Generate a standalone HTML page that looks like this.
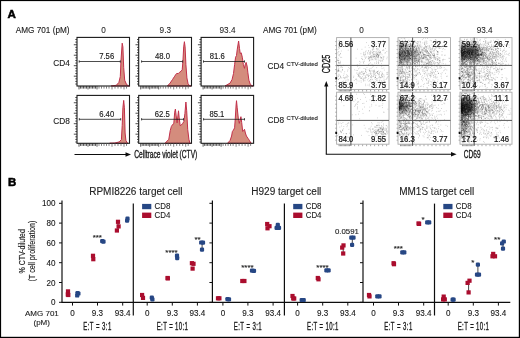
<!DOCTYPE html><html><head><meta charset="utf-8"><style>html,body{margin:0;padding:0;background:#fff;overflow:hidden}svg{display:block;font-family:"Liberation Sans",sans-serif}</style></head><body><svg width="520" height="338" viewBox="0 0 520 338" font-family="Liberation Sans, sans-serif"><defs><filter id="gb" x="0" y="0" width="100%" height="100%"><feGaussianBlur stdDeviation="0.3"/></filter></defs><g filter="url(#gb)"><rect width="520" height="338" fill="#fff"/><text x="7.5" y="17.5" font-size="11.6" text-anchor="start" fill="#000" font-weight="bold" stroke="#000" stroke-width="0.5" >A</text>
<text x="15.8" y="32.6" font-size="8.2" text-anchor="start" fill="#222" stroke="#222" stroke-width="0.12" >AMG 701 (pM)</text>
<text x="103.45" y="32.9" font-size="8.9" text-anchor="middle" fill="#1a1a1a" textLength="4.56" lengthAdjust="spacingAndGlyphs" stroke="#1a1a1a" stroke-width="0.05">0</text>
<text x="165.3" y="32.9" font-size="8.9" text-anchor="middle" fill="#1a1a1a" textLength="11.4" lengthAdjust="spacingAndGlyphs" stroke="#1a1a1a" stroke-width="0.05">9.3</text>
<text x="227.55" y="32.9" font-size="8.9" text-anchor="middle" fill="#1a1a1a" textLength="15.96" lengthAdjust="spacingAndGlyphs" stroke="#1a1a1a" stroke-width="0.05">93.4</text>
<text x="53.2" y="66.4" font-size="8.3" text-anchor="start" fill="#222" stroke="#222" stroke-width="0.12" >CD4</text>
<text x="53.2" y="124" font-size="8.3" text-anchor="start" fill="#222" stroke="#222" stroke-width="0.12" >CD8</text>
<path d="M111.1 86 L116.3 85.3 L118.9 82.4 L120.3 76.5 L121 60.2 L122.2 43.2 L122.9 46.9 L123.7 67.6 L124.7 80.2 L126.6 84.6 L128.6 85.8 L129.5 86Z" fill="#d48c7d" stroke="#c2304a" stroke-width="1" stroke-linejoin="round"/>
<rect x="77" y="37.4" width="52.5" height="48.6" fill="none" stroke="#1a1a1a" stroke-width="1.1"/>
<line x1="75.3" y1="39.5" x2="77" y2="39.5" stroke="#222" stroke-width="0.8"/>
<line x1="75.3" y1="42.12" x2="77" y2="42.12" stroke="#222" stroke-width="0.8"/>
<line x1="73.8" y1="44.74" x2="77" y2="44.74" stroke="#222" stroke-width="0.8"/>
<line x1="75.3" y1="47.36" x2="77" y2="47.36" stroke="#222" stroke-width="0.8"/>
<line x1="75.3" y1="49.98" x2="77" y2="49.98" stroke="#222" stroke-width="0.8"/>
<line x1="75.3" y1="52.6" x2="77" y2="52.6" stroke="#222" stroke-width="0.8"/>
<line x1="73.8" y1="55.22" x2="77" y2="55.22" stroke="#222" stroke-width="0.8"/>
<line x1="75.3" y1="57.84" x2="77" y2="57.84" stroke="#222" stroke-width="0.8"/>
<line x1="75.3" y1="60.46" x2="77" y2="60.46" stroke="#222" stroke-width="0.8"/>
<line x1="75.3" y1="63.08" x2="77" y2="63.08" stroke="#222" stroke-width="0.8"/>
<line x1="73.8" y1="65.7" x2="77" y2="65.7" stroke="#222" stroke-width="0.8"/>
<line x1="75.3" y1="68.32" x2="77" y2="68.32" stroke="#222" stroke-width="0.8"/>
<line x1="75.3" y1="70.94" x2="77" y2="70.94" stroke="#222" stroke-width="0.8"/>
<line x1="75.3" y1="73.56" x2="77" y2="73.56" stroke="#222" stroke-width="0.8"/>
<line x1="73.8" y1="76.18" x2="77" y2="76.18" stroke="#222" stroke-width="0.8"/>
<line x1="75.3" y1="78.8" x2="77" y2="78.8" stroke="#222" stroke-width="0.8"/>
<line x1="75.3" y1="81.42" x2="77" y2="81.42" stroke="#222" stroke-width="0.8"/>
<line x1="75.3" y1="84.04" x2="77" y2="84.04" stroke="#222" stroke-width="0.8"/>
<line x1="79" y1="86" x2="79" y2="89.4" stroke="#222" stroke-width="0.75"/>
<line x1="80.5" y1="86" x2="80.5" y2="88.6" stroke="#222" stroke-width="0.75"/>
<line x1="82" y1="86" x2="82" y2="88.6" stroke="#222" stroke-width="0.75"/>
<line x1="83.5" y1="86" x2="83.5" y2="88.6" stroke="#222" stroke-width="0.75"/>
<line x1="85" y1="86" x2="85" y2="88.6" stroke="#222" stroke-width="0.75"/>
<line x1="86.5" y1="86" x2="86.5" y2="88.6" stroke="#222" stroke-width="0.75"/>
<line x1="88" y1="86" x2="88" y2="89.4" stroke="#222" stroke-width="0.75"/>
<line x1="89.5" y1="86" x2="89.5" y2="88.6" stroke="#222" stroke-width="0.75"/>
<line x1="91" y1="86" x2="91" y2="88.6" stroke="#222" stroke-width="0.75"/>
<line x1="92.5" y1="86" x2="92.5" y2="88.6" stroke="#222" stroke-width="0.75"/>
<line x1="94" y1="86" x2="94" y2="88.6" stroke="#222" stroke-width="0.75"/>
<line x1="95.5" y1="86" x2="95.5" y2="88.6" stroke="#222" stroke-width="0.75"/>
<line x1="97" y1="86" x2="97" y2="89.4" stroke="#222" stroke-width="0.75"/>
<line x1="99" y1="86" x2="99" y2="88.6" stroke="#555" stroke-width="0.75"/>
<line x1="101.5" y1="86" x2="101.5" y2="88.6" stroke="#555" stroke-width="0.75"/>
<line x1="104" y1="86" x2="104" y2="88.6" stroke="#555" stroke-width="0.75"/>
<line x1="106.5" y1="86" x2="106.5" y2="88.6" stroke="#555" stroke-width="0.75"/>
<line x1="109" y1="86" x2="109" y2="88.6" stroke="#555" stroke-width="0.75"/>
<line x1="112" y1="86" x2="112" y2="89.4" stroke="#555" stroke-width="0.75"/>
<line x1="115" y1="86" x2="115" y2="88.6" stroke="#555" stroke-width="0.75"/>
<line x1="118" y1="86" x2="118" y2="88.6" stroke="#555" stroke-width="0.75"/>
<line x1="121" y1="86" x2="121" y2="88.6" stroke="#555" stroke-width="0.75"/>
<line x1="124" y1="86" x2="124" y2="89.4" stroke="#555" stroke-width="0.75"/>
<line x1="126.5" y1="86" x2="126.5" y2="88.6" stroke="#555" stroke-width="0.75"/>
<line x1="79.2" y1="61.5" x2="120.3" y2="61.5" stroke="#111" stroke-width="0.75"/>
<line x1="79.2" y1="60.4" x2="79.2" y2="62.6" stroke="#2a2a2a" stroke-width="0.9"/>
<line x1="120.3" y1="60.4" x2="120.3" y2="62.6" stroke="#2a2a2a" stroke-width="0.9"/>
<text x="106.7" y="58.9" font-size="8.7" text-anchor="middle" fill="#1a1a1a" textLength="14.98" lengthAdjust="spacingAndGlyphs" stroke="#1a1a1a" stroke-width="0.15">7.56</text>
<path d="M167.4 86 L170.1 83.1 L172.6 79.4 L174.3 76.8 L176 74.2 L177 73.2 L178 73.8 L179.5 72.3 L181 71.3 L182.2 69.8 L182.9 61.7 L183.7 46.9 L184.4 41.7 L185.1 46.9 L185.9 64.6 L186.9 77.9 L188.1 83.9 L189.6 85.6 L191 86Z" fill="#d48c7d" stroke="#c2304a" stroke-width="1" stroke-linejoin="round"/>
<rect x="138.7" y="37.4" width="52.8" height="48.6" fill="none" stroke="#1a1a1a" stroke-width="1.1"/>
<line x1="137" y1="39.5" x2="138.7" y2="39.5" stroke="#222" stroke-width="0.8"/>
<line x1="137" y1="42.12" x2="138.7" y2="42.12" stroke="#222" stroke-width="0.8"/>
<line x1="135.5" y1="44.74" x2="138.7" y2="44.74" stroke="#222" stroke-width="0.8"/>
<line x1="137" y1="47.36" x2="138.7" y2="47.36" stroke="#222" stroke-width="0.8"/>
<line x1="137" y1="49.98" x2="138.7" y2="49.98" stroke="#222" stroke-width="0.8"/>
<line x1="137" y1="52.6" x2="138.7" y2="52.6" stroke="#222" stroke-width="0.8"/>
<line x1="135.5" y1="55.22" x2="138.7" y2="55.22" stroke="#222" stroke-width="0.8"/>
<line x1="137" y1="57.84" x2="138.7" y2="57.84" stroke="#222" stroke-width="0.8"/>
<line x1="137" y1="60.46" x2="138.7" y2="60.46" stroke="#222" stroke-width="0.8"/>
<line x1="137" y1="63.08" x2="138.7" y2="63.08" stroke="#222" stroke-width="0.8"/>
<line x1="135.5" y1="65.7" x2="138.7" y2="65.7" stroke="#222" stroke-width="0.8"/>
<line x1="137" y1="68.32" x2="138.7" y2="68.32" stroke="#222" stroke-width="0.8"/>
<line x1="137" y1="70.94" x2="138.7" y2="70.94" stroke="#222" stroke-width="0.8"/>
<line x1="137" y1="73.56" x2="138.7" y2="73.56" stroke="#222" stroke-width="0.8"/>
<line x1="135.5" y1="76.18" x2="138.7" y2="76.18" stroke="#222" stroke-width="0.8"/>
<line x1="137" y1="78.8" x2="138.7" y2="78.8" stroke="#222" stroke-width="0.8"/>
<line x1="137" y1="81.42" x2="138.7" y2="81.42" stroke="#222" stroke-width="0.8"/>
<line x1="137" y1="84.04" x2="138.7" y2="84.04" stroke="#222" stroke-width="0.8"/>
<line x1="140.7" y1="86" x2="140.7" y2="89.4" stroke="#222" stroke-width="0.75"/>
<line x1="142.2" y1="86" x2="142.2" y2="88.6" stroke="#222" stroke-width="0.75"/>
<line x1="143.7" y1="86" x2="143.7" y2="88.6" stroke="#222" stroke-width="0.75"/>
<line x1="145.2" y1="86" x2="145.2" y2="88.6" stroke="#222" stroke-width="0.75"/>
<line x1="146.7" y1="86" x2="146.7" y2="88.6" stroke="#222" stroke-width="0.75"/>
<line x1="148.2" y1="86" x2="148.2" y2="88.6" stroke="#222" stroke-width="0.75"/>
<line x1="149.7" y1="86" x2="149.7" y2="89.4" stroke="#222" stroke-width="0.75"/>
<line x1="151.2" y1="86" x2="151.2" y2="88.6" stroke="#222" stroke-width="0.75"/>
<line x1="152.7" y1="86" x2="152.7" y2="88.6" stroke="#222" stroke-width="0.75"/>
<line x1="154.2" y1="86" x2="154.2" y2="88.6" stroke="#222" stroke-width="0.75"/>
<line x1="155.7" y1="86" x2="155.7" y2="88.6" stroke="#222" stroke-width="0.75"/>
<line x1="157.2" y1="86" x2="157.2" y2="88.6" stroke="#222" stroke-width="0.75"/>
<line x1="158.7" y1="86" x2="158.7" y2="89.4" stroke="#222" stroke-width="0.75"/>
<line x1="160.7" y1="86" x2="160.7" y2="88.6" stroke="#555" stroke-width="0.75"/>
<line x1="163.2" y1="86" x2="163.2" y2="88.6" stroke="#555" stroke-width="0.75"/>
<line x1="165.7" y1="86" x2="165.7" y2="88.6" stroke="#555" stroke-width="0.75"/>
<line x1="168.2" y1="86" x2="168.2" y2="88.6" stroke="#555" stroke-width="0.75"/>
<line x1="170.7" y1="86" x2="170.7" y2="88.6" stroke="#555" stroke-width="0.75"/>
<line x1="173.7" y1="86" x2="173.7" y2="89.4" stroke="#555" stroke-width="0.75"/>
<line x1="176.7" y1="86" x2="176.7" y2="88.6" stroke="#555" stroke-width="0.75"/>
<line x1="179.7" y1="86" x2="179.7" y2="88.6" stroke="#555" stroke-width="0.75"/>
<line x1="182.7" y1="86" x2="182.7" y2="88.6" stroke="#555" stroke-width="0.75"/>
<line x1="185.7" y1="86" x2="185.7" y2="89.4" stroke="#555" stroke-width="0.75"/>
<line x1="188.2" y1="86" x2="188.2" y2="88.6" stroke="#555" stroke-width="0.75"/>
<line x1="141.6" y1="61.5" x2="182.6" y2="61.5" stroke="#111" stroke-width="0.75"/>
<line x1="141.6" y1="60.4" x2="141.6" y2="62.6" stroke="#2a2a2a" stroke-width="0.9"/>
<line x1="182.6" y1="60.4" x2="182.6" y2="62.6" stroke="#2a2a2a" stroke-width="0.9"/>
<text x="162.5" y="58.9" font-size="8.7" text-anchor="middle" fill="#1a1a1a" textLength="14.98" lengthAdjust="spacingAndGlyphs" stroke="#1a1a1a" stroke-width="0.15">48.0</text>
<path d="M225 86 L230.1 83.1 L232.1 79.4 L233.5 73.5 L234.6 64.6 L235.6 57.2 L236.5 55.5 L237.2 49.8 L238.6 41 L239.5 48.4 L240.2 53.5 L241.2 52.8 L242.3 57.2 L243.4 64.6 L244.5 68.3 L245.4 63.9 L246.1 62.4 L247.1 66.1 L247.9 72.8 L248.9 80.2 L250.4 84.6 L252.3 85.8 L253 86Z" fill="#d48c7d" stroke="#c2304a" stroke-width="1" stroke-linejoin="round"/>
<rect x="201.1" y="37.4" width="52.5" height="48.6" fill="none" stroke="#1a1a1a" stroke-width="1.1"/>
<line x1="199.4" y1="39.5" x2="201.1" y2="39.5" stroke="#222" stroke-width="0.8"/>
<line x1="199.4" y1="42.12" x2="201.1" y2="42.12" stroke="#222" stroke-width="0.8"/>
<line x1="197.9" y1="44.74" x2="201.1" y2="44.74" stroke="#222" stroke-width="0.8"/>
<line x1="199.4" y1="47.36" x2="201.1" y2="47.36" stroke="#222" stroke-width="0.8"/>
<line x1="199.4" y1="49.98" x2="201.1" y2="49.98" stroke="#222" stroke-width="0.8"/>
<line x1="199.4" y1="52.6" x2="201.1" y2="52.6" stroke="#222" stroke-width="0.8"/>
<line x1="197.9" y1="55.22" x2="201.1" y2="55.22" stroke="#222" stroke-width="0.8"/>
<line x1="199.4" y1="57.84" x2="201.1" y2="57.84" stroke="#222" stroke-width="0.8"/>
<line x1="199.4" y1="60.46" x2="201.1" y2="60.46" stroke="#222" stroke-width="0.8"/>
<line x1="199.4" y1="63.08" x2="201.1" y2="63.08" stroke="#222" stroke-width="0.8"/>
<line x1="197.9" y1="65.7" x2="201.1" y2="65.7" stroke="#222" stroke-width="0.8"/>
<line x1="199.4" y1="68.32" x2="201.1" y2="68.32" stroke="#222" stroke-width="0.8"/>
<line x1="199.4" y1="70.94" x2="201.1" y2="70.94" stroke="#222" stroke-width="0.8"/>
<line x1="199.4" y1="73.56" x2="201.1" y2="73.56" stroke="#222" stroke-width="0.8"/>
<line x1="197.9" y1="76.18" x2="201.1" y2="76.18" stroke="#222" stroke-width="0.8"/>
<line x1="199.4" y1="78.8" x2="201.1" y2="78.8" stroke="#222" stroke-width="0.8"/>
<line x1="199.4" y1="81.42" x2="201.1" y2="81.42" stroke="#222" stroke-width="0.8"/>
<line x1="199.4" y1="84.04" x2="201.1" y2="84.04" stroke="#222" stroke-width="0.8"/>
<line x1="203.1" y1="86" x2="203.1" y2="89.4" stroke="#222" stroke-width="0.75"/>
<line x1="204.6" y1="86" x2="204.6" y2="88.6" stroke="#222" stroke-width="0.75"/>
<line x1="206.1" y1="86" x2="206.1" y2="88.6" stroke="#222" stroke-width="0.75"/>
<line x1="207.6" y1="86" x2="207.6" y2="88.6" stroke="#222" stroke-width="0.75"/>
<line x1="209.1" y1="86" x2="209.1" y2="88.6" stroke="#222" stroke-width="0.75"/>
<line x1="210.6" y1="86" x2="210.6" y2="88.6" stroke="#222" stroke-width="0.75"/>
<line x1="212.1" y1="86" x2="212.1" y2="89.4" stroke="#222" stroke-width="0.75"/>
<line x1="213.6" y1="86" x2="213.6" y2="88.6" stroke="#222" stroke-width="0.75"/>
<line x1="215.1" y1="86" x2="215.1" y2="88.6" stroke="#222" stroke-width="0.75"/>
<line x1="216.6" y1="86" x2="216.6" y2="88.6" stroke="#222" stroke-width="0.75"/>
<line x1="218.1" y1="86" x2="218.1" y2="88.6" stroke="#222" stroke-width="0.75"/>
<line x1="219.6" y1="86" x2="219.6" y2="88.6" stroke="#222" stroke-width="0.75"/>
<line x1="221.1" y1="86" x2="221.1" y2="89.4" stroke="#222" stroke-width="0.75"/>
<line x1="223.1" y1="86" x2="223.1" y2="88.6" stroke="#555" stroke-width="0.75"/>
<line x1="225.6" y1="86" x2="225.6" y2="88.6" stroke="#555" stroke-width="0.75"/>
<line x1="228.1" y1="86" x2="228.1" y2="88.6" stroke="#555" stroke-width="0.75"/>
<line x1="230.6" y1="86" x2="230.6" y2="88.6" stroke="#555" stroke-width="0.75"/>
<line x1="233.1" y1="86" x2="233.1" y2="88.6" stroke="#555" stroke-width="0.75"/>
<line x1="236.1" y1="86" x2="236.1" y2="89.4" stroke="#555" stroke-width="0.75"/>
<line x1="239.1" y1="86" x2="239.1" y2="88.6" stroke="#555" stroke-width="0.75"/>
<line x1="242.1" y1="86" x2="242.1" y2="88.6" stroke="#555" stroke-width="0.75"/>
<line x1="245.1" y1="86" x2="245.1" y2="88.6" stroke="#555" stroke-width="0.75"/>
<line x1="248.1" y1="86" x2="248.1" y2="89.4" stroke="#555" stroke-width="0.75"/>
<line x1="250.6" y1="86" x2="250.6" y2="88.6" stroke="#555" stroke-width="0.75"/>
<line x1="203.5" y1="61.5" x2="244.5" y2="61.5" stroke="#111" stroke-width="0.75"/>
<line x1="203.5" y1="60.4" x2="203.5" y2="62.6" stroke="#2a2a2a" stroke-width="0.9"/>
<line x1="244.5" y1="60.4" x2="244.5" y2="62.6" stroke="#2a2a2a" stroke-width="0.9"/>
<text x="217.2" y="58.9" font-size="8.7" text-anchor="middle" fill="#1a1a1a" textLength="14.98" lengthAdjust="spacingAndGlyphs" stroke="#1a1a1a" stroke-width="0.15">81.6</text>
<path d="M109.6 143.3 L114.8 143.1 L119.2 141.9 L121.4 139.6 L122.2 125.6 L122.9 107.8 L123.7 100.4 L124.4 107.8 L125.1 133 L125.9 140.4 L127.4 143.2 L128 143.3Z" fill="#d48c7d" stroke="#c2304a" stroke-width="1" stroke-linejoin="round"/>
<rect x="77" y="95.4" width="52.5" height="47.9" fill="none" stroke="#1a1a1a" stroke-width="1.1"/>
<line x1="75.3" y1="97.5" x2="77" y2="97.5" stroke="#222" stroke-width="0.8"/>
<line x1="75.3" y1="100.12" x2="77" y2="100.12" stroke="#222" stroke-width="0.8"/>
<line x1="73.8" y1="102.74" x2="77" y2="102.74" stroke="#222" stroke-width="0.8"/>
<line x1="75.3" y1="105.36" x2="77" y2="105.36" stroke="#222" stroke-width="0.8"/>
<line x1="75.3" y1="107.98" x2="77" y2="107.98" stroke="#222" stroke-width="0.8"/>
<line x1="75.3" y1="110.6" x2="77" y2="110.6" stroke="#222" stroke-width="0.8"/>
<line x1="73.8" y1="113.22" x2="77" y2="113.22" stroke="#222" stroke-width="0.8"/>
<line x1="75.3" y1="115.84" x2="77" y2="115.84" stroke="#222" stroke-width="0.8"/>
<line x1="75.3" y1="118.46" x2="77" y2="118.46" stroke="#222" stroke-width="0.8"/>
<line x1="75.3" y1="121.08" x2="77" y2="121.08" stroke="#222" stroke-width="0.8"/>
<line x1="73.8" y1="123.7" x2="77" y2="123.7" stroke="#222" stroke-width="0.8"/>
<line x1="75.3" y1="126.32" x2="77" y2="126.32" stroke="#222" stroke-width="0.8"/>
<line x1="75.3" y1="128.94" x2="77" y2="128.94" stroke="#222" stroke-width="0.8"/>
<line x1="75.3" y1="131.56" x2="77" y2="131.56" stroke="#222" stroke-width="0.8"/>
<line x1="73.8" y1="134.18" x2="77" y2="134.18" stroke="#222" stroke-width="0.8"/>
<line x1="75.3" y1="136.8" x2="77" y2="136.8" stroke="#222" stroke-width="0.8"/>
<line x1="75.3" y1="139.42" x2="77" y2="139.42" stroke="#222" stroke-width="0.8"/>
<line x1="75.3" y1="142.04" x2="77" y2="142.04" stroke="#222" stroke-width="0.8"/>
<line x1="79" y1="143.3" x2="79" y2="146.7" stroke="#222" stroke-width="0.75"/>
<line x1="80.5" y1="143.3" x2="80.5" y2="145.9" stroke="#222" stroke-width="0.75"/>
<line x1="82" y1="143.3" x2="82" y2="145.9" stroke="#222" stroke-width="0.75"/>
<line x1="83.5" y1="143.3" x2="83.5" y2="145.9" stroke="#222" stroke-width="0.75"/>
<line x1="85" y1="143.3" x2="85" y2="145.9" stroke="#222" stroke-width="0.75"/>
<line x1="86.5" y1="143.3" x2="86.5" y2="145.9" stroke="#222" stroke-width="0.75"/>
<line x1="88" y1="143.3" x2="88" y2="146.7" stroke="#222" stroke-width="0.75"/>
<line x1="89.5" y1="143.3" x2="89.5" y2="145.9" stroke="#222" stroke-width="0.75"/>
<line x1="91" y1="143.3" x2="91" y2="145.9" stroke="#222" stroke-width="0.75"/>
<line x1="92.5" y1="143.3" x2="92.5" y2="145.9" stroke="#222" stroke-width="0.75"/>
<line x1="94" y1="143.3" x2="94" y2="145.9" stroke="#222" stroke-width="0.75"/>
<line x1="95.5" y1="143.3" x2="95.5" y2="145.9" stroke="#222" stroke-width="0.75"/>
<line x1="97" y1="143.3" x2="97" y2="146.7" stroke="#222" stroke-width="0.75"/>
<line x1="99" y1="143.3" x2="99" y2="145.9" stroke="#555" stroke-width="0.75"/>
<line x1="101.5" y1="143.3" x2="101.5" y2="145.9" stroke="#555" stroke-width="0.75"/>
<line x1="104" y1="143.3" x2="104" y2="145.9" stroke="#555" stroke-width="0.75"/>
<line x1="106.5" y1="143.3" x2="106.5" y2="145.9" stroke="#555" stroke-width="0.75"/>
<line x1="109" y1="143.3" x2="109" y2="145.9" stroke="#555" stroke-width="0.75"/>
<line x1="112" y1="143.3" x2="112" y2="146.7" stroke="#555" stroke-width="0.75"/>
<line x1="115" y1="143.3" x2="115" y2="145.9" stroke="#555" stroke-width="0.75"/>
<line x1="118" y1="143.3" x2="118" y2="145.9" stroke="#555" stroke-width="0.75"/>
<line x1="121" y1="143.3" x2="121" y2="145.9" stroke="#555" stroke-width="0.75"/>
<line x1="124" y1="143.3" x2="124" y2="146.7" stroke="#555" stroke-width="0.75"/>
<line x1="126.5" y1="143.3" x2="126.5" y2="145.9" stroke="#555" stroke-width="0.75"/>
<line x1="79.3" y1="119.3" x2="120.7" y2="119.3" stroke="#111" stroke-width="0.75"/>
<line x1="79.3" y1="118.2" x2="79.3" y2="120.4" stroke="#2a2a2a" stroke-width="0.9"/>
<line x1="120.7" y1="118.2" x2="120.7" y2="120.4" stroke="#2a2a2a" stroke-width="0.9"/>
<text x="106.7" y="116.7" font-size="8.7" text-anchor="middle" fill="#1a1a1a" textLength="14.98" lengthAdjust="spacingAndGlyphs" stroke="#1a1a1a" stroke-width="0.15">6.40</text>
<path d="M165 143.3 L168.8 139.3 L170.2 130.7 L171.4 126.4 L172.8 124.3 L173.8 123.6 L174.7 112.2 L175.4 109.1 L176.1 115.1 L177.1 122.9 L178.5 110.8 L179.2 117.9 L180.2 125.7 L181.3 125 L182.8 123.3 L183.9 121.5 L184.9 113.6 L185.9 102 L186.7 110.8 L187.7 129.3 L188.9 139.3 L189.9 143.2 L190.5 143.3Z" fill="#d48c7d" stroke="#c2304a" stroke-width="1" stroke-linejoin="round"/>
<rect x="138.7" y="95.4" width="52.8" height="47.9" fill="none" stroke="#1a1a1a" stroke-width="1.1"/>
<line x1="137" y1="97.5" x2="138.7" y2="97.5" stroke="#222" stroke-width="0.8"/>
<line x1="137" y1="100.12" x2="138.7" y2="100.12" stroke="#222" stroke-width="0.8"/>
<line x1="135.5" y1="102.74" x2="138.7" y2="102.74" stroke="#222" stroke-width="0.8"/>
<line x1="137" y1="105.36" x2="138.7" y2="105.36" stroke="#222" stroke-width="0.8"/>
<line x1="137" y1="107.98" x2="138.7" y2="107.98" stroke="#222" stroke-width="0.8"/>
<line x1="137" y1="110.6" x2="138.7" y2="110.6" stroke="#222" stroke-width="0.8"/>
<line x1="135.5" y1="113.22" x2="138.7" y2="113.22" stroke="#222" stroke-width="0.8"/>
<line x1="137" y1="115.84" x2="138.7" y2="115.84" stroke="#222" stroke-width="0.8"/>
<line x1="137" y1="118.46" x2="138.7" y2="118.46" stroke="#222" stroke-width="0.8"/>
<line x1="137" y1="121.08" x2="138.7" y2="121.08" stroke="#222" stroke-width="0.8"/>
<line x1="135.5" y1="123.7" x2="138.7" y2="123.7" stroke="#222" stroke-width="0.8"/>
<line x1="137" y1="126.32" x2="138.7" y2="126.32" stroke="#222" stroke-width="0.8"/>
<line x1="137" y1="128.94" x2="138.7" y2="128.94" stroke="#222" stroke-width="0.8"/>
<line x1="137" y1="131.56" x2="138.7" y2="131.56" stroke="#222" stroke-width="0.8"/>
<line x1="135.5" y1="134.18" x2="138.7" y2="134.18" stroke="#222" stroke-width="0.8"/>
<line x1="137" y1="136.8" x2="138.7" y2="136.8" stroke="#222" stroke-width="0.8"/>
<line x1="137" y1="139.42" x2="138.7" y2="139.42" stroke="#222" stroke-width="0.8"/>
<line x1="137" y1="142.04" x2="138.7" y2="142.04" stroke="#222" stroke-width="0.8"/>
<line x1="140.7" y1="143.3" x2="140.7" y2="146.7" stroke="#222" stroke-width="0.75"/>
<line x1="142.2" y1="143.3" x2="142.2" y2="145.9" stroke="#222" stroke-width="0.75"/>
<line x1="143.7" y1="143.3" x2="143.7" y2="145.9" stroke="#222" stroke-width="0.75"/>
<line x1="145.2" y1="143.3" x2="145.2" y2="145.9" stroke="#222" stroke-width="0.75"/>
<line x1="146.7" y1="143.3" x2="146.7" y2="145.9" stroke="#222" stroke-width="0.75"/>
<line x1="148.2" y1="143.3" x2="148.2" y2="145.9" stroke="#222" stroke-width="0.75"/>
<line x1="149.7" y1="143.3" x2="149.7" y2="146.7" stroke="#222" stroke-width="0.75"/>
<line x1="151.2" y1="143.3" x2="151.2" y2="145.9" stroke="#222" stroke-width="0.75"/>
<line x1="152.7" y1="143.3" x2="152.7" y2="145.9" stroke="#222" stroke-width="0.75"/>
<line x1="154.2" y1="143.3" x2="154.2" y2="145.9" stroke="#222" stroke-width="0.75"/>
<line x1="155.7" y1="143.3" x2="155.7" y2="145.9" stroke="#222" stroke-width="0.75"/>
<line x1="157.2" y1="143.3" x2="157.2" y2="145.9" stroke="#222" stroke-width="0.75"/>
<line x1="158.7" y1="143.3" x2="158.7" y2="146.7" stroke="#222" stroke-width="0.75"/>
<line x1="160.7" y1="143.3" x2="160.7" y2="145.9" stroke="#555" stroke-width="0.75"/>
<line x1="163.2" y1="143.3" x2="163.2" y2="145.9" stroke="#555" stroke-width="0.75"/>
<line x1="165.7" y1="143.3" x2="165.7" y2="145.9" stroke="#555" stroke-width="0.75"/>
<line x1="168.2" y1="143.3" x2="168.2" y2="145.9" stroke="#555" stroke-width="0.75"/>
<line x1="170.7" y1="143.3" x2="170.7" y2="145.9" stroke="#555" stroke-width="0.75"/>
<line x1="173.7" y1="143.3" x2="173.7" y2="146.7" stroke="#555" stroke-width="0.75"/>
<line x1="176.7" y1="143.3" x2="176.7" y2="145.9" stroke="#555" stroke-width="0.75"/>
<line x1="179.7" y1="143.3" x2="179.7" y2="145.9" stroke="#555" stroke-width="0.75"/>
<line x1="182.7" y1="143.3" x2="182.7" y2="145.9" stroke="#555" stroke-width="0.75"/>
<line x1="185.7" y1="143.3" x2="185.7" y2="146.7" stroke="#555" stroke-width="0.75"/>
<line x1="188.2" y1="143.3" x2="188.2" y2="145.9" stroke="#555" stroke-width="0.75"/>
<line x1="141.6" y1="119.3" x2="183.5" y2="119.3" stroke="#111" stroke-width="0.75"/>
<line x1="141.6" y1="118.2" x2="141.6" y2="120.4" stroke="#2a2a2a" stroke-width="0.9"/>
<line x1="183.5" y1="118.2" x2="183.5" y2="120.4" stroke="#2a2a2a" stroke-width="0.9"/>
<text x="162.3" y="116.7" font-size="8.7" text-anchor="middle" fill="#1a1a1a" textLength="14.98" lengthAdjust="spacingAndGlyphs" stroke="#1a1a1a" stroke-width="0.15">62.5</text>
<path d="M227.6 143.3 L230.1 140.4 L231.6 136 L232.4 131.5 L233.5 130 L234.6 127.8 L235.3 118.2 L236.1 104.9 L236.5 100.7 L237.2 107.8 L238.3 118.2 L239.3 123.4 L240.2 119.7 L240.9 116.7 L241.7 122.6 L242.7 131.5 L243.7 130.3 L244.5 129.3 L245.4 133 L246.4 136 L247.9 138.2 L249.4 140.4 L250.8 143 L251.5 143.3Z" fill="#d48c7d" stroke="#c2304a" stroke-width="1" stroke-linejoin="round"/>
<rect x="201.1" y="95.4" width="52.5" height="47.9" fill="none" stroke="#1a1a1a" stroke-width="1.1"/>
<line x1="199.4" y1="97.5" x2="201.1" y2="97.5" stroke="#222" stroke-width="0.8"/>
<line x1="199.4" y1="100.12" x2="201.1" y2="100.12" stroke="#222" stroke-width="0.8"/>
<line x1="197.9" y1="102.74" x2="201.1" y2="102.74" stroke="#222" stroke-width="0.8"/>
<line x1="199.4" y1="105.36" x2="201.1" y2="105.36" stroke="#222" stroke-width="0.8"/>
<line x1="199.4" y1="107.98" x2="201.1" y2="107.98" stroke="#222" stroke-width="0.8"/>
<line x1="199.4" y1="110.6" x2="201.1" y2="110.6" stroke="#222" stroke-width="0.8"/>
<line x1="197.9" y1="113.22" x2="201.1" y2="113.22" stroke="#222" stroke-width="0.8"/>
<line x1="199.4" y1="115.84" x2="201.1" y2="115.84" stroke="#222" stroke-width="0.8"/>
<line x1="199.4" y1="118.46" x2="201.1" y2="118.46" stroke="#222" stroke-width="0.8"/>
<line x1="199.4" y1="121.08" x2="201.1" y2="121.08" stroke="#222" stroke-width="0.8"/>
<line x1="197.9" y1="123.7" x2="201.1" y2="123.7" stroke="#222" stroke-width="0.8"/>
<line x1="199.4" y1="126.32" x2="201.1" y2="126.32" stroke="#222" stroke-width="0.8"/>
<line x1="199.4" y1="128.94" x2="201.1" y2="128.94" stroke="#222" stroke-width="0.8"/>
<line x1="199.4" y1="131.56" x2="201.1" y2="131.56" stroke="#222" stroke-width="0.8"/>
<line x1="197.9" y1="134.18" x2="201.1" y2="134.18" stroke="#222" stroke-width="0.8"/>
<line x1="199.4" y1="136.8" x2="201.1" y2="136.8" stroke="#222" stroke-width="0.8"/>
<line x1="199.4" y1="139.42" x2="201.1" y2="139.42" stroke="#222" stroke-width="0.8"/>
<line x1="199.4" y1="142.04" x2="201.1" y2="142.04" stroke="#222" stroke-width="0.8"/>
<line x1="203.1" y1="143.3" x2="203.1" y2="146.7" stroke="#222" stroke-width="0.75"/>
<line x1="204.6" y1="143.3" x2="204.6" y2="145.9" stroke="#222" stroke-width="0.75"/>
<line x1="206.1" y1="143.3" x2="206.1" y2="145.9" stroke="#222" stroke-width="0.75"/>
<line x1="207.6" y1="143.3" x2="207.6" y2="145.9" stroke="#222" stroke-width="0.75"/>
<line x1="209.1" y1="143.3" x2="209.1" y2="145.9" stroke="#222" stroke-width="0.75"/>
<line x1="210.6" y1="143.3" x2="210.6" y2="145.9" stroke="#222" stroke-width="0.75"/>
<line x1="212.1" y1="143.3" x2="212.1" y2="146.7" stroke="#222" stroke-width="0.75"/>
<line x1="213.6" y1="143.3" x2="213.6" y2="145.9" stroke="#222" stroke-width="0.75"/>
<line x1="215.1" y1="143.3" x2="215.1" y2="145.9" stroke="#222" stroke-width="0.75"/>
<line x1="216.6" y1="143.3" x2="216.6" y2="145.9" stroke="#222" stroke-width="0.75"/>
<line x1="218.1" y1="143.3" x2="218.1" y2="145.9" stroke="#222" stroke-width="0.75"/>
<line x1="219.6" y1="143.3" x2="219.6" y2="145.9" stroke="#222" stroke-width="0.75"/>
<line x1="221.1" y1="143.3" x2="221.1" y2="146.7" stroke="#222" stroke-width="0.75"/>
<line x1="223.1" y1="143.3" x2="223.1" y2="145.9" stroke="#555" stroke-width="0.75"/>
<line x1="225.6" y1="143.3" x2="225.6" y2="145.9" stroke="#555" stroke-width="0.75"/>
<line x1="228.1" y1="143.3" x2="228.1" y2="145.9" stroke="#555" stroke-width="0.75"/>
<line x1="230.6" y1="143.3" x2="230.6" y2="145.9" stroke="#555" stroke-width="0.75"/>
<line x1="233.1" y1="143.3" x2="233.1" y2="145.9" stroke="#555" stroke-width="0.75"/>
<line x1="236.1" y1="143.3" x2="236.1" y2="146.7" stroke="#555" stroke-width="0.75"/>
<line x1="239.1" y1="143.3" x2="239.1" y2="145.9" stroke="#555" stroke-width="0.75"/>
<line x1="242.1" y1="143.3" x2="242.1" y2="145.9" stroke="#555" stroke-width="0.75"/>
<line x1="245.1" y1="143.3" x2="245.1" y2="145.9" stroke="#555" stroke-width="0.75"/>
<line x1="248.1" y1="143.3" x2="248.1" y2="146.7" stroke="#555" stroke-width="0.75"/>
<line x1="250.6" y1="143.3" x2="250.6" y2="145.9" stroke="#555" stroke-width="0.75"/>
<line x1="203.6" y1="119.3" x2="244.5" y2="119.3" stroke="#111" stroke-width="0.75"/>
<line x1="203.6" y1="118.2" x2="203.6" y2="120.4" stroke="#2a2a2a" stroke-width="0.9"/>
<line x1="244.5" y1="118.2" x2="244.5" y2="120.4" stroke="#2a2a2a" stroke-width="0.9"/>
<text x="216.9" y="116.7" font-size="8.7" text-anchor="middle" fill="#1a1a1a" textLength="14.98" lengthAdjust="spacingAndGlyphs" stroke="#1a1a1a" stroke-width="0.15">85.1</text>
<line x1="74.5" y1="154.5" x2="127.5" y2="154.5" stroke="#111" stroke-width="1.1"/>
<path d="M131 154.5 L125.5 152.3 L125.5 156.7 Z" fill="#111"/>
<text x="134.3" y="157.7" font-size="10.0" text-anchor="start" fill="#1a1a1a" textLength="63" lengthAdjust="spacingAndGlyphs" stroke="#1a1a1a" stroke-width="0.35">Celltrace violet (CTV)</text>
<text x="263" y="32.7" font-size="8.2" text-anchor="start" fill="#222" stroke="#222" stroke-width="0.12" >AMG 701 (pM)</text>
<text x="361.5" y="32.9" font-size="8.9" text-anchor="middle" fill="#1a1a1a" textLength="4.56" lengthAdjust="spacingAndGlyphs" stroke="#1a1a1a" stroke-width="0.05">0</text>
<text x="422.95" y="32.9" font-size="8.9" text-anchor="middle" fill="#1a1a1a" textLength="11.4" lengthAdjust="spacingAndGlyphs" stroke="#1a1a1a" stroke-width="0.05">9.3</text>
<text x="484.7" y="32.9" font-size="8.9" text-anchor="middle" fill="#1a1a1a" textLength="15.96" lengthAdjust="spacingAndGlyphs" stroke="#1a1a1a" stroke-width="0.05">93.4</text>
<text x="267.6" y="68.7" font-size="8.3" text-anchor="start" fill="#222" stroke="#222" stroke-width="0.12" >CD4</text>
<text x="286.6" y="65.6" font-size="6.0" text-anchor="start" fill="#222" stroke="#222" stroke-width="0.12" >CTV-diluted</text>
<text x="267.6" y="123.4" font-size="8.3" text-anchor="start" fill="#222" stroke="#222" stroke-width="0.12" >CD8</text>
<text x="286.6" y="120.2" font-size="6.0" text-anchor="start" fill="#222" stroke="#222" stroke-width="0.12" >CTV-diluted</text>
<defs><filter id="bl" x="-5%" y="-5%" width="110%" height="110%"><feGaussianBlur stdDeviation="0.3"/></filter></defs><g filter="url(#bl)">
<path d="M374.2 58.2h0.7M385.0 52.7h0.7M367.9 59.1h0.7M380.3 57.9h0.7M376.4 59.7h0.7M383.7 56.8h0.7M372.2 58.0h0.7M381.6 60.9h0.7M367.0 52.6h0.7M361.6 49.3h0.7M376.7 54.8h0.7M377.7 55.6h0.7M371.6 59.5h0.7M369.9 51.0h0.7M366.1 42.6h0.7M369.5 59.8h0.7M375.2 57.5h0.7M374.7 56.3h0.7M368.9 52.5h0.7M374.1 54.8h0.7M375.8 52.9h0.7M373.1 74.1h0.7M376.4 67.7h0.7M384.1 80.1h0.7M377.1 71.6h0.7M365.4 78.7h0.7M372.8 73.2h0.7M381.5 76.4h0.7M378.6 77.3h0.7M379.1 82.0h0.7M365.0 71.8h0.7M363.6 75.3h0.7M377.2 73.3h0.7M372.4 82.4h0.7M376.3 72.4h0.7M370.4 71.2h0.7M378.9 80.7h0.7M374.3 74.5h0.7M377.5 73.2h0.7M370.5 74.1h0.7M363.7 73.4h0.7M341.9 70.5h0.7M337.5 65.7h0.7M339.1 40.3h0.7M338.5 70.7h0.7M338.3 76.3h0.7M340.8 66.1h0.7M351.4 83.0h0.7M346.2 77.2h0.7M340.0 87.4h0.7M344.2 78.1h0.7M343.2 65.3h0.7M387.8 76.5h0.7M365.2 54.4h0.7M365.2 58.5h0.7M353.5 76.2h0.7M407.7 51.8h0.7M406.5 55.9h0.7M405.4 54.0h0.7M410.0 48.2h0.7M411.7 59.6h0.7M404.8 59.1h0.7M401.8 51.2h0.7M409.6 48.0h0.7M399.1 49.9h0.7M406.5 65.0h0.7M405.9 61.6h0.7M405.6 55.7h0.7M402.4 40.3h0.7M406.0 56.0h0.7M419.9 58.0h0.7M402.1 65.8h0.7M413.4 47.2h0.7M404.8 51.6h0.7M401.6 55.2h0.7M400.6 53.2h0.7M406.7 58.0h0.7M417.8 49.6h0.7M399.5 54.4h0.7M415.5 52.0h0.7M405.8 53.9h0.7M398.9 58.8h0.7M399.4 61.6h0.7M402.0 47.8h0.7M412.4 65.6h0.7M410.3 66.2h0.7M416.6 55.7h0.7M399.2 48.8h0.7M399.4 53.2h0.7M399.2 54.6h0.7M405.7 56.7h0.7M402.2 62.5h0.7M405.7 48.5h0.7M405.0 49.7h0.7M412.4 47.1h0.7M400.3 56.1h0.7M409.7 49.7h0.7M404.0 59.4h0.7M405.5 56.4h0.7M417.0 43.3h0.7M414.7 46.5h0.7M400.7 62.8h0.7M408.9 54.4h0.7M412.4 61.9h0.7M411.3 53.6h0.7M409.8 57.9h0.7M417.0 52.1h0.7M407.5 54.9h0.7M416.0 46.3h0.7M405.4 52.9h0.7M398.8 52.7h0.7M409.3 53.5h0.7M402.9 55.5h0.7M403.0 44.7h0.7M404.9 53.0h0.7M400.1 59.8h0.7M417.3 52.5h0.7M415.3 66.1h0.7M407.5 60.8h0.7M408.4 61.4h0.7M402.7 42.5h0.7M403.8 55.0h0.7M399.6 55.0h0.7M403.5 48.0h0.7M405.1 57.3h0.7M399.9 59.0h0.7M413.7 56.7h0.7M411.7 49.3h0.7M413.8 57.0h0.7M409.4 53.6h0.7M406.3 61.4h0.7M413.9 59.0h0.7M418.7 56.9h0.7M402.6 58.0h0.7M400.8 38.5h0.7M398.8 53.9h0.7M409.5 58.8h0.7M410.5 47.7h0.7M422.5 55.4h0.7M408.8 52.3h0.7M400.0 52.1h0.7M399.9 57.2h0.7M406.9 59.7h0.7M401.9 48.8h0.7M418.9 59.3h0.7M408.6 53.0h0.7M398.7 58.5h0.7M398.6 53.9h0.7M400.2 51.0h0.7M399.0 49.6h0.7M400.2 51.9h0.7M415.2 63.4h0.7M408.5 52.8h0.7M416.5 59.8h0.7M403.3 46.9h0.7M403.9 51.3h0.7M404.0 61.2h0.7M405.8 48.0h0.7M408.9 49.7h0.7M401.1 62.5h0.7M408.4 49.0h0.7M402.4 52.0h0.7M409.6 62.4h0.7M401.0 46.2h0.7M403.5 56.7h0.7M406.5 50.4h0.7M414.1 49.2h0.7M404.4 54.3h0.7M409.3 55.5h0.7M416.6 50.7h0.7M398.9 62.7h0.7M402.6 54.3h0.7M411.4 58.7h0.7M401.6 55.8h0.7M408.9 50.0h0.7M407.3 61.1h0.7M412.8 50.0h0.7M398.9 45.5h0.7M418.0 54.0h0.7M399.3 62.2h0.7M402.8 55.9h0.7M411.9 61.9h0.7M409.7 43.4h0.7M404.3 52.6h0.7M412.1 58.7h0.7M399.3 46.2h0.7M411.9 50.3h0.7M400.0 54.9h0.7M403.1 51.5h0.7M400.1 55.8h0.7M405.9 59.2h0.7M405.7 53.2h0.7M405.5 48.2h0.7M402.1 54.2h0.7M417.5 66.3h0.7M405.7 58.1h0.7M404.9 40.5h0.7M405.8 50.9h0.7M401.3 63.2h0.7M406.3 47.5h0.7M406.6 64.4h0.7M408.3 52.4h0.7M413.5 50.0h0.7M416.7 60.2h0.7M419.5 52.1h0.7M404.3 38.5h0.7M407.2 60.3h0.7M414.0 50.7h0.7M412.5 46.8h0.7M406.1 45.4h0.7M402.6 54.2h0.7M402.8 54.7h0.7M402.7 53.6h0.7M406.7 45.3h0.7M411.3 57.5h0.7M407.5 55.5h0.7M415.8 60.8h0.7M415.4 53.2h0.7M400.3 43.9h0.7M400.7 46.4h0.7M401.5 62.3h0.7M411.1 58.7h0.7M398.9 44.0h0.7M420.3 51.8h0.7M409.5 53.7h0.7M423.0 62.9h0.7M426.6 59.0h0.7M421.1 62.1h0.7M427.1 51.1h0.7M433.3 55.7h0.7M425.8 60.1h0.7M420.4 68.7h0.7M409.9 62.7h0.7M427.9 60.6h0.7M407.9 54.7h0.7M426.2 46.8h0.7M422.7 78.8h0.7M427.7 63.6h0.7M427.9 54.7h0.7M421.2 55.6h0.7M431.2 76.0h0.7M418.5 43.0h0.7M422.2 71.1h0.7M413.2 43.9h0.7M425.2 62.4h0.7M411.4 54.6h0.7M417.0 62.9h0.7M425.1 58.9h0.7M415.6 70.5h0.7M424.7 64.4h0.7M412.6 55.8h0.7M437.5 54.4h0.7M412.3 55.8h0.7M437.9 58.0h0.7M420.1 74.4h0.7M443.4 70.8h0.7M418.9 58.4h0.7M426.5 59.0h0.7M426.4 50.9h0.7M415.5 49.6h0.7M426.6 50.6h0.7M435.9 47.0h0.7M442.7 59.9h0.7M425.7 68.3h0.7M412.7 46.8h0.7M406.4 46.5h0.7M428.5 64.2h0.7M406.5 78.2h0.7M441.7 54.9h0.7M434.7 58.7h0.7M439.9 61.8h0.7M422.0 61.5h0.7M434.1 49.2h0.7M422.5 42.9h0.7M418.4 48.4h0.7M429.0 62.7h0.7M409.6 54.3h0.7M425.1 67.6h0.7M441.1 67.8h0.7M430.4 62.8h0.7M425.8 58.0h0.7M416.3 56.2h0.7M426.0 63.4h0.7M417.8 47.6h0.7M421.3 56.6h0.7M422.0 49.4h0.7M440.2 68.2h0.7M412.9 52.6h0.7M409.0 74.8h0.7M408.1 72.8h0.7M408.9 66.7h0.7M403.0 81.9h0.7M401.3 72.1h0.7M410.6 84.1h0.7M402.8 65.1h0.7M405.4 69.0h0.7M399.8 79.5h0.7M400.0 78.7h0.7M398.9 53.6h0.7M406.0 71.0h0.7M407.4 79.1h0.7M411.4 79.8h0.7M402.1 79.1h0.7M416.3 75.2h0.7M402.6 83.0h0.7M409.8 63.3h0.7M402.8 76.9h0.7M402.6 82.7h0.7M404.0 65.2h0.7M400.0 80.3h0.7M410.8 70.5h0.7M404.9 82.5h0.7M427.8 78.5h0.7M422.8 77.5h0.7M421.8 69.8h0.7M426.7 70.5h0.7M418.5 73.9h0.7M434.7 81.2h0.7M423.5 70.2h0.7M421.3 79.3h0.7M424.6 73.7h0.7M431.7 72.9h0.7M417.1 73.1h0.7M414.5 75.6h0.7M429.8 75.8h0.7M435.8 83.7h0.7M465.3 53.9h0.7M463.4 45.2h0.7M473.8 48.8h0.7M461.0 48.3h0.7M470.5 46.7h0.7M475.8 61.7h0.7M477.0 48.2h0.7M470.7 49.4h0.7M477.5 50.9h0.7M468.6 53.3h0.7M462.8 54.8h0.7M469.5 52.8h0.7M483.4 56.7h0.7M477.5 54.8h0.7M467.1 53.3h0.7M464.9 55.7h0.7M468.9 47.5h0.7M472.8 49.2h0.7M474.9 53.6h0.7M469.4 53.9h0.7M484.0 54.7h0.7M461.8 50.6h0.7M461.3 50.2h0.7M478.4 55.6h0.7M472.3 59.8h0.7M464.1 47.8h0.7M485.6 38.6h0.7M468.8 54.2h0.7M461.0 48.5h0.7M470.2 50.9h0.7M471.9 44.0h0.7M468.9 53.6h0.7M468.6 48.5h0.7M473.4 62.6h0.7M474.8 49.1h0.7M463.6 53.4h0.7M463.3 51.8h0.7M479.0 57.6h0.7M471.5 41.1h0.7M480.6 55.5h0.7M462.9 55.5h0.7M462.2 40.6h0.7M463.7 52.5h0.7M469.8 44.9h0.7M470.3 54.3h0.7M463.0 56.2h0.7M463.2 55.9h0.7M480.8 55.6h0.7M474.5 54.3h0.7M463.3 47.5h0.7M470.6 55.6h0.7M471.5 50.0h0.7M469.9 56.1h0.7M471.8 57.8h0.7M464.4 51.9h0.7M461.7 52.4h0.7M474.9 55.7h0.7M478.0 54.6h0.7M461.4 54.3h0.7M471.1 59.2h0.7M466.7 52.5h0.7M471.0 58.0h0.7M467.5 46.9h0.7M471.9 54.3h0.7M481.2 58.4h0.7M462.4 54.1h0.7M464.9 56.0h0.7M485.5 60.4h0.7M473.4 56.5h0.7M480.2 51.0h0.7M466.3 52.8h0.7M467.4 51.0h0.7M474.8 49.8h0.7M465.2 52.1h0.7M462.4 42.7h0.7M471.8 59.7h0.7M463.9 55.0h0.7M471.7 47.9h0.7M478.1 50.3h0.7M476.5 54.7h0.7M462.9 55.6h0.7M466.9 49.6h0.7M470.1 46.8h0.7M468.5 52.1h0.7M476.7 45.1h0.7M464.9 56.4h0.7M462.7 55.0h0.7M472.3 48.8h0.7M465.6 61.2h0.7M464.1 53.8h0.7M462.6 54.1h0.7M471.0 53.5h0.7M471.9 53.2h0.7M482.7 49.8h0.7M464.2 43.7h0.7M461.3 53.0h0.7M466.1 59.2h0.7M469.6 52.4h0.7M464.4 50.0h0.7M462.9 55.0h0.7M469.4 59.3h0.7M461.7 59.1h0.7M470.5 57.4h0.7M470.2 60.2h0.7M463.0 51.2h0.7M466.5 52.7h0.7M462.1 48.8h0.7M464.0 39.2h0.7M464.0 47.6h0.7M470.2 56.0h0.7M472.6 58.0h0.7M462.1 57.7h0.7M463.6 54.0h0.7M469.9 42.2h0.7M466.1 56.3h0.7M462.8 53.0h0.7M466.5 56.8h0.7M477.4 47.8h0.7M464.8 48.1h0.7M464.6 57.2h0.7M478.1 49.1h0.7M468.1 60.8h0.7M464.9 51.6h0.7M464.3 52.2h0.7M466.1 61.7h0.7M478.8 54.5h0.7M473.3 49.3h0.7M465.4 58.1h0.7M478.0 49.1h0.7M472.8 56.1h0.7M461.2 51.8h0.7M465.0 56.0h0.7M475.7 51.0h0.7M465.2 49.8h0.7M460.6 50.7h0.7M464.9 54.6h0.7M481.6 52.3h0.7M463.6 56.9h0.7M475.9 50.7h0.7M469.1 57.0h0.7M461.5 46.6h0.7M460.7 52.6h0.7M476.7 57.6h0.7M463.1 52.5h0.7M471.2 51.3h0.7M461.9 60.2h0.7M471.7 47.3h0.7M470.0 47.0h0.7M463.8 59.1h0.7M475.6 49.5h0.7M467.3 47.9h0.7M483.7 54.5h0.7M468.4 51.6h0.7M465.9 51.9h0.7M477.6 53.2h0.7M470.8 52.5h0.7M463.9 52.5h0.7M466.6 51.0h0.7M473.0 53.0h0.7M461.8 48.3h0.7M470.4 44.9h0.7M472.8 54.3h0.7M479.7 55.3h0.7M468.7 54.2h0.7M471.9 50.1h0.7M465.2 53.6h0.7M477.4 55.6h0.7M468.4 51.2h0.7M470.6 51.4h0.7M461.5 61.3h0.7M461.3 59.5h0.7M464.5 54.8h0.7M471.2 57.5h0.7M461.0 57.2h0.7M473.9 51.7h0.7M470.6 49.0h0.7M470.8 60.1h0.7M464.7 51.7h0.7M469.6 45.4h0.7M462.0 55.7h0.7M460.6 51.6h0.7M462.2 47.8h0.7M475.7 50.2h0.7M472.7 48.5h0.7M469.9 50.2h0.7M476.7 46.4h0.7M464.8 64.5h0.7M466.2 43.8h0.7M467.0 42.1h0.7M472.0 53.2h0.7M467.4 45.5h0.7M470.7 50.6h0.7M475.5 56.5h0.7M469.3 49.5h0.7M465.5 49.8h0.7M474.8 53.2h0.7M462.4 53.7h0.7M477.0 59.1h0.7M476.2 55.4h0.7M474.7 52.2h0.7M460.9 58.1h0.7M477.6 50.7h0.7M463.6 49.7h0.7M472.5 61.1h0.7M474.2 58.9h0.7M468.7 53.1h0.7M485.2 62.8h0.7M473.9 49.5h0.7M479.1 48.9h0.7M465.1 56.9h0.7M481.8 52.9h0.7M480.3 50.5h0.7M474.8 60.6h0.7M476.5 46.4h0.7M479.5 59.6h0.7M467.2 60.2h0.7M490.4 52.4h0.7M470.1 56.8h0.7M472.6 53.5h0.7M475.0 47.5h0.7M471.0 50.7h0.7M471.9 51.4h0.7M477.5 50.6h0.7M469.0 64.6h0.7M464.2 49.5h0.7M471.3 46.8h0.7M471.7 51.5h0.7M475.0 51.6h0.7M465.6 58.1h0.7M471.2 52.6h0.7M471.9 56.4h0.7M465.2 55.4h0.7M472.8 50.2h0.7M473.1 43.3h0.7M474.9 57.1h0.7M465.4 45.6h0.7M470.4 54.3h0.7M466.3 57.0h0.7M470.6 44.9h0.7M469.3 44.0h0.7M481.8 51.8h0.7M467.9 48.7h0.7M469.0 49.7h0.7M476.1 53.5h0.7M462.7 51.9h0.7M468.9 52.3h0.7M479.1 47.6h0.7M462.7 51.9h0.7M474.9 47.8h0.7M466.3 45.0h0.7M480.4 46.2h0.7M467.1 58.5h0.7M477.8 45.6h0.7M473.3 51.3h0.7M476.0 53.4h0.7M470.4 55.5h0.7M466.6 50.8h0.7M461.7 46.3h0.7M467.8 56.3h0.7M462.1 52.0h0.7M493.1 53.2h0.7M467.7 50.1h0.7M491.1 45.4h0.7M488.6 56.1h0.7M479.5 49.5h0.7M495.0 63.7h0.7M490.7 60.6h0.7M478.5 54.2h0.7M490.2 47.5h0.7M478.9 66.1h0.7M487.8 58.6h0.7M483.6 56.9h0.7M493.5 46.9h0.7M485.0 64.5h0.7M498.1 62.9h0.7M476.4 50.4h0.7M501.9 65.8h0.7M491.7 55.0h0.7M490.2 58.0h0.7M502.4 45.7h0.7M483.1 56.8h0.7M466.8 51.4h0.7M489.0 58.0h0.7M493.5 58.5h0.7M489.1 59.7h0.7M483.1 61.4h0.7M500.4 63.0h0.7M478.9 60.1h0.7M490.3 56.4h0.7M488.9 49.7h0.7M490.9 67.0h0.7M502.4 69.4h0.7M491.2 65.9h0.7M471.9 44.8h0.7M482.1 60.1h0.7M505.2 64.4h0.7M466.4 56.2h0.7M485.9 63.6h0.7M467.4 56.3h0.7M481.3 49.5h0.7M495.1 60.7h0.7M486.5 64.6h0.7M477.7 48.8h0.7M479.3 73.2h0.7M484.7 55.1h0.7M483.5 52.6h0.7M484.5 50.2h0.7M498.4 39.9h0.7M491.8 59.8h0.7M483.5 76.9h0.7M491.1 46.6h0.7M503.5 50.0h0.7M488.4 54.0h0.7M488.6 56.8h0.7M492.2 51.8h0.7M495.1 59.3h0.7M486.7 56.6h0.7M490.4 47.0h0.7M486.7 59.9h0.7M489.1 64.9h0.7M481.0 47.6h0.7M500.8 79.4h0.7M504.5 61.2h0.7M493.1 56.6h0.7M480.9 57.0h0.7M489.7 53.4h0.7M490.8 51.2h0.7M486.7 57.4h0.7M470.0 65.9h0.7M478.1 54.3h0.7M472.9 50.1h0.7M475.5 60.9h0.7M488.1 67.2h0.7M489.1 48.4h0.7M484.1 44.7h0.7M493.1 52.4h0.7M501.1 61.5h0.7M487.0 58.5h0.7M496.6 59.8h0.7M462.2 65.0h0.7M467.4 70.3h0.7M466.6 77.7h0.7M462.4 67.2h0.7M478.5 71.2h0.7M460.9 80.4h0.7M461.0 76.6h0.7M468.2 87.5h0.7M463.4 63.5h0.7M461.1 66.8h0.7M467.5 68.1h0.7M465.9 74.1h0.7M465.1 64.8h0.7M473.4 83.0h0.7M465.7 73.9h0.7M480.4 64.8h0.7M472.4 69.5h0.7M465.2 66.9h0.7M472.2 77.9h0.7M465.8 82.5h0.7M476.7 77.1h0.7M468.4 86.7h0.7M464.7 59.6h0.7M460.6 78.3h0.7M470.8 82.8h0.7M468.1 78.1h0.7M466.5 63.9h0.7M473.3 68.8h0.7M475.0 69.7h0.7M472.6 70.3h0.7M463.4 73.4h0.7M462.6 57.8h0.7M463.9 79.4h0.7M472.7 72.5h0.7M466.1 74.6h0.7M460.6 62.7h0.7M465.5 72.7h0.7M465.8 78.3h0.7M469.2 64.0h0.7M463.4 72.1h0.7M472.4 79.2h0.7M466.1 73.6h0.7M469.1 76.6h0.7M468.0 59.5h0.7M466.0 72.9h0.7M492.2 80.2h0.7M506.6 78.7h0.7M491.9 80.0h0.7M486.4 74.1h0.7M484.2 76.3h0.7M486.5 75.2h0.7M485.4 76.9h0.7M472.3 80.0h0.7M490.3 72.2h0.7M487.5 75.7h0.7M480.2 82.4h0.7M488.0 77.8h0.7M476.9 70.3h0.7M484.2 72.7h0.7M493.6 74.9h0.7M496.9 71.8h0.7M480.4 71.0h0.7M375.5 133.1h0.7M382.5 131.6h0.7M377.8 137.1h0.7M382.6 132.5h0.7M379.7 129.1h0.7M370.4 129.8h0.7M374.4 132.5h0.7M379.7 128.4h0.7M382.1 129.5h0.7M372.1 129.3h0.7M385.1 134.4h0.7M380.6 129.5h0.7M374.9 133.3h0.7M384.6 129.8h0.7M381.9 128.7h0.7M371.4 132.1h0.7M376.5 131.7h0.7M382.2 136.0h0.7M357.0 106.8h0.7M372.7 95.4h0.7M341.0 101.9h0.7M363.1 93.6h0.7M365.1 97.3h0.7M364.1 94.5h0.7M358.3 114.1h0.7M348.5 129.4h0.7M342.1 129.9h0.7M339.3 119.9h0.7M345.8 133.6h0.7M400.8 106.2h0.7M400.5 107.1h0.7M401.3 109.4h0.7M399.7 103.0h0.7M401.7 107.3h0.7M399.4 95.9h0.7M414.9 111.5h0.7M400.0 101.6h0.7M404.1 111.2h0.7M401.8 101.0h0.7M403.8 98.6h0.7M398.6 101.2h0.7M401.2 97.6h0.7M403.9 112.7h0.7M409.0 103.1h0.7M409.6 107.1h0.7M406.5 105.1h0.7M405.2 103.0h0.7M409.3 107.4h0.7M401.5 108.6h0.7M405.2 113.7h0.7M404.1 99.8h0.7M408.1 103.6h0.7M402.3 105.2h0.7M407.7 102.9h0.7M402.6 110.0h0.7M410.0 104.2h0.7M407.3 108.9h0.7M399.3 112.1h0.7M399.7 102.0h0.7M404.4 104.5h0.7M399.8 104.0h0.7M401.5 106.9h0.7M409.2 96.6h0.7M405.1 109.1h0.7M414.2 104.8h0.7M411.1 100.6h0.7M411.1 102.2h0.7M407.4 99.6h0.7M406.5 104.4h0.7M402.9 108.6h0.7M403.9 107.0h0.7M403.5 108.1h0.7M406.4 106.6h0.7M408.9 105.1h0.7M399.8 110.2h0.7M412.0 110.8h0.7M406.9 105.1h0.7M401.7 102.8h0.7M401.8 105.3h0.7M402.9 107.9h0.7M405.9 103.8h0.7M408.1 108.7h0.7M414.0 103.9h0.7M408.4 108.5h0.7M408.6 102.4h0.7M400.4 108.3h0.7M406.0 112.1h0.7M411.5 106.9h0.7M405.7 101.7h0.7M410.4 106.7h0.7M408.0 117.0h0.7M406.7 107.2h0.7M399.5 113.2h0.7M410.7 106.2h0.7M402.1 103.6h0.7M402.3 109.9h0.7M407.8 109.9h0.7M402.4 109.7h0.7M402.1 105.5h0.7M408.8 103.7h0.7M405.3 109.0h0.7M403.6 113.9h0.7M410.1 103.2h0.7M399.2 105.3h0.7M398.9 105.7h0.7M409.9 108.8h0.7M404.7 106.2h0.7M399.2 99.5h0.7M402.2 107.3h0.7M421.6 106.8h0.7M400.8 108.6h0.7M406.5 102.0h0.7M400.9 101.7h0.7M401.9 105.6h0.7M401.6 105.8h0.7M402.6 112.6h0.7M406.4 105.9h0.7M398.8 101.8h0.7M407.1 101.0h0.7M404.3 103.0h0.7M402.3 100.2h0.7M400.0 105.7h0.7M407.6 108.4h0.7M398.8 109.1h0.7M406.1 109.3h0.7M422.8 106.3h0.7M404.5 108.4h0.7M399.4 112.2h0.7M398.8 99.8h0.7M421.6 111.6h0.7M419.4 113.7h0.7M407.5 104.9h0.7M423.9 116.0h0.7M418.5 111.1h0.7M418.8 103.5h0.7M425.8 112.2h0.7M424.2 109.6h0.7M403.6 100.5h0.7M408.6 111.9h0.7M421.8 107.8h0.7M419.1 100.0h0.7M406.1 123.0h0.7M428.9 110.2h0.7M421.7 107.3h0.7M425.1 109.6h0.7M416.9 110.9h0.7M418.7 120.5h0.7M417.2 118.4h0.7M409.7 112.7h0.7M417.6 114.2h0.7M420.0 107.2h0.7M418.4 112.5h0.7M417.1 123.3h0.7M429.8 105.4h0.7M415.5 114.7h0.7M403.7 110.4h0.7M409.5 117.5h0.7M430.9 117.8h0.7M417.3 115.3h0.7M415.6 116.8h0.7M414.7 107.5h0.7M428.8 120.4h0.7M421.3 116.0h0.7M425.3 114.8h0.7M420.2 103.4h0.7M408.4 110.0h0.7M417.3 108.1h0.7M407.4 111.5h0.7M414.9 114.2h0.7M399.5 115.8h0.7M417.7 111.4h0.7M427.9 112.3h0.7M430.4 115.4h0.7M406.7 111.7h0.7M413.4 108.0h0.7M422.2 112.4h0.7M400.2 118.0h0.7M428.0 110.2h0.7M414.7 119.9h0.7M429.4 115.1h0.7M399.8 114.5h0.7M401.5 142.3h0.7M409.6 129.5h0.7M400.9 127.6h0.7M407.1 127.0h0.7M406.3 129.2h0.7M406.2 133.2h0.7M400.6 121.6h0.7M404.1 117.5h0.7M409.7 128.6h0.7M404.9 123.8h0.7M409.3 128.2h0.7M399.5 122.1h0.7M407.6 122.2h0.7M418.2 126.0h0.7M400.7 131.4h0.7M407.4 123.5h0.7M406.7 139.9h0.7M409.2 127.3h0.7M410.7 127.7h0.7M409.0 133.4h0.7M418.6 101.0h0.7M406.5 127.3h0.7M406.4 129.6h0.7M403.5 134.1h0.7M403.4 127.6h0.7M407.9 127.3h0.7M400.0 114.8h0.7M399.7 118.7h0.7M400.6 126.6h0.7M405.0 129.6h0.7M400.9 132.5h0.7M402.6 140.4h0.7M428.9 120.9h0.7M414.9 126.2h0.7M440.3 129.6h0.7M418.2 126.0h0.7M418.2 131.0h0.7M430.7 133.3h0.7M445.6 125.3h0.7M419.2 126.5h0.7M438.2 128.6h0.7M440.8 131.7h0.7M419.3 135.2h0.7M414.1 142.6h0.7M419.1 102.2h0.7M426.6 111.5h0.7M433.8 101.9h0.7M418.8 105.1h0.7M427.9 104.2h0.7M428.9 107.3h0.7M433.5 94.5h0.7M413.3 102.6h0.7M474.6 101.7h0.7M462.7 105.8h0.7M462.5 108.8h0.7M462.8 105.8h0.7M468.8 109.0h0.7M464.3 107.3h0.7M461.5 107.4h0.7M461.6 113.8h0.7M463.2 112.3h0.7M464.5 101.2h0.7M469.5 111.5h0.7M468.3 115.0h0.7M467.4 108.7h0.7M465.6 102.0h0.7M467.7 112.6h0.7M464.3 110.1h0.7M463.3 109.9h0.7M467.3 113.0h0.7M467.7 106.1h0.7M462.5 108.6h0.7M461.8 105.3h0.7M464.0 112.9h0.7M469.2 108.5h0.7M470.0 97.9h0.7M471.7 110.9h0.7M470.9 101.7h0.7M465.2 111.5h0.7M467.4 107.7h0.7M461.2 104.5h0.7M462.8 99.6h0.7M467.9 113.0h0.7M463.4 109.7h0.7M465.0 113.0h0.7M475.7 100.0h0.7M468.7 102.2h0.7M462.2 110.8h0.7M468.1 113.1h0.7M461.2 120.4h0.7M461.6 117.5h0.7M472.6 111.9h0.7M461.1 95.8h0.7M475.5 100.0h0.7M461.6 104.8h0.7M470.9 112.1h0.7M465.0 98.2h0.7M467.9 105.7h0.7M466.3 113.6h0.7M464.8 95.7h0.7M472.1 106.3h0.7M470.2 104.7h0.7M468.5 115.9h0.7M469.6 101.3h0.7M465.0 111.1h0.7M471.0 107.2h0.7M464.3 105.2h0.7M462.1 103.7h0.7M464.1 110.2h0.7M465.1 103.5h0.7M463.7 100.3h0.7M467.2 114.0h0.7M467.7 104.2h0.7M463.6 103.6h0.7M462.2 118.0h0.7M474.3 117.0h0.7M469.2 103.7h0.7M462.0 98.1h0.7M463.9 105.2h0.7M470.3 111.5h0.7M466.2 106.6h0.7M464.6 116.7h0.7M463.9 108.4h0.7M466.3 112.7h0.7M463.0 113.9h0.7M471.5 106.5h0.7M465.5 104.6h0.7M460.6 108.7h0.7M466.7 109.6h0.7M473.4 109.4h0.7M465.3 101.1h0.7M467.1 110.8h0.7M461.3 99.5h0.7M461.7 99.1h0.7M470.6 112.1h0.7M464.6 108.0h0.7M465.5 108.1h0.7M472.6 107.5h0.7M461.7 109.8h0.7M468.1 118.7h0.7M460.8 92.8h0.7M460.9 101.8h0.7M461.0 105.4h0.7M461.3 104.4h0.7M462.2 109.8h0.7M462.8 119.9h0.7M465.3 109.6h0.7M468.8 110.0h0.7M464.7 113.0h0.7M473.9 104.8h0.7M465.3 101.8h0.7M464.6 106.3h0.7M464.2 107.5h0.7M475.7 115.5h0.7M467.3 101.8h0.7M461.0 111.2h0.7M464.3 93.3h0.7M464.0 106.9h0.7M463.4 118.4h0.7M474.1 110.8h0.7M463.8 107.1h0.7M465.7 114.8h0.7M462.4 108.5h0.7M466.6 101.1h0.7M471.8 107.3h0.7M465.2 107.5h0.7M462.3 112.8h0.7M461.3 113.2h0.7M465.6 98.2h0.7M463.1 108.5h0.7M476.4 109.6h0.7M461.4 111.7h0.7M468.9 103.8h0.7M463.8 105.4h0.7M465.4 111.6h0.7M461.6 102.2h0.7M475.2 106.2h0.7M462.5 108.5h0.7M467.8 106.8h0.7M468.8 106.1h0.7M462.3 109.5h0.7M464.0 99.6h0.7M460.6 110.6h0.7M463.1 103.5h0.7M461.0 111.5h0.7M462.6 100.4h0.7M470.6 102.9h0.7M474.0 105.2h0.7M461.3 108.3h0.7M465.4 97.6h0.7M464.1 110.4h0.7M462.2 106.3h0.7M462.1 106.6h0.7M466.3 105.7h0.7M466.4 115.8h0.7M462.4 114.7h0.7M463.2 110.1h0.7M467.9 97.3h0.7M471.2 109.5h0.7M460.9 108.9h0.7M460.6 105.3h0.7M467.8 116.0h0.7M466.0 112.1h0.7M474.5 105.2h0.7M467.6 110.2h0.7M464.7 108.8h0.7M465.3 106.0h0.7M470.8 115.9h0.7M463.1 117.1h0.7M466.9 102.9h0.7M464.1 100.7h0.7M460.8 111.5h0.7M463.1 97.9h0.7M466.8 106.7h0.7M466.0 108.7h0.7M472.1 118.8h0.7M469.8 112.8h0.7M475.1 98.4h0.7M468.3 98.2h0.7M460.7 104.8h0.7M464.5 115.4h0.7M461.7 110.8h0.7M470.1 104.0h0.7M461.6 109.4h0.7M468.8 111.3h0.7M466.8 106.9h0.7M476.3 102.2h0.7M461.5 105.3h0.7M473.8 105.8h0.7M473.7 108.3h0.7M471.7 104.6h0.7M471.8 103.8h0.7M463.2 107.4h0.7M465.8 106.9h0.7M461.5 106.3h0.7M460.9 103.7h0.7M461.1 101.6h0.7M465.6 112.2h0.7M469.6 112.8h0.7M462.0 110.3h0.7M470.8 107.4h0.7M467.7 109.1h0.7M470.8 107.2h0.7M466.6 107.0h0.7M463.8 111.3h0.7M465.3 118.0h0.7M466.5 111.9h0.7M461.0 105.8h0.7M464.7 106.0h0.7M468.7 103.9h0.7M463.8 104.3h0.7M462.4 109.3h0.7M471.6 110.6h0.7M463.9 109.3h0.7M468.8 104.6h0.7M472.6 104.8h0.7M467.9 104.2h0.7M465.4 112.1h0.7M470.5 109.3h0.7M466.2 106.6h0.7M464.1 111.8h0.7M464.9 99.3h0.7M465.3 101.9h0.7M464.2 106.6h0.7M462.0 103.0h0.7M461.2 105.0h0.7M461.0 111.1h0.7M464.1 112.6h0.7M463.2 109.6h0.7M461.8 106.5h0.7M463.9 100.6h0.7M464.6 105.3h0.7M468.8 108.2h0.7M469.7 107.6h0.7M481.7 104.6h0.7M463.6 105.2h0.7M476.5 99.3h0.7M466.7 109.1h0.7M472.3 107.2h0.7M461.8 111.5h0.7M469.5 109.8h0.7M463.1 107.9h0.7M465.5 108.9h0.7M467.3 100.0h0.7M463.5 118.6h0.7M464.7 109.9h0.7M465.7 112.7h0.7M462.0 112.9h0.7M472.0 133.8h0.7M474.7 105.4h0.7M462.3 104.1h0.7M468.1 97.3h0.7M469.7 111.1h0.7M467.1 102.4h0.7M467.1 100.4h0.7M470.9 122.6h0.7M465.8 104.9h0.7M468.4 102.0h0.7M474.5 107.5h0.7M461.7 107.9h0.7M466.0 106.0h0.7M467.7 105.8h0.7M461.1 100.2h0.7M473.1 99.7h0.7M467.9 95.1h0.7M462.6 109.9h0.7M474.3 107.0h0.7M469.0 116.2h0.7M467.3 114.4h0.7M460.9 101.0h0.7M464.5 106.4h0.7M466.5 100.9h0.7M477.4 108.2h0.7M460.9 108.4h0.7M461.9 106.1h0.7M461.9 99.7h0.7M467.9 107.4h0.7M461.3 106.0h0.7M475.3 105.2h0.7M464.3 111.7h0.7M474.9 112.9h0.7M461.4 118.5h0.7M465.4 111.4h0.7M460.6 124.4h0.7M468.6 123.7h0.7M463.2 129.7h0.7M473.3 128.5h0.7M461.8 124.6h0.7M460.7 132.4h0.7M473.1 140.9h0.7M466.1 129.3h0.7M461.3 131.2h0.7M466.2 120.9h0.7M467.9 119.8h0.7M465.1 130.6h0.7M463.0 136.8h0.7M463.6 115.6h0.7M461.7 125.3h0.7M465.6 131.8h0.7M464.6 112.0h0.7M462.8 134.0h0.7M462.7 130.0h0.7M462.7 113.8h0.7M464.9 134.2h0.7M462.1 128.5h0.7M469.0 122.2h0.7M466.0 122.1h0.7M461.9 125.5h0.7M465.1 114.6h0.7M461.1 119.4h0.7M467.9 141.5h0.7M461.4 121.6h0.7M461.0 122.4h0.7M463.7 120.8h0.7M465.4 126.0h0.7M460.9 127.3h0.7M461.4 121.4h0.7M469.1 129.8h0.7M471.2 123.5h0.7M461.3 132.7h0.7M465.6 131.0h0.7M473.7 120.4h0.7M462.4 130.5h0.7M461.3 130.8h0.7M465.8 115.2h0.7M462.1 116.2h0.7M465.3 133.0h0.7M462.9 136.4h0.7M466.8 116.6h0.7M461.8 115.6h0.7M464.4 131.2h0.7M466.0 123.0h0.7M467.0 131.5h0.7M465.8 128.6h0.7M464.0 132.4h0.7M461.8 132.5h0.7M461.6 134.7h0.7M469.7 128.6h0.7M463.1 120.9h0.7M470.9 129.1h0.7M466.0 131.4h0.7M465.0 125.0h0.7M471.4 129.7h0.7M462.5 138.3h0.7M468.9 122.0h0.7M462.9 117.6h0.7M468.7 125.7h0.7M463.0 129.7h0.7M470.7 119.2h0.7M465.9 124.1h0.7M462.6 127.5h0.7M466.0 123.6h0.7M468.9 124.6h0.7M462.9 133.8h0.7M461.9 136.1h0.7M463.1 139.6h0.7M466.2 118.5h0.7M462.5 136.9h0.7M466.7 124.7h0.7M471.9 132.0h0.7M488.5 108.2h0.7M485.2 113.2h0.7M496.1 106.6h0.7M482.2 122.5h0.7M465.9 100.3h0.7M491.7 96.2h0.7M498.7 108.0h0.7M486.7 123.1h0.7M488.3 110.4h0.7M474.3 105.5h0.7M484.7 115.0h0.7M476.5 112.6h0.7M503.5 112.9h0.7M474.4 113.9h0.7M483.4 119.2h0.7M483.0 100.8h0.7M471.7 109.7h0.7M489.4 113.6h0.7M492.4 113.1h0.7M477.7 107.2h0.7M482.0 109.5h0.7M480.3 111.9h0.7M490.5 122.7h0.7M483.4 107.2h0.7M477.4 111.6h0.7M488.0 106.8h0.7M480.0 108.4h0.7M483.2 96.0h0.7M481.1 101.2h0.7M492.9 116.4h0.7M477.9 108.0h0.7M477.6 106.9h0.7M470.0 100.5h0.7M472.7 107.8h0.7M485.2 107.3h0.7M493.4 106.8h0.7M494.1 103.8h0.7M481.7 106.3h0.7M481.0 115.7h0.7M494.1 107.9h0.7M483.2 116.0h0.7M501.9 110.4h0.7M499.1 116.1h0.7M488.5 107.5h0.7M490.9 115.4h0.7M480.4 122.9h0.7M473.6 114.0h0.7M496.1 108.2h0.7M499.8 114.9h0.7M488.4 112.5h0.7M501.7 115.1h0.7M491.6 110.9h0.7M485.0 104.7h0.7M485.2 113.4h0.7M479.4 110.5h0.7M486.6 117.3h0.7M472.4 105.9h0.7M482.6 97.9h0.7M498.2 104.5h0.7M497.7 97.8h0.7M477.6 103.9h0.7M489.6 111.3h0.7M491.3 108.8h0.7M482.5 120.0h0.7M484.8 100.3h0.7M493.3 105.8h0.7M476.6 101.1h0.7M486.5 117.3h0.7M484.1 101.5h0.7M476.6 130.4h0.7M499.7 121.4h0.7M474.3 133.6h0.7M472.9 137.2h0.7M495.4 127.9h0.7M483.5 137.1h0.7M485.2 125.0h0.7M502.2 137.1h0.7M473.8 133.2h0.7M480.5 132.5h0.7M486.2 137.2h0.7M503.4 125.3h0.7" stroke="#000" stroke-opacity="0.33" stroke-width="0.7" fill="none"/>
<path d="M383.5 50.3h0.7M373.3 54.4h0.7M363.4 63.3h0.7M372.4 50.7h0.7M375.7 58.6h0.7M379.8 52.2h0.7M379.5 52.8h0.7M378.2 55.7h0.7M382.8 56.4h0.7M370.0 57.0h0.7M376.2 63.2h0.7M374.4 56.1h0.7M375.3 55.9h0.7M378.1 52.2h0.7M370.2 53.8h0.7M368.9 54.4h0.7M363.5 52.3h0.7M370.9 58.1h0.7M372.6 56.8h0.7M363.1 53.9h0.7M380.6 53.6h0.7M371.3 77.0h0.7M365.2 69.0h0.7M367.9 76.7h0.7M355.0 79.4h0.7M378.2 71.0h0.7M381.5 74.8h0.7M365.4 85.7h0.7M369.1 75.5h0.7M373.6 81.3h0.7M370.5 81.7h0.7M382.1 73.9h0.7M381.7 72.2h0.7M370.1 72.8h0.7M373.4 81.5h0.7M362.8 71.7h0.7M361.6 71.4h0.7M357.0 70.5h0.7M386.8 74.6h0.7M385.5 84.6h0.7M373.3 71.5h0.7M338.1 65.8h0.7M338.5 51.6h0.7M340.9 51.0h0.7M337.5 71.8h0.7M338.0 69.8h0.7M337.7 76.6h0.7M343.8 77.7h0.7M344.4 71.8h0.7M348.7 87.2h0.7M339.1 78.5h0.7M347.6 80.9h0.7M339.9 67.2h0.7M356.9 64.7h0.7M357.4 66.6h0.7M347.7 43.6h0.7M402.8 54.2h0.7M417.8 55.1h0.7M403.2 55.0h0.7M409.4 54.0h0.7M408.8 60.7h0.7M401.2 59.8h0.7M398.9 57.8h0.7M409.2 67.4h0.7M399.3 45.2h0.7M409.7 50.0h0.7M409.9 46.7h0.7M416.8 51.7h0.7M402.9 59.2h0.7M403.4 58.3h0.7M398.8 54.6h0.7M404.5 59.1h0.7M412.7 55.7h0.7M399.3 46.9h0.7M411.7 55.7h0.7M403.4 44.1h0.7M408.4 51.1h0.7M401.1 56.1h0.7M413.8 53.9h0.7M416.8 46.0h0.7M399.3 57.8h0.7M408.5 68.2h0.7M410.7 51.0h0.7M399.3 51.2h0.7M410.6 60.4h0.7M406.4 57.7h0.7M409.1 54.4h0.7M407.8 48.2h0.7M414.9 48.2h0.7M399.1 52.9h0.7M407.6 56.3h0.7M407.0 57.6h0.7M412.0 45.3h0.7M414.5 45.0h0.7M399.3 68.1h0.7M405.3 51.9h0.7M408.6 50.0h0.7M399.4 57.9h0.7M400.7 52.9h0.7M410.6 50.4h0.7M411.6 40.9h0.7M419.3 54.4h0.7M418.3 53.2h0.7M405.3 53.2h0.7M404.6 53.8h0.7M405.5 55.5h0.7M405.7 51.4h0.7M406.5 51.4h0.7M399.6 58.8h0.7M407.9 60.1h0.7M410.1 58.3h0.7M415.3 66.2h0.7M409.9 48.1h0.7M406.4 60.7h0.7M414.8 58.6h0.7M410.3 50.5h0.7M399.4 47.2h0.7M407.0 56.6h0.7M412.7 56.9h0.7M400.8 56.7h0.7M417.8 59.3h0.7M401.1 55.3h0.7M400.8 59.0h0.7M400.3 61.1h0.7M399.8 61.6h0.7M405.7 53.1h0.7M404.3 59.0h0.7M400.9 50.7h0.7M405.1 59.9h0.7M406.5 45.5h0.7M421.9 50.5h0.7M405.4 60.3h0.7M413.9 65.2h0.7M399.7 49.6h0.7M402.4 52.8h0.7M398.6 53.1h0.7M409.5 68.1h0.7M407.2 61.3h0.7M408.0 45.2h0.7M414.5 57.0h0.7M407.2 48.6h0.7M407.3 57.4h0.7M415.7 48.2h0.7M411.6 56.8h0.7M405.5 44.2h0.7M404.4 46.6h0.7M399.0 58.3h0.7M404.4 59.9h0.7M414.7 52.3h0.7M405.2 54.1h0.7M410.1 58.4h0.7M404.0 43.2h0.7M409.9 45.2h0.7M401.1 54.9h0.7M402.7 50.6h0.7M407.6 53.6h0.7M408.6 49.3h0.7M409.1 41.5h0.7M410.9 55.7h0.7M409.5 46.2h0.7M409.5 64.1h0.7M403.6 53.6h0.7M412.9 58.1h0.7M409.1 50.8h0.7M407.7 56.4h0.7M416.9 55.0h0.7M420.5 45.7h0.7M401.5 51.9h0.7M405.4 45.8h0.7M409.4 46.4h0.7M401.9 46.2h0.7M408.9 52.6h0.7M400.0 47.7h0.7M408.4 55.9h0.7M404.8 52.4h0.7M400.2 56.2h0.7M407.8 53.5h0.7M400.9 59.1h0.7M404.3 51.0h0.7M412.7 59.7h0.7M405.0 46.3h0.7M401.8 62.9h0.7M415.0 59.1h0.7M410.5 50.6h0.7M402.1 56.7h0.7M405.0 50.3h0.7M406.7 51.9h0.7M400.8 47.5h0.7M399.1 60.5h0.7M401.8 56.3h0.7M404.3 58.9h0.7M416.2 58.6h0.7M408.3 66.1h0.7M400.4 59.0h0.7M423.7 55.6h0.7M405.4 61.5h0.7M399.3 55.1h0.7M408.1 44.5h0.7M401.6 58.0h0.7M399.0 53.8h0.7M411.9 59.0h0.7M407.5 58.8h0.7M406.3 45.8h0.7M399.4 50.5h0.7M400.3 54.8h0.7M413.1 50.4h0.7M411.0 56.4h0.7M408.4 53.1h0.7M405.5 48.0h0.7M414.3 53.5h0.7M405.1 47.8h0.7M412.4 56.6h0.7M413.0 53.3h0.7M404.4 50.2h0.7M406.0 63.5h0.7M412.8 60.9h0.7M399.0 42.2h0.7M413.0 57.9h0.7M398.7 48.9h0.7M411.8 65.7h0.7M399.4 74.6h0.7M409.7 52.1h0.7M405.3 58.9h0.7M399.6 58.4h0.7M400.2 55.3h0.7M411.9 69.4h0.7M415.9 52.0h0.7M423.7 59.1h0.7M421.4 57.1h0.7M434.7 63.4h0.7M415.9 54.9h0.7M432.0 60.9h0.7M446.5 70.0h0.7M414.2 53.6h0.7M431.0 72.8h0.7M415.7 60.9h0.7M425.8 66.7h0.7M436.5 62.7h0.7M416.3 62.4h0.7M415.4 51.5h0.7M426.0 47.2h0.7M425.8 56.1h0.7M431.4 62.1h0.7M435.3 39.5h0.7M434.7 69.9h0.7M448.7 58.1h0.7M414.9 55.9h0.7M409.9 48.8h0.7M425.6 61.9h0.7M421.0 64.4h0.7M443.0 63.6h0.7M411.0 40.3h0.7M417.4 41.5h0.7M418.1 47.5h0.7M427.2 51.0h0.7M419.0 72.5h0.7M410.4 53.1h0.7M427.7 64.2h0.7M433.4 58.8h0.7M432.3 47.8h0.7M428.8 62.6h0.7M418.6 72.6h0.7M429.0 59.0h0.7M429.5 55.0h0.7M421.5 57.1h0.7M427.6 69.1h0.7M418.7 60.7h0.7M416.9 59.2h0.7M422.2 62.0h0.7M428.4 56.3h0.7M422.6 58.1h0.7M412.8 56.9h0.7M430.8 60.7h0.7M414.5 57.8h0.7M437.3 54.6h0.7M438.0 45.4h0.7M413.0 59.3h0.7M426.9 58.1h0.7M426.9 53.6h0.7M424.3 65.1h0.7M419.1 54.0h0.7M437.2 52.3h0.7M428.0 65.6h0.7M424.2 44.6h0.7M430.2 57.7h0.7M415.4 64.1h0.7M438.3 63.5h0.7M432.4 48.4h0.7M402.0 71.6h0.7M398.9 69.8h0.7M405.0 78.2h0.7M406.1 72.5h0.7M401.2 73.5h0.7M400.8 71.7h0.7M403.7 81.6h0.7M404.6 72.4h0.7M405.8 80.7h0.7M407.3 74.1h0.7M402.3 70.7h0.7M403.6 65.0h0.7M402.3 74.8h0.7M407.2 76.8h0.7M400.5 63.2h0.7M399.7 71.5h0.7M403.1 79.9h0.7M401.7 85.3h0.7M405.1 79.6h0.7M407.0 68.0h0.7M402.2 82.4h0.7M403.9 73.4h0.7M400.6 80.9h0.7M410.6 84.9h0.7M440.7 76.4h0.7M416.1 71.2h0.7M442.5 81.2h0.7M431.7 86.8h0.7M418.1 82.8h0.7M418.7 64.2h0.7M427.8 81.0h0.7M441.2 84.5h0.7M426.7 83.0h0.7M432.1 70.1h0.7M423.3 84.6h0.7M416.2 75.5h0.7M411.1 74.0h0.7M432.0 72.4h0.7M469.9 48.4h0.7M473.9 42.5h0.7M471.7 54.3h0.7M475.3 47.9h0.7M461.7 52.1h0.7M468.3 52.7h0.7M468.4 48.0h0.7M465.4 50.8h0.7M471.6 55.0h0.7M466.3 54.8h0.7M470.1 53.9h0.7M464.4 49.0h0.7M480.7 54.4h0.7M474.0 50.9h0.7M467.3 60.7h0.7M471.9 54.2h0.7M466.7 49.5h0.7M476.3 59.8h0.7M481.1 58.1h0.7M465.5 46.4h0.7M462.2 55.3h0.7M463.1 58.2h0.7M466.2 53.0h0.7M465.0 48.8h0.7M469.5 49.9h0.7M464.6 53.9h0.7M465.7 47.7h0.7M465.6 59.1h0.7M472.9 51.7h0.7M472.3 48.5h0.7M489.2 54.3h0.7M471.2 50.6h0.7M487.4 61.8h0.7M463.7 48.6h0.7M471.9 43.8h0.7M469.3 55.8h0.7M465.8 44.2h0.7M461.7 52.1h0.7M463.7 49.1h0.7M460.8 50.3h0.7M471.1 57.7h0.7M471.7 48.9h0.7M475.4 56.9h0.7M465.2 51.3h0.7M466.0 53.8h0.7M468.0 48.6h0.7M471.1 63.6h0.7M469.1 50.4h0.7M461.0 59.4h0.7M474.5 50.5h0.7M470.4 56.5h0.7M467.8 52.9h0.7M469.0 56.2h0.7M469.3 53.9h0.7M465.9 55.2h0.7M463.3 56.7h0.7M474.6 52.8h0.7M470.7 49.1h0.7M466.1 45.9h0.7M472.7 47.5h0.7M464.8 55.5h0.7M479.4 54.5h0.7M479.4 55.6h0.7M472.1 46.4h0.7M461.0 59.0h0.7M461.4 48.6h0.7M478.0 52.5h0.7M473.4 55.5h0.7M473.6 53.2h0.7M471.8 61.8h0.7M468.9 48.8h0.7M481.2 53.7h0.7M471.5 49.3h0.7M462.2 56.8h0.7M472.5 55.8h0.7M460.7 60.0h0.7M472.5 57.2h0.7M464.6 54.8h0.7M461.4 51.1h0.7M476.6 54.3h0.7M474.2 54.8h0.7M474.5 50.3h0.7M464.6 57.9h0.7M481.7 60.9h0.7M462.2 64.7h0.7M468.0 51.3h0.7M470.8 54.7h0.7M466.3 70.4h0.7M464.3 46.2h0.7M473.7 58.7h0.7M476.3 44.3h0.7M471.5 46.6h0.7M470.9 60.9h0.7M478.5 47.5h0.7M479.5 46.2h0.7M465.1 58.5h0.7M471.6 51.1h0.7M462.8 51.7h0.7M474.6 58.2h0.7M471.0 48.6h0.7M461.4 50.8h0.7M467.3 54.8h0.7M480.4 53.7h0.7M478.4 54.6h0.7M463.9 53.6h0.7M474.5 57.0h0.7M470.0 48.5h0.7M462.2 48.9h0.7M472.4 55.7h0.7M470.6 44.3h0.7M472.7 61.2h0.7M461.3 44.9h0.7M460.9 52.5h0.7M466.0 52.6h0.7M473.8 60.6h0.7M471.6 52.2h0.7M472.7 49.9h0.7M465.8 50.6h0.7M467.3 57.3h0.7M461.1 53.1h0.7M476.2 55.0h0.7M467.1 48.5h0.7M470.3 51.0h0.7M469.4 58.2h0.7M471.5 53.6h0.7M474.9 54.1h0.7M475.5 55.3h0.7M469.6 47.9h0.7M480.0 51.6h0.7M471.3 62.6h0.7M467.8 58.7h0.7M462.9 59.4h0.7M464.5 51.9h0.7M470.6 57.4h0.7M471.2 48.3h0.7M462.3 60.2h0.7M476.6 48.3h0.7M481.9 57.6h0.7M464.5 56.4h0.7M463.9 57.4h0.7M473.0 51.8h0.7M476.6 50.9h0.7M480.1 54.4h0.7M464.4 54.1h0.7M469.8 55.9h0.7M460.9 51.9h0.7M476.5 46.7h0.7M467.4 49.1h0.7M482.8 52.8h0.7M472.5 61.3h0.7M469.2 51.5h0.7M460.7 52.0h0.7M478.5 51.3h0.7M469.5 52.9h0.7M470.4 43.9h0.7M475.6 50.0h0.7M470.7 52.9h0.7M466.0 48.9h0.7M467.9 44.9h0.7M478.6 56.5h0.7M469.3 62.9h0.7M466.2 49.9h0.7M473.0 48.9h0.7M463.7 47.5h0.7M476.0 54.1h0.7M465.3 55.7h0.7M466.4 48.3h0.7M460.9 55.6h0.7M476.4 58.4h0.7M462.4 48.1h0.7M474.2 57.8h0.7M470.7 57.3h0.7M465.4 57.9h0.7M476.3 58.7h0.7M466.2 49.2h0.7M473.9 50.9h0.7M464.7 46.1h0.7M472.6 53.9h0.7M479.1 48.7h0.7M463.7 51.9h0.7M465.5 57.0h0.7M476.8 59.5h0.7M470.8 47.2h0.7M468.0 52.6h0.7M470.3 61.6h0.7M464.4 46.3h0.7M465.0 48.5h0.7M473.1 58.6h0.7M461.7 57.4h0.7M462.8 49.2h0.7M464.7 53.1h0.7M469.5 42.4h0.7M471.5 55.5h0.7M483.0 47.1h0.7M466.5 61.1h0.7M464.2 59.6h0.7M463.6 61.6h0.7M469.6 48.2h0.7M464.8 55.8h0.7M475.5 52.1h0.7M460.8 58.5h0.7M462.1 50.4h0.7M461.2 57.2h0.7M468.9 48.5h0.7M470.2 50.1h0.7M469.5 53.9h0.7M477.3 60.3h0.7M468.1 43.0h0.7M467.4 53.6h0.7M480.9 50.4h0.7M482.9 54.1h0.7M461.2 63.4h0.7M471.8 56.9h0.7M472.0 50.6h0.7M475.7 46.4h0.7M463.3 46.0h0.7M467.7 52.3h0.7M470.4 47.4h0.7M480.9 54.1h0.7M466.9 56.7h0.7M471.6 57.6h0.7M467.3 52.4h0.7M469.8 61.8h0.7M473.0 47.6h0.7M468.3 49.5h0.7M470.6 49.6h0.7M469.5 56.9h0.7M468.9 56.2h0.7M474.1 48.8h0.7M466.9 51.7h0.7M463.9 55.0h0.7M461.9 56.3h0.7M477.0 50.0h0.7M466.0 53.0h0.7M461.6 61.4h0.7M461.7 57.0h0.7M464.2 51.6h0.7M464.6 46.4h0.7M472.9 54.2h0.7M476.1 61.2h0.7M465.7 51.5h0.7M486.7 42.1h0.7M480.8 48.4h0.7M474.7 51.6h0.7M471.3 55.7h0.7M463.0 54.5h0.7M465.1 51.1h0.7M462.9 49.0h0.7M480.9 49.4h0.7M472.3 50.4h0.7M474.6 51.1h0.7M461.4 41.9h0.7M468.0 44.5h0.7M463.3 63.6h0.7M468.9 53.7h0.7M462.6 52.7h0.7M469.2 54.2h0.7M465.4 52.9h0.7M463.5 56.4h0.7M463.4 51.7h0.7M505.0 51.8h0.7M480.3 43.3h0.7M477.9 53.6h0.7M483.5 48.8h0.7M473.0 59.7h0.7M488.3 64.4h0.7M486.0 62.4h0.7M491.5 54.9h0.7M475.3 56.9h0.7M486.2 67.9h0.7M485.4 53.3h0.7M495.2 40.7h0.7M484.8 53.4h0.7M480.8 47.7h0.7M479.2 48.5h0.7M494.1 43.2h0.7M483.4 53.1h0.7M495.0 48.5h0.7M505.2 65.6h0.7M488.0 50.9h0.7M491.8 61.2h0.7M469.9 49.8h0.7M484.0 52.4h0.7M480.9 51.1h0.7M477.5 63.7h0.7M483.5 41.6h0.7M482.5 66.8h0.7M495.0 60.2h0.7M481.7 62.4h0.7M492.6 63.1h0.7M497.7 48.6h0.7M473.3 50.4h0.7M487.9 60.8h0.7M475.8 45.6h0.7M479.1 61.3h0.7M493.4 53.9h0.7M475.6 51.4h0.7M490.6 65.2h0.7M480.5 54.4h0.7M488.7 48.3h0.7M493.1 49.5h0.7M496.0 43.4h0.7M472.2 59.8h0.7M487.5 54.0h0.7M482.9 56.4h0.7M485.6 68.4h0.7M490.7 48.4h0.7M489.1 57.4h0.7M502.1 51.3h0.7M464.6 46.4h0.7M489.2 46.1h0.7M489.7 52.4h0.7M500.0 55.1h0.7M486.3 57.4h0.7M486.5 65.6h0.7M503.1 58.7h0.7M485.6 41.0h0.7M491.8 55.8h0.7M492.2 62.0h0.7M495.6 48.3h0.7M487.1 47.3h0.7M469.3 57.9h0.7M473.8 49.1h0.7M486.4 46.5h0.7M499.6 66.9h0.7M473.2 62.1h0.7M484.9 64.9h0.7M480.2 62.0h0.7M488.5 58.5h0.7M475.7 68.3h0.7M482.8 55.8h0.7M487.9 57.2h0.7M476.6 64.1h0.7M482.9 61.0h0.7M505.9 51.2h0.7M495.6 55.9h0.7M488.5 51.0h0.7M501.9 56.4h0.7M479.3 87.3h0.7M471.1 75.5h0.7M474.7 76.6h0.7M469.1 69.7h0.7M464.8 64.4h0.7M474.9 65.5h0.7M461.3 73.7h0.7M462.9 70.4h0.7M469.0 60.4h0.7M464.1 87.1h0.7M467.5 75.1h0.7M474.4 69.3h0.7M461.8 71.9h0.7M467.1 69.9h0.7M468.9 72.8h0.7M467.7 73.5h0.7M467.5 66.9h0.7M461.9 62.3h0.7M461.4 76.3h0.7M474.1 62.6h0.7M467.6 71.2h0.7M472.7 81.6h0.7M464.2 62.6h0.7M471.9 74.1h0.7M474.8 66.6h0.7M464.9 82.0h0.7M476.7 80.9h0.7M472.4 78.7h0.7M462.3 67.3h0.7M467.9 74.5h0.7M462.7 58.3h0.7M469.9 75.2h0.7M467.0 73.1h0.7M469.8 63.4h0.7M470.2 75.8h0.7M468.8 86.6h0.7M475.1 56.6h0.7M462.5 86.4h0.7M461.5 68.1h0.7M463.8 74.9h0.7M463.9 62.9h0.7M473.2 80.7h0.7M478.6 80.0h0.7M469.7 83.1h0.7M468.9 72.8h0.7M461.1 69.1h0.7M486.8 73.5h0.7M479.5 71.3h0.7M485.2 84.3h0.7M484.4 84.6h0.7M461.0 79.8h0.7M471.4 65.7h0.7M471.3 74.3h0.7M489.4 71.7h0.7M486.0 73.5h0.7M488.2 82.6h0.7M479.4 80.5h0.7M491.5 84.3h0.7M462.6 71.8h0.7M480.6 76.0h0.7M487.0 69.2h0.7M488.7 79.2h0.7M467.4 81.2h0.7M383.4 128.3h0.7M376.7 135.7h0.7M372.6 128.5h0.7M377.5 127.2h0.7M382.4 126.9h0.7M371.8 123.9h0.7M378.8 131.8h0.7M385.9 129.2h0.7M386.4 125.7h0.7M386.5 128.5h0.7M385.8 125.6h0.7M380.8 137.6h0.7M381.1 131.5h0.7M374.7 126.5h0.7M375.9 133.7h0.7M377.1 125.6h0.7M377.5 130.7h0.7M377.6 122.8h0.7M371.4 104.3h0.7M369.6 99.8h0.7M377.3 117.9h0.7M374.5 95.6h0.7M375.6 105.2h0.7M374.9 96.4h0.7M342.0 94.6h0.7M343.5 126.5h0.7M341.3 126.0h0.7M347.3 125.2h0.7M340.1 131.6h0.7M408.0 104.4h0.7M407.1 113.9h0.7M404.4 102.4h0.7M399.5 108.6h0.7M408.4 105.0h0.7M403.3 103.9h0.7M400.6 100.3h0.7M412.6 95.6h0.7M399.9 101.2h0.7M410.9 100.0h0.7M400.6 101.7h0.7M399.3 110.2h0.7M404.6 100.2h0.7M398.7 110.0h0.7M404.6 106.8h0.7M400.5 114.3h0.7M399.5 104.6h0.7M398.9 106.6h0.7M400.7 101.1h0.7M419.7 110.2h0.7M406.3 102.2h0.7M401.3 110.0h0.7M400.9 103.3h0.7M400.1 103.4h0.7M407.3 105.6h0.7M401.2 109.2h0.7M399.9 110.7h0.7M400.0 102.8h0.7M409.7 101.2h0.7M399.0 110.3h0.7M405.1 102.1h0.7M407.3 97.1h0.7M400.6 104.4h0.7M399.4 103.1h0.7M398.8 106.4h0.7M400.8 106.1h0.7M408.6 103.9h0.7M401.5 106.9h0.7M406.3 106.8h0.7M404.5 107.5h0.7M399.4 104.9h0.7M406.3 111.2h0.7M400.9 109.6h0.7M406.1 110.4h0.7M401.3 109.1h0.7M405.2 111.2h0.7M405.6 101.0h0.7M413.7 101.1h0.7M402.9 109.6h0.7M413.7 104.7h0.7M403.2 103.7h0.7M401.7 107.2h0.7M406.4 106.5h0.7M400.5 105.2h0.7M403.6 108.8h0.7M399.5 101.2h0.7M404.5 109.4h0.7M400.9 106.5h0.7M405.0 108.8h0.7M402.9 111.7h0.7M404.9 107.0h0.7M412.8 116.9h0.7M402.5 99.4h0.7M400.7 105.0h0.7M415.0 102.9h0.7M405.2 99.0h0.7M399.6 103.9h0.7M399.7 105.4h0.7M403.1 97.7h0.7M401.0 98.5h0.7M399.5 110.0h0.7M401.3 102.4h0.7M399.1 104.6h0.7M398.6 107.7h0.7M404.0 108.0h0.7M405.7 104.3h0.7M401.6 104.3h0.7M401.0 103.5h0.7M399.8 106.1h0.7M405.7 107.4h0.7M408.9 102.7h0.7M404.3 98.1h0.7M400.3 110.0h0.7M400.6 102.3h0.7M399.2 110.3h0.7M400.4 104.9h0.7M410.5 106.5h0.7M412.4 106.2h0.7M399.9 107.5h0.7M402.7 99.4h0.7M401.9 103.3h0.7M403.2 103.8h0.7M405.1 104.8h0.7M409.8 111.9h0.7M399.2 102.1h0.7M400.3 99.8h0.7M402.5 103.1h0.7M413.6 108.7h0.7M399.2 109.1h0.7M399.4 107.9h0.7M409.8 106.5h0.7M405.8 119.8h0.7M419.5 117.3h0.7M434.8 105.2h0.7M417.7 109.1h0.7M421.6 115.3h0.7M422.9 109.8h0.7M428.7 119.5h0.7M416.2 114.8h0.7M417.8 105.3h0.7M416.3 118.1h0.7M416.2 103.3h0.7M412.6 116.2h0.7M422.5 111.4h0.7M427.0 111.9h0.7M416.3 111.1h0.7M419.4 121.2h0.7M419.7 109.5h0.7M445.9 110.8h0.7M434.0 116.2h0.7M414.9 104.3h0.7M421.1 123.7h0.7M402.2 119.2h0.7M415.4 110.8h0.7M406.0 113.3h0.7M403.7 114.2h0.7M413.3 103.2h0.7M423.3 113.7h0.7M424.9 109.3h0.7M423.2 114.3h0.7M405.0 113.5h0.7M407.4 112.1h0.7M419.6 112.1h0.7M419.2 117.8h0.7M421.2 118.5h0.7M420.1 123.1h0.7M407.3 107.0h0.7M415.5 114.2h0.7M422.5 109.6h0.7M425.5 106.3h0.7M415.3 113.8h0.7M410.6 113.5h0.7M423.9 115.4h0.7M427.3 112.7h0.7M412.7 112.8h0.7M422.1 111.8h0.7M399.2 116.4h0.7M430.7 114.2h0.7M416.1 109.0h0.7M425.1 114.0h0.7M408.5 119.3h0.7M410.3 109.8h0.7M399.7 127.3h0.7M408.7 106.2h0.7M409.4 118.4h0.7M405.5 130.7h0.7M404.2 124.1h0.7M400.4 121.8h0.7M401.3 131.6h0.7M398.7 135.9h0.7M410.1 126.5h0.7M407.7 129.8h0.7M400.2 139.1h0.7M399.2 113.0h0.7M403.4 121.4h0.7M406.3 137.2h0.7M404.8 122.7h0.7M399.6 127.5h0.7M417.7 127.3h0.7M413.8 127.3h0.7M401.1 129.7h0.7M409.2 123.8h0.7M409.1 120.3h0.7M403.1 128.3h0.7M399.6 127.7h0.7M405.8 126.7h0.7M399.0 129.5h0.7M404.4 128.3h0.7M412.8 133.9h0.7M404.6 125.2h0.7M408.2 114.3h0.7M399.8 123.2h0.7M401.3 121.9h0.7M435.1 119.6h0.7M426.5 125.3h0.7M419.5 128.2h0.7M431.1 131.1h0.7M434.9 119.9h0.7M432.3 125.5h0.7M436.1 138.1h0.7M428.7 126.8h0.7M429.9 125.7h0.7M413.1 123.2h0.7M429.1 122.3h0.7M408.3 123.4h0.7M429.1 139.7h0.7M422.7 104.1h0.7M438.0 94.5h0.7M427.1 105.5h0.7M427.9 111.2h0.7M424.0 102.0h0.7M423.1 103.5h0.7M438.0 105.1h0.7M425.2 105.1h0.7M468.1 105.8h0.7M462.4 101.7h0.7M471.1 112.0h0.7M464.0 104.7h0.7M477.1 106.3h0.7M466.8 114.2h0.7M466.7 111.5h0.7M462.1 103.4h0.7M468.2 114.2h0.7M465.8 113.3h0.7M466.3 118.1h0.7M464.7 102.0h0.7M467.2 98.1h0.7M474.6 111.4h0.7M468.8 103.7h0.7M469.0 102.8h0.7M463.8 109.0h0.7M474.8 112.5h0.7M463.0 103.0h0.7M462.0 99.7h0.7M468.7 103.0h0.7M465.2 104.2h0.7M461.5 104.4h0.7M467.4 103.6h0.7M467.1 102.2h0.7M468.1 109.8h0.7M462.9 102.8h0.7M467.3 108.1h0.7M462.2 102.0h0.7M461.7 108.5h0.7M462.3 103.4h0.7M463.6 99.9h0.7M460.7 103.1h0.7M463.5 109.7h0.7M464.6 109.4h0.7M466.4 113.0h0.7M465.3 107.8h0.7M460.8 95.9h0.7M467.2 116.5h0.7M464.7 103.0h0.7M460.8 111.8h0.7M460.8 108.8h0.7M471.4 105.4h0.7M469.4 102.4h0.7M461.6 99.3h0.7M472.0 110.5h0.7M462.0 107.7h0.7M466.6 109.0h0.7M463.7 113.8h0.7M460.6 117.4h0.7M472.8 103.9h0.7M473.9 99.8h0.7M461.7 116.7h0.7M463.1 106.2h0.7M468.8 107.5h0.7M476.5 102.2h0.7M466.4 93.1h0.7M465.4 114.5h0.7M464.3 98.5h0.7M461.8 106.4h0.7M463.4 109.1h0.7M475.6 98.3h0.7M464.5 116.8h0.7M460.8 103.9h0.7M471.1 106.4h0.7M462.7 110.8h0.7M468.5 110.4h0.7M462.1 108.6h0.7M469.5 102.7h0.7M466.6 107.5h0.7M464.5 110.3h0.7M468.6 116.5h0.7M465.0 105.9h0.7M460.9 109.2h0.7M463.3 115.1h0.7M466.4 100.5h0.7M465.8 106.0h0.7M470.1 110.5h0.7M467.7 116.1h0.7M461.5 99.6h0.7M466.8 115.0h0.7M462.4 106.9h0.7M473.9 118.8h0.7M467.2 98.9h0.7M466.4 108.9h0.7M471.2 101.4h0.7M461.9 106.6h0.7M467.1 112.6h0.7M471.7 107.4h0.7M466.3 97.4h0.7M466.8 96.8h0.7M473.0 111.0h0.7M470.3 99.6h0.7M461.9 104.5h0.7M472.0 104.2h0.7M472.7 113.4h0.7M471.4 99.1h0.7M468.9 106.5h0.7M471.2 104.0h0.7M472.7 108.9h0.7M463.5 103.0h0.7M462.3 103.2h0.7M467.1 112.3h0.7M460.8 113.8h0.7M465.2 97.8h0.7M463.2 106.2h0.7M470.1 115.5h0.7M471.9 102.2h0.7M461.8 104.7h0.7M473.9 97.6h0.7M466.4 100.8h0.7M465.7 115.2h0.7M473.0 115.2h0.7M463.6 106.5h0.7M463.0 110.2h0.7M472.0 114.9h0.7M467.3 111.3h0.7M467.8 111.6h0.7M467.6 107.3h0.7M462.9 103.7h0.7M473.4 108.8h0.7M461.9 108.0h0.7M473.4 96.7h0.7M469.2 116.4h0.7M462.3 110.2h0.7M466.2 98.1h0.7M465.0 112.4h0.7M460.7 110.7h0.7M467.5 102.3h0.7M465.6 102.6h0.7M470.9 112.3h0.7M474.2 112.0h0.7M473.9 106.2h0.7M474.2 107.2h0.7M481.0 102.2h0.7M461.0 107.0h0.7M462.4 109.3h0.7M461.3 93.6h0.7M461.1 108.5h0.7M466.7 103.0h0.7M461.5 99.6h0.7M469.4 107.1h0.7M461.2 101.6h0.7M474.2 97.7h0.7M467.7 93.8h0.7M469.2 113.2h0.7M467.0 104.3h0.7M468.1 110.1h0.7M464.6 110.7h0.7M463.7 104.4h0.7M466.6 110.8h0.7M473.6 101.1h0.7M470.4 102.3h0.7M464.0 108.4h0.7M461.5 120.0h0.7M464.4 105.6h0.7M471.8 104.2h0.7M473.6 108.9h0.7M464.8 108.8h0.7M466.9 106.0h0.7M461.6 112.1h0.7M464.0 114.2h0.7M466.7 108.7h0.7M465.1 98.4h0.7M464.1 108.4h0.7M464.8 104.4h0.7M465.1 104.5h0.7M470.8 103.3h0.7M466.9 110.5h0.7M465.8 93.0h0.7M471.0 102.7h0.7M462.9 103.3h0.7M468.2 104.2h0.7M471.6 105.1h0.7M468.7 106.0h0.7M464.0 108.8h0.7M467.1 108.3h0.7M468.8 102.2h0.7M468.4 113.1h0.7M468.7 100.4h0.7M469.6 101.1h0.7M468.0 97.9h0.7M468.8 109.6h0.7M464.4 102.6h0.7M464.5 105.5h0.7M462.6 103.4h0.7M464.1 106.1h0.7M463.1 115.0h0.7M467.9 110.8h0.7M461.8 102.6h0.7M469.6 110.0h0.7M461.6 97.3h0.7M463.5 98.8h0.7M461.6 112.4h0.7M462.7 102.8h0.7M465.2 99.1h0.7M471.5 100.5h0.7M470.0 110.6h0.7M462.2 108.1h0.7M460.8 104.8h0.7M470.8 107.1h0.7M469.9 108.7h0.7M466.1 99.3h0.7M471.1 104.5h0.7M468.2 108.1h0.7M468.8 107.8h0.7M465.2 104.9h0.7M469.4 100.7h0.7M467.3 101.5h0.7M466.6 103.4h0.7M462.5 108.6h0.7M475.2 103.2h0.7M461.9 105.1h0.7M460.7 107.8h0.7M467.7 112.0h0.7M465.2 97.4h0.7M478.9 118.7h0.7M465.9 108.7h0.7M462.5 103.7h0.7M462.4 100.4h0.7M471.4 114.0h0.7M465.6 109.5h0.7M468.8 109.6h0.7M472.6 113.5h0.7M462.6 103.0h0.7M463.1 94.6h0.7M471.1 103.6h0.7M468.4 104.4h0.7M462.1 103.1h0.7M471.2 100.6h0.7M469.7 108.3h0.7M460.9 107.3h0.7M470.7 99.4h0.7M461.1 105.3h0.7M474.7 110.1h0.7M466.3 99.0h0.7M460.8 101.2h0.7M462.3 113.2h0.7M465.3 101.2h0.7M465.0 97.3h0.7M465.5 104.9h0.7M465.7 108.3h0.7M469.3 109.8h0.7M464.5 96.6h0.7M462.1 116.2h0.7M466.1 106.4h0.7M460.7 113.5h0.7M471.9 114.5h0.7M461.8 105.4h0.7M462.1 109.8h0.7M471.3 104.2h0.7M463.6 109.2h0.7M467.3 107.5h0.7M469.5 110.1h0.7M465.0 105.7h0.7M460.7 106.6h0.7M469.2 111.9h0.7M463.9 104.3h0.7M465.5 107.3h0.7M464.3 106.9h0.7M460.8 98.8h0.7M464.3 106.4h0.7M463.4 120.9h0.7M470.0 108.5h0.7M466.4 106.6h0.7M463.4 101.3h0.7M465.1 103.8h0.7M475.8 102.9h0.7M463.0 108.2h0.7M461.5 136.2h0.7M464.9 119.8h0.7M460.8 117.3h0.7M461.0 120.1h0.7M470.2 129.7h0.7M470.4 126.9h0.7M462.9 128.5h0.7M466.6 126.8h0.7M464.9 136.3h0.7M465.5 130.1h0.7M467.8 104.8h0.7M462.1 117.4h0.7M462.0 126.4h0.7M473.3 142.8h0.7M464.2 117.1h0.7M461.8 119.2h0.7M462.0 137.5h0.7M466.8 115.1h0.7M462.6 125.0h0.7M470.3 128.4h0.7M468.7 125.8h0.7M469.3 143.0h0.7M466.8 119.8h0.7M466.5 128.2h0.7M463.0 116.2h0.7M466.5 122.2h0.7M462.0 128.8h0.7M462.2 134.6h0.7M464.5 121.2h0.7M463.4 118.4h0.7M465.2 123.5h0.7M464.1 124.6h0.7M468.2 141.5h0.7M460.8 132.6h0.7M470.0 100.2h0.7M467.7 130.5h0.7M461.7 124.3h0.7M470.7 130.6h0.7M464.4 124.4h0.7M467.2 118.9h0.7M467.1 139.9h0.7M467.3 135.5h0.7M462.0 142.3h0.7M461.0 124.8h0.7M461.3 134.4h0.7M470.1 125.9h0.7M467.9 126.8h0.7M466.9 118.5h0.7M466.4 116.7h0.7M471.6 136.8h0.7M468.1 111.6h0.7M461.1 126.5h0.7M465.4 135.4h0.7M461.3 128.9h0.7M464.2 121.9h0.7M462.3 123.5h0.7M470.6 111.2h0.7M467.5 109.9h0.7M468.4 142.3h0.7M464.1 105.3h0.7M468.4 126.4h0.7M463.9 122.5h0.7M464.1 130.1h0.7M465.4 125.4h0.7M464.6 123.5h0.7M469.8 133.5h0.7M463.9 120.2h0.7M464.7 132.0h0.7M462.6 104.4h0.7M461.2 127.5h0.7M468.0 127.5h0.7M467.8 134.5h0.7M467.8 129.6h0.7M467.2 118.9h0.7M462.1 138.7h0.7M471.2 129.0h0.7M462.6 114.1h0.7M461.8 125.1h0.7M466.7 127.1h0.7M488.3 100.5h0.7M503.0 111.7h0.7M487.2 104.9h0.7M485.3 118.6h0.7M485.7 109.6h0.7M461.8 106.9h0.7M496.5 103.8h0.7M492.0 107.0h0.7M501.1 109.6h0.7M498.7 108.9h0.7M502.9 111.4h0.7M488.7 100.1h0.7M489.8 114.4h0.7M473.1 110.8h0.7M471.8 104.9h0.7M460.7 106.3h0.7M482.5 105.0h0.7M493.7 104.5h0.7M509.5 110.8h0.7M477.0 98.7h0.7M482.9 104.2h0.7M509.8 112.9h0.7M478.8 106.1h0.7M493.2 107.9h0.7M492.7 109.2h0.7M498.3 116.0h0.7M489.1 108.8h0.7M475.9 116.1h0.7M481.9 104.0h0.7M494.7 106.2h0.7M484.0 114.4h0.7M494.3 100.1h0.7M489.8 109.0h0.7M479.2 101.6h0.7M482.2 96.6h0.7M491.8 110.9h0.7M489.0 110.4h0.7M476.6 107.4h0.7M482.1 111.0h0.7M473.3 112.1h0.7M489.4 111.0h0.7M499.0 117.9h0.7M488.0 96.1h0.7M486.8 127.3h0.7M472.9 101.0h0.7M473.6 123.2h0.7M469.6 114.1h0.7M482.3 109.3h0.7M474.7 111.6h0.7M471.7 107.3h0.7M472.2 104.2h0.7M485.2 113.0h0.7M480.8 117.2h0.7M482.4 104.0h0.7M502.5 94.9h0.7M488.5 104.9h0.7M508.0 127.2h0.7M500.3 107.9h0.7M488.9 97.5h0.7M480.9 117.7h0.7M491.4 121.0h0.7M478.4 107.3h0.7M479.2 105.3h0.7M478.5 114.6h0.7M494.9 113.9h0.7M480.0 104.9h0.7M487.3 106.6h0.7M479.0 106.1h0.7M492.3 129.8h0.7M474.0 136.4h0.7M494.9 136.6h0.7M489.4 129.1h0.7M479.4 134.2h0.7M479.7 131.0h0.7M493.2 137.7h0.7M486.6 131.9h0.7M466.6 128.6h0.7M491.7 127.6h0.7M476.4 129.3h0.7M490.9 132.5h0.7M483.5 132.5h0.7" stroke="#000" stroke-opacity="0.33" stroke-width="0.7" fill="none"/>
<path d="M382.6 59.0h0.7M378.8 55.4h0.7M376.8 54.9h0.7M368.8 47.6h0.7M381.7 60.2h0.7M378.4 62.7h0.7M370.9 45.5h0.7M372.8 56.5h0.7M365.2 51.7h0.7M378.9 73.1h0.7M373.3 51.5h0.7M370.8 68.2h0.7M381.7 54.8h0.7M377.8 51.8h0.7M373.4 57.7h0.7M379.3 47.5h0.7M372.8 52.1h0.7M372.8 48.7h0.7M370.1 62.8h0.7M386.5 58.8h0.7M375.1 59.7h0.7M357.0 74.5h0.7M369.5 71.2h0.7M365.3 70.8h0.7M371.8 71.2h0.7M378.5 82.9h0.7M360.8 82.2h0.7M375.2 77.7h0.7M374.2 72.9h0.7M381.3 75.4h0.7M359.6 76.7h0.7M373.7 70.2h0.7M359.8 74.1h0.7M381.7 73.7h0.7M377.0 71.5h0.7M374.1 70.3h0.7M383.9 70.1h0.7M376.3 84.7h0.7M360.9 78.3h0.7M374.0 77.9h0.7M362.3 76.6h0.7M338.5 86.4h0.7M337.7 75.3h0.7M339.9 62.8h0.7M342.3 69.6h0.7M338.0 70.7h0.7M338.9 75.1h0.7M348.0 67.6h0.7M347.6 69.8h0.7M347.2 75.4h0.7M340.6 77.9h0.7M347.8 76.4h0.7M357.2 49.2h0.7M354.4 69.8h0.7M365.0 77.5h0.7M358.0 74.9h0.7M410.1 59.6h0.7M399.0 60.8h0.7M402.2 60.6h0.7M412.0 50.2h0.7M406.9 47.9h0.7M403.2 64.8h0.7M404.1 56.4h0.7M400.7 61.8h0.7M399.1 64.0h0.7M412.6 51.4h0.7M411.9 54.8h0.7M416.7 52.9h0.7M399.7 40.2h0.7M399.3 54.9h0.7M404.7 60.9h0.7M399.2 47.7h0.7M403.8 52.2h0.7M402.7 61.5h0.7M410.5 46.8h0.7M403.6 50.6h0.7M415.8 55.1h0.7M417.7 60.7h0.7M406.5 47.7h0.7M415.2 55.1h0.7M399.9 52.5h0.7M406.9 52.4h0.7M402.4 55.5h0.7M403.3 63.2h0.7M423.7 61.4h0.7M416.3 59.2h0.7M406.0 55.5h0.7M408.8 54.4h0.7M400.7 50.9h0.7M399.6 46.4h0.7M401.8 54.6h0.7M402.0 60.2h0.7M406.4 56.2h0.7M408.0 65.8h0.7M399.6 51.5h0.7M401.5 57.4h0.7M402.3 56.8h0.7M411.0 54.9h0.7M403.0 50.0h0.7M409.2 53.1h0.7M401.8 65.5h0.7M406.5 52.6h0.7M402.9 56.7h0.7M417.5 48.7h0.7M404.7 58.5h0.7M404.4 62.2h0.7M410.0 55.7h0.7M398.7 56.4h0.7M402.6 52.3h0.7M404.4 43.1h0.7M399.5 58.9h0.7M413.1 48.4h0.7M398.7 52.0h0.7M413.6 55.5h0.7M402.7 49.6h0.7M403.7 60.0h0.7M413.4 47.0h0.7M398.9 62.0h0.7M421.2 61.8h0.7M409.8 50.1h0.7M410.9 52.0h0.7M400.9 62.9h0.7M404.3 51.0h0.7M410.2 48.9h0.7M404.4 58.3h0.7M400.1 58.2h0.7M408.9 44.8h0.7M409.2 52.2h0.7M401.7 70.9h0.7M425.6 46.7h0.7M401.8 65.8h0.7M403.0 62.3h0.7M416.0 49.4h0.7M407.8 50.7h0.7M402.9 59.9h0.7M410.3 55.7h0.7M416.9 58.3h0.7M413.0 60.6h0.7M400.8 61.9h0.7M401.3 62.2h0.7M404.5 58.7h0.7M410.8 48.2h0.7M406.8 52.3h0.7M400.5 48.1h0.7M398.8 62.7h0.7M398.9 57.0h0.7M408.5 55.1h0.7M411.6 49.8h0.7M399.2 54.7h0.7M399.0 56.2h0.7M400.6 61.6h0.7M408.0 58.8h0.7M406.4 53.4h0.7M402.1 51.0h0.7M412.9 55.5h0.7M409.0 47.0h0.7M416.4 47.8h0.7M404.1 52.7h0.7M404.1 49.0h0.7M418.9 61.0h0.7M410.4 63.8h0.7M406.2 62.0h0.7M399.4 56.2h0.7M411.2 53.9h0.7M409.0 65.3h0.7M408.4 53.5h0.7M414.9 61.6h0.7M416.2 50.1h0.7M410.8 54.2h0.7M414.3 51.9h0.7M405.3 57.4h0.7M415.7 50.0h0.7M399.7 55.5h0.7M404.5 57.8h0.7M414.3 58.7h0.7M398.8 56.8h0.7M403.8 51.1h0.7M401.2 45.1h0.7M408.4 57.2h0.7M403.5 47.6h0.7M412.1 58.2h0.7M408.7 48.2h0.7M399.0 56.5h0.7M404.0 52.3h0.7M401.0 54.1h0.7M401.0 59.0h0.7M402.0 57.8h0.7M406.9 57.1h0.7M410.4 55.3h0.7M402.5 69.2h0.7M403.9 53.0h0.7M414.8 52.5h0.7M410.0 52.5h0.7M412.4 61.2h0.7M399.2 43.5h0.7M406.7 63.1h0.7M399.9 50.0h0.7M414.9 53.5h0.7M403.7 58.3h0.7M401.1 43.7h0.7M401.1 54.8h0.7M411.8 53.7h0.7M404.2 61.2h0.7M421.0 47.7h0.7M405.2 56.9h0.7M401.4 58.9h0.7M414.6 51.2h0.7M407.3 45.0h0.7M401.8 50.6h0.7M399.2 57.4h0.7M417.3 46.0h0.7M414.2 63.4h0.7M406.8 50.8h0.7M412.2 52.7h0.7M405.8 51.3h0.7M418.5 57.9h0.7M401.3 54.5h0.7M407.0 59.6h0.7M416.6 43.5h0.7M427.2 55.4h0.7M400.6 49.6h0.7M404.0 56.9h0.7M402.3 52.0h0.7M411.9 50.2h0.7M399.9 60.3h0.7M426.5 59.6h0.7M437.8 59.6h0.7M439.4 60.2h0.7M404.7 46.5h0.7M435.4 58.9h0.7M435.9 66.0h0.7M424.4 54.9h0.7M415.1 75.8h0.7M424.7 56.7h0.7M424.9 45.9h0.7M428.3 52.7h0.7M423.5 54.4h0.7M417.3 57.0h0.7M414.1 56.1h0.7M433.7 55.5h0.7M424.7 50.0h0.7M413.4 47.1h0.7M423.5 69.1h0.7M426.3 67.9h0.7M425.8 41.0h0.7M423.7 54.5h0.7M432.4 53.9h0.7M418.1 54.2h0.7M418.6 55.2h0.7M427.4 46.1h0.7M426.3 51.9h0.7M439.4 48.0h0.7M444.6 49.6h0.7M444.3 70.0h0.7M431.2 40.8h0.7M411.9 47.9h0.7M421.5 56.5h0.7M417.1 54.1h0.7M412.7 66.6h0.7M448.8 58.5h0.7M430.9 50.9h0.7M433.6 53.0h0.7M422.3 51.6h0.7M425.0 49.2h0.7M412.4 56.0h0.7M426.6 41.8h0.7M408.2 51.7h0.7M433.6 57.2h0.7M442.6 61.0h0.7M427.9 48.3h0.7M426.8 69.1h0.7M425.4 57.7h0.7M425.7 49.4h0.7M429.6 63.4h0.7M417.4 63.0h0.7M445.0 45.0h0.7M438.5 64.7h0.7M427.5 48.0h0.7M440.6 73.5h0.7M418.9 65.2h0.7M423.5 47.6h0.7M421.6 58.9h0.7M423.3 48.9h0.7M418.6 46.7h0.7M430.6 58.0h0.7M427.9 67.7h0.7M439.1 42.5h0.7M428.2 62.5h0.7M402.2 80.8h0.7M401.5 75.4h0.7M413.6 68.9h0.7M404.8 79.1h0.7M409.9 71.3h0.7M399.9 73.6h0.7M402.0 70.0h0.7M406.9 81.2h0.7M405.6 85.6h0.7M400.4 82.4h0.7M406.0 87.5h0.7M399.7 65.2h0.7M412.9 68.9h0.7M408.2 77.2h0.7M401.7 69.2h0.7M403.1 76.7h0.7M409.4 80.1h0.7M402.7 86.3h0.7M400.4 80.6h0.7M401.0 72.5h0.7M403.8 84.1h0.7M400.5 79.3h0.7M412.0 70.6h0.7M406.6 65.8h0.7M428.0 83.2h0.7M426.6 87.7h0.7M437.6 79.8h0.7M443.2 81.9h0.7M423.7 73.6h0.7M408.9 74.6h0.7M411.2 79.4h0.7M436.0 83.7h0.7M429.1 75.3h0.7M433.0 84.7h0.7M435.4 76.8h0.7M414.5 75.5h0.7M412.5 68.1h0.7M417.8 83.9h0.7M465.6 56.0h0.7M466.2 51.0h0.7M465.3 55.6h0.7M463.8 59.4h0.7M474.7 55.9h0.7M476.3 58.8h0.7M468.3 52.2h0.7M474.1 61.8h0.7M470.5 63.6h0.7M469.7 53.0h0.7M462.5 65.3h0.7M468.2 53.1h0.7M465.6 47.5h0.7M471.2 54.9h0.7M477.9 56.1h0.7M462.0 48.2h0.7M477.1 54.7h0.7M469.7 56.3h0.7M470.4 59.6h0.7M472.7 55.1h0.7M462.8 55.7h0.7M483.9 54.6h0.7M477.0 54.7h0.7M479.2 53.7h0.7M470.9 53.2h0.7M460.6 50.1h0.7M471.9 41.5h0.7M485.3 53.3h0.7M464.1 53.2h0.7M485.7 57.4h0.7M462.3 43.4h0.7M463.2 56.0h0.7M476.4 53.3h0.7M464.6 51.5h0.7M463.5 55.5h0.7M469.4 60.4h0.7M477.8 63.7h0.7M467.3 43.3h0.7M468.7 55.1h0.7M466.7 51.8h0.7M483.7 48.5h0.7M470.3 49.9h0.7M483.9 52.4h0.7M469.9 52.6h0.7M469.9 52.0h0.7M467.9 59.2h0.7M467.1 49.2h0.7M464.2 51.8h0.7M462.7 50.1h0.7M461.1 49.7h0.7M470.2 51.3h0.7M462.0 55.6h0.7M472.1 51.6h0.7M462.6 53.5h0.7M476.7 55.0h0.7M473.6 57.6h0.7M464.1 58.6h0.7M473.2 57.5h0.7M462.9 59.5h0.7M463.7 53.5h0.7M464.0 53.0h0.7M462.5 56.4h0.7M467.7 47.9h0.7M460.6 50.7h0.7M468.5 53.6h0.7M472.3 57.7h0.7M470.6 57.5h0.7M461.5 50.1h0.7M478.3 47.6h0.7M474.7 50.2h0.7M470.1 59.6h0.7M472.0 53.9h0.7M477.7 52.5h0.7M461.2 63.6h0.7M465.6 53.5h0.7M481.1 55.6h0.7M470.6 44.8h0.7M471.6 50.4h0.7M467.8 56.9h0.7M467.4 45.4h0.7M477.1 58.4h0.7M480.0 51.4h0.7M476.2 56.5h0.7M461.1 65.9h0.7M461.8 50.3h0.7M470.2 51.5h0.7M476.1 52.0h0.7M462.7 44.9h0.7M489.8 42.4h0.7M478.6 55.6h0.7M462.6 42.5h0.7M467.0 39.2h0.7M466.9 57.7h0.7M461.3 44.7h0.7M469.8 69.1h0.7M469.6 50.0h0.7M467.7 46.4h0.7M464.9 52.4h0.7M477.3 48.3h0.7M468.9 55.2h0.7M479.3 61.3h0.7M463.9 55.0h0.7M461.1 52.7h0.7M461.2 52.1h0.7M471.7 54.4h0.7M464.3 44.1h0.7M462.8 52.6h0.7M475.4 50.5h0.7M461.7 50.7h0.7M465.8 57.1h0.7M470.1 54.3h0.7M461.7 54.0h0.7M468.1 48.9h0.7M470.7 53.7h0.7M465.2 51.6h0.7M482.0 54.1h0.7M463.2 58.0h0.7M462.7 47.7h0.7M467.3 46.7h0.7M467.5 55.3h0.7M468.1 59.9h0.7M466.9 52.3h0.7M470.7 51.4h0.7M473.2 56.1h0.7M475.9 43.9h0.7M479.4 54.4h0.7M474.9 53.6h0.7M466.0 60.0h0.7M461.0 51.1h0.7M471.5 49.9h0.7M462.1 53.4h0.7M463.0 57.7h0.7M474.5 59.3h0.7M471.4 63.4h0.7M461.6 56.2h0.7M466.9 50.8h0.7M478.8 49.3h0.7M470.5 51.4h0.7M468.7 44.1h0.7M466.4 46.3h0.7M462.4 57.2h0.7M469.7 58.3h0.7M476.7 54.7h0.7M461.7 58.0h0.7M465.9 49.0h0.7M476.3 51.5h0.7M486.2 48.3h0.7M462.0 56.1h0.7M489.4 46.4h0.7M479.7 57.0h0.7M466.8 56.0h0.7M475.2 58.9h0.7M473.2 60.1h0.7M463.8 59.5h0.7M464.1 53.2h0.7M475.2 52.4h0.7M460.7 40.0h0.7M460.9 58.7h0.7M463.9 55.1h0.7M466.9 47.9h0.7M475.7 54.5h0.7M479.2 45.2h0.7M472.6 52.2h0.7M469.1 52.6h0.7M472.7 59.3h0.7M467.8 51.6h0.7M471.7 44.0h0.7M470.7 57.1h0.7M468.2 48.9h0.7M466.6 51.3h0.7M461.0 54.4h0.7M472.5 61.8h0.7M468.6 51.1h0.7M482.1 48.7h0.7M472.4 52.5h0.7M461.5 56.7h0.7M469.3 59.0h0.7M464.3 47.8h0.7M464.1 50.9h0.7M463.4 43.7h0.7M469.6 50.4h0.7M463.5 65.5h0.7M464.8 50.4h0.7M472.9 46.9h0.7M468.1 53.1h0.7M461.9 61.1h0.7M471.9 44.9h0.7M474.7 63.7h0.7M463.9 48.5h0.7M466.4 47.3h0.7M473.4 51.0h0.7M471.3 44.7h0.7M463.7 55.8h0.7M471.5 54.8h0.7M467.5 50.4h0.7M479.2 48.9h0.7M471.1 65.0h0.7M467.3 49.3h0.7M473.3 55.3h0.7M467.6 43.3h0.7M482.5 51.4h0.7M460.7 48.2h0.7M462.6 51.1h0.7M464.3 43.7h0.7M462.7 48.0h0.7M479.7 52.7h0.7M464.2 52.7h0.7M477.3 51.8h0.7M482.3 48.2h0.7M462.9 52.6h0.7M468.4 52.7h0.7M463.3 52.4h0.7M462.0 55.1h0.7M461.6 58.2h0.7M475.3 53.5h0.7M463.1 54.4h0.7M468.2 56.8h0.7M468.0 55.9h0.7M468.5 51.5h0.7M470.1 48.5h0.7M466.8 55.3h0.7M476.2 57.0h0.7M464.9 51.6h0.7M464.2 50.7h0.7M475.6 61.6h0.7M475.3 49.6h0.7M471.4 51.8h0.7M475.2 51.5h0.7M466.8 56.7h0.7M478.5 46.1h0.7M477.5 45.7h0.7M475.7 49.3h0.7M463.5 44.5h0.7M466.7 60.1h0.7M462.3 54.8h0.7M477.3 44.7h0.7M460.8 51.8h0.7M462.7 56.5h0.7M476.8 52.6h0.7M464.7 51.5h0.7M480.3 55.9h0.7M472.0 44.4h0.7M461.2 55.1h0.7M462.8 49.9h0.7M472.4 56.0h0.7M466.7 54.9h0.7M463.4 47.0h0.7M470.0 61.2h0.7M467.2 51.8h0.7M473.2 48.0h0.7M461.7 53.5h0.7M460.7 48.4h0.7M461.2 55.4h0.7M474.2 58.9h0.7M471.4 42.1h0.7M472.0 47.9h0.7M470.6 51.7h0.7M471.6 54.0h0.7M461.2 56.1h0.7M463.0 47.5h0.7M497.1 68.9h0.7M471.8 39.8h0.7M487.5 66.1h0.7M492.6 58.4h0.7M486.2 50.3h0.7M471.6 62.5h0.7M485.2 55.0h0.7M486.6 51.7h0.7M478.1 56.1h0.7M476.7 54.8h0.7M496.1 72.3h0.7M496.3 64.4h0.7M476.6 64.7h0.7M499.6 69.1h0.7M475.2 78.1h0.7M485.2 55.9h0.7M495.3 60.5h0.7M487.1 57.0h0.7M497.9 42.2h0.7M488.5 63.3h0.7M474.9 56.3h0.7M477.9 54.7h0.7M498.3 63.6h0.7M508.8 47.5h0.7M487.3 57.1h0.7M478.7 54.7h0.7M477.6 60.4h0.7M504.0 44.4h0.7M481.4 54.6h0.7M480.8 62.3h0.7M483.6 55.2h0.7M493.8 62.3h0.7M482.3 52.5h0.7M486.6 58.8h0.7M496.1 49.0h0.7M492.6 57.9h0.7M484.0 47.2h0.7M478.1 46.1h0.7M482.6 47.1h0.7M500.4 50.1h0.7M487.1 58.9h0.7M495.2 60.8h0.7M471.5 42.2h0.7M478.6 44.5h0.7M491.8 64.6h0.7M482.4 56.4h0.7M487.1 48.8h0.7M479.8 40.9h0.7M493.3 65.6h0.7M501.5 58.3h0.7M493.3 65.9h0.7M474.9 68.3h0.7M492.3 57.2h0.7M498.2 45.1h0.7M494.4 54.2h0.7M475.5 50.9h0.7M487.2 76.0h0.7M475.9 53.0h0.7M489.9 66.8h0.7M487.3 66.4h0.7M495.7 55.5h0.7M496.9 47.6h0.7M475.4 54.0h0.7M500.9 64.9h0.7M475.0 41.1h0.7M476.2 69.5h0.7M492.0 57.8h0.7M491.6 60.6h0.7M484.3 63.9h0.7M497.8 59.8h0.7M472.6 67.7h0.7M496.4 64.1h0.7M496.2 70.5h0.7M490.1 67.6h0.7M501.8 54.0h0.7M498.5 56.9h0.7M479.9 58.2h0.7M487.0 55.9h0.7M461.0 75.9h0.7M466.1 65.8h0.7M461.8 82.2h0.7M465.6 77.1h0.7M467.2 75.3h0.7M467.8 80.3h0.7M462.0 73.0h0.7M472.8 81.5h0.7M468.9 77.5h0.7M464.2 66.4h0.7M469.5 67.5h0.7M469.5 75.0h0.7M473.6 61.7h0.7M465.7 84.3h0.7M472.9 67.3h0.7M461.6 71.5h0.7M469.0 70.3h0.7M464.2 76.3h0.7M472.5 78.4h0.7M464.9 72.3h0.7M468.0 69.8h0.7M463.6 72.7h0.7M470.4 69.7h0.7M469.4 67.4h0.7M463.0 76.4h0.7M462.6 68.7h0.7M465.8 65.7h0.7M468.3 74.0h0.7M468.0 79.5h0.7M468.9 75.2h0.7M461.7 71.9h0.7M466.0 74.5h0.7M462.9 68.9h0.7M464.3 69.4h0.7M470.5 74.3h0.7M470.4 78.2h0.7M467.3 63.0h0.7M475.5 69.2h0.7M461.4 70.0h0.7M464.1 78.0h0.7M474.3 73.5h0.7M467.0 73.2h0.7M475.7 82.9h0.7M461.9 61.8h0.7M461.9 78.9h0.7M462.5 71.8h0.7M498.3 73.9h0.7M478.7 80.0h0.7M494.6 74.3h0.7M496.7 84.1h0.7M494.9 80.0h0.7M485.5 80.5h0.7M479.0 77.2h0.7M485.7 79.3h0.7M477.4 82.2h0.7M487.4 78.9h0.7M488.4 75.5h0.7M480.7 77.5h0.7M493.1 78.0h0.7M494.5 72.3h0.7M491.7 73.8h0.7M502.1 77.7h0.7M488.1 72.2h0.7M378.1 133.5h0.7M386.6 131.5h0.7M383.9 133.6h0.7M381.8 139.1h0.7M378.7 131.7h0.7M383.2 132.5h0.7M381.2 125.6h0.7M376.7 129.4h0.7M378.5 130.2h0.7M386.1 129.8h0.7M380.7 131.6h0.7M375.3 129.8h0.7M381.7 130.7h0.7M379.1 125.3h0.7M382.7 134.3h0.7M387.4 130.9h0.7M377.1 131.0h0.7M376.0 133.8h0.7M359.4 118.8h0.7M383.7 112.3h0.7M379.6 106.0h0.7M383.4 112.1h0.7M362.7 113.4h0.7M358.4 101.9h0.7M351.2 95.7h0.7M340.8 132.5h0.7M343.3 128.8h0.7M342.6 122.5h0.7M348.5 123.0h0.7M409.4 109.2h0.7M401.5 108.1h0.7M403.3 100.7h0.7M415.6 102.0h0.7M405.4 109.5h0.7M404.1 102.9h0.7M402.7 104.2h0.7M406.3 109.9h0.7M411.8 103.6h0.7M401.2 113.9h0.7M398.7 102.3h0.7M401.5 107.8h0.7M402.7 101.9h0.7M405.6 100.6h0.7M400.2 108.7h0.7M400.7 99.2h0.7M404.8 101.0h0.7M410.5 103.7h0.7M407.5 102.5h0.7M400.7 105.9h0.7M405.1 106.5h0.7M408.7 100.3h0.7M411.7 98.9h0.7M400.9 105.4h0.7M401.8 104.8h0.7M405.6 98.8h0.7M399.2 108.0h0.7M409.0 106.0h0.7M407.0 115.5h0.7M400.1 105.5h0.7M401.9 100.2h0.7M399.2 99.8h0.7M403.1 106.4h0.7M402.2 99.2h0.7M401.2 102.3h0.7M408.5 108.2h0.7M399.8 111.5h0.7M400.2 104.4h0.7M403.4 110.1h0.7M406.4 101.9h0.7M402.9 103.3h0.7M398.7 106.2h0.7M405.2 98.3h0.7M412.3 110.1h0.7M402.2 103.9h0.7M399.5 101.8h0.7M403.2 110.2h0.7M399.8 99.5h0.7M404.7 102.7h0.7M403.0 108.7h0.7M400.5 107.1h0.7M400.3 103.0h0.7M398.7 103.5h0.7M406.6 104.1h0.7M400.8 108.1h0.7M401.1 108.2h0.7M409.2 99.4h0.7M398.8 100.5h0.7M401.1 103.1h0.7M401.4 105.5h0.7M401.9 106.3h0.7M406.9 106.2h0.7M403.7 110.5h0.7M402.1 106.7h0.7M400.8 106.7h0.7M405.7 106.5h0.7M407.3 95.2h0.7M407.4 98.0h0.7M399.5 102.6h0.7M404.2 98.1h0.7M414.0 112.5h0.7M407.7 107.2h0.7M409.9 105.8h0.7M408.0 101.3h0.7M408.1 105.9h0.7M402.6 110.7h0.7M409.4 116.2h0.7M399.2 100.9h0.7M404.9 107.1h0.7M398.8 107.7h0.7M401.5 115.8h0.7M404.9 100.6h0.7M398.7 100.8h0.7M399.4 106.7h0.7M399.7 109.7h0.7M400.0 107.6h0.7M403.5 102.2h0.7M405.1 105.6h0.7M407.4 99.9h0.7M398.8 108.9h0.7M400.2 105.4h0.7M405.7 106.6h0.7M410.0 116.7h0.7M399.7 109.5h0.7M403.8 106.9h0.7M407.9 112.2h0.7M407.4 104.9h0.7M415.1 106.0h0.7M412.1 104.9h0.7M404.6 103.4h0.7M414.1 116.7h0.7M407.9 121.8h0.7M401.1 112.3h0.7M422.0 113.5h0.7M422.8 104.4h0.7M423.9 110.6h0.7M405.6 111.1h0.7M400.5 103.3h0.7M403.1 108.0h0.7M424.0 113.5h0.7M420.3 106.6h0.7M404.7 114.1h0.7M400.0 106.2h0.7M402.3 111.1h0.7M404.8 113.4h0.7M413.7 120.6h0.7M417.7 115.9h0.7M416.4 110.6h0.7M422.0 110.1h0.7M414.8 120.5h0.7M406.5 115.1h0.7M418.7 111.7h0.7M426.4 127.3h0.7M420.8 112.5h0.7M426.9 118.5h0.7M422.8 107.0h0.7M432.3 115.2h0.7M421.7 119.2h0.7M427.0 107.6h0.7M407.8 107.0h0.7M411.3 113.6h0.7M422.1 107.8h0.7M400.1 116.0h0.7M417.8 111.2h0.7M399.3 122.1h0.7M408.0 115.2h0.7M405.3 112.9h0.7M410.6 111.2h0.7M421.6 112.7h0.7M420.9 108.3h0.7M411.6 101.9h0.7M428.4 117.7h0.7M420.0 115.2h0.7M420.2 120.7h0.7M409.2 121.7h0.7M425.7 108.8h0.7M421.7 109.5h0.7M419.8 106.7h0.7M417.8 102.1h0.7M418.7 103.1h0.7M402.9 106.7h0.7M417.6 111.5h0.7M400.1 125.1h0.7M406.6 120.5h0.7M398.6 133.9h0.7M403.3 120.4h0.7M402.0 128.2h0.7M399.7 139.6h0.7M406.2 137.1h0.7M409.4 118.0h0.7M398.9 118.7h0.7M403.8 129.8h0.7M409.4 123.0h0.7M398.9 131.7h0.7M400.1 116.0h0.7M402.6 126.9h0.7M407.6 138.4h0.7M406.7 127.2h0.7M404.7 133.9h0.7M399.6 125.4h0.7M400.1 135.5h0.7M404.1 130.3h0.7M401.1 117.4h0.7M410.3 132.1h0.7M418.9 118.2h0.7M411.8 125.6h0.7M401.5 118.7h0.7M399.2 133.2h0.7M400.2 126.6h0.7M398.8 123.3h0.7M406.0 114.4h0.7M401.2 126.3h0.7M407.9 116.2h0.7M434.5 128.4h0.7M413.3 122.0h0.7M422.7 135.8h0.7M441.2 130.6h0.7M444.3 119.6h0.7M416.7 131.5h0.7M437.6 124.2h0.7M422.2 127.2h0.7M420.8 129.0h0.7M437.2 131.2h0.7M441.2 138.9h0.7M411.6 119.2h0.7M413.5 123.3h0.7M418.3 104.9h0.7M414.3 105.9h0.7M411.2 106.3h0.7M402.0 104.0h0.7M425.8 99.4h0.7M423.2 100.3h0.7M423.7 102.2h0.7M439.6 99.4h0.7M467.9 110.5h0.7M468.0 104.9h0.7M469.5 95.2h0.7M466.2 101.8h0.7M469.3 107.1h0.7M473.0 109.0h0.7M468.5 105.3h0.7M460.8 105.2h0.7M464.1 106.6h0.7M470.9 105.0h0.7M473.2 106.5h0.7M470.6 101.0h0.7M461.1 102.4h0.7M463.8 107.1h0.7M467.2 104.9h0.7M467.8 109.6h0.7M466.5 100.4h0.7M471.6 108.7h0.7M467.0 112.2h0.7M464.1 118.1h0.7M472.5 105.4h0.7M475.9 96.3h0.7M461.9 98.5h0.7M466.0 101.3h0.7M468.7 110.5h0.7M477.4 97.0h0.7M461.4 107.3h0.7M466.7 109.3h0.7M467.3 114.7h0.7M461.4 114.2h0.7M469.5 106.9h0.7M463.6 101.9h0.7M461.6 118.6h0.7M465.1 102.3h0.7M466.9 105.9h0.7M471.0 113.8h0.7M473.1 100.9h0.7M461.7 113.5h0.7M463.6 106.1h0.7M468.9 109.7h0.7M463.0 98.4h0.7M464.0 113.8h0.7M461.4 102.5h0.7M470.4 108.4h0.7M461.7 108.9h0.7M469.7 97.8h0.7M475.0 100.6h0.7M462.1 108.8h0.7M465.6 110.5h0.7M469.7 104.1h0.7M462.5 107.5h0.7M466.3 114.2h0.7M462.6 101.8h0.7M467.8 110.3h0.7M470.9 108.3h0.7M468.1 106.0h0.7M469.3 113.6h0.7M461.4 101.8h0.7M465.1 109.7h0.7M464.1 108.1h0.7M461.0 112.4h0.7M463.3 112.2h0.7M473.1 103.3h0.7M476.2 102.8h0.7M463.3 113.8h0.7M462.4 116.1h0.7M470.4 100.6h0.7M466.8 101.5h0.7M460.8 106.7h0.7M467.8 114.2h0.7M469.6 98.8h0.7M468.2 110.1h0.7M467.7 104.7h0.7M464.3 112.0h0.7M471.9 115.4h0.7M466.5 114.2h0.7M464.2 106.7h0.7M475.6 101.3h0.7M466.0 104.7h0.7M465.3 110.5h0.7M467.2 100.5h0.7M462.1 109.0h0.7M461.5 102.4h0.7M467.2 110.1h0.7M482.0 111.2h0.7M466.5 102.4h0.7M460.6 103.4h0.7M473.5 105.0h0.7M468.2 117.3h0.7M461.4 107.5h0.7M461.8 104.2h0.7M463.5 105.0h0.7M476.6 109.2h0.7M461.1 94.4h0.7M466.8 103.7h0.7M467.7 120.7h0.7M474.1 108.0h0.7M463.5 112.4h0.7M466.2 105.0h0.7M471.8 104.2h0.7M463.4 110.4h0.7M461.8 104.9h0.7M470.2 108.4h0.7M472.2 105.8h0.7M465.3 98.9h0.7M463.5 107.1h0.7M467.5 104.6h0.7M461.0 102.3h0.7M470.3 105.9h0.7M462.6 111.5h0.7M462.6 110.0h0.7M470.0 103.3h0.7M465.4 110.0h0.7M466.7 108.7h0.7M468.3 107.7h0.7M469.3 110.4h0.7M472.7 107.8h0.7M476.0 101.9h0.7M462.9 106.8h0.7M471.3 99.7h0.7M463.8 110.5h0.7M461.6 110.3h0.7M462.3 117.3h0.7M467.3 104.4h0.7M466.9 113.9h0.7M461.2 97.4h0.7M463.1 105.0h0.7M462.9 107.2h0.7M461.7 109.6h0.7M471.6 108.3h0.7M471.0 110.6h0.7M464.7 104.3h0.7M470.8 103.5h0.7M476.9 106.9h0.7M475.6 118.9h0.7M462.9 104.6h0.7M471.1 111.2h0.7M467.5 99.8h0.7M470.7 103.2h0.7M469.1 112.4h0.7M472.0 109.2h0.7M470.1 109.8h0.7M467.0 104.6h0.7M468.6 107.4h0.7M470.5 106.8h0.7M471.2 104.2h0.7M470.5 114.9h0.7M476.9 105.9h0.7M464.2 108.1h0.7M463.0 114.5h0.7M469.3 101.4h0.7M466.0 105.1h0.7M478.3 111.2h0.7M465.1 99.2h0.7M468.0 113.5h0.7M465.1 109.7h0.7M469.8 115.2h0.7M472.9 108.1h0.7M470.3 102.8h0.7M460.9 106.6h0.7M469.6 104.9h0.7M468.8 99.6h0.7M463.3 109.4h0.7M469.4 110.9h0.7M462.1 115.2h0.7M469.0 106.4h0.7M468.9 120.4h0.7M466.7 102.5h0.7M468.5 103.3h0.7M467.0 106.7h0.7M472.3 107.5h0.7M467.0 102.2h0.7M462.7 102.2h0.7M479.3 106.3h0.7M461.7 102.5h0.7M467.9 120.5h0.7M466.1 97.5h0.7M462.5 95.0h0.7M465.5 110.9h0.7M464.8 109.9h0.7M470.3 96.7h0.7M461.2 106.0h0.7M462.4 109.1h0.7M464.5 111.0h0.7M463.4 107.3h0.7M472.9 111.1h0.7M471.9 106.6h0.7M470.6 112.3h0.7M474.2 112.6h0.7M469.1 110.2h0.7M470.4 108.6h0.7M468.6 107.2h0.7M472.3 112.7h0.7M462.0 102.8h0.7M467.1 103.2h0.7M464.5 111.6h0.7M462.2 106.8h0.7M472.2 107.7h0.7M477.8 104.0h0.7M471.0 101.3h0.7M468.8 104.5h0.7M466.8 114.3h0.7M462.0 108.4h0.7M467.5 111.5h0.7M469.7 104.0h0.7M461.9 113.3h0.7M466.7 104.7h0.7M468.1 117.0h0.7M469.6 94.2h0.7M462.4 97.2h0.7M462.2 116.8h0.7M471.7 102.8h0.7M463.8 112.8h0.7M461.2 104.0h0.7M461.7 111.0h0.7M471.3 113.6h0.7M472.4 100.3h0.7M461.0 110.6h0.7M462.1 106.0h0.7M468.0 105.0h0.7M469.4 102.8h0.7M472.6 118.4h0.7M469.7 98.3h0.7M476.2 100.8h0.7M469.3 100.6h0.7M463.3 103.2h0.7M471.1 100.5h0.7M474.6 106.0h0.7M469.4 112.1h0.7M471.1 104.5h0.7M461.7 99.0h0.7M461.2 117.1h0.7M463.7 114.7h0.7M461.6 115.9h0.7M465.0 107.8h0.7M461.7 110.5h0.7M463.2 102.3h0.7M467.3 106.2h0.7M463.5 115.0h0.7M468.3 106.0h0.7M465.8 114.5h0.7M461.7 111.4h0.7M470.9 108.4h0.7M465.3 108.6h0.7M472.7 110.6h0.7M469.5 100.2h0.7M467.5 110.3h0.7M467.7 99.8h0.7M467.8 109.2h0.7M476.3 111.9h0.7M461.3 100.1h0.7M474.2 103.6h0.7M470.7 109.8h0.7M466.1 110.1h0.7M466.4 103.3h0.7M469.6 102.9h0.7M473.9 103.3h0.7M469.5 111.6h0.7M460.6 106.5h0.7M467.5 111.1h0.7M467.2 110.9h0.7M466.3 104.4h0.7M472.7 112.3h0.7M464.5 112.3h0.7M468.4 106.0h0.7M466.3 113.9h0.7M467.2 109.9h0.7M464.4 98.0h0.7M462.7 108.1h0.7M465.1 122.5h0.7M464.9 128.9h0.7M463.9 132.3h0.7M465.1 133.3h0.7M461.7 137.6h0.7M467.2 137.9h0.7M465.1 127.6h0.7M468.6 122.1h0.7M462.2 123.9h0.7M462.4 121.7h0.7M468.3 118.7h0.7M471.3 121.5h0.7M463.7 129.5h0.7M463.1 121.3h0.7M470.7 126.4h0.7M466.2 98.4h0.7M476.5 129.4h0.7M462.0 121.1h0.7M470.2 120.7h0.7M465.9 128.2h0.7M464.5 123.1h0.7M469.7 128.6h0.7M469.5 134.3h0.7M461.8 130.5h0.7M467.8 116.2h0.7M464.8 114.2h0.7M462.1 115.5h0.7M469.1 106.0h0.7M461.0 121.2h0.7M466.3 122.7h0.7M463.2 137.3h0.7M462.0 116.7h0.7M463.4 121.8h0.7M462.1 114.8h0.7M464.9 123.1h0.7M464.3 130.5h0.7M469.4 120.1h0.7M467.9 129.0h0.7M468.9 140.2h0.7M461.8 123.8h0.7M464.8 120.0h0.7M464.7 116.1h0.7M466.0 131.5h0.7M464.6 118.7h0.7M467.4 122.8h0.7M461.4 120.8h0.7M464.1 108.9h0.7M471.7 129.2h0.7M462.4 127.4h0.7M467.9 124.3h0.7M464.5 127.8h0.7M466.5 128.7h0.7M462.9 127.7h0.7M463.9 118.2h0.7M468.8 124.1h0.7M463.9 112.1h0.7M464.9 118.4h0.7M461.1 122.9h0.7M469.6 121.8h0.7M464.1 128.1h0.7M464.0 117.1h0.7M466.3 132.7h0.7M464.4 114.2h0.7M461.8 124.3h0.7M474.3 125.3h0.7M462.9 122.1h0.7M465.6 128.5h0.7M465.8 126.9h0.7M465.0 119.7h0.7M471.7 126.8h0.7M461.6 124.5h0.7M467.9 124.1h0.7M471.6 112.2h0.7M469.0 132.7h0.7M468.6 122.3h0.7M471.7 140.9h0.7M461.3 132.5h0.7M462.7 116.9h0.7M470.3 126.1h0.7M468.1 104.9h0.7M504.0 107.5h0.7M499.7 109.8h0.7M488.1 108.3h0.7M486.7 111.2h0.7M503.6 95.5h0.7M486.3 109.6h0.7M472.1 117.7h0.7M485.4 110.3h0.7M473.4 106.0h0.7M476.0 112.7h0.7M499.2 114.7h0.7M492.4 103.1h0.7M470.3 117.7h0.7M502.6 117.3h0.7M498.1 106.3h0.7M492.4 118.2h0.7M482.9 106.8h0.7M480.6 104.9h0.7M481.4 108.4h0.7M487.4 107.1h0.7M487.9 110.0h0.7M484.4 117.0h0.7M495.7 114.3h0.7M471.2 100.5h0.7M474.1 109.7h0.7M478.8 111.5h0.7M499.5 106.8h0.7M481.6 112.9h0.7M471.4 120.9h0.7M499.9 116.9h0.7M493.7 104.7h0.7M484.9 114.9h0.7M484.0 99.9h0.7M476.4 105.2h0.7M484.2 97.6h0.7M490.6 103.6h0.7M492.8 108.1h0.7M504.6 106.3h0.7M496.4 108.3h0.7M497.3 107.6h0.7M491.6 109.8h0.7M475.5 120.5h0.7M500.6 112.1h0.7M495.9 110.1h0.7M474.0 107.4h0.7M499.2 109.2h0.7M474.6 105.3h0.7M491.3 105.3h0.7M504.1 118.9h0.7M469.4 108.3h0.7M481.8 109.2h0.7M486.0 113.6h0.7M496.1 118.0h0.7M494.1 122.1h0.7M489.8 115.5h0.7M466.7 121.2h0.7M481.3 106.5h0.7M469.3 113.2h0.7M490.1 99.7h0.7M478.7 115.6h0.7M477.5 110.8h0.7M496.2 113.9h0.7M502.9 117.0h0.7M490.0 113.3h0.7M496.9 120.0h0.7M500.8 116.3h0.7M501.4 115.6h0.7M475.8 130.9h0.7M482.8 130.9h0.7M495.5 130.8h0.7M498.3 136.7h0.7M497.3 136.6h0.7M465.2 128.8h0.7M499.3 137.9h0.7M497.2 128.2h0.7M477.3 132.5h0.7M501.8 136.8h0.7M497.5 135.8h0.7M487.8 116.8h0.7M496.0 133.0h0.7" stroke="#000" stroke-opacity="0.33" stroke-width="0.7" fill="none"/>
<path d="M370.4 52.5h0.7M373.0 43.4h0.7M369.3 60.5h0.7M376.7 53.9h0.7M365.0 53.1h0.7M376.8 48.8h0.7M373.9 51.6h0.7M378.4 57.7h0.7M378.0 56.4h0.7M385.1 48.6h0.7M372.4 55.9h0.7M363.9 61.4h0.7M374.2 56.7h0.7M383.3 41.0h0.7M375.8 63.0h0.7M386.8 57.2h0.7M368.8 63.7h0.7M370.5 52.0h0.7M376.0 56.8h0.7M363.3 54.8h0.7M376.4 55.6h0.7M378.7 77.9h0.7M358.4 75.5h0.7M376.1 80.5h0.7M362.5 79.2h0.7M358.1 74.8h0.7M380.9 77.6h0.7M366.7 75.3h0.7M362.7 73.8h0.7M369.4 70.3h0.7M377.4 73.7h0.7M371.8 79.4h0.7M367.0 79.9h0.7M368.6 81.4h0.7M357.6 73.1h0.7M387.3 77.2h0.7M377.2 72.0h0.7M355.9 83.3h0.7M377.1 78.8h0.7M374.9 75.2h0.7M370.3 79.9h0.7M340.1 62.9h0.7M338.5 52.0h0.7M338.5 68.4h0.7M337.4 52.8h0.7M338.5 74.2h0.7M337.2 71.1h0.7M337.4 70.3h0.7M338.3 79.6h0.7M347.1 71.1h0.7M345.7 76.8h0.7M344.2 83.6h0.7M371.1 57.0h0.7M366.0 74.7h0.7M359.5 63.8h0.7M365.4 71.4h0.7M402.1 54.6h0.7M412.7 54.1h0.7M404.6 49.7h0.7M412.8 48.3h0.7M403.4 53.5h0.7M398.8 57.3h0.7M404.0 55.1h0.7M412.5 64.0h0.7M412.3 51.9h0.7M406.2 49.4h0.7M410.0 58.6h0.7M408.5 56.9h0.7M408.4 53.8h0.7M400.6 55.0h0.7M400.1 49.3h0.7M404.8 45.4h0.7M408.9 46.1h0.7M404.9 52.2h0.7M405.0 43.3h0.7M407.8 56.0h0.7M414.6 57.9h0.7M406.1 50.7h0.7M399.5 50.5h0.7M400.9 51.0h0.7M401.4 52.2h0.7M407.3 54.8h0.7M409.4 57.9h0.7M410.7 50.6h0.7M416.7 43.9h0.7M399.2 57.2h0.7M411.4 51.0h0.7M416.2 48.0h0.7M410.4 44.4h0.7M411.1 57.5h0.7M399.8 54.6h0.7M409.3 51.8h0.7M402.6 52.2h0.7M412.5 56.5h0.7M409.2 56.1h0.7M398.6 39.2h0.7M408.6 55.6h0.7M407.7 59.5h0.7M411.0 48.7h0.7M399.6 47.0h0.7M403.7 57.7h0.7M403.8 57.5h0.7M407.7 51.0h0.7M398.6 56.0h0.7M405.0 57.3h0.7M406.6 56.1h0.7M401.9 49.8h0.7M400.8 42.5h0.7M400.6 53.9h0.7M418.6 61.0h0.7M415.2 51.0h0.7M403.0 61.5h0.7M399.7 62.5h0.7M428.8 56.1h0.7M407.3 50.4h0.7M399.1 52.3h0.7M401.8 50.2h0.7M412.1 50.8h0.7M404.2 55.2h0.7M406.5 51.4h0.7M398.9 51.5h0.7M405.3 54.0h0.7M407.9 48.4h0.7M408.3 51.2h0.7M403.0 53.6h0.7M401.5 45.4h0.7M410.5 51.9h0.7M416.0 50.2h0.7M405.6 54.5h0.7M414.2 61.0h0.7M417.6 63.8h0.7M404.4 60.1h0.7M415.5 53.7h0.7M414.9 58.4h0.7M406.6 53.1h0.7M420.4 44.1h0.7M414.6 63.7h0.7M403.4 56.7h0.7M415.0 55.3h0.7M404.9 48.8h0.7M401.6 45.5h0.7M411.1 55.8h0.7M415.8 55.9h0.7M407.3 55.6h0.7M404.9 56.3h0.7M409.5 54.3h0.7M407.2 49.1h0.7M406.3 50.0h0.7M404.6 51.8h0.7M400.7 56.5h0.7M404.5 59.0h0.7M407.1 50.1h0.7M399.8 54.8h0.7M409.9 55.0h0.7M402.6 43.0h0.7M401.7 61.0h0.7M404.4 54.0h0.7M408.7 51.3h0.7M405.1 46.3h0.7M417.8 54.4h0.7M407.3 58.6h0.7M404.2 48.5h0.7M404.2 51.1h0.7M410.7 55.9h0.7M400.3 57.8h0.7M403.3 44.9h0.7M401.0 58.3h0.7M429.6 59.8h0.7M406.0 56.0h0.7M403.1 54.4h0.7M399.7 54.6h0.7M399.2 46.1h0.7M401.4 48.5h0.7M412.5 47.0h0.7M414.4 60.4h0.7M399.2 40.5h0.7M398.7 54.0h0.7M404.2 59.4h0.7M399.8 47.0h0.7M420.4 53.3h0.7M410.6 51.9h0.7M401.1 66.2h0.7M417.9 53.5h0.7M398.8 45.0h0.7M401.8 66.9h0.7M403.8 45.4h0.7M417.5 54.5h0.7M406.8 62.1h0.7M406.2 56.1h0.7M400.3 49.2h0.7M402.6 56.2h0.7M400.3 68.0h0.7M400.4 59.5h0.7M403.2 46.2h0.7M408.0 59.7h0.7M407.9 61.5h0.7M409.5 54.0h0.7M402.9 49.6h0.7M408.4 58.8h0.7M401.8 50.8h0.7M405.7 53.5h0.7M412.2 60.8h0.7M404.2 48.3h0.7M407.2 55.2h0.7M406.5 50.8h0.7M404.6 47.6h0.7M405.7 62.8h0.7M399.8 55.3h0.7M419.1 59.3h0.7M406.8 56.1h0.7M401.3 59.3h0.7M398.6 56.6h0.7M398.8 40.6h0.7M399.1 57.5h0.7M415.0 60.7h0.7M400.1 48.8h0.7M403.7 50.3h0.7M410.0 51.3h0.7M403.6 50.6h0.7M400.7 48.5h0.7M404.6 44.2h0.7M415.5 52.6h0.7M402.5 51.7h0.7M400.6 53.5h0.7M430.4 51.6h0.7M442.6 45.7h0.7M415.6 60.4h0.7M421.7 58.0h0.7M433.4 51.2h0.7M407.3 47.4h0.7M411.9 59.8h0.7M430.1 55.8h0.7M417.7 60.4h0.7M433.6 50.7h0.7M426.2 52.6h0.7M414.5 51.9h0.7M443.1 59.3h0.7M428.0 55.3h0.7M410.4 41.2h0.7M434.1 56.6h0.7M422.5 52.9h0.7M432.4 55.2h0.7M419.9 53.1h0.7M426.6 54.8h0.7M415.2 57.4h0.7M422.5 58.7h0.7M421.8 66.6h0.7M424.2 48.2h0.7M430.3 61.4h0.7M421.3 61.9h0.7M435.4 47.8h0.7M425.5 55.1h0.7M418.3 45.0h0.7M428.5 55.6h0.7M429.6 48.6h0.7M430.3 49.4h0.7M433.2 75.7h0.7M424.5 43.8h0.7M429.8 56.6h0.7M424.1 51.3h0.7M430.7 48.6h0.7M437.5 68.5h0.7M414.0 46.6h0.7M415.5 76.6h0.7M425.2 50.7h0.7M408.6 63.4h0.7M433.8 67.1h0.7M414.2 52.8h0.7M431.9 61.2h0.7M428.9 61.8h0.7M434.0 73.1h0.7M418.9 64.6h0.7M421.8 52.9h0.7M411.9 56.4h0.7M424.7 56.2h0.7M428.6 49.4h0.7M419.4 57.4h0.7M427.0 62.2h0.7M423.7 48.5h0.7M424.4 50.2h0.7M427.9 60.5h0.7M419.3 63.8h0.7M437.2 51.5h0.7M418.6 59.0h0.7M433.1 61.1h0.7M438.8 48.3h0.7M424.3 43.2h0.7M410.9 45.4h0.7M399.0 80.3h0.7M406.2 82.8h0.7M399.2 73.2h0.7M400.7 77.7h0.7M416.0 75.5h0.7M398.7 64.7h0.7M408.5 74.8h0.7M403.2 75.7h0.7M406.2 81.3h0.7M398.8 73.2h0.7M406.9 77.3h0.7M403.6 80.6h0.7M408.2 77.3h0.7M404.8 76.7h0.7M403.1 71.3h0.7M409.1 73.6h0.7M400.2 76.5h0.7M411.0 83.7h0.7M405.4 81.0h0.7M400.5 70.8h0.7M399.3 65.8h0.7M399.0 82.2h0.7M402.1 81.4h0.7M402.2 60.2h0.7M412.4 76.6h0.7M430.2 84.5h0.7M432.0 86.2h0.7M425.3 67.0h0.7M426.1 67.9h0.7M412.1 81.5h0.7M425.6 70.8h0.7M410.0 86.4h0.7M424.1 68.0h0.7M430.7 72.8h0.7M437.3 81.7h0.7M435.3 76.1h0.7M417.8 81.2h0.7M424.0 83.8h0.7M462.4 52.6h0.7M474.9 54.8h0.7M473.1 54.3h0.7M462.5 58.3h0.7M466.7 54.4h0.7M468.8 54.9h0.7M470.6 57.2h0.7M468.1 57.2h0.7M467.4 52.3h0.7M470.5 52.6h0.7M481.3 54.1h0.7M471.3 49.6h0.7M471.9 49.4h0.7M467.8 54.7h0.7M465.4 56.4h0.7M467.5 57.4h0.7M468.7 58.4h0.7M474.2 44.8h0.7M476.7 58.3h0.7M461.1 59.6h0.7M474.2 61.2h0.7M472.0 55.6h0.7M469.3 48.3h0.7M463.3 61.2h0.7M463.3 53.6h0.7M472.4 46.7h0.7M469.5 49.9h0.7M460.7 59.1h0.7M473.5 54.8h0.7M472.4 57.8h0.7M462.8 62.0h0.7M471.2 54.4h0.7M472.4 56.5h0.7M477.2 55.6h0.7M464.3 60.0h0.7M478.2 47.7h0.7M465.3 62.2h0.7M466.2 48.9h0.7M475.3 51.1h0.7M469.4 48.1h0.7M475.8 57.8h0.7M464.2 50.2h0.7M466.6 52.7h0.7M478.8 45.6h0.7M461.4 60.8h0.7M464.6 53.7h0.7M464.9 53.4h0.7M475.8 56.4h0.7M468.1 53.3h0.7M471.4 50.6h0.7M473.3 53.1h0.7M463.8 46.1h0.7M469.0 54.0h0.7M474.2 49.5h0.7M469.4 53.4h0.7M471.7 53.5h0.7M464.3 66.9h0.7M472.2 51.9h0.7M476.3 49.8h0.7M468.8 44.5h0.7M464.9 49.2h0.7M464.6 58.4h0.7M463.0 52.0h0.7M471.7 56.4h0.7M475.1 49.6h0.7M462.2 53.5h0.7M460.9 49.6h0.7M462.0 51.9h0.7M463.0 62.6h0.7M478.1 59.5h0.7M476.4 58.1h0.7M472.0 50.4h0.7M464.1 48.9h0.7M488.8 48.6h0.7M463.1 59.3h0.7M467.1 59.0h0.7M460.8 45.6h0.7M462.3 47.6h0.7M465.5 49.3h0.7M461.5 48.1h0.7M472.9 50.4h0.7M464.3 49.8h0.7M477.6 50.1h0.7M465.3 55.7h0.7M467.6 56.9h0.7M472.5 47.6h0.7M464.5 59.2h0.7M476.5 57.9h0.7M469.3 53.6h0.7M467.5 53.0h0.7M470.3 52.3h0.7M464.2 44.1h0.7M475.6 48.2h0.7M474.4 61.4h0.7M463.3 54.7h0.7M461.8 47.3h0.7M464.4 58.4h0.7M483.3 59.9h0.7M476.0 55.8h0.7M471.6 40.5h0.7M477.0 60.9h0.7M466.6 50.1h0.7M461.8 50.4h0.7M462.8 63.6h0.7M461.0 40.5h0.7M466.9 62.6h0.7M472.6 62.0h0.7M481.1 51.2h0.7M469.6 58.6h0.7M471.8 63.1h0.7M466.7 59.8h0.7M478.1 54.8h0.7M474.8 52.7h0.7M474.6 53.5h0.7M464.1 39.8h0.7M476.1 58.3h0.7M462.1 61.5h0.7M482.2 52.4h0.7M461.0 50.2h0.7M467.3 47.8h0.7M467.2 53.6h0.7M468.1 50.7h0.7M461.5 60.8h0.7M474.2 52.1h0.7M462.6 47.1h0.7M466.7 55.8h0.7M485.7 57.9h0.7M468.2 53.6h0.7M475.3 49.1h0.7M476.2 50.3h0.7M470.7 59.2h0.7M469.5 55.3h0.7M466.3 54.4h0.7M467.7 46.5h0.7M462.0 51.6h0.7M471.5 49.2h0.7M469.9 56.0h0.7M473.8 52.6h0.7M469.7 53.0h0.7M476.6 52.4h0.7M479.0 50.3h0.7M468.9 53.1h0.7M469.8 52.0h0.7M464.0 49.5h0.7M464.1 49.5h0.7M472.7 55.6h0.7M477.3 52.6h0.7M469.8 50.2h0.7M469.0 43.2h0.7M467.9 46.0h0.7M476.4 52.9h0.7M474.7 54.4h0.7M467.1 49.8h0.7M466.7 54.9h0.7M470.5 48.6h0.7M467.2 47.0h0.7M467.3 48.0h0.7M478.1 59.9h0.7M480.2 49.1h0.7M477.2 50.3h0.7M462.5 48.8h0.7M475.5 49.0h0.7M477.0 52.1h0.7M470.4 59.2h0.7M473.5 50.4h0.7M478.3 47.6h0.7M469.0 51.2h0.7M462.1 57.6h0.7M462.3 56.4h0.7M471.3 51.9h0.7M484.6 43.7h0.7M475.4 42.3h0.7M475.5 47.1h0.7M463.7 46.5h0.7M464.9 44.1h0.7M461.7 56.5h0.7M470.8 44.6h0.7M465.1 49.8h0.7M461.8 55.5h0.7M471.7 50.2h0.7M467.0 43.4h0.7M473.3 52.8h0.7M468.4 50.4h0.7M485.6 56.3h0.7M471.1 53.9h0.7M464.2 57.4h0.7M470.9 53.0h0.7M467.7 58.9h0.7M471.3 53.9h0.7M484.9 55.3h0.7M468.4 54.5h0.7M462.3 58.7h0.7M472.0 52.6h0.7M461.2 57.1h0.7M464.5 54.5h0.7M484.6 53.1h0.7M473.7 59.6h0.7M463.9 60.3h0.7M468.4 47.3h0.7M478.3 51.7h0.7M473.6 54.5h0.7M469.4 46.2h0.7M475.3 62.4h0.7M461.4 43.0h0.7M469.5 56.5h0.7M461.7 50.0h0.7M470.5 58.6h0.7M475.0 55.7h0.7M474.4 47.4h0.7M480.9 54.6h0.7M475.2 47.4h0.7M460.7 61.7h0.7M468.8 50.4h0.7M470.7 46.6h0.7M475.2 57.6h0.7M472.3 53.3h0.7M475.9 49.5h0.7M468.9 60.3h0.7M465.1 48.5h0.7M469.2 56.8h0.7M468.8 49.0h0.7M475.5 53.0h0.7M464.5 57.7h0.7M473.5 61.4h0.7M477.8 58.0h0.7M464.7 59.3h0.7M466.2 52.1h0.7M473.9 49.6h0.7M480.6 54.4h0.7M469.3 56.8h0.7M461.4 49.3h0.7M463.1 64.5h0.7M471.0 51.2h0.7M474.6 53.5h0.7M463.2 59.5h0.7M472.9 62.9h0.7M469.1 52.4h0.7M479.2 51.9h0.7M473.1 52.4h0.7M471.1 47.3h0.7M467.1 53.5h0.7M472.4 47.2h0.7M466.7 52.9h0.7M478.5 47.7h0.7M466.9 51.8h0.7M479.9 44.5h0.7M482.5 53.0h0.7M482.1 61.9h0.7M471.5 52.4h0.7M466.1 54.2h0.7M475.6 49.7h0.7M478.4 59.7h0.7M463.1 53.0h0.7M462.1 63.1h0.7M469.4 54.7h0.7M468.5 48.3h0.7M478.7 55.3h0.7M476.9 56.4h0.7M463.4 53.9h0.7M461.3 51.3h0.7M464.6 59.7h0.7M474.8 50.9h0.7M481.3 69.1h0.7M484.9 48.7h0.7M486.3 47.5h0.7M486.8 50.8h0.7M479.8 48.1h0.7M487.5 50.7h0.7M490.9 58.4h0.7M493.2 63.2h0.7M486.5 52.5h0.7M483.5 61.6h0.7M480.9 59.9h0.7M474.1 45.2h0.7M508.7 45.0h0.7M484.2 39.1h0.7M477.3 50.8h0.7M483.8 55.6h0.7M485.3 42.6h0.7M481.5 53.5h0.7M467.4 42.7h0.7M485.0 40.7h0.7M496.0 52.1h0.7M478.8 60.6h0.7M490.5 61.6h0.7M496.9 45.3h0.7M482.7 67.9h0.7M462.7 52.0h0.7M489.7 49.6h0.7M494.2 56.8h0.7M476.6 51.9h0.7M490.8 49.8h0.7M491.4 62.5h0.7M486.4 50.9h0.7M476.3 65.5h0.7M462.8 59.9h0.7M491.1 49.6h0.7M473.6 55.3h0.7M480.1 60.9h0.7M492.8 47.6h0.7M473.6 47.0h0.7M480.6 64.9h0.7M476.7 63.0h0.7M494.1 52.5h0.7M490.7 58.1h0.7M483.4 60.4h0.7M490.3 52.2h0.7M466.3 56.1h0.7M462.1 63.6h0.7M486.1 66.3h0.7M477.4 64.3h0.7M486.0 49.2h0.7M488.6 63.8h0.7M478.7 49.8h0.7M465.5 51.5h0.7M491.7 59.2h0.7M487.6 64.8h0.7M489.8 42.3h0.7M486.3 54.7h0.7M498.1 54.5h0.7M481.0 63.9h0.7M498.8 44.2h0.7M494.0 63.6h0.7M502.4 65.0h0.7M490.2 41.9h0.7M482.1 65.2h0.7M485.1 55.2h0.7M474.4 55.8h0.7M473.5 47.7h0.7M482.6 53.1h0.7M497.7 51.7h0.7M488.7 59.4h0.7M490.9 54.1h0.7M493.4 68.9h0.7M485.3 41.5h0.7M497.2 59.3h0.7M493.7 48.2h0.7M490.0 56.7h0.7M468.2 72.4h0.7M461.9 78.6h0.7M464.8 75.7h0.7M465.4 71.9h0.7M461.9 76.2h0.7M467.3 79.7h0.7M475.1 67.8h0.7M474.4 81.9h0.7M467.6 62.8h0.7M471.0 68.5h0.7M463.8 70.9h0.7M466.3 72.3h0.7M469.1 71.2h0.7M463.7 79.7h0.7M460.8 83.0h0.7M474.4 72.4h0.7M477.3 63.4h0.7M468.3 71.8h0.7M476.6 80.5h0.7M461.0 71.4h0.7M465.1 61.5h0.7M466.1 70.2h0.7M463.3 77.3h0.7M470.5 75.6h0.7M462.4 69.1h0.7M469.9 73.2h0.7M463.5 70.2h0.7M475.9 71.8h0.7M470.4 54.4h0.7M463.3 74.7h0.7M462.6 75.8h0.7M468.3 81.3h0.7M467.9 68.8h0.7M465.2 71.7h0.7M471.9 75.2h0.7M461.1 76.7h0.7M467.8 75.8h0.7M480.3 64.6h0.7M467.2 73.5h0.7M465.2 67.3h0.7M471.4 79.7h0.7M466.5 64.5h0.7M461.0 64.3h0.7M468.7 83.0h0.7M471.5 72.9h0.7M466.5 66.4h0.7M505.7 77.8h0.7M475.5 73.6h0.7M484.7 74.8h0.7M497.0 77.5h0.7M496.7 69.9h0.7M489.4 81.4h0.7M494.5 79.0h0.7M486.8 71.3h0.7M494.7 88.3h0.7M477.9 69.0h0.7M480.7 82.4h0.7M482.6 79.7h0.7M488.9 83.0h0.7M488.0 75.9h0.7M474.2 87.0h0.7M481.0 75.8h0.7M485.2 75.2h0.7M371.9 136.0h0.7M375.0 131.4h0.7M381.1 134.3h0.7M378.7 127.3h0.7M371.7 133.0h0.7M376.7 125.5h0.7M380.9 133.3h0.7M376.1 133.1h0.7M375.2 134.8h0.7M385.5 130.3h0.7M370.8 126.2h0.7M383.1 127.8h0.7M381.0 138.8h0.7M375.3 136.1h0.7M369.1 128.9h0.7M381.6 134.8h0.7M378.9 131.9h0.7M365.9 131.2h0.7M366.1 101.3h0.7M363.8 125.3h0.7M360.3 99.5h0.7M381.9 101.2h0.7M354.9 99.9h0.7M371.5 96.6h0.7M371.4 106.0h0.7M339.7 123.0h0.7M347.9 122.9h0.7M337.9 122.2h0.7M342.4 130.7h0.7M404.2 108.4h0.7M400.6 102.2h0.7M402.2 105.7h0.7M407.1 103.9h0.7M404.3 104.4h0.7M405.5 104.6h0.7M399.8 100.4h0.7M403.3 108.7h0.7M402.9 104.8h0.7M401.6 108.7h0.7M412.2 100.0h0.7M404.7 103.3h0.7M400.4 108.9h0.7M406.7 111.0h0.7M405.4 105.7h0.7M409.0 104.0h0.7M401.6 98.1h0.7M400.7 98.6h0.7M401.6 116.5h0.7M409.3 100.4h0.7M399.2 105.2h0.7M400.2 98.0h0.7M401.8 112.1h0.7M398.8 104.5h0.7M413.9 109.3h0.7M401.0 105.4h0.7M405.6 106.5h0.7M401.7 105.8h0.7M400.9 108.3h0.7M415.3 104.9h0.7M400.1 110.1h0.7M399.0 104.4h0.7M402.1 113.1h0.7M399.4 106.7h0.7M400.9 110.2h0.7M407.2 106.5h0.7M402.9 100.1h0.7M410.9 114.9h0.7M401.5 101.5h0.7M404.2 108.9h0.7M399.1 103.4h0.7M408.2 98.1h0.7M410.9 103.4h0.7M398.7 114.7h0.7M400.7 102.1h0.7M402.2 105.1h0.7M398.7 107.1h0.7M399.1 109.8h0.7M398.7 111.7h0.7M400.9 105.8h0.7M399.2 108.0h0.7M400.2 99.3h0.7M398.7 105.9h0.7M407.1 108.1h0.7M403.5 113.0h0.7M405.4 106.4h0.7M406.3 110.1h0.7M404.3 102.8h0.7M409.7 112.0h0.7M401.0 101.9h0.7M400.8 106.4h0.7M406.4 107.5h0.7M399.5 105.9h0.7M411.7 95.5h0.7M399.1 106.7h0.7M405.4 103.7h0.7M406.7 103.9h0.7M402.1 100.6h0.7M403.6 102.2h0.7M409.7 117.1h0.7M404.4 105.7h0.7M403.5 109.8h0.7M415.2 102.6h0.7M401.7 108.8h0.7M408.6 101.6h0.7M400.3 107.0h0.7M399.8 106.6h0.7M403.7 99.3h0.7M408.0 105.2h0.7M413.4 110.8h0.7M402.9 97.5h0.7M403.0 113.8h0.7M403.0 106.0h0.7M399.0 109.1h0.7M398.8 107.6h0.7M408.0 97.3h0.7M399.2 104.3h0.7M400.3 100.3h0.7M399.0 101.5h0.7M402.5 108.0h0.7M404.4 110.1h0.7M399.3 95.7h0.7M401.8 111.8h0.7M402.6 105.8h0.7M403.0 99.4h0.7M398.9 100.0h0.7M403.3 116.1h0.7M406.7 102.9h0.7M401.4 107.4h0.7M427.1 108.2h0.7M415.2 101.7h0.7M414.8 109.8h0.7M417.1 127.1h0.7M416.6 104.7h0.7M424.3 111.3h0.7M416.4 105.2h0.7M418.8 109.7h0.7M418.6 127.6h0.7M417.8 112.2h0.7M411.7 106.4h0.7M426.6 108.1h0.7M421.2 109.7h0.7M419.3 104.9h0.7M403.0 110.1h0.7M416.9 114.9h0.7M404.9 103.2h0.7M441.0 115.0h0.7M416.6 101.9h0.7M400.1 113.3h0.7M413.8 103.4h0.7M409.4 117.3h0.7M403.2 117.1h0.7M417.8 110.2h0.7M415.9 117.0h0.7M422.1 113.9h0.7M422.8 116.7h0.7M413.6 120.4h0.7M399.0 108.0h0.7M434.6 118.3h0.7M444.0 114.2h0.7M411.4 114.1h0.7M424.8 114.7h0.7M437.2 118.3h0.7M412.0 102.1h0.7M417.2 117.9h0.7M414.1 114.1h0.7M423.7 112.8h0.7M417.8 101.7h0.7M426.3 115.3h0.7M418.8 108.7h0.7M409.1 108.4h0.7M419.0 111.3h0.7M418.4 110.4h0.7M424.6 129.0h0.7M427.2 111.9h0.7M422.2 108.0h0.7M411.9 111.0h0.7M413.2 110.5h0.7M415.6 114.4h0.7M422.0 113.2h0.7M416.8 110.7h0.7M407.8 122.4h0.7M404.5 120.3h0.7M402.7 128.3h0.7M404.7 135.3h0.7M404.3 132.8h0.7M403.6 134.2h0.7M406.4 114.1h0.7M400.0 141.6h0.7M416.9 132.9h0.7M405.5 126.6h0.7M399.9 131.3h0.7M402.6 138.3h0.7M398.7 116.4h0.7M407.2 127.0h0.7M401.9 133.7h0.7M404.6 127.7h0.7M400.4 126.7h0.7M398.6 128.3h0.7M400.0 129.7h0.7M407.6 123.7h0.7M403.7 102.8h0.7M401.1 139.2h0.7M405.0 121.5h0.7M402.2 139.5h0.7M412.9 136.8h0.7M400.0 112.7h0.7M400.6 129.4h0.7M400.9 128.0h0.7M402.5 117.8h0.7M405.8 134.0h0.7M399.7 121.3h0.7M412.3 116.5h0.7M431.1 131.7h0.7M423.9 124.5h0.7M432.3 130.9h0.7M434.6 127.8h0.7M438.5 126.6h0.7M422.2 129.5h0.7M428.3 137.0h0.7M430.8 129.6h0.7M433.0 131.1h0.7M432.6 127.5h0.7M425.1 130.6h0.7M431.3 133.0h0.7M428.2 132.2h0.7M424.9 96.4h0.7M440.6 101.7h0.7M430.1 105.8h0.7M432.0 104.0h0.7M435.5 101.8h0.7M429.1 105.9h0.7M413.5 100.6h0.7M421.7 100.0h0.7M467.6 105.4h0.7M460.7 97.6h0.7M469.8 114.0h0.7M468.9 104.9h0.7M464.7 105.2h0.7M467.4 103.6h0.7M462.4 109.9h0.7M462.9 109.7h0.7M472.5 106.2h0.7M461.5 117.6h0.7M466.7 111.5h0.7M462.2 118.2h0.7M473.6 120.3h0.7M469.2 105.6h0.7M471.3 106.0h0.7M462.4 104.5h0.7M468.5 111.9h0.7M474.3 103.9h0.7M466.8 114.4h0.7M468.3 109.8h0.7M461.6 107.1h0.7M468.4 111.5h0.7M462.3 105.8h0.7M465.8 108.7h0.7M467.0 118.7h0.7M469.0 107.8h0.7M468.3 101.2h0.7M465.5 97.9h0.7M461.2 101.7h0.7M465.7 108.1h0.7M474.0 104.5h0.7M474.3 104.5h0.7M471.5 106.2h0.7M465.2 105.8h0.7M466.7 110.0h0.7M470.6 112.5h0.7M462.2 111.3h0.7M466.4 108.4h0.7M461.4 109.4h0.7M467.7 107.4h0.7M468.4 111.0h0.7M465.7 106.7h0.7M460.7 108.5h0.7M462.0 107.3h0.7M468.2 107.3h0.7M462.2 112.0h0.7M474.7 106.8h0.7M465.5 105.8h0.7M467.3 114.3h0.7M471.4 109.1h0.7M462.9 110.1h0.7M462.0 103.3h0.7M460.7 99.9h0.7M465.3 105.2h0.7M462.7 113.7h0.7M463.5 109.6h0.7M467.3 109.5h0.7M461.8 110.9h0.7M463.0 105.0h0.7M462.0 111.4h0.7M468.7 111.9h0.7M463.3 115.7h0.7M461.1 109.3h0.7M473.9 110.4h0.7M461.8 108.2h0.7M465.0 109.6h0.7M461.9 111.3h0.7M462.3 111.1h0.7M473.7 109.4h0.7M473.3 114.9h0.7M462.4 110.7h0.7M477.3 110.7h0.7M460.8 106.6h0.7M462.0 106.2h0.7M463.3 100.9h0.7M467.3 110.9h0.7M473.1 104.1h0.7M462.2 102.7h0.7M474.2 109.5h0.7M474.3 109.8h0.7M464.6 111.0h0.7M470.5 105.5h0.7M465.1 93.8h0.7M467.1 94.9h0.7M464.9 105.7h0.7M474.5 101.6h0.7M469.4 103.4h0.7M462.7 103.2h0.7M465.3 113.3h0.7M472.2 106.7h0.7M462.2 112.8h0.7M463.6 99.7h0.7M462.6 113.0h0.7M463.9 104.6h0.7M461.6 100.3h0.7M464.6 109.2h0.7M460.8 103.4h0.7M470.2 105.4h0.7M467.6 107.7h0.7M469.1 101.9h0.7M470.5 106.8h0.7M465.1 103.8h0.7M461.0 104.7h0.7M463.0 108.2h0.7M476.2 101.6h0.7M464.9 111.1h0.7M472.6 104.5h0.7M472.0 109.7h0.7M464.4 106.9h0.7M476.6 108.3h0.7M469.9 102.3h0.7M470.0 110.6h0.7M465.9 107.9h0.7M462.7 105.6h0.7M461.8 101.6h0.7M462.6 101.3h0.7M464.7 100.0h0.7M467.8 107.6h0.7M462.9 105.3h0.7M469.7 105.8h0.7M471.2 113.5h0.7M461.0 110.4h0.7M466.8 95.7h0.7M468.6 101.4h0.7M470.5 103.0h0.7M467.1 105.1h0.7M461.3 109.6h0.7M466.8 103.6h0.7M461.0 104.9h0.7M463.2 108.0h0.7M471.2 98.4h0.7M463.8 113.1h0.7M463.3 104.5h0.7M470.1 109.2h0.7M470.7 109.8h0.7M462.8 104.7h0.7M469.7 102.1h0.7M462.1 108.0h0.7M466.1 112.2h0.7M468.8 100.1h0.7M462.4 112.6h0.7M474.8 102.9h0.7M468.4 100.0h0.7M468.5 98.6h0.7M462.5 109.5h0.7M467.4 114.5h0.7M465.0 110.2h0.7M469.0 101.3h0.7M476.2 104.2h0.7M471.3 106.6h0.7M462.9 107.2h0.7M479.5 112.7h0.7M466.4 103.0h0.7M472.8 106.2h0.7M462.2 107.5h0.7M475.4 112.1h0.7M461.0 108.5h0.7M463.4 99.2h0.7M469.7 109.4h0.7M465.5 99.4h0.7M468.2 112.2h0.7M468.6 107.5h0.7M473.1 114.5h0.7M468.1 111.2h0.7M466.7 105.8h0.7M471.9 112.7h0.7M469.8 99.4h0.7M468.5 114.6h0.7M465.8 103.4h0.7M466.0 95.9h0.7M470.9 110.1h0.7M470.6 114.2h0.7M470.4 103.6h0.7M470.1 107.3h0.7M461.2 108.5h0.7M468.1 102.9h0.7M464.1 111.9h0.7M462.5 103.1h0.7M466.4 102.0h0.7M465.4 99.2h0.7M472.3 103.8h0.7M469.8 103.3h0.7M461.5 99.4h0.7M473.9 109.4h0.7M472.9 95.1h0.7M473.8 116.7h0.7M462.4 104.4h0.7M475.1 111.3h0.7M464.8 93.7h0.7M468.5 98.8h0.7M461.2 110.9h0.7M468.7 109.1h0.7M461.1 107.9h0.7M460.9 112.3h0.7M465.4 97.8h0.7M464.5 115.1h0.7M466.1 108.0h0.7M462.7 97.6h0.7M463.0 99.5h0.7M464.1 106.0h0.7M465.4 108.7h0.7M473.9 108.1h0.7M469.0 98.1h0.7M471.7 100.6h0.7M464.7 106.9h0.7M461.5 108.3h0.7M462.9 97.9h0.7M470.5 111.4h0.7M462.5 118.7h0.7M467.9 105.5h0.7M463.9 106.6h0.7M465.2 114.2h0.7M466.0 103.1h0.7M466.5 104.9h0.7M470.7 98.3h0.7M462.2 108.7h0.7M465.7 111.4h0.7M462.3 104.6h0.7M473.6 108.4h0.7M462.5 99.0h0.7M472.5 111.3h0.7M463.2 98.6h0.7M461.8 103.4h0.7M471.4 114.0h0.7M462.9 107.1h0.7M463.0 122.6h0.7M462.8 114.5h0.7M473.5 111.1h0.7M473.7 115.5h0.7M460.7 109.6h0.7M461.8 107.8h0.7M467.3 109.3h0.7M468.1 107.7h0.7M468.0 117.7h0.7M467.5 105.3h0.7M467.0 113.6h0.7M469.3 105.9h0.7M463.3 108.3h0.7M475.7 115.6h0.7M463.2 107.2h0.7M476.2 104.0h0.7M462.7 111.8h0.7M470.9 101.6h0.7M463.7 106.5h0.7M464.0 107.5h0.7M461.1 112.4h0.7M468.4 100.0h0.7M478.0 116.0h0.7M470.9 93.9h0.7M468.8 110.7h0.7M460.8 108.2h0.7M461.6 104.9h0.7M471.7 99.4h0.7M476.4 110.7h0.7M470.0 101.7h0.7M472.7 101.6h0.7M476.2 111.4h0.7M471.9 102.4h0.7M466.7 106.8h0.7M465.2 108.6h0.7M467.1 109.5h0.7M461.4 101.5h0.7M464.9 108.5h0.7M466.7 124.2h0.7M469.4 103.5h0.7M469.1 114.6h0.7M462.1 107.7h0.7M461.6 113.7h0.7M465.1 117.8h0.7M461.8 132.8h0.7M460.9 123.7h0.7M462.5 130.6h0.7M460.6 120.2h0.7M465.3 112.4h0.7M466.8 119.7h0.7M460.7 100.6h0.7M463.0 126.0h0.7M462.7 116.7h0.7M464.3 115.8h0.7M464.9 126.0h0.7M463.4 134.1h0.7M460.9 122.6h0.7M462.0 122.8h0.7M465.3 135.3h0.7M469.0 128.8h0.7M464.1 112.8h0.7M460.7 125.9h0.7M464.0 133.0h0.7M461.5 141.7h0.7M461.9 126.8h0.7M461.2 135.6h0.7M471.1 111.7h0.7M466.8 114.9h0.7M471.7 116.9h0.7M464.2 121.8h0.7M464.1 135.8h0.7M463.0 121.9h0.7M468.6 137.4h0.7M463.6 134.9h0.7M462.2 122.6h0.7M477.1 121.8h0.7M462.0 115.3h0.7M470.3 129.0h0.7M464.2 122.7h0.7M468.7 138.6h0.7M469.7 120.5h0.7M466.9 135.4h0.7M474.3 97.4h0.7M467.0 127.3h0.7M470.4 117.1h0.7M467.2 132.4h0.7M469.9 121.3h0.7M469.0 116.2h0.7M463.7 133.0h0.7M466.5 122.0h0.7M465.9 125.9h0.7M467.1 125.9h0.7M466.7 129.0h0.7M465.3 126.9h0.7M469.7 123.7h0.7M471.3 126.6h0.7M473.1 134.0h0.7M463.2 118.9h0.7M464.7 128.4h0.7M463.9 122.1h0.7M462.8 129.7h0.7M464.9 108.1h0.7M464.7 115.9h0.7M460.8 128.3h0.7M466.7 109.4h0.7M462.0 121.2h0.7M463.8 135.3h0.7M461.1 130.1h0.7M471.1 125.4h0.7M461.6 125.6h0.7M468.4 119.4h0.7M463.0 116.0h0.7M462.1 115.6h0.7M462.3 107.6h0.7M461.8 134.4h0.7M467.9 123.9h0.7M465.0 123.9h0.7M462.4 121.7h0.7M465.1 118.9h0.7M461.1 131.8h0.7M462.8 123.9h0.7M460.7 114.5h0.7M460.6 127.1h0.7M481.6 108.0h0.7M495.2 116.3h0.7M510.6 108.7h0.7M502.3 110.0h0.7M481.7 102.2h0.7M485.7 105.6h0.7M485.3 114.0h0.7M494.3 103.8h0.7M494.0 111.6h0.7M493.0 111.6h0.7M499.3 95.2h0.7M493.0 101.8h0.7M499.1 114.5h0.7M484.9 106.3h0.7M483.8 102.7h0.7M495.9 105.4h0.7M491.5 117.2h0.7M474.4 107.5h0.7M486.4 108.9h0.7M475.9 109.9h0.7M481.0 118.8h0.7M496.5 105.2h0.7M469.8 108.9h0.7M486.4 110.8h0.7M499.4 107.8h0.7M493.6 102.3h0.7M488.1 105.2h0.7M475.5 109.3h0.7M491.6 107.0h0.7M479.8 111.6h0.7M486.1 129.9h0.7M484.6 104.4h0.7M496.7 111.1h0.7M487.7 106.6h0.7M486.2 104.5h0.7M501.2 109.1h0.7M504.9 104.9h0.7M475.1 106.3h0.7M491.1 116.7h0.7M504.2 102.1h0.7M477.1 114.0h0.7M461.0 100.4h0.7M475.7 112.9h0.7M485.6 108.7h0.7M477.0 103.8h0.7M481.0 116.5h0.7M496.2 119.7h0.7M473.4 109.5h0.7M494.2 109.1h0.7M473.9 113.9h0.7M492.7 107.0h0.7M503.9 97.0h0.7M493.1 110.7h0.7M475.0 115.9h0.7M485.9 105.2h0.7M482.2 105.3h0.7M490.1 111.0h0.7M496.6 103.0h0.7M502.2 110.3h0.7M482.3 105.1h0.7M499.0 119.3h0.7M483.7 111.8h0.7M482.4 116.6h0.7M477.7 106.8h0.7M468.3 103.5h0.7M467.1 113.7h0.7M489.8 99.5h0.7M475.3 114.9h0.7M474.4 127.2h0.7M481.2 129.6h0.7M485.2 133.8h0.7M491.9 127.3h0.7M483.9 134.0h0.7M496.9 128.7h0.7M474.5 125.0h0.7M479.8 138.7h0.7M493.7 136.7h0.7M469.9 134.8h0.7M463.3 134.3h0.7M487.5 136.9h0.7M484.3 126.4h0.7" stroke="#000" stroke-opacity="0.33" stroke-width="0.7" fill="none"/>
<path d="M371.9 49.5h0.7M371.3 56.0h0.7M360.6 53.7h0.7M379.0 53.9h0.7M369.4 58.7h0.7M380.7 57.5h0.7M376.4 56.3h0.7M382.8 49.7h0.7M383.1 47.1h0.7M376.9 56.7h0.7M365.0 69.6h0.7M383.3 41.1h0.7M380.4 61.5h0.7M379.7 60.1h0.7M371.6 64.2h0.7M368.3 56.7h0.7M374.9 54.5h0.7M376.7 54.5h0.7M370.0 57.2h0.7M377.4 52.4h0.7M373.1 47.6h0.7M358.7 73.4h0.7M368.9 85.8h0.7M368.7 69.8h0.7M378.5 74.3h0.7M380.4 71.4h0.7M368.2 76.6h0.7M369.1 84.2h0.7M362.9 73.6h0.7M371.0 77.8h0.7M383.5 74.7h0.7M376.4 72.2h0.7M373.3 76.5h0.7M375.0 76.9h0.7M364.3 78.0h0.7M370.7 73.3h0.7M353.8 80.5h0.7M348.3 79.8h0.7M375.1 77.1h0.7M385.7 79.5h0.7M360.5 78.6h0.7M341.4 57.4h0.7M337.8 71.0h0.7M338.2 47.5h0.7M338.5 62.9h0.7M338.0 69.3h0.7M337.5 60.3h0.7M345.0 86.1h0.7M346.0 86.6h0.7M338.3 71.0h0.7M345.4 81.6h0.7M347.0 77.0h0.7M367.3 53.8h0.7M382.4 61.0h0.7M362.1 59.6h0.7M402.1 68.7h0.7M403.9 46.9h0.7M400.6 42.5h0.7M400.0 49.0h0.7M416.5 62.0h0.7M401.2 65.7h0.7M399.2 54.9h0.7M408.3 55.1h0.7M402.6 54.4h0.7M404.7 53.3h0.7M399.0 50.9h0.7M405.1 45.9h0.7M411.3 61.9h0.7M405.4 58.7h0.7M405.1 61.6h0.7M404.9 54.5h0.7M405.1 58.1h0.7M401.7 57.9h0.7M407.0 54.3h0.7M402.7 50.5h0.7M401.0 53.1h0.7M401.9 48.6h0.7M401.2 51.8h0.7M399.0 49.5h0.7M415.2 54.3h0.7M411.0 64.1h0.7M402.5 51.8h0.7M402.4 42.8h0.7M417.0 66.1h0.7M411.9 49.2h0.7M411.9 59.8h0.7M402.1 57.1h0.7M409.5 69.0h0.7M400.7 48.6h0.7M408.7 49.6h0.7M400.9 46.1h0.7M408.3 56.3h0.7M402.6 49.8h0.7M401.4 46.9h0.7M412.1 54.1h0.7M401.0 57.5h0.7M407.2 50.4h0.7M406.1 48.1h0.7M403.7 64.7h0.7M410.2 58.8h0.7M416.4 51.7h0.7M410.5 54.5h0.7M415.3 59.9h0.7M416.3 54.6h0.7M413.9 49.4h0.7M398.8 53.9h0.7M419.1 59.6h0.7M412.8 42.0h0.7M401.6 53.5h0.7M407.0 53.5h0.7M405.3 52.5h0.7M406.9 62.4h0.7M408.6 53.2h0.7M399.6 49.2h0.7M408.8 67.2h0.7M404.1 55.7h0.7M408.0 56.8h0.7M399.8 61.0h0.7M410.2 55.5h0.7M402.5 59.8h0.7M405.6 48.2h0.7M411.8 48.3h0.7M415.8 42.7h0.7M417.4 46.6h0.7M410.5 56.3h0.7M406.0 50.7h0.7M403.9 52.6h0.7M407.5 50.8h0.7M405.3 49.2h0.7M405.3 40.6h0.7M404.8 53.4h0.7M402.3 53.4h0.7M400.6 51.4h0.7M425.6 57.2h0.7M405.0 49.3h0.7M407.7 52.2h0.7M402.1 57.5h0.7M411.8 58.8h0.7M406.7 63.6h0.7M409.9 58.2h0.7M410.9 47.1h0.7M398.8 55.4h0.7M408.5 60.3h0.7M400.7 59.7h0.7M406.4 59.8h0.7M402.6 55.1h0.7M406.7 59.3h0.7M426.7 60.3h0.7M412.7 49.0h0.7M419.2 56.8h0.7M400.6 61.4h0.7M399.1 41.5h0.7M409.4 53.2h0.7M409.9 43.2h0.7M403.4 46.8h0.7M424.3 58.4h0.7M400.1 60.9h0.7M408.2 56.6h0.7M414.8 57.6h0.7M399.8 56.2h0.7M400.7 57.1h0.7M398.9 54.8h0.7M417.0 45.4h0.7M409.2 57.3h0.7M417.3 50.1h0.7M405.5 43.2h0.7M408.2 52.3h0.7M412.5 51.5h0.7M410.8 53.1h0.7M407.4 50.7h0.7M423.3 58.7h0.7M401.8 51.6h0.7M419.5 48.4h0.7M400.0 54.3h0.7M414.5 50.7h0.7M399.3 51.2h0.7M407.2 55.7h0.7M408.8 56.1h0.7M409.2 59.0h0.7M417.0 64.0h0.7M399.7 50.1h0.7M408.8 60.5h0.7M418.1 55.1h0.7M413.2 52.2h0.7M410.6 53.9h0.7M401.6 52.9h0.7M405.5 65.7h0.7M408.3 57.8h0.7M412.4 56.9h0.7M402.2 54.9h0.7M415.9 53.6h0.7M404.8 48.1h0.7M399.1 46.5h0.7M417.9 41.8h0.7M411.4 55.7h0.7M423.5 53.1h0.7M411.7 59.4h0.7M413.3 56.6h0.7M426.9 51.5h0.7M407.6 44.2h0.7M420.3 57.8h0.7M401.9 47.3h0.7M407.0 53.3h0.7M410.1 48.2h0.7M420.2 47.2h0.7M399.7 54.8h0.7M412.6 50.4h0.7M410.6 44.7h0.7M420.5 52.0h0.7M415.3 46.5h0.7M407.4 59.4h0.7M412.5 63.4h0.7M415.5 41.1h0.7M414.5 64.1h0.7M403.9 62.4h0.7M406.2 55.6h0.7M407.1 46.5h0.7M413.4 53.9h0.7M409.3 58.2h0.7M407.2 58.0h0.7M413.3 62.5h0.7M400.9 56.7h0.7M402.6 61.5h0.7M409.1 59.3h0.7M427.4 63.2h0.7M439.6 43.4h0.7M424.6 64.9h0.7M431.7 69.3h0.7M433.7 72.7h0.7M431.4 64.7h0.7M445.4 69.2h0.7M419.6 55.1h0.7M419.2 72.8h0.7M423.9 51.2h0.7M428.2 52.8h0.7M419.3 65.5h0.7M430.5 52.5h0.7M433.9 55.0h0.7M409.7 49.3h0.7M438.6 64.3h0.7M436.9 60.4h0.7M437.4 56.4h0.7M436.0 47.8h0.7M418.3 61.1h0.7M404.8 54.1h0.7M438.9 60.5h0.7M404.6 39.1h0.7M431.8 66.0h0.7M422.5 67.0h0.7M415.6 62.1h0.7M414.0 60.8h0.7M414.0 59.1h0.7M429.7 61.8h0.7M413.8 41.2h0.7M428.2 59.7h0.7M432.5 57.5h0.7M434.0 64.2h0.7M420.5 55.0h0.7M414.6 58.9h0.7M435.8 66.1h0.7M439.6 41.2h0.7M416.6 74.2h0.7M434.6 59.3h0.7M426.7 43.4h0.7M437.0 51.6h0.7M420.9 60.8h0.7M433.0 55.5h0.7M411.6 59.4h0.7M424.0 56.6h0.7M444.6 59.5h0.7M428.1 63.4h0.7M431.7 64.2h0.7M430.2 75.9h0.7M423.2 57.9h0.7M408.8 65.8h0.7M424.0 42.6h0.7M434.3 50.8h0.7M422.3 67.1h0.7M421.2 51.4h0.7M440.5 48.2h0.7M428.2 53.3h0.7M421.9 39.6h0.7M416.3 60.6h0.7M427.4 51.5h0.7M418.3 60.5h0.7M423.2 54.6h0.7M424.1 48.6h0.7M431.1 56.2h0.7M400.7 85.8h0.7M400.2 80.8h0.7M403.4 73.9h0.7M407.6 62.8h0.7M409.1 75.5h0.7M403.7 72.9h0.7M403.0 80.7h0.7M406.2 76.7h0.7M404.1 88.0h0.7M403.5 68.7h0.7M404.2 76.5h0.7M414.2 77.4h0.7M406.9 72.6h0.7M411.9 77.9h0.7M399.2 77.0h0.7M409.0 84.6h0.7M409.2 82.5h0.7M402.9 80.1h0.7M408.3 71.1h0.7M398.7 70.7h0.7M409.0 87.0h0.7M405.6 59.4h0.7M406.7 74.7h0.7M400.1 77.6h0.7M420.0 73.9h0.7M427.2 63.5h0.7M415.1 71.6h0.7M409.4 61.3h0.7M431.1 62.5h0.7M428.9 79.9h0.7M417.1 74.1h0.7M415.5 74.5h0.7M438.9 68.0h0.7M423.0 86.7h0.7M426.7 73.2h0.7M428.4 73.4h0.7M437.9 73.5h0.7M425.3 78.5h0.7M467.7 54.1h0.7M477.8 55.1h0.7M466.6 53.3h0.7M466.2 57.0h0.7M463.7 47.5h0.7M463.0 53.1h0.7M467.6 51.0h0.7M473.9 59.7h0.7M473.2 45.2h0.7M460.8 59.4h0.7M474.1 55.0h0.7M465.3 58.1h0.7M467.1 51.9h0.7M467.7 56.4h0.7M465.6 48.8h0.7M476.5 53.9h0.7M462.0 49.9h0.7M477.0 55.5h0.7M469.2 57.2h0.7M474.9 52.5h0.7M475.4 57.4h0.7M476.1 44.5h0.7M464.4 52.8h0.7M467.3 45.1h0.7M468.9 52.6h0.7M475.5 48.6h0.7M470.5 66.4h0.7M466.4 52.4h0.7M464.2 55.9h0.7M475.0 57.9h0.7M465.5 56.2h0.7M467.2 52.9h0.7M464.7 50.2h0.7M471.1 52.7h0.7M471.6 53.3h0.7M469.4 52.5h0.7M463.9 59.2h0.7M462.7 55.5h0.7M462.1 60.2h0.7M462.1 50.5h0.7M476.0 55.9h0.7M468.2 48.0h0.7M479.6 58.6h0.7M468.5 58.7h0.7M480.0 59.2h0.7M476.8 58.2h0.7M470.9 49.3h0.7M467.6 60.6h0.7M480.1 54.6h0.7M472.6 56.3h0.7M464.5 56.9h0.7M475.6 49.2h0.7M461.9 53.8h0.7M465.7 54.4h0.7M471.8 52.6h0.7M471.9 51.0h0.7M464.1 54.4h0.7M472.8 55.4h0.7M476.4 55.2h0.7M474.5 58.2h0.7M469.9 55.1h0.7M464.6 51.8h0.7M461.2 49.5h0.7M471.8 53.3h0.7M473.2 51.1h0.7M469.6 52.5h0.7M465.4 47.3h0.7M480.8 52.3h0.7M471.0 57.0h0.7M460.9 56.4h0.7M464.1 53.5h0.7M472.2 50.6h0.7M471.5 58.7h0.7M469.2 55.6h0.7M491.5 54.0h0.7M461.2 52.6h0.7M461.0 49.5h0.7M463.3 47.2h0.7M463.6 51.3h0.7M472.7 56.7h0.7M472.4 51.9h0.7M467.5 51.2h0.7M480.4 50.3h0.7M476.2 56.0h0.7M460.9 50.3h0.7M474.6 49.3h0.7M478.5 49.4h0.7M463.1 50.0h0.7M468.2 59.8h0.7M475.3 55.0h0.7M474.0 50.9h0.7M461.1 52.2h0.7M477.2 49.6h0.7M467.2 51.1h0.7M462.3 43.2h0.7M466.8 47.6h0.7M476.3 41.6h0.7M466.7 55.5h0.7M464.4 51.3h0.7M466.9 52.6h0.7M480.6 51.4h0.7M475.0 56.9h0.7M469.2 50.0h0.7M461.9 54.5h0.7M465.1 59.0h0.7M464.9 53.7h0.7M478.3 53.5h0.7M467.7 55.9h0.7M476.3 45.4h0.7M461.3 56.1h0.7M479.9 50.3h0.7M464.3 65.7h0.7M473.9 53.1h0.7M465.1 47.7h0.7M468.6 57.1h0.7M460.8 53.8h0.7M462.7 57.2h0.7M471.9 51.0h0.7M474.8 60.5h0.7M471.2 52.5h0.7M466.8 52.8h0.7M488.2 50.3h0.7M473.7 46.5h0.7M464.2 50.8h0.7M472.3 52.1h0.7M469.7 51.9h0.7M474.7 48.2h0.7M462.2 55.5h0.7M468.6 58.2h0.7M462.9 48.2h0.7M471.7 54.8h0.7M474.5 52.4h0.7M465.3 56.8h0.7M464.7 52.4h0.7M466.5 57.4h0.7M466.7 58.0h0.7M468.2 58.7h0.7M463.8 45.6h0.7M475.5 59.4h0.7M477.4 50.2h0.7M463.3 49.4h0.7M469.7 58.6h0.7M473.7 59.2h0.7M462.3 49.1h0.7M470.1 67.3h0.7M474.4 52.4h0.7M472.8 52.2h0.7M466.7 54.7h0.7M483.5 48.3h0.7M462.2 56.9h0.7M470.2 51.2h0.7M477.5 55.3h0.7M486.3 48.7h0.7M474.3 55.9h0.7M477.8 41.8h0.7M477.1 56.1h0.7M465.2 62.3h0.7M475.7 49.4h0.7M465.9 61.8h0.7M461.6 53.6h0.7M479.5 54.4h0.7M479.5 47.7h0.7M477.3 50.3h0.7M464.4 62.9h0.7M477.5 53.0h0.7M462.3 50.0h0.7M461.5 57.7h0.7M463.7 48.9h0.7M471.8 47.1h0.7M478.3 59.8h0.7M468.1 49.9h0.7M478.3 50.5h0.7M475.2 55.5h0.7M474.1 56.8h0.7M468.8 60.3h0.7M474.7 46.3h0.7M485.8 56.5h0.7M468.4 54.0h0.7M463.2 56.4h0.7M464.1 65.1h0.7M476.0 57.1h0.7M461.0 47.7h0.7M461.0 44.4h0.7M462.0 50.4h0.7M478.4 59.4h0.7M471.3 48.5h0.7M469.6 53.5h0.7M460.8 54.1h0.7M471.8 46.0h0.7M477.1 54.2h0.7M477.8 50.3h0.7M472.5 61.3h0.7M466.7 44.5h0.7M469.8 57.5h0.7M466.3 56.9h0.7M471.5 53.3h0.7M475.9 53.7h0.7M462.7 55.6h0.7M461.4 55.4h0.7M471.1 52.6h0.7M461.8 52.7h0.7M460.8 47.3h0.7M475.3 52.1h0.7M462.1 49.4h0.7M472.2 57.1h0.7M485.2 61.2h0.7M469.8 53.4h0.7M460.7 54.8h0.7M462.5 43.6h0.7M461.3 52.3h0.7M467.2 53.1h0.7M468.8 49.1h0.7M460.7 54.7h0.7M461.1 53.1h0.7M471.1 50.0h0.7M468.7 52.0h0.7M462.1 49.7h0.7M464.5 58.0h0.7M472.4 55.1h0.7M466.9 58.1h0.7M462.0 50.9h0.7M473.1 59.3h0.7M467.5 46.2h0.7M466.3 57.7h0.7M469.6 49.1h0.7M481.4 53.2h0.7M464.0 49.9h0.7M471.1 49.3h0.7M466.1 50.6h0.7M470.8 55.5h0.7M463.8 56.0h0.7M474.3 54.6h0.7M468.3 48.9h0.7M462.3 50.1h0.7M464.9 57.2h0.7M468.9 54.8h0.7M480.5 60.0h0.7M466.3 55.7h0.7M468.2 54.3h0.7M460.9 48.8h0.7M461.0 60.8h0.7M466.0 39.9h0.7M464.2 53.5h0.7M474.3 53.7h0.7M471.7 51.8h0.7M474.4 60.8h0.7M466.0 61.1h0.7M462.4 59.8h0.7M472.5 60.7h0.7M466.0 57.9h0.7M473.8 49.8h0.7M461.6 48.7h0.7M464.2 54.8h0.7M469.9 66.6h0.7M469.7 50.7h0.7M471.4 58.4h0.7M471.4 44.9h0.7M469.3 53.4h0.7M475.4 53.0h0.7M466.6 55.8h0.7M481.1 61.4h0.7M490.6 53.6h0.7M495.7 49.5h0.7M473.6 48.0h0.7M483.8 61.5h0.7M497.1 48.6h0.7M488.4 59.9h0.7M481.7 58.6h0.7M487.7 62.1h0.7M494.2 56.4h0.7M480.4 57.3h0.7M473.4 59.8h0.7M491.6 48.9h0.7M499.7 44.8h0.7M492.8 56.8h0.7M483.0 60.2h0.7M475.0 66.3h0.7M485.3 56.9h0.7M479.5 62.1h0.7M470.1 59.0h0.7M483.6 58.3h0.7M487.0 57.9h0.7M502.6 60.0h0.7M497.7 56.9h0.7M494.9 54.3h0.7M489.1 60.8h0.7M488.8 59.3h0.7M479.4 57.3h0.7M491.8 56.9h0.7M502.9 50.6h0.7M489.3 57.6h0.7M498.5 53.8h0.7M471.9 55.7h0.7M483.0 62.8h0.7M467.4 66.1h0.7M472.2 54.8h0.7M487.4 58.9h0.7M483.8 57.6h0.7M472.8 70.8h0.7M489.6 53.0h0.7M486.0 50.1h0.7M506.1 54.0h0.7M491.0 44.7h0.7M474.5 57.5h0.7M476.3 64.3h0.7M502.6 57.5h0.7M481.7 54.4h0.7M485.8 48.4h0.7M499.5 55.1h0.7M484.7 74.7h0.7M491.1 77.6h0.7M477.4 55.2h0.7M488.9 55.2h0.7M489.8 56.4h0.7M482.4 58.3h0.7M478.2 60.8h0.7M498.5 71.7h0.7M480.9 54.0h0.7M478.9 50.2h0.7M476.9 44.5h0.7M496.2 56.4h0.7M490.6 48.0h0.7M480.0 66.0h0.7M495.0 65.6h0.7M482.6 44.0h0.7M489.4 53.5h0.7M487.8 44.2h0.7M489.3 73.7h0.7M481.5 52.9h0.7M479.7 43.9h0.7M487.9 42.8h0.7M489.6 72.5h0.7M470.5 66.4h0.7M483.3 55.0h0.7M495.0 67.8h0.7M482.1 59.7h0.7M489.6 59.2h0.7M499.8 56.3h0.7M469.6 63.3h0.7M474.2 73.6h0.7M470.6 71.3h0.7M464.7 66.4h0.7M469.1 76.5h0.7M467.3 71.7h0.7M470.6 75.1h0.7M465.7 68.1h0.7M469.7 68.9h0.7M463.4 64.5h0.7M471.9 71.8h0.7M474.7 76.7h0.7M464.6 74.3h0.7M467.6 65.8h0.7M463.3 79.1h0.7M464.3 62.5h0.7M464.0 61.3h0.7M470.2 67.9h0.7M466.4 64.6h0.7M467.7 67.3h0.7M462.6 62.7h0.7M467.7 74.5h0.7M465.7 81.7h0.7M463.7 69.9h0.7M476.0 77.6h0.7M471.0 67.3h0.7M465.1 67.2h0.7M462.3 75.6h0.7M473.3 70.3h0.7M460.7 75.7h0.7M462.5 81.1h0.7M470.0 64.4h0.7M466.1 59.4h0.7M468.5 73.3h0.7M467.4 70.7h0.7M463.5 81.1h0.7M476.5 75.4h0.7M461.0 63.3h0.7M462.2 82.7h0.7M467.8 68.3h0.7M469.2 80.2h0.7M462.5 76.0h0.7M468.1 75.1h0.7M465.1 64.1h0.7M472.2 65.9h0.7M461.7 68.2h0.7M491.7 77.5h0.7M484.0 77.9h0.7M496.4 70.9h0.7M472.6 70.9h0.7M483.4 80.6h0.7M499.3 72.1h0.7M479.1 72.6h0.7M474.3 83.9h0.7M491.3 87.0h0.7M488.0 78.8h0.7M469.4 66.2h0.7M484.0 71.4h0.7M472.6 71.7h0.7M493.8 64.6h0.7M490.2 75.2h0.7M487.4 78.6h0.7M480.4 82.2h0.7M376.7 135.1h0.7M379.1 127.3h0.7M380.9 122.3h0.7M384.6 128.8h0.7M369.9 128.0h0.7M372.0 137.5h0.7M378.3 130.0h0.7M382.4 129.9h0.7M379.9 137.4h0.7M367.9 131.7h0.7M382.5 121.6h0.7M380.5 128.6h0.7M380.0 131.1h0.7M384.5 130.6h0.7M376.0 125.3h0.7M380.9 131.4h0.7M387.8 132.0h0.7M378.2 129.9h0.7M356.0 103.8h0.7M374.1 96.3h0.7M354.2 106.3h0.7M362.4 103.5h0.7M357.6 101.6h0.7M348.2 95.9h0.7M362.0 109.2h0.7M341.1 131.6h0.7M337.2 135.6h0.7M341.4 123.6h0.7M342.0 130.3h0.7M400.0 105.5h0.7M404.7 107.4h0.7M407.6 102.4h0.7M404.7 103.6h0.7M403.7 108.4h0.7M400.0 104.5h0.7M399.6 117.9h0.7M407.5 104.9h0.7M408.6 110.0h0.7M402.0 113.9h0.7M405.4 110.9h0.7M401.9 112.5h0.7M409.7 107.2h0.7M408.3 102.6h0.7M407.5 100.5h0.7M409.0 106.6h0.7M403.5 112.0h0.7M413.8 100.0h0.7M406.5 107.8h0.7M401.2 100.0h0.7M403.5 105.4h0.7M402.6 115.5h0.7M401.1 101.5h0.7M401.2 101.7h0.7M400.4 113.0h0.7M399.8 105.1h0.7M403.0 102.9h0.7M399.2 93.0h0.7M402.2 113.7h0.7M400.1 97.3h0.7M403.9 106.3h0.7M401.3 106.8h0.7M404.9 105.6h0.7M404.4 106.7h0.7M406.5 96.4h0.7M401.2 106.1h0.7M405.0 97.7h0.7M399.9 101.9h0.7M400.1 100.3h0.7M399.9 109.1h0.7M399.8 106.4h0.7M399.3 109.0h0.7M401.2 97.1h0.7M402.4 107.9h0.7M405.8 110.3h0.7M401.9 108.3h0.7M401.2 103.4h0.7M410.1 99.0h0.7M401.8 106.0h0.7M404.9 109.7h0.7M405.3 106.6h0.7M403.4 101.5h0.7M407.5 107.4h0.7M399.9 107.1h0.7M410.2 111.0h0.7M409.1 106.6h0.7M401.4 108.3h0.7M400.4 108.5h0.7M402.9 106.6h0.7M401.9 107.2h0.7M401.9 100.0h0.7M399.9 102.3h0.7M402.4 103.4h0.7M402.4 109.3h0.7M404.1 107.0h0.7M401.4 113.5h0.7M408.5 94.5h0.7M412.0 105.7h0.7M401.7 112.8h0.7M403.5 104.0h0.7M400.8 103.9h0.7M402.8 110.8h0.7M406.1 102.5h0.7M399.2 108.6h0.7M413.0 99.4h0.7M403.3 101.7h0.7M404.2 99.5h0.7M398.6 110.3h0.7M401.9 104.2h0.7M399.4 108.5h0.7M401.4 103.4h0.7M402.5 106.6h0.7M399.4 104.3h0.7M401.4 110.4h0.7M408.2 105.3h0.7M416.4 112.1h0.7M404.8 110.7h0.7M403.3 107.3h0.7M404.4 108.1h0.7M406.2 102.4h0.7M404.6 109.0h0.7M406.0 104.9h0.7M404.6 102.5h0.7M410.4 102.9h0.7M403.0 107.3h0.7M409.7 102.3h0.7M413.5 114.6h0.7M403.2 112.0h0.7M400.8 105.2h0.7M417.7 121.0h0.7M439.9 110.7h0.7M415.0 120.1h0.7M424.8 110.5h0.7M405.2 118.2h0.7M411.9 115.3h0.7M440.4 120.8h0.7M425.8 122.3h0.7M422.3 118.2h0.7M432.8 119.8h0.7M417.5 111.7h0.7M419.4 112.6h0.7M423.8 100.1h0.7M429.1 121.3h0.7M419.6 108.4h0.7M428.9 113.9h0.7M422.5 105.7h0.7M418.1 112.7h0.7M420.5 110.4h0.7M410.8 112.0h0.7M419.4 107.9h0.7M419.6 100.2h0.7M422.3 118.9h0.7M406.0 121.0h0.7M426.9 116.9h0.7M419.2 106.0h0.7M413.6 113.7h0.7M401.7 123.5h0.7M408.5 106.1h0.7M410.1 106.7h0.7M423.1 115.9h0.7M418.4 103.9h0.7M419.8 116.3h0.7M411.1 117.7h0.7M411.9 117.4h0.7M436.2 111.7h0.7M422.6 115.1h0.7M414.1 113.4h0.7M408.7 114.9h0.7M423.2 113.4h0.7M424.2 108.8h0.7M423.2 107.0h0.7M420.4 121.0h0.7M426.0 111.8h0.7M420.8 106.9h0.7M428.8 116.8h0.7M422.0 111.3h0.7M423.3 121.3h0.7M423.6 109.6h0.7M420.6 110.1h0.7M400.4 94.3h0.7M418.6 113.6h0.7M400.2 126.3h0.7M404.7 130.0h0.7M405.1 124.2h0.7M399.3 125.7h0.7M407.6 116.0h0.7M404.3 130.4h0.7M403.0 134.5h0.7M401.3 117.1h0.7M400.2 127.0h0.7M411.4 130.0h0.7M407.0 129.1h0.7M398.8 127.7h0.7M403.7 125.3h0.7M406.8 120.6h0.7M400.0 124.9h0.7M407.8 133.6h0.7M402.9 127.4h0.7M403.5 128.6h0.7M405.1 125.9h0.7M406.7 132.3h0.7M413.1 122.8h0.7M398.8 125.7h0.7M404.0 129.3h0.7M405.3 123.0h0.7M412.2 116.0h0.7M406.0 135.8h0.7M403.0 117.7h0.7M405.4 128.2h0.7M410.2 128.0h0.7M415.2 111.1h0.7M412.1 123.3h0.7M404.1 119.5h0.7M427.6 134.1h0.7M427.6 135.3h0.7M447.2 126.3h0.7M436.9 132.2h0.7M423.2 127.4h0.7M430.5 133.2h0.7M405.7 140.9h0.7M436.2 121.6h0.7M435.4 132.2h0.7M420.2 128.8h0.7M421.4 124.7h0.7M426.2 128.5h0.7M419.8 129.6h0.7M441.7 104.5h0.7M432.8 113.5h0.7M431.2 104.4h0.7M431.7 106.1h0.7M420.1 98.7h0.7M432.8 106.1h0.7M411.1 98.8h0.7M444.4 103.7h0.7M468.9 107.9h0.7M464.9 104.3h0.7M465.5 104.0h0.7M463.0 108.2h0.7M470.4 102.1h0.7M465.2 109.5h0.7M467.5 105.7h0.7M465.0 112.2h0.7M464.5 105.2h0.7M472.1 103.8h0.7M465.3 113.9h0.7M468.6 109.5h0.7M469.2 102.6h0.7M464.7 108.1h0.7M461.4 107.8h0.7M475.0 95.7h0.7M474.3 117.2h0.7M467.4 111.8h0.7M468.4 110.9h0.7M460.6 115.8h0.7M469.2 97.8h0.7M465.8 105.8h0.7M473.5 104.3h0.7M461.4 113.1h0.7M469.8 113.6h0.7M461.4 112.9h0.7M460.8 104.0h0.7M468.4 110.9h0.7M469.9 109.4h0.7M463.1 107.6h0.7M470.7 108.8h0.7M478.8 115.6h0.7M461.5 113.3h0.7M466.5 115.2h0.7M467.5 109.7h0.7M468.3 111.8h0.7M461.5 102.7h0.7M462.0 105.6h0.7M480.3 98.3h0.7M461.1 112.8h0.7M469.6 106.6h0.7M473.6 107.9h0.7M470.2 113.7h0.7M474.5 103.5h0.7M460.9 110.8h0.7M465.4 98.6h0.7M475.8 107.9h0.7M477.0 104.2h0.7M463.3 111.1h0.7M466.9 119.9h0.7M466.7 112.3h0.7M461.0 111.2h0.7M465.6 113.2h0.7M465.3 116.0h0.7M466.6 108.4h0.7M463.8 111.2h0.7M464.5 105.7h0.7M467.4 104.4h0.7M461.9 105.5h0.7M461.1 100.9h0.7M468.2 95.7h0.7M470.2 103.6h0.7M470.7 103.1h0.7M475.8 100.7h0.7M468.0 105.8h0.7M465.6 103.1h0.7M467.0 101.9h0.7M471.8 103.0h0.7M470.8 118.4h0.7M465.8 104.7h0.7M476.9 113.6h0.7M463.9 107.1h0.7M471.8 109.3h0.7M472.5 108.6h0.7M466.3 109.3h0.7M465.3 102.3h0.7M465.2 114.4h0.7M461.9 104.4h0.7M470.1 100.1h0.7M471.5 111.1h0.7M464.6 97.9h0.7M465.7 110.0h0.7M464.5 104.3h0.7M469.2 102.5h0.7M462.7 98.7h0.7M468.0 109.9h0.7M461.3 104.8h0.7M468.0 106.7h0.7M464.4 113.8h0.7M460.9 108.5h0.7M464.0 106.8h0.7M466.6 104.5h0.7M461.5 101.4h0.7M467.5 104.2h0.7M462.3 112.7h0.7M469.3 110.6h0.7M464.8 109.1h0.7M468.9 105.7h0.7M476.3 104.6h0.7M462.8 97.0h0.7M464.4 105.6h0.7M466.6 106.2h0.7M467.0 107.2h0.7M461.6 109.9h0.7M465.6 111.3h0.7M463.6 103.3h0.7M460.6 107.5h0.7M474.0 110.7h0.7M469.8 110.9h0.7M468.3 112.1h0.7M471.9 107.6h0.7M470.0 110.0h0.7M469.9 104.9h0.7M461.8 98.9h0.7M467.7 104.8h0.7M462.4 100.9h0.7M476.8 108.8h0.7M460.8 115.9h0.7M462.5 101.1h0.7M467.4 104.1h0.7M466.4 109.1h0.7M467.1 110.2h0.7M462.7 101.2h0.7M464.6 98.6h0.7M465.0 104.5h0.7M469.1 104.4h0.7M471.7 110.1h0.7M471.0 102.1h0.7M468.3 106.5h0.7M473.0 105.8h0.7M464.0 104.1h0.7M469.8 119.1h0.7M470.2 114.9h0.7M461.2 103.3h0.7M461.2 108.9h0.7M469.2 94.6h0.7M466.3 104.6h0.7M462.5 110.8h0.7M474.7 112.4h0.7M461.1 104.9h0.7M473.4 98.6h0.7M461.8 104.1h0.7M468.1 98.0h0.7M468.2 101.5h0.7M475.3 106.4h0.7M466.5 102.5h0.7M464.2 100.5h0.7M468.9 107.6h0.7M466.4 110.9h0.7M462.6 99.2h0.7M474.0 95.6h0.7M469.7 109.9h0.7M466.2 106.3h0.7M461.5 105.0h0.7M468.7 101.0h0.7M465.9 108.8h0.7M464.9 105.2h0.7M468.4 108.5h0.7M470.9 105.6h0.7M463.2 110.7h0.7M460.6 108.2h0.7M461.1 103.4h0.7M464.8 102.3h0.7M470.9 101.9h0.7M470.1 109.0h0.7M462.4 106.9h0.7M465.5 102.8h0.7M461.1 107.9h0.7M465.0 117.5h0.7M467.6 96.0h0.7M462.3 100.2h0.7M472.7 112.4h0.7M461.6 99.3h0.7M463.8 104.6h0.7M472.8 104.2h0.7M462.1 95.9h0.7M469.1 115.0h0.7M472.7 113.2h0.7M462.8 95.4h0.7M474.0 100.2h0.7M464.2 98.7h0.7M466.2 101.9h0.7M474.5 109.6h0.7M463.2 105.0h0.7M464.1 107.8h0.7M465.4 93.3h0.7M466.3 93.6h0.7M470.7 106.4h0.7M473.6 104.4h0.7M460.8 104.8h0.7M470.9 105.2h0.7M465.2 112.3h0.7M464.4 101.3h0.7M471.0 101.2h0.7M461.0 103.2h0.7M466.8 106.9h0.7M465.0 112.3h0.7M472.5 105.4h0.7M465.7 106.4h0.7M474.8 104.4h0.7M463.9 97.6h0.7M468.6 98.8h0.7M475.3 115.6h0.7M461.2 108.1h0.7M472.0 106.9h0.7M460.9 114.0h0.7M465.3 111.9h0.7M462.0 106.1h0.7M470.2 104.0h0.7M463.6 111.8h0.7M468.2 107.3h0.7M469.4 111.5h0.7M469.9 104.3h0.7M471.3 101.5h0.7M462.0 112.7h0.7M468.0 114.7h0.7M473.8 103.3h0.7M471.0 104.2h0.7M466.4 113.6h0.7M474.5 105.8h0.7M466.8 111.9h0.7M470.1 116.3h0.7M460.7 100.5h0.7M460.8 107.8h0.7M467.8 119.2h0.7M476.4 101.6h0.7M470.1 113.2h0.7M462.6 113.8h0.7M461.1 106.1h0.7M467.4 106.9h0.7M469.5 114.6h0.7M462.4 111.4h0.7M475.4 110.1h0.7M461.5 111.7h0.7M463.9 110.2h0.7M466.9 108.8h0.7M460.7 108.5h0.7M470.4 111.3h0.7M463.8 105.1h0.7M462.4 104.8h0.7M463.5 101.3h0.7M464.6 106.3h0.7M475.4 115.6h0.7M461.1 102.0h0.7M464.4 103.5h0.7M462.4 118.8h0.7M470.3 102.1h0.7M470.0 108.2h0.7M465.6 105.1h0.7M464.7 104.1h0.7M477.2 112.3h0.7M460.9 104.9h0.7M468.4 100.6h0.7M464.0 102.8h0.7M470.1 101.4h0.7M462.9 102.2h0.7M462.6 107.3h0.7M466.6 105.8h0.7M466.8 103.9h0.7M464.3 111.4h0.7M460.8 98.6h0.7M465.5 109.5h0.7M466.0 106.0h0.7M463.1 102.7h0.7M466.8 105.4h0.7M464.4 107.2h0.7M472.4 109.0h0.7M463.6 99.7h0.7M467.8 123.5h0.7M466.4 131.3h0.7M465.0 129.3h0.7M463.7 121.5h0.7M466.9 114.9h0.7M461.1 141.1h0.7M465.8 128.7h0.7M468.5 115.7h0.7M464.7 133.0h0.7M464.5 124.6h0.7M464.9 113.1h0.7M473.1 116.0h0.7M461.7 129.3h0.7M463.8 122.7h0.7M461.6 128.4h0.7M465.7 131.7h0.7M464.6 116.7h0.7M465.9 121.8h0.7M461.0 117.2h0.7M463.1 122.3h0.7M461.8 119.9h0.7M462.0 119.2h0.7M461.9 112.3h0.7M463.3 121.8h0.7M462.9 126.5h0.7M460.8 131.1h0.7M460.6 124.8h0.7M461.6 134.0h0.7M461.2 119.2h0.7M472.9 125.4h0.7M464.4 131.8h0.7M471.2 130.7h0.7M469.6 116.5h0.7M469.2 133.9h0.7M464.3 134.4h0.7M467.8 132.1h0.7M470.1 118.2h0.7M464.6 130.6h0.7M468.8 136.5h0.7M471.8 122.7h0.7M461.5 136.3h0.7M462.3 131.2h0.7M466.2 122.1h0.7M465.6 122.6h0.7M465.0 138.3h0.7M469.4 114.7h0.7M464.6 121.4h0.7M472.2 136.3h0.7M463.2 131.6h0.7M460.7 116.7h0.7M464.2 119.2h0.7M471.0 115.7h0.7M467.8 132.6h0.7M464.5 117.6h0.7M461.6 133.2h0.7M463.8 137.0h0.7M463.7 130.9h0.7M465.7 122.1h0.7M472.5 112.1h0.7M464.9 122.1h0.7M460.6 133.2h0.7M474.7 122.4h0.7M462.6 115.3h0.7M464.6 131.1h0.7M471.8 119.8h0.7M461.3 131.2h0.7M464.7 129.9h0.7M469.2 141.6h0.7M465.3 117.7h0.7M463.6 124.9h0.7M466.9 126.4h0.7M464.3 120.3h0.7M464.4 115.6h0.7M465.4 119.2h0.7M469.4 123.8h0.7M464.2 125.1h0.7M467.7 126.6h0.7M462.6 126.9h0.7M460.6 122.9h0.7M462.5 121.8h0.7M502.7 113.3h0.7M481.8 102.5h0.7M470.8 104.2h0.7M485.7 107.8h0.7M485.7 110.3h0.7M488.7 106.9h0.7M480.8 104.7h0.7M502.1 115.4h0.7M489.8 104.3h0.7M469.7 109.0h0.7M491.2 94.4h0.7M488.1 105.6h0.7M490.5 110.2h0.7M501.2 114.5h0.7M493.8 107.9h0.7M477.2 103.0h0.7M495.0 119.3h0.7M481.2 117.8h0.7M491.9 109.7h0.7M493.4 115.2h0.7M505.7 109.2h0.7M502.2 102.0h0.7M473.2 114.6h0.7M482.4 112.9h0.7M503.3 107.0h0.7M482.4 109.5h0.7M481.1 107.4h0.7M500.5 101.0h0.7M494.9 103.0h0.7M492.8 112.0h0.7M508.0 110.1h0.7M460.7 112.5h0.7M485.9 110.8h0.7M460.7 96.8h0.7M496.8 110.9h0.7M480.0 98.5h0.7M485.5 120.5h0.7M478.9 105.5h0.7M490.5 117.0h0.7M482.4 105.3h0.7M485.7 111.7h0.7M482.0 114.3h0.7M495.9 108.0h0.7M472.3 110.4h0.7M494.6 105.2h0.7M494.0 103.2h0.7M484.5 99.4h0.7M469.4 104.9h0.7M481.8 106.5h0.7M486.4 110.7h0.7M496.2 102.2h0.7M481.7 115.2h0.7M490.8 114.4h0.7M488.6 116.0h0.7M486.8 112.0h0.7M497.0 105.9h0.7M474.5 111.3h0.7M482.3 108.4h0.7M506.1 105.4h0.7M475.4 118.1h0.7M478.5 117.1h0.7M478.9 103.1h0.7M480.0 109.6h0.7M480.1 115.4h0.7M491.7 118.0h0.7M492.0 110.3h0.7M483.9 99.9h0.7M485.5 118.0h0.7M479.1 117.2h0.7M474.9 116.5h0.7M460.7 127.9h0.7M488.1 133.6h0.7M465.7 116.9h0.7M499.6 130.9h0.7M487.4 133.7h0.7M463.2 136.1h0.7M480.5 127.2h0.7M473.6 134.0h0.7M486.4 130.2h0.7M497.5 134.3h0.7M494.6 138.6h0.7" stroke="#000" stroke-opacity="0.33" stroke-width="0.7" fill="none"/>
<path d="M370.3 56.8h0.7M377.2 49.9h0.7M368.3 45.4h0.7M371.9 53.2h0.7M368.1 65.1h0.7M364.7 54.9h0.7M367.9 58.2h0.7M386.5 51.5h0.7M362.8 61.7h0.7M368.8 53.4h0.7M370.6 51.2h0.7M368.3 50.6h0.7M371.1 57.7h0.7M381.1 57.8h0.7M360.5 62.1h0.7M376.7 57.3h0.7M370.7 60.0h0.7M374.1 63.0h0.7M366.5 56.9h0.7M377.8 62.3h0.7M371.6 70.3h0.7M365.8 77.5h0.7M380.4 77.6h0.7M369.2 80.5h0.7M373.3 72.4h0.7M384.2 81.5h0.7M353.3 77.4h0.7M382.7 76.0h0.7M364.6 80.7h0.7M376.3 78.7h0.7M381.6 83.5h0.7M363.4 74.5h0.7M359.9 76.9h0.7M383.9 76.2h0.7M373.5 76.0h0.7M383.5 68.0h0.7M379.1 74.8h0.7M375.6 75.5h0.7M359.2 72.2h0.7M383.6 78.0h0.7M386.7 78.0h0.7M338.6 63.5h0.7M338.0 46.2h0.7M337.9 40.9h0.7M338.6 60.2h0.7M337.7 49.5h0.7M340.5 71.3h0.7M340.3 61.3h0.7M343.0 77.7h0.7M340.0 76.7h0.7M344.7 78.8h0.7M345.3 77.4h0.7M369.9 65.5h0.7M352.1 44.6h0.7M359.5 67.9h0.7M410.4 64.5h0.7M401.2 59.1h0.7M402.5 56.0h0.7M416.0 50.6h0.7M419.0 52.5h0.7M403.9 53.1h0.7M404.2 58.2h0.7M400.6 54.8h0.7M408.6 56.1h0.7M403.4 56.1h0.7M411.6 54.4h0.7M400.0 54.9h0.7M400.2 59.0h0.7M402.9 45.6h0.7M399.3 55.4h0.7M405.6 56.1h0.7M414.7 51.8h0.7M414.2 53.2h0.7M399.0 51.8h0.7M403.8 52.7h0.7M414.9 45.7h0.7M405.2 49.0h0.7M422.6 52.7h0.7M403.1 60.0h0.7M408.5 56.7h0.7M403.8 60.2h0.7M398.8 54.4h0.7M400.4 46.1h0.7M403.3 52.6h0.7M418.7 56.8h0.7M402.5 55.5h0.7M420.3 58.0h0.7M398.9 49.4h0.7M411.9 53.0h0.7M407.3 56.0h0.7M399.3 53.2h0.7M408.6 60.6h0.7M399.8 55.9h0.7M407.1 60.2h0.7M402.9 44.4h0.7M398.9 50.2h0.7M407.0 52.9h0.7M405.9 66.8h0.7M402.1 61.3h0.7M400.0 57.1h0.7M414.1 63.6h0.7M410.7 51.6h0.7M410.2 43.9h0.7M408.7 57.7h0.7M399.3 51.1h0.7M427.4 52.8h0.7M406.8 56.0h0.7M404.5 44.2h0.7M402.7 51.2h0.7M406.7 53.0h0.7M400.8 51.9h0.7M407.9 47.1h0.7M398.7 40.5h0.7M407.7 62.6h0.7M398.8 54.5h0.7M402.8 49.6h0.7M404.4 55.8h0.7M399.8 46.9h0.7M400.8 50.6h0.7M400.6 56.3h0.7M406.4 58.5h0.7M402.6 53.6h0.7M405.3 61.1h0.7M413.7 54.5h0.7M405.4 43.7h0.7M400.1 55.8h0.7M413.0 54.8h0.7M414.6 51.8h0.7M408.7 54.9h0.7M411.3 54.9h0.7M413.0 58.5h0.7M405.2 54.5h0.7M407.0 51.6h0.7M416.9 50.4h0.7M410.2 48.7h0.7M414.7 52.0h0.7M413.3 51.7h0.7M404.8 63.8h0.7M408.5 60.7h0.7M404.6 54.3h0.7M414.5 53.0h0.7M400.1 60.2h0.7M410.3 45.9h0.7M406.0 54.3h0.7M409.7 53.3h0.7M402.9 60.1h0.7M403.1 59.6h0.7M400.1 47.6h0.7M401.1 47.6h0.7M409.5 56.8h0.7M413.5 53.8h0.7M417.5 56.5h0.7M414.4 55.9h0.7M417.4 48.1h0.7M407.3 51.9h0.7M407.5 57.5h0.7M417.0 55.4h0.7M402.2 66.6h0.7M401.8 53.6h0.7M399.5 59.8h0.7M417.3 50.9h0.7M412.7 63.9h0.7M398.8 63.1h0.7M399.4 60.0h0.7M399.9 57.8h0.7M404.2 55.4h0.7M399.9 52.1h0.7M414.2 47.4h0.7M399.5 56.9h0.7M399.5 59.7h0.7M410.7 45.0h0.7M416.4 57.2h0.7M407.5 50.9h0.7M414.0 56.1h0.7M411.4 50.3h0.7M404.4 52.9h0.7M401.5 64.5h0.7M407.8 50.7h0.7M409.0 54.3h0.7M402.9 56.4h0.7M415.4 50.9h0.7M400.7 45.2h0.7M399.5 53.4h0.7M403.4 48.2h0.7M404.2 55.9h0.7M411.5 59.6h0.7M403.3 57.3h0.7M407.5 51.6h0.7M401.8 49.4h0.7M406.8 66.0h0.7M407.8 59.1h0.7M411.4 52.0h0.7M398.7 53.3h0.7M407.5 52.9h0.7M399.2 55.7h0.7M407.4 64.3h0.7M409.6 44.9h0.7M402.8 59.7h0.7M401.8 54.0h0.7M400.6 61.0h0.7M405.6 55.8h0.7M409.9 58.6h0.7M406.2 55.5h0.7M402.5 56.3h0.7M425.1 54.8h0.7M408.3 48.7h0.7M405.4 55.0h0.7M407.2 56.2h0.7M403.7 50.5h0.7M410.4 58.9h0.7M401.0 57.8h0.7M434.0 54.3h0.7M405.5 58.2h0.7M401.9 59.8h0.7M405.4 47.6h0.7M406.8 53.0h0.7M408.9 58.4h0.7M407.0 64.6h0.7M400.0 53.6h0.7M400.4 63.0h0.7M403.7 60.3h0.7M404.8 55.0h0.7M404.9 58.2h0.7M410.3 57.4h0.7M425.0 46.0h0.7M405.9 54.4h0.7M441.4 78.2h0.7M430.4 65.2h0.7M421.2 54.9h0.7M421.9 52.7h0.7M436.4 57.0h0.7M418.6 58.8h0.7M435.2 59.6h0.7M417.2 45.0h0.7M424.4 63.1h0.7M427.4 59.4h0.7M419.5 62.0h0.7M439.4 61.0h0.7M434.2 54.0h0.7M418.2 48.8h0.7M419.9 52.7h0.7M431.6 74.5h0.7M420.7 58.7h0.7M442.3 59.8h0.7M443.9 40.7h0.7M428.2 68.0h0.7M420.3 42.1h0.7M427.9 61.8h0.7M431.0 66.3h0.7M426.2 63.2h0.7M429.4 54.2h0.7M433.1 62.8h0.7M430.5 54.8h0.7M431.7 51.6h0.7M415.1 51.4h0.7M410.6 60.0h0.7M419.4 63.2h0.7M437.6 51.5h0.7M413.1 44.5h0.7M433.9 57.9h0.7M422.8 56.8h0.7M418.6 57.9h0.7M431.5 63.1h0.7M431.1 58.4h0.7M436.8 43.3h0.7M401.5 69.4h0.7M411.2 52.5h0.7M412.1 46.8h0.7M431.5 63.8h0.7M414.1 57.0h0.7M429.2 61.9h0.7M439.0 58.2h0.7M431.4 53.2h0.7M429.8 50.9h0.7M437.6 59.5h0.7M423.9 57.2h0.7M437.3 64.0h0.7M424.3 67.3h0.7M424.7 47.4h0.7M414.6 62.3h0.7M429.4 64.5h0.7M442.4 49.1h0.7M407.2 50.2h0.7M429.4 45.5h0.7M432.8 47.8h0.7M407.6 52.5h0.7M439.6 62.5h0.7M438.7 57.7h0.7M400.5 70.9h0.7M399.9 71.4h0.7M403.6 82.2h0.7M400.7 64.2h0.7M404.7 69.5h0.7M402.9 82.6h0.7M407.0 86.5h0.7M400.6 77.8h0.7M404.4 79.4h0.7M399.5 80.8h0.7M399.7 82.2h0.7M416.3 82.0h0.7M402.6 82.2h0.7M403.0 65.5h0.7M410.8 74.7h0.7M400.0 70.4h0.7M402.7 79.5h0.7M408.5 86.5h0.7M409.0 71.3h0.7M406.8 80.1h0.7M409.1 66.2h0.7M409.6 75.6h0.7M399.8 74.7h0.7M398.7 71.9h0.7M443.4 87.0h0.7M435.3 71.2h0.7M427.0 88.0h0.7M401.6 73.0h0.7M426.4 80.2h0.7M431.2 82.0h0.7M424.3 71.3h0.7M428.1 81.2h0.7M412.6 77.6h0.7M432.7 81.0h0.7M414.0 69.8h0.7M446.9 76.2h0.7M411.3 67.1h0.7M432.7 79.8h0.7M465.7 55.6h0.7M467.2 54.5h0.7M466.4 64.1h0.7M464.3 51.6h0.7M463.6 49.9h0.7M473.2 46.2h0.7M465.5 47.3h0.7M463.0 52.8h0.7M467.8 50.8h0.7M465.8 57.2h0.7M464.9 63.4h0.7M468.5 55.8h0.7M472.1 49.9h0.7M475.7 54.7h0.7M476.6 48.7h0.7M470.4 50.7h0.7M463.0 48.0h0.7M476.3 51.9h0.7M462.3 55.1h0.7M464.8 57.3h0.7M462.6 55.2h0.7M466.9 50.5h0.7M481.3 59.6h0.7M465.9 57.9h0.7M478.9 62.7h0.7M470.2 56.9h0.7M467.2 62.9h0.7M460.8 42.8h0.7M465.4 57.9h0.7M465.5 56.9h0.7M468.2 50.0h0.7M470.8 50.6h0.7M471.9 59.7h0.7M465.6 55.4h0.7M462.2 59.1h0.7M468.9 55.0h0.7M473.4 57.2h0.7M468.6 45.1h0.7M464.3 57.2h0.7M463.9 54.9h0.7M466.5 58.0h0.7M473.0 47.6h0.7M467.8 57.6h0.7M464.0 51.7h0.7M485.6 45.1h0.7M469.3 54.3h0.7M472.3 47.7h0.7M473.6 51.7h0.7M463.2 49.5h0.7M462.0 58.9h0.7M461.5 56.4h0.7M464.9 51.2h0.7M462.2 57.9h0.7M461.5 54.0h0.7M472.9 56.0h0.7M460.8 61.0h0.7M476.8 51.8h0.7M467.9 53.3h0.7M463.6 50.4h0.7M478.4 46.3h0.7M473.5 58.3h0.7M461.9 47.1h0.7M464.2 59.3h0.7M467.0 57.2h0.7M476.0 53.1h0.7M461.7 56.3h0.7M467.8 58.5h0.7M471.8 38.8h0.7M467.5 48.5h0.7M478.5 52.5h0.7M478.9 59.2h0.7M465.1 46.8h0.7M465.5 49.0h0.7M461.0 47.7h0.7M464.5 53.5h0.7M476.4 50.4h0.7M466.9 51.2h0.7M482.3 49.0h0.7M460.8 47.9h0.7M468.6 53.1h0.7M466.1 49.6h0.7M477.9 57.5h0.7M471.0 54.3h0.7M479.1 40.3h0.7M461.4 56.5h0.7M470.7 54.2h0.7M465.5 49.1h0.7M475.5 47.3h0.7M469.0 53.8h0.7M465.2 53.0h0.7M463.7 62.7h0.7M467.3 52.9h0.7M465.4 48.2h0.7M462.6 50.3h0.7M484.6 50.1h0.7M483.4 41.5h0.7M467.1 51.2h0.7M478.2 61.5h0.7M465.9 50.9h0.7M469.7 64.2h0.7M467.6 53.5h0.7M473.4 52.4h0.7M466.2 49.4h0.7M466.5 50.1h0.7M465.5 55.8h0.7M465.1 54.1h0.7M461.1 57.9h0.7M461.4 55.6h0.7M476.4 58.1h0.7M474.4 44.8h0.7M460.8 64.6h0.7M463.6 51.3h0.7M461.5 65.6h0.7M460.6 51.4h0.7M467.7 58.2h0.7M471.8 47.2h0.7M461.1 53.5h0.7M466.1 52.1h0.7M473.1 50.7h0.7M473.6 50.7h0.7M481.5 55.4h0.7M473.4 50.9h0.7M465.1 51.7h0.7M460.7 51.4h0.7M479.3 47.6h0.7M463.6 58.4h0.7M463.0 53.7h0.7M475.8 47.5h0.7M475.0 61.1h0.7M461.0 63.1h0.7M465.0 54.2h0.7M461.5 48.1h0.7M483.5 45.2h0.7M470.2 49.9h0.7M475.5 52.4h0.7M467.4 56.0h0.7M474.8 60.6h0.7M464.2 45.8h0.7M463.0 42.2h0.7M462.5 51.4h0.7M473.0 50.4h0.7M474.2 54.9h0.7M461.5 43.2h0.7M475.1 57.6h0.7M464.0 58.0h0.7M466.9 45.5h0.7M467.4 44.4h0.7M471.8 66.4h0.7M477.2 50.8h0.7M464.9 51.7h0.7M474.9 47.6h0.7M466.4 47.1h0.7M465.4 53.7h0.7M466.0 40.9h0.7M471.4 48.0h0.7M468.7 52.6h0.7M467.5 53.2h0.7M469.8 62.6h0.7M463.9 47.7h0.7M474.9 49.4h0.7M475.3 53.6h0.7M461.3 54.9h0.7M477.8 48.0h0.7M466.0 55.5h0.7M468.0 49.0h0.7M473.4 47.7h0.7M466.3 57.8h0.7M474.8 60.2h0.7M463.4 52.6h0.7M464.3 56.4h0.7M469.6 55.1h0.7M476.7 60.0h0.7M464.8 51.2h0.7M468.2 59.4h0.7M473.2 47.4h0.7M471.2 52.6h0.7M475.4 43.3h0.7M476.1 48.0h0.7M460.9 58.0h0.7M465.4 52.8h0.7M469.6 55.4h0.7M472.1 58.0h0.7M461.9 54.1h0.7M469.7 47.0h0.7M473.1 49.3h0.7M467.4 48.3h0.7M475.2 50.6h0.7M471.2 58.8h0.7M473.3 57.6h0.7M473.4 57.5h0.7M464.5 55.8h0.7M465.6 56.9h0.7M471.7 58.4h0.7M465.3 57.0h0.7M463.9 47.3h0.7M466.9 51.1h0.7M479.1 47.3h0.7M474.7 57.6h0.7M463.2 46.5h0.7M465.7 48.9h0.7M461.9 50.5h0.7M465.0 53.6h0.7M479.3 55.0h0.7M472.4 51.1h0.7M464.7 56.2h0.7M460.7 50.5h0.7M464.3 57.0h0.7M463.8 48.9h0.7M472.1 53.7h0.7M463.0 54.5h0.7M479.1 48.2h0.7M462.7 54.0h0.7M474.7 57.2h0.7M479.2 62.0h0.7M481.8 51.9h0.7M477.5 44.6h0.7M465.9 46.0h0.7M478.1 52.0h0.7M465.0 49.3h0.7M464.5 58.0h0.7M460.7 47.1h0.7M466.7 54.0h0.7M462.1 55.7h0.7M473.4 41.2h0.7M464.3 47.2h0.7M475.6 48.3h0.7M467.5 41.3h0.7M473.1 51.4h0.7M461.1 55.5h0.7M480.3 59.1h0.7M462.4 53.7h0.7M471.0 52.5h0.7M464.3 59.4h0.7M472.7 53.5h0.7M476.0 52.3h0.7M461.1 57.6h0.7M483.0 58.2h0.7M472.3 54.9h0.7M462.1 55.4h0.7M475.7 50.8h0.7M473.6 50.5h0.7M473.8 48.5h0.7M467.5 51.0h0.7M477.2 55.4h0.7M465.8 52.4h0.7M472.2 50.1h0.7M471.0 59.5h0.7M468.7 57.4h0.7M470.5 57.4h0.7M467.3 52.3h0.7M470.3 52.9h0.7M474.2 58.1h0.7M476.2 47.4h0.7M474.7 51.9h0.7M474.3 46.5h0.7M476.3 52.6h0.7M479.2 51.5h0.7M475.5 54.0h0.7M472.9 50.0h0.7M475.5 55.1h0.7M482.7 56.4h0.7M486.3 70.6h0.7M498.7 41.7h0.7M476.3 55.3h0.7M495.1 66.0h0.7M464.8 53.2h0.7M490.3 63.9h0.7M474.9 56.1h0.7M496.3 51.3h0.7M504.0 50.3h0.7M469.3 64.0h0.7M484.9 58.2h0.7M491.6 49.3h0.7M477.4 51.8h0.7M462.0 65.6h0.7M474.8 62.2h0.7M498.6 52.9h0.7M486.4 55.0h0.7M481.8 77.0h0.7M496.2 62.6h0.7M480.8 54.5h0.7M492.2 51.8h0.7M508.7 55.5h0.7M483.8 60.2h0.7M499.2 68.3h0.7M480.8 60.0h0.7M481.3 54.9h0.7M485.4 49.9h0.7M491.1 41.8h0.7M492.2 46.8h0.7M466.9 52.4h0.7M495.2 64.4h0.7M499.0 58.1h0.7M491.6 56.3h0.7M482.1 49.9h0.7M472.0 52.3h0.7M476.6 56.6h0.7M476.9 57.4h0.7M476.1 48.2h0.7M488.4 59.3h0.7M503.7 56.5h0.7M461.7 64.4h0.7M482.5 49.7h0.7M476.9 39.1h0.7M488.0 60.2h0.7M501.3 54.6h0.7M486.8 67.6h0.7M482.1 65.0h0.7M467.9 42.5h0.7M487.0 58.2h0.7M492.2 52.8h0.7M478.1 55.6h0.7M500.2 60.1h0.7M488.0 62.0h0.7M478.8 78.7h0.7M481.9 49.6h0.7M497.6 44.0h0.7M476.5 56.0h0.7M496.8 56.9h0.7M492.7 65.1h0.7M477.6 57.0h0.7M473.3 47.7h0.7M493.7 53.0h0.7M473.0 63.0h0.7M484.4 50.2h0.7M489.8 55.4h0.7M501.7 44.6h0.7M482.1 55.3h0.7M486.9 61.5h0.7M477.6 57.0h0.7M497.6 69.2h0.7M483.9 47.3h0.7M500.1 55.7h0.7M477.5 48.0h0.7M476.4 54.0h0.7M485.8 57.5h0.7M486.2 53.9h0.7M495.4 56.1h0.7M470.4 68.0h0.7M467.0 65.9h0.7M468.5 74.5h0.7M462.8 61.8h0.7M464.0 75.7h0.7M468.3 57.5h0.7M473.7 74.1h0.7M471.3 72.6h0.7M463.1 77.6h0.7M468.9 82.2h0.7M462.2 71.1h0.7M468.8 83.2h0.7M468.0 71.9h0.7M472.1 73.9h0.7M468.6 83.5h0.7M468.9 77.2h0.7M468.6 79.6h0.7M466.8 88.1h0.7M476.0 76.8h0.7M473.8 72.6h0.7M467.9 73.9h0.7M474.6 68.8h0.7M461.0 60.0h0.7M467.0 64.4h0.7M473.5 60.2h0.7M474.0 69.4h0.7M461.1 83.1h0.7M468.6 68.2h0.7M469.3 72.9h0.7M468.8 80.9h0.7M470.0 75.8h0.7M469.9 81.9h0.7M474.5 75.1h0.7M471.8 69.3h0.7M470.3 79.9h0.7M465.3 64.1h0.7M476.9 75.2h0.7M463.1 59.0h0.7M471.2 69.5h0.7M471.1 65.9h0.7M466.8 68.8h0.7M466.8 71.2h0.7M468.9 74.9h0.7M475.5 70.4h0.7M470.9 73.5h0.7M465.3 82.2h0.7M481.5 68.7h0.7M479.3 81.9h0.7M485.2 79.5h0.7M485.8 78.2h0.7M496.5 67.6h0.7M474.5 76.2h0.7M481.8 86.0h0.7M491.7 79.1h0.7M482.3 83.4h0.7M484.2 84.5h0.7M471.3 66.1h0.7M500.9 69.7h0.7M490.0 74.0h0.7M498.4 69.5h0.7M479.1 77.0h0.7M491.5 80.5h0.7M473.1 76.8h0.7M375.1 127.4h0.7M382.7 129.7h0.7M377.8 130.5h0.7M376.4 132.8h0.7M375.1 132.3h0.7M383.2 131.9h0.7M379.2 131.9h0.7M373.3 131.6h0.7M386.3 131.0h0.7M380.8 128.6h0.7M387.0 127.0h0.7M370.0 131.9h0.7M379.9 128.2h0.7M387.2 133.0h0.7M377.3 133.9h0.7M378.5 133.2h0.7M382.9 133.9h0.7M382.5 134.1h0.7M358.8 111.5h0.7M357.3 107.9h0.7M357.1 98.4h0.7M371.2 100.9h0.7M364.1 107.0h0.7M369.3 110.5h0.7M345.3 136.2h0.7M345.7 124.4h0.7M352.4 124.9h0.7M338.4 134.2h0.7M411.5 114.9h0.7M403.4 104.6h0.7M413.6 103.2h0.7M399.6 106.1h0.7M407.2 100.8h0.7M402.1 95.4h0.7M401.4 106.3h0.7M404.1 97.6h0.7M408.0 100.8h0.7M403.6 105.6h0.7M399.0 105.4h0.7M402.9 105.2h0.7M401.3 117.3h0.7M402.6 99.8h0.7M405.0 102.3h0.7M409.3 111.9h0.7M406.7 104.8h0.7M412.8 112.8h0.7M403.0 107.0h0.7M404.0 111.8h0.7M400.3 100.0h0.7M407.7 100.4h0.7M399.7 108.9h0.7M399.8 110.1h0.7M402.1 105.8h0.7M399.7 108.0h0.7M401.2 107.2h0.7M406.4 110.8h0.7M400.6 113.0h0.7M401.5 102.3h0.7M410.8 106.6h0.7M402.6 100.7h0.7M404.4 109.9h0.7M400.4 98.3h0.7M399.3 104.0h0.7M414.2 100.0h0.7M403.8 97.1h0.7M405.9 105.9h0.7M399.2 108.0h0.7M415.7 98.1h0.7M404.6 112.3h0.7M405.4 102.3h0.7M401.8 106.5h0.7M409.6 98.2h0.7M399.8 108.0h0.7M403.2 104.8h0.7M401.6 111.6h0.7M412.1 108.8h0.7M410.4 99.8h0.7M408.6 112.1h0.7M407.1 105.3h0.7M415.1 112.7h0.7M411.0 112.0h0.7M406.2 104.3h0.7M399.0 102.5h0.7M402.9 108.2h0.7M414.7 98.3h0.7M402.8 95.8h0.7M402.2 103.9h0.7M400.9 103.3h0.7M400.7 108.0h0.7M401.1 101.8h0.7M403.6 110.2h0.7M399.6 106.1h0.7M399.0 108.1h0.7M403.6 101.1h0.7M406.0 110.3h0.7M405.8 105.4h0.7M405.9 105.5h0.7M403.5 106.9h0.7M409.5 100.4h0.7M412.3 106.5h0.7M402.3 104.3h0.7M398.8 106.7h0.7M401.4 108.8h0.7M406.6 99.9h0.7M400.8 109.1h0.7M409.3 103.8h0.7M400.7 118.3h0.7M399.9 106.3h0.7M400.9 111.4h0.7M409.3 108.6h0.7M401.0 106.9h0.7M399.4 100.2h0.7M400.0 99.1h0.7M399.3 101.1h0.7M399.3 109.0h0.7M405.5 107.0h0.7M419.0 100.5h0.7M403.3 103.6h0.7M408.3 113.8h0.7M400.6 102.0h0.7M400.6 107.7h0.7M409.8 111.6h0.7M405.2 104.9h0.7M398.7 105.1h0.7M410.9 96.4h0.7M404.9 109.7h0.7M400.3 103.6h0.7M399.0 103.4h0.7M419.7 110.7h0.7M431.0 106.5h0.7M423.6 107.3h0.7M401.6 112.1h0.7M408.6 114.4h0.7M420.6 116.9h0.7M420.6 122.7h0.7M426.7 104.6h0.7M418.9 121.5h0.7M410.8 104.0h0.7M415.1 111.8h0.7M423.6 114.1h0.7M415.2 110.6h0.7M423.4 124.2h0.7M404.5 110.3h0.7M400.5 123.0h0.7M424.5 120.4h0.7M420.7 108.8h0.7M415.7 110.9h0.7M405.9 119.3h0.7M413.8 112.3h0.7M416.1 114.0h0.7M400.4 117.3h0.7M434.6 117.6h0.7M407.3 107.3h0.7M421.2 102.1h0.7M417.5 109.1h0.7M417.1 110.7h0.7M423.2 110.3h0.7M407.1 107.3h0.7M425.7 119.1h0.7M420.1 117.9h0.7M414.8 110.5h0.7M420.6 107.6h0.7M412.1 101.2h0.7M417.0 113.0h0.7M409.2 104.9h0.7M421.9 112.7h0.7M437.9 111.3h0.7M402.8 105.9h0.7M414.1 112.6h0.7M400.4 118.1h0.7M417.2 117.0h0.7M406.9 117.7h0.7M417.9 108.8h0.7M408.7 104.4h0.7M418.8 112.9h0.7M402.8 106.6h0.7M403.3 115.0h0.7M421.2 104.4h0.7M419.5 106.9h0.7M411.9 115.4h0.7M400.7 123.7h0.7M406.5 124.0h0.7M404.8 125.0h0.7M406.0 130.1h0.7M404.6 122.2h0.7M404.8 120.8h0.7M403.6 133.5h0.7M401.2 131.1h0.7M408.6 132.1h0.7M410.9 127.6h0.7M403.6 130.0h0.7M403.7 123.5h0.7M402.2 129.7h0.7M400.3 130.0h0.7M412.3 139.1h0.7M398.8 121.2h0.7M414.5 132.6h0.7M410.0 119.0h0.7M403.8 119.8h0.7M399.0 134.1h0.7M400.0 138.5h0.7M405.7 118.4h0.7M400.4 125.5h0.7M413.7 129.6h0.7M402.0 133.7h0.7M402.1 111.5h0.7M407.9 130.2h0.7M404.7 131.6h0.7M405.9 128.5h0.7M417.3 127.5h0.7M399.5 117.0h0.7M401.4 141.4h0.7M419.1 136.0h0.7M430.0 128.5h0.7M410.3 118.9h0.7M435.9 121.9h0.7M434.4 130.9h0.7M406.6 129.2h0.7M427.0 137.6h0.7M421.4 118.1h0.7M438.3 141.4h0.7M419.4 130.9h0.7M412.9 127.7h0.7M421.3 124.6h0.7M435.0 122.9h0.7M431.8 108.1h0.7M431.2 95.2h0.7M424.4 102.0h0.7M419.7 105.0h0.7M419.0 98.6h0.7M427.5 113.2h0.7M440.2 101.0h0.7M475.2 112.8h0.7M468.3 107.7h0.7M461.5 108.3h0.7M463.0 105.7h0.7M472.7 113.4h0.7M472.1 103.7h0.7M476.6 115.6h0.7M465.7 115.5h0.7M467.1 100.1h0.7M469.4 99.4h0.7M463.0 102.6h0.7M466.1 103.7h0.7M464.0 112.9h0.7M465.0 113.3h0.7M467.0 114.7h0.7M464.3 116.3h0.7M470.3 104.0h0.7M460.8 110.7h0.7M469.7 105.4h0.7M470.4 104.8h0.7M461.2 110.5h0.7M466.5 104.2h0.7M468.4 107.9h0.7M475.0 106.6h0.7M471.5 109.8h0.7M472.3 112.2h0.7M469.5 101.9h0.7M463.3 100.9h0.7M474.3 102.7h0.7M463.9 98.8h0.7M461.6 105.2h0.7M466.1 107.6h0.7M467.0 102.0h0.7M465.7 104.9h0.7M468.5 106.9h0.7M463.2 113.7h0.7M463.1 111.6h0.7M464.4 114.1h0.7M461.8 108.9h0.7M468.3 114.7h0.7M470.1 111.3h0.7M465.5 104.9h0.7M470.9 110.0h0.7M461.3 118.8h0.7M463.0 107.4h0.7M461.2 111.2h0.7M464.8 104.7h0.7M474.3 108.1h0.7M462.7 105.2h0.7M461.1 115.6h0.7M460.9 111.0h0.7M474.0 95.5h0.7M474.4 106.1h0.7M461.2 109.2h0.7M461.1 108.5h0.7M463.2 103.3h0.7M473.8 99.8h0.7M466.9 109.1h0.7M480.8 100.4h0.7M463.7 106.4h0.7M465.5 109.2h0.7M464.3 107.8h0.7M470.6 109.9h0.7M461.0 111.7h0.7M466.6 108.7h0.7M467.2 103.3h0.7M462.4 113.0h0.7M477.5 114.0h0.7M464.0 109.5h0.7M470.6 106.6h0.7M469.3 108.8h0.7M465.8 105.1h0.7M461.9 108.9h0.7M460.9 107.8h0.7M463.8 112.7h0.7M462.5 98.2h0.7M463.2 116.2h0.7M471.7 109.8h0.7M468.4 108.8h0.7M464.0 105.2h0.7M464.3 109.7h0.7M461.1 98.8h0.7M463.4 105.1h0.7M462.8 110.3h0.7M471.1 108.4h0.7M465.1 114.4h0.7M468.7 101.5h0.7M461.0 103.1h0.7M461.0 100.6h0.7M463.3 113.9h0.7M469.0 105.4h0.7M469.7 94.5h0.7M468.2 115.1h0.7M461.4 106.6h0.7M464.4 103.6h0.7M471.6 103.8h0.7M470.7 108.0h0.7M460.6 100.6h0.7M478.3 99.5h0.7M478.6 102.5h0.7M471.5 108.3h0.7M474.1 114.0h0.7M463.3 114.4h0.7M473.5 110.3h0.7M465.9 102.2h0.7M466.3 98.3h0.7M470.0 110.0h0.7M466.2 106.0h0.7M471.3 108.5h0.7M462.7 105.1h0.7M472.0 98.0h0.7M471.1 107.3h0.7M473.3 107.3h0.7M473.3 104.9h0.7M469.9 112.6h0.7M469.0 103.6h0.7M462.9 95.0h0.7M469.4 104.0h0.7M470.6 109.2h0.7M461.3 109.0h0.7M464.7 105.2h0.7M461.6 115.6h0.7M469.6 106.5h0.7M467.9 103.2h0.7M469.8 110.4h0.7M469.4 103.3h0.7M462.2 99.3h0.7M467.4 107.4h0.7M465.8 107.3h0.7M467.1 101.1h0.7M467.3 94.5h0.7M461.9 100.9h0.7M466.3 108.1h0.7M462.7 92.8h0.7M463.2 110.6h0.7M468.9 112.5h0.7M465.9 103.8h0.7M471.8 108.4h0.7M460.7 105.3h0.7M467.3 100.7h0.7M468.0 105.2h0.7M460.8 108.1h0.7M461.9 104.3h0.7M463.1 99.8h0.7M464.8 111.4h0.7M471.6 111.7h0.7M469.0 105.9h0.7M462.4 112.4h0.7M472.2 100.8h0.7M464.6 104.5h0.7M461.4 110.5h0.7M475.0 109.4h0.7M465.1 115.2h0.7M472.1 99.0h0.7M466.6 106.7h0.7M467.3 103.5h0.7M465.4 103.7h0.7M464.6 99.7h0.7M461.4 104.0h0.7M468.7 107.5h0.7M470.9 116.5h0.7M468.8 102.7h0.7M461.9 109.1h0.7M462.7 109.8h0.7M472.0 103.2h0.7M472.4 112.9h0.7M469.4 115.2h0.7M474.0 110.9h0.7M464.0 99.0h0.7M468.0 118.1h0.7M466.7 103.0h0.7M460.6 102.0h0.7M463.5 105.8h0.7M461.5 106.2h0.7M466.1 118.1h0.7M462.0 111.8h0.7M469.7 102.2h0.7M462.9 105.5h0.7M464.9 109.4h0.7M461.1 106.6h0.7M469.0 108.6h0.7M467.5 108.3h0.7M466.9 108.7h0.7M464.4 106.1h0.7M466.4 114.7h0.7M474.3 105.9h0.7M467.8 114.1h0.7M461.3 107.0h0.7M463.0 116.2h0.7M467.1 103.7h0.7M461.9 93.3h0.7M462.5 101.7h0.7M473.9 115.4h0.7M462.4 107.9h0.7M462.6 119.4h0.7M461.5 102.0h0.7M461.6 109.9h0.7M466.4 107.5h0.7M468.8 108.6h0.7M462.0 110.5h0.7M460.7 96.2h0.7M460.8 112.5h0.7M470.5 115.4h0.7M464.7 110.7h0.7M469.6 110.3h0.7M474.6 110.9h0.7M476.4 108.1h0.7M461.4 112.3h0.7M470.0 104.4h0.7M460.8 110.5h0.7M463.8 110.3h0.7M461.2 100.1h0.7M464.7 108.2h0.7M476.1 106.6h0.7M470.4 117.7h0.7M468.3 111.4h0.7M470.0 100.8h0.7M466.2 107.6h0.7M477.3 104.1h0.7M467.7 105.7h0.7M475.4 106.5h0.7M461.0 106.0h0.7M462.3 100.8h0.7M463.5 98.7h0.7M466.3 100.2h0.7M465.6 109.4h0.7M468.3 107.9h0.7M467.0 106.8h0.7M469.0 97.6h0.7M465.3 111.0h0.7M469.1 93.8h0.7M461.0 111.0h0.7M468.5 101.7h0.7M461.1 99.8h0.7M467.1 99.1h0.7M477.0 116.2h0.7M474.9 103.4h0.7M461.1 99.1h0.7M462.0 113.0h0.7M467.4 105.6h0.7M467.8 104.2h0.7M464.6 108.8h0.7M462.9 106.9h0.7M460.6 107.1h0.7M465.5 101.7h0.7M472.9 113.0h0.7M463.6 105.5h0.7M462.1 118.1h0.7M462.4 114.3h0.7M468.1 111.9h0.7M477.0 98.5h0.7M462.8 108.5h0.7M462.6 115.5h0.7M469.7 103.9h0.7M463.0 108.0h0.7M474.1 95.5h0.7M463.3 115.0h0.7M464.6 109.3h0.7M471.2 107.9h0.7M466.1 111.6h0.7M461.1 109.5h0.7M471.6 103.9h0.7M461.4 99.9h0.7M468.5 102.8h0.7M470.0 116.9h0.7M461.4 110.7h0.7M465.5 104.2h0.7M472.4 112.7h0.7M461.4 112.8h0.7M466.6 123.9h0.7M460.8 122.6h0.7M461.1 119.3h0.7M466.3 131.4h0.7M464.0 119.2h0.7M462.4 128.9h0.7M462.9 126.7h0.7M463.3 129.1h0.7M463.2 113.6h0.7M467.3 122.4h0.7M464.1 117.3h0.7M465.0 124.9h0.7M466.5 121.2h0.7M464.2 127.4h0.7M464.4 131.8h0.7M466.3 115.5h0.7M470.6 113.3h0.7M461.0 131.4h0.7M463.9 121.9h0.7M465.5 136.4h0.7M470.1 131.5h0.7M460.7 132.4h0.7M470.1 111.3h0.7M465.8 119.2h0.7M468.8 132.2h0.7M460.8 125.0h0.7M467.0 139.3h0.7M467.1 135.1h0.7M464.9 141.9h0.7M462.3 119.6h0.7M463.8 126.4h0.7M461.8 124.7h0.7M465.3 124.8h0.7M465.1 136.1h0.7M461.9 122.4h0.7M463.1 110.0h0.7M463.2 139.1h0.7M468.4 122.2h0.7M469.6 128.3h0.7M463.0 121.0h0.7M462.6 120.2h0.7M460.8 137.1h0.7M461.8 119.8h0.7M461.0 135.3h0.7M469.3 129.9h0.7M460.9 129.0h0.7M464.1 125.6h0.7M463.1 122.0h0.7M464.2 121.3h0.7M464.7 119.3h0.7M462.9 125.0h0.7M468.2 127.0h0.7M461.2 125.5h0.7M465.1 125.2h0.7M461.9 119.0h0.7M466.2 110.1h0.7M464.9 126.1h0.7M464.2 134.2h0.7M464.9 126.5h0.7M467.4 131.3h0.7M464.5 126.4h0.7M467.1 125.6h0.7M466.1 124.4h0.7M470.0 124.5h0.7M464.8 122.4h0.7M463.0 131.7h0.7M468.0 120.4h0.7M465.2 116.2h0.7M470.5 124.0h0.7M462.0 112.8h0.7M465.5 133.0h0.7M464.8 115.8h0.7M472.5 131.3h0.7M468.2 126.8h0.7M464.6 123.2h0.7M462.9 142.4h0.7M469.4 131.5h0.7M467.5 122.3h0.7M466.0 135.3h0.7M468.1 131.6h0.7M494.9 123.7h0.7M480.5 104.6h0.7M497.8 96.0h0.7M491.5 109.5h0.7M481.1 104.9h0.7M485.3 109.5h0.7M487.5 118.5h0.7M466.5 117.2h0.7M477.8 119.0h0.7M482.4 106.8h0.7M498.8 107.8h0.7M485.1 109.9h0.7M499.4 99.2h0.7M480.2 108.9h0.7M484.7 114.1h0.7M492.2 107.9h0.7M492.7 101.8h0.7M479.8 117.3h0.7M461.9 100.1h0.7M468.1 114.9h0.7M509.0 114.4h0.7M473.0 112.8h0.7M462.9 103.0h0.7M500.8 106.4h0.7M493.7 113.9h0.7M485.3 108.2h0.7M501.7 99.7h0.7M507.7 114.3h0.7M494.8 109.3h0.7M477.7 103.8h0.7M472.4 99.4h0.7M485.8 98.8h0.7M466.8 114.6h0.7M483.6 109.1h0.7M478.5 109.0h0.7M489.9 106.3h0.7M496.0 106.4h0.7M485.3 118.6h0.7M503.9 123.6h0.7M486.7 101.4h0.7M473.5 108.7h0.7M493.9 112.2h0.7M499.0 117.9h0.7M482.8 107.7h0.7M473.5 110.3h0.7M483.2 116.7h0.7M494.1 95.9h0.7M493.4 102.1h0.7M481.0 118.6h0.7M483.0 108.1h0.7M477.7 112.7h0.7M489.2 102.2h0.7M504.4 110.9h0.7M492.1 103.4h0.7M500.4 108.5h0.7M482.6 102.6h0.7M461.5 98.2h0.7M478.5 108.6h0.7M488.7 113.9h0.7M503.8 119.8h0.7M477.5 122.6h0.7M500.7 107.6h0.7M502.4 114.2h0.7M495.9 107.2h0.7M482.1 105.7h0.7M474.7 111.3h0.7M488.9 107.2h0.7M484.7 111.2h0.7M487.5 133.3h0.7M476.9 130.4h0.7M470.4 133.6h0.7M472.3 130.7h0.7M476.7 129.0h0.7M463.4 133.5h0.7M486.0 138.0h0.7M488.4 132.2h0.7M496.3 134.9h0.7M472.8 132.7h0.7M483.0 141.5h0.7M488.9 135.1h0.7M484.9 133.9h0.7" stroke="#000" stroke-opacity="0.33" stroke-width="0.7" fill="none"/>
<path d="M378.0 63.5h0.7M379.8 51.5h0.7M370.7 55.7h0.7M377.8 59.9h0.7M361.9 59.0h0.7M378.3 49.0h0.7M378.2 55.8h0.7M363.0 62.6h0.7M371.9 52.4h0.7M376.1 56.0h0.7M382.4 50.5h0.7M369.5 58.1h0.7M376.3 53.2h0.7M373.2 53.9h0.7M373.5 49.2h0.7M377.2 54.4h0.7M378.3 57.0h0.7M378.1 43.2h0.7M368.1 51.2h0.7M363.8 59.9h0.7M359.3 75.9h0.7M367.6 85.1h0.7M356.6 80.8h0.7M381.7 81.8h0.7M370.3 77.0h0.7M374.1 82.7h0.7M371.0 75.8h0.7M373.9 71.6h0.7M375.2 73.1h0.7M371.7 79.9h0.7M379.5 79.9h0.7M363.8 73.6h0.7M367.2 74.7h0.7M368.7 73.7h0.7M363.6 78.8h0.7M374.6 85.9h0.7M386.0 72.8h0.7M366.6 67.6h0.7M386.5 78.7h0.7M380.0 77.8h0.7M362.8 78.0h0.7M338.7 48.4h0.7M337.7 65.9h0.7M340.3 53.4h0.7M339.2 47.9h0.7M337.9 58.3h0.7M342.3 67.4h0.7M340.2 76.1h0.7M347.6 84.3h0.7M341.9 81.5h0.7M356.4 79.4h0.7M338.0 79.3h0.7M372.8 46.7h0.7M352.0 82.9h0.7M358.7 81.1h0.7M409.1 54.3h0.7M402.4 43.9h0.7M399.6 41.9h0.7M399.4 55.3h0.7M403.4 48.3h0.7M408.9 62.2h0.7M399.0 52.3h0.7M406.0 44.4h0.7M411.2 59.1h0.7M411.4 54.5h0.7M410.5 58.8h0.7M410.5 55.1h0.7M410.3 58.6h0.7M409.1 50.1h0.7M422.0 53.9h0.7M414.1 56.5h0.7M402.4 55.8h0.7M407.3 56.7h0.7M411.2 54.6h0.7M404.8 49.2h0.7M410.8 51.7h0.7M408.1 53.1h0.7M398.7 53.0h0.7M413.2 62.4h0.7M405.1 52.3h0.7M404.9 53.3h0.7M403.8 51.6h0.7M413.6 58.4h0.7M416.3 49.7h0.7M398.8 55.4h0.7M407.9 51.3h0.7M407.8 50.1h0.7M410.1 49.4h0.7M400.3 53.4h0.7M408.4 48.3h0.7M407.7 40.7h0.7M411.8 56.8h0.7M406.1 50.4h0.7M425.8 44.0h0.7M404.5 50.6h0.7M407.7 50.5h0.7M417.8 51.7h0.7M405.9 55.6h0.7M409.5 54.7h0.7M409.2 55.0h0.7M401.3 60.7h0.7M398.6 53.9h0.7M414.0 55.2h0.7M400.7 66.3h0.7M402.8 62.3h0.7M398.8 60.9h0.7M399.8 48.1h0.7M407.7 54.4h0.7M403.8 49.6h0.7M400.6 49.1h0.7M403.8 60.1h0.7M414.3 59.2h0.7M412.1 45.6h0.7M404.1 53.3h0.7M409.4 50.8h0.7M411.6 49.2h0.7M408.3 49.9h0.7M399.8 55.5h0.7M408.4 51.0h0.7M417.6 55.1h0.7M403.8 66.5h0.7M413.7 51.3h0.7M399.5 57.0h0.7M412.0 52.2h0.7M402.3 51.9h0.7M407.8 55.7h0.7M408.6 59.9h0.7M415.5 52.2h0.7M409.3 57.9h0.7M415.9 52.3h0.7M403.8 55.0h0.7M416.3 56.4h0.7M404.8 52.2h0.7M400.5 59.5h0.7M414.3 41.6h0.7M404.2 52.1h0.7M400.9 56.9h0.7M403.7 53.2h0.7M412.2 51.4h0.7M405.1 52.8h0.7M417.8 54.2h0.7M419.3 49.8h0.7M414.1 51.2h0.7M402.7 38.2h0.7M411.3 52.7h0.7M407.8 58.5h0.7M406.5 47.8h0.7M400.5 48.5h0.7M402.7 58.4h0.7M412.9 53.3h0.7M411.7 52.8h0.7M402.3 53.1h0.7M407.7 53.7h0.7M414.6 51.8h0.7M402.3 62.9h0.7M407.7 58.0h0.7M409.0 52.8h0.7M405.1 50.5h0.7M409.7 48.7h0.7M400.0 48.3h0.7M405.0 64.5h0.7M401.9 59.4h0.7M399.9 51.7h0.7M411.4 53.6h0.7M405.5 52.8h0.7M404.1 63.0h0.7M411.8 59.8h0.7M407.5 65.0h0.7M405.6 49.8h0.7M400.0 50.1h0.7M403.6 47.2h0.7M401.0 60.1h0.7M401.9 62.4h0.7M402.3 50.7h0.7M401.0 59.9h0.7M411.1 51.7h0.7M421.0 49.2h0.7M413.6 50.1h0.7M401.2 47.4h0.7M401.2 48.0h0.7M408.3 51.3h0.7M407.2 64.7h0.7M400.0 52.5h0.7M414.6 61.6h0.7M419.3 70.3h0.7M402.6 52.6h0.7M414.6 55.7h0.7M416.6 53.1h0.7M426.2 53.1h0.7M408.2 54.2h0.7M403.5 54.0h0.7M402.6 48.5h0.7M418.7 57.2h0.7M406.7 54.0h0.7M401.3 44.5h0.7M412.3 55.6h0.7M401.0 43.5h0.7M410.2 50.7h0.7M402.5 56.1h0.7M414.4 58.5h0.7M407.9 51.2h0.7M401.9 46.1h0.7M403.6 51.2h0.7M401.9 53.4h0.7M406.2 58.1h0.7M412.6 56.5h0.7M417.5 68.6h0.7M420.8 56.2h0.7M399.4 47.2h0.7M403.1 58.8h0.7M416.6 61.8h0.7M404.9 51.7h0.7M399.5 48.2h0.7M419.3 45.3h0.7M410.4 64.6h0.7M411.6 51.0h0.7M403.2 49.2h0.7M412.1 50.6h0.7M405.5 50.4h0.7M406.7 50.2h0.7M399.0 56.9h0.7M415.4 42.1h0.7M399.8 52.7h0.7M412.9 50.3h0.7M423.0 53.4h0.7M417.6 41.9h0.7M436.9 59.0h0.7M430.1 64.6h0.7M424.4 44.3h0.7M437.3 71.6h0.7M439.5 66.8h0.7M429.4 47.4h0.7M418.9 61.7h0.7M422.1 65.6h0.7M421.6 46.4h0.7M427.1 75.7h0.7M417.6 52.6h0.7M427.0 70.8h0.7M434.7 40.1h0.7M423.3 38.3h0.7M434.9 62.7h0.7M409.5 54.4h0.7M434.6 45.1h0.7M411.0 50.9h0.7M428.5 59.1h0.7M416.2 58.4h0.7M432.3 73.5h0.7M436.6 58.5h0.7M416.9 62.0h0.7M419.5 41.3h0.7M424.7 46.8h0.7M426.4 50.2h0.7M435.6 69.4h0.7M445.6 47.3h0.7M407.3 63.3h0.7M413.2 62.0h0.7M431.5 68.4h0.7M404.3 56.4h0.7M431.1 53.0h0.7M413.3 54.4h0.7M439.8 60.4h0.7M425.8 56.3h0.7M423.4 57.4h0.7M444.5 55.4h0.7M435.4 44.0h0.7M421.4 67.7h0.7M422.0 58.0h0.7M422.4 60.6h0.7M441.6 55.1h0.7M425.4 59.9h0.7M428.3 61.3h0.7M413.7 54.6h0.7M427.9 55.6h0.7M434.5 48.9h0.7M433.5 55.4h0.7M423.2 50.0h0.7M426.3 64.0h0.7M422.1 49.5h0.7M420.7 60.8h0.7M419.0 51.8h0.7M439.7 58.1h0.7M427.0 38.5h0.7M420.7 52.1h0.7M419.8 52.8h0.7M420.8 49.7h0.7M441.7 63.2h0.7M430.1 61.7h0.7M429.1 65.7h0.7M400.7 68.0h0.7M403.3 76.0h0.7M406.6 72.4h0.7M409.6 53.7h0.7M400.7 85.7h0.7M404.4 72.9h0.7M401.9 71.4h0.7M402.7 81.5h0.7M409.0 71.4h0.7M402.7 72.6h0.7M411.1 68.2h0.7M402.7 64.7h0.7M400.7 88.3h0.7M399.0 71.0h0.7M402.4 73.4h0.7M399.1 73.0h0.7M406.8 78.4h0.7M411.2 64.3h0.7M405.1 70.2h0.7M402.7 71.1h0.7M405.1 78.9h0.7M398.6 75.9h0.7M408.8 76.9h0.7M402.3 69.4h0.7M407.5 81.5h0.7M427.0 76.8h0.7M400.1 69.6h0.7M423.5 71.8h0.7M445.3 73.4h0.7M433.2 71.9h0.7M422.1 80.8h0.7M429.8 81.4h0.7M430.1 73.7h0.7M434.1 77.0h0.7M430.2 77.1h0.7M441.8 72.7h0.7M426.1 79.7h0.7M425.7 63.9h0.7M462.6 55.7h0.7M468.0 56.9h0.7M474.9 53.1h0.7M478.9 56.1h0.7M478.2 55.7h0.7M461.9 55.6h0.7M472.6 48.6h0.7M463.6 54.0h0.7M461.9 55.1h0.7M461.6 54.0h0.7M470.5 48.5h0.7M460.7 51.7h0.7M463.1 54.1h0.7M469.4 51.1h0.7M477.1 54.4h0.7M464.9 52.6h0.7M480.5 54.4h0.7M472.3 52.1h0.7M472.2 52.0h0.7M471.6 52.2h0.7M472.9 49.8h0.7M467.5 58.0h0.7M478.3 51.8h0.7M470.5 57.4h0.7M475.0 54.4h0.7M465.8 52.2h0.7M461.6 54.3h0.7M468.0 54.6h0.7M468.7 51.1h0.7M468.1 55.7h0.7M480.8 52.9h0.7M461.2 45.6h0.7M471.0 53.8h0.7M471.7 63.8h0.7M470.4 46.6h0.7M472.0 49.8h0.7M477.5 57.5h0.7M473.9 50.4h0.7M463.3 58.6h0.7M464.5 60.0h0.7M466.0 55.2h0.7M472.8 51.5h0.7M461.6 51.9h0.7M471.5 45.4h0.7M469.1 53.1h0.7M462.1 52.6h0.7M470.7 53.9h0.7M470.9 53.6h0.7M466.6 51.4h0.7M472.1 57.0h0.7M460.8 50.2h0.7M462.1 45.2h0.7M467.5 44.0h0.7M471.8 48.0h0.7M466.7 55.5h0.7M470.7 48.7h0.7M477.5 58.5h0.7M472.2 56.9h0.7M469.3 52.0h0.7M471.2 47.4h0.7M463.2 64.1h0.7M473.8 51.8h0.7M470.2 57.9h0.7M476.5 49.5h0.7M478.1 45.6h0.7M482.8 54.7h0.7M481.1 57.1h0.7M463.1 56.3h0.7M461.5 49.2h0.7M469.7 50.2h0.7M462.5 54.0h0.7M461.6 50.5h0.7M460.9 51.8h0.7M467.5 52.8h0.7M461.9 48.8h0.7M473.3 64.8h0.7M477.8 53.3h0.7M475.1 45.0h0.7M482.3 48.2h0.7M461.8 58.4h0.7M483.5 52.9h0.7M479.0 55.9h0.7M470.1 59.5h0.7M478.6 55.8h0.7M464.6 50.1h0.7M472.3 54.5h0.7M476.8 54.7h0.7M463.6 45.6h0.7M466.8 60.0h0.7M462.0 57.2h0.7M473.4 49.4h0.7M461.4 51.6h0.7M465.8 53.5h0.7M470.7 62.0h0.7M463.2 52.5h0.7M464.5 59.2h0.7M462.2 58.8h0.7M465.3 55.8h0.7M460.9 48.7h0.7M463.1 41.0h0.7M466.6 48.6h0.7M485.4 52.1h0.7M475.0 56.5h0.7M469.4 53.8h0.7M472.1 55.0h0.7M483.4 47.5h0.7M462.3 46.1h0.7M476.8 50.2h0.7M478.2 46.6h0.7M481.2 55.8h0.7M476.7 47.9h0.7M461.6 45.8h0.7M465.0 52.4h0.7M463.2 54.2h0.7M466.9 53.1h0.7M476.5 50.0h0.7M466.0 55.9h0.7M474.0 58.2h0.7M469.1 53.0h0.7M480.8 52.3h0.7M467.5 47.9h0.7M473.8 51.3h0.7M477.1 55.9h0.7M472.2 51.7h0.7M473.4 53.6h0.7M473.2 47.5h0.7M477.0 48.0h0.7M478.1 60.7h0.7M467.8 48.3h0.7M477.6 57.9h0.7M476.7 50.3h0.7M471.9 49.0h0.7M469.4 56.2h0.7M462.5 61.2h0.7M471.0 60.0h0.7M465.1 50.8h0.7M466.4 49.7h0.7M474.0 56.5h0.7M473.0 47.4h0.7M467.9 53.9h0.7M473.3 56.4h0.7M468.8 54.0h0.7M463.2 56.2h0.7M467.7 58.1h0.7M461.9 60.4h0.7M461.3 56.1h0.7M465.8 53.1h0.7M462.5 52.5h0.7M460.9 46.5h0.7M469.4 48.4h0.7M461.2 48.9h0.7M465.1 50.5h0.7M463.7 52.2h0.7M474.6 47.0h0.7M462.2 50.5h0.7M471.7 57.8h0.7M464.2 59.8h0.7M470.1 57.4h0.7M485.1 45.4h0.7M470.3 56.3h0.7M473.6 57.0h0.7M480.6 51.5h0.7M476.4 54.4h0.7M477.0 61.3h0.7M474.7 50.3h0.7M466.7 53.6h0.7M477.2 58.9h0.7M468.9 43.3h0.7M476.9 54.6h0.7M462.6 58.8h0.7M462.1 50.5h0.7M474.1 52.7h0.7M460.9 51.5h0.7M472.9 55.7h0.7M472.3 54.3h0.7M463.5 44.1h0.7M470.8 50.3h0.7M474.7 54.7h0.7M474.7 58.5h0.7M467.6 58.7h0.7M472.7 50.6h0.7M470.9 59.7h0.7M470.3 59.4h0.7M465.6 54.2h0.7M467.2 51.6h0.7M464.2 63.6h0.7M464.8 48.5h0.7M474.7 58.7h0.7M462.9 55.5h0.7M472.9 56.8h0.7M463.2 51.6h0.7M470.6 60.1h0.7M474.9 54.1h0.7M485.8 54.4h0.7M468.4 47.1h0.7M469.6 50.2h0.7M461.5 51.8h0.7M461.4 54.2h0.7M467.9 54.6h0.7M495.8 52.0h0.7M468.5 50.3h0.7M465.2 44.5h0.7M462.2 48.6h0.7M472.0 51.0h0.7M465.6 47.9h0.7M467.4 54.8h0.7M473.1 52.5h0.7M469.3 61.1h0.7M479.4 55.9h0.7M471.3 56.1h0.7M464.5 52.1h0.7M475.7 60.6h0.7M461.0 51.1h0.7M480.2 54.9h0.7M461.4 57.9h0.7M466.8 52.1h0.7M465.3 56.7h0.7M462.9 49.2h0.7M463.1 50.9h0.7M478.2 61.5h0.7M462.6 51.3h0.7M479.9 64.4h0.7M463.7 47.9h0.7M470.6 55.2h0.7M474.4 56.9h0.7M462.0 49.6h0.7M467.2 56.2h0.7M461.3 53.5h0.7M463.4 58.8h0.7M471.3 54.5h0.7M462.9 49.6h0.7M468.7 62.4h0.7M466.9 55.3h0.7M478.5 50.2h0.7M478.7 53.4h0.7M462.0 50.0h0.7M463.9 62.6h0.7M469.3 52.0h0.7M463.1 53.3h0.7M478.0 54.0h0.7M474.8 51.4h0.7M481.3 55.6h0.7M464.0 56.9h0.7M463.2 60.5h0.7M478.3 42.9h0.7M469.1 58.7h0.7M468.3 51.2h0.7M472.7 51.3h0.7M469.4 49.3h0.7M461.9 64.4h0.7M461.4 49.8h0.7M469.9 55.5h0.7M479.7 53.4h0.7M476.7 54.8h0.7M476.9 49.8h0.7M474.6 53.9h0.7M466.5 59.3h0.7M469.1 50.3h0.7M466.5 56.0h0.7M467.3 56.9h0.7M502.5 63.1h0.7M484.5 50.6h0.7M493.0 54.5h0.7M489.3 71.8h0.7M495.3 49.6h0.7M502.6 56.9h0.7M471.3 61.7h0.7M495.0 57.1h0.7M483.5 63.3h0.7M485.0 75.9h0.7M492.3 55.9h0.7M487.8 48.4h0.7M490.9 65.1h0.7M477.6 53.4h0.7M476.6 56.4h0.7M478.0 57.5h0.7M492.9 46.6h0.7M478.6 55.6h0.7M500.7 64.9h0.7M493.8 50.7h0.7M478.3 55.8h0.7M508.0 64.2h0.7M474.1 53.8h0.7M485.3 56.5h0.7M473.9 54.6h0.7M484.4 52.5h0.7M490.6 58.6h0.7M495.0 54.4h0.7M487.4 49.9h0.7M495.1 60.7h0.7M499.9 53.3h0.7M476.0 59.8h0.7M501.2 57.2h0.7M483.2 58.2h0.7M504.9 39.4h0.7M483.1 50.8h0.7M470.8 66.3h0.7M470.4 56.2h0.7M484.0 67.9h0.7M496.1 62.1h0.7M481.5 53.7h0.7M471.3 46.9h0.7M492.9 45.2h0.7M493.3 50.2h0.7M477.7 48.8h0.7M477.5 42.9h0.7M484.5 58.6h0.7M462.1 65.4h0.7M502.9 63.6h0.7M487.5 59.7h0.7M475.9 38.8h0.7M499.1 63.3h0.7M495.2 49.7h0.7M472.0 60.4h0.7M491.9 52.2h0.7M494.0 58.1h0.7M482.9 55.5h0.7M487.3 47.1h0.7M496.1 57.4h0.7M467.9 60.4h0.7M500.1 48.5h0.7M476.8 58.2h0.7M482.4 52.9h0.7M480.5 53.1h0.7M499.4 55.1h0.7M469.9 60.2h0.7M494.9 58.9h0.7M490.5 59.5h0.7M485.4 42.8h0.7M491.3 46.6h0.7M476.9 59.6h0.7M462.8 53.5h0.7M490.9 59.4h0.7M493.2 65.5h0.7M488.7 69.6h0.7M480.3 51.0h0.7M483.0 59.5h0.7M466.1 64.4h0.7M463.9 77.5h0.7M462.1 85.6h0.7M471.6 64.2h0.7M463.3 56.4h0.7M467.1 68.7h0.7M462.9 66.9h0.7M465.4 77.5h0.7M467.7 74.5h0.7M468.8 65.8h0.7M469.7 76.0h0.7M462.5 75.0h0.7M463.1 73.0h0.7M470.5 84.0h0.7M463.2 76.8h0.7M473.8 63.5h0.7M461.5 82.8h0.7M463.7 65.6h0.7M470.4 85.2h0.7M475.5 81.7h0.7M469.4 61.7h0.7M470.1 80.4h0.7M467.3 72.4h0.7M467.4 84.6h0.7M462.2 87.6h0.7M468.3 76.2h0.7M472.6 85.4h0.7M462.2 72.3h0.7M467.9 65.9h0.7M467.6 74.5h0.7M466.4 82.8h0.7M471.7 77.2h0.7M468.6 78.8h0.7M462.1 82.5h0.7M474.4 72.2h0.7M477.5 80.4h0.7M462.1 77.2h0.7M461.2 71.5h0.7M466.3 63.5h0.7M464.7 63.3h0.7M466.0 61.3h0.7M468.6 66.4h0.7M466.3 77.3h0.7M475.0 74.5h0.7M470.3 66.8h0.7M472.7 84.2h0.7M461.2 64.6h0.7M479.0 79.6h0.7M467.4 69.0h0.7M487.8 83.3h0.7M489.9 69.9h0.7M477.8 73.3h0.7M488.6 79.9h0.7M488.6 70.7h0.7M473.2 73.2h0.7M476.9 78.2h0.7M462.9 80.3h0.7M507.7 81.4h0.7M501.6 69.5h0.7M481.7 72.7h0.7M469.8 63.2h0.7M477.6 80.4h0.7M493.2 78.3h0.7M478.7 70.8h0.7M381.7 131.2h0.7M374.0 136.5h0.7M383.2 131.5h0.7M377.8 129.2h0.7M382.8 128.9h0.7M384.2 133.2h0.7M383.6 134.3h0.7M383.5 135.7h0.7M374.1 132.7h0.7M376.1 125.9h0.7M368.1 128.9h0.7M375.9 127.6h0.7M375.8 131.0h0.7M385.2 133.6h0.7M380.4 127.6h0.7M379.7 131.2h0.7M376.7 133.8h0.7M383.2 123.8h0.7M355.1 105.7h0.7M382.5 103.7h0.7M353.6 101.3h0.7M380.9 100.8h0.7M368.9 111.1h0.7M363.6 103.3h0.7M339.5 127.1h0.7M347.1 137.0h0.7M341.0 132.7h0.7M346.0 133.9h0.7M401.4 104.7h0.7M401.4 106.5h0.7M401.0 114.2h0.7M399.2 107.6h0.7M406.4 97.2h0.7M398.8 114.9h0.7M399.8 97.6h0.7M405.8 101.0h0.7M402.3 105.7h0.7M400.6 113.7h0.7M403.6 103.7h0.7M400.3 109.0h0.7M404.9 101.5h0.7M403.5 101.5h0.7M403.6 111.0h0.7M408.7 103.4h0.7M402.2 99.3h0.7M400.2 106.1h0.7M408.5 106.0h0.7M404.4 103.7h0.7M398.6 99.4h0.7M399.1 108.3h0.7M405.4 110.9h0.7M400.7 100.7h0.7M403.8 106.1h0.7M404.6 108.1h0.7M406.4 113.2h0.7M400.4 109.5h0.7M400.2 108.8h0.7M399.6 105.8h0.7M400.4 100.7h0.7M406.5 106.8h0.7M415.5 114.7h0.7M404.5 112.9h0.7M402.8 113.6h0.7M400.2 104.3h0.7M401.6 104.4h0.7M401.7 113.6h0.7M404.4 107.6h0.7M408.0 114.4h0.7M406.6 108.2h0.7M404.6 105.7h0.7M402.8 107.1h0.7M402.2 110.1h0.7M398.7 107.9h0.7M403.3 104.5h0.7M411.3 109.4h0.7M398.8 108.1h0.7M414.2 101.6h0.7M411.9 107.5h0.7M399.9 104.7h0.7M399.7 96.8h0.7M401.7 99.7h0.7M414.5 96.6h0.7M401.8 108.3h0.7M408.5 104.0h0.7M401.0 98.4h0.7M404.0 111.8h0.7M400.2 113.4h0.7M399.4 106.3h0.7M400.5 108.6h0.7M405.8 111.5h0.7M406.2 111.0h0.7M399.4 102.2h0.7M402.2 108.2h0.7M408.4 109.5h0.7M404.1 103.0h0.7M405.9 108.7h0.7M398.8 107.2h0.7M409.1 98.1h0.7M399.2 103.9h0.7M407.3 108.0h0.7M398.9 103.9h0.7M402.9 104.7h0.7M407.8 102.4h0.7M402.6 109.7h0.7M399.2 103.7h0.7M399.8 112.8h0.7M398.6 108.0h0.7M400.9 105.9h0.7M401.7 111.8h0.7M403.5 98.6h0.7M402.4 97.4h0.7M400.3 106.0h0.7M405.5 105.7h0.7M409.4 102.5h0.7M403.0 102.4h0.7M411.3 103.5h0.7M401.6 105.7h0.7M406.6 107.8h0.7M413.3 107.3h0.7M406.4 110.6h0.7M409.1 111.2h0.7M402.6 100.9h0.7M398.8 106.3h0.7M407.1 112.5h0.7M407.3 105.9h0.7M406.7 100.4h0.7M416.0 108.6h0.7M400.1 106.1h0.7M415.3 110.4h0.7M425.1 110.4h0.7M409.1 112.1h0.7M415.2 123.4h0.7M420.0 101.5h0.7M403.6 108.3h0.7M420.2 107.6h0.7M419.6 110.8h0.7M425.6 115.3h0.7M425.9 115.5h0.7M426.3 111.5h0.7M404.8 113.1h0.7M419.5 110.9h0.7M416.6 121.3h0.7M402.9 121.6h0.7M408.7 116.5h0.7M411.1 117.0h0.7M436.2 107.6h0.7M423.9 100.5h0.7M419.4 107.1h0.7M425.4 96.2h0.7M425.0 123.0h0.7M426.4 112.8h0.7M414.9 109.6h0.7M419.9 115.7h0.7M420.9 107.8h0.7M425.6 114.4h0.7M415.9 103.9h0.7M420.1 110.6h0.7M415.6 109.4h0.7M417.3 113.9h0.7M416.1 118.5h0.7M416.2 103.3h0.7M412.7 101.5h0.7M420.1 111.0h0.7M414.8 107.8h0.7M419.1 112.7h0.7M406.7 119.2h0.7M432.1 115.2h0.7M416.6 103.4h0.7M421.5 103.8h0.7M418.5 110.7h0.7M418.1 114.6h0.7M412.2 103.1h0.7M426.4 115.8h0.7M421.9 114.0h0.7M424.8 105.1h0.7M420.4 121.6h0.7M414.7 112.1h0.7M413.5 114.8h0.7M418.0 116.0h0.7M408.2 104.7h0.7M399.9 134.7h0.7M406.1 132.6h0.7M414.7 128.8h0.7M405.8 123.6h0.7M408.1 135.5h0.7M399.2 121.4h0.7M403.2 120.6h0.7M406.6 125.2h0.7M404.8 123.8h0.7M402.7 123.1h0.7M403.3 120.4h0.7M399.5 115.3h0.7M411.3 133.2h0.7M409.7 134.2h0.7M416.4 126.7h0.7M400.9 129.6h0.7M408.4 134.5h0.7M407.2 111.1h0.7M401.8 128.8h0.7M409.5 123.2h0.7M399.2 134.3h0.7M413.0 128.1h0.7M399.2 135.1h0.7M404.6 122.1h0.7M402.5 138.8h0.7M413.3 131.2h0.7M409.7 141.4h0.7M401.8 133.7h0.7M400.8 137.0h0.7M402.7 123.1h0.7M399.4 119.5h0.7M405.0 125.1h0.7M426.4 131.5h0.7M426.8 137.8h0.7M420.1 129.7h0.7M420.0 131.2h0.7M417.7 134.3h0.7M415.6 121.4h0.7M421.9 127.6h0.7M431.8 124.9h0.7M430.4 137.4h0.7M419.8 125.2h0.7M417.0 125.5h0.7M423.7 136.9h0.7M424.9 132.5h0.7M420.3 107.6h0.7M420.1 111.4h0.7M443.7 111.6h0.7M445.6 99.2h0.7M441.0 101.2h0.7M443.6 103.1h0.7M410.9 106.3h0.7M466.1 109.7h0.7M464.3 102.3h0.7M463.4 111.1h0.7M471.1 106.9h0.7M464.4 111.9h0.7M465.9 107.8h0.7M460.8 111.3h0.7M461.7 100.5h0.7M470.9 107.2h0.7M478.4 98.2h0.7M460.9 111.3h0.7M465.9 106.8h0.7M463.4 113.5h0.7M472.5 109.3h0.7M462.6 111.0h0.7M462.5 108.3h0.7M461.5 107.1h0.7M462.8 106.6h0.7M461.7 108.8h0.7M463.2 98.3h0.7M465.3 106.7h0.7M460.8 111.7h0.7M470.0 107.5h0.7M466.1 105.4h0.7M469.5 104.7h0.7M474.2 106.7h0.7M464.3 106.4h0.7M461.2 100.2h0.7M467.9 106.9h0.7M462.4 110.6h0.7M464.2 115.5h0.7M465.9 111.0h0.7M461.7 106.9h0.7M463.4 115.6h0.7M469.8 102.6h0.7M473.5 105.8h0.7M469.1 104.9h0.7M474.4 101.2h0.7M469.5 105.4h0.7M464.9 101.7h0.7M467.4 108.2h0.7M465.9 110.1h0.7M463.0 110.5h0.7M475.5 103.3h0.7M463.6 110.5h0.7M470.1 103.0h0.7M461.3 106.4h0.7M475.1 110.5h0.7M462.4 107.0h0.7M462.4 112.1h0.7M471.5 105.5h0.7M465.1 112.4h0.7M461.4 110.4h0.7M467.7 106.4h0.7M462.3 105.1h0.7M473.6 103.7h0.7M461.1 111.2h0.7M462.6 111.7h0.7M464.9 105.6h0.7M469.2 106.0h0.7M461.5 103.9h0.7M469.3 107.9h0.7M467.4 100.6h0.7M465.9 108.7h0.7M475.5 108.5h0.7M466.6 108.4h0.7M468.5 96.0h0.7M473.7 93.3h0.7M466.9 99.8h0.7M461.6 98.6h0.7M460.9 110.2h0.7M475.5 108.3h0.7M463.0 105.2h0.7M468.4 109.6h0.7M465.6 109.2h0.7M461.6 119.9h0.7M471.4 104.4h0.7M469.9 101.8h0.7M470.5 116.9h0.7M460.8 107.0h0.7M468.2 111.5h0.7M462.4 103.7h0.7M468.0 102.4h0.7M466.6 101.2h0.7M473.8 105.6h0.7M460.9 106.5h0.7M467.8 102.1h0.7M467.9 111.0h0.7M464.3 99.1h0.7M470.6 106.1h0.7M465.2 105.5h0.7M468.9 107.5h0.7M462.3 105.5h0.7M462.6 116.2h0.7M460.8 108.9h0.7M471.2 111.0h0.7M463.3 100.1h0.7M460.7 120.8h0.7M460.7 103.3h0.7M469.9 110.1h0.7M477.2 112.8h0.7M465.4 119.6h0.7M462.7 98.0h0.7M462.3 106.0h0.7M467.4 107.4h0.7M470.5 107.0h0.7M462.2 111.7h0.7M472.9 110.7h0.7M466.0 110.1h0.7M462.6 103.5h0.7M461.8 111.2h0.7M465.5 106.7h0.7M462.4 109.7h0.7M463.3 107.4h0.7M469.9 118.1h0.7M465.2 106.7h0.7M466.5 111.5h0.7M460.6 95.2h0.7M471.4 106.7h0.7M472.7 110.4h0.7M467.4 107.4h0.7M471.2 104.6h0.7M474.1 106.0h0.7M463.8 106.1h0.7M468.3 104.3h0.7M463.9 104.4h0.7M467.0 100.3h0.7M468.6 109.4h0.7M460.7 106.9h0.7M461.4 106.2h0.7M468.7 111.1h0.7M464.7 103.6h0.7M463.5 100.6h0.7M466.2 105.3h0.7M462.3 104.3h0.7M462.5 113.4h0.7M464.6 100.7h0.7M462.1 109.3h0.7M471.6 102.3h0.7M464.9 100.4h0.7M469.3 102.1h0.7M466.6 101.5h0.7M467.5 107.6h0.7M467.4 106.0h0.7M472.8 113.6h0.7M466.9 104.4h0.7M465.6 108.3h0.7M469.7 114.8h0.7M468.6 115.2h0.7M477.5 103.5h0.7M465.5 100.8h0.7M462.4 107.4h0.7M465.6 109.1h0.7M475.1 104.3h0.7M464.4 112.3h0.7M461.7 104.3h0.7M461.9 121.3h0.7M467.9 109.2h0.7M469.0 106.9h0.7M472.8 107.4h0.7M471.4 110.7h0.7M473.3 113.3h0.7M470.4 107.8h0.7M463.3 122.3h0.7M472.3 101.1h0.7M464.8 109.0h0.7M470.5 103.6h0.7M461.1 102.7h0.7M467.6 111.7h0.7M463.3 111.4h0.7M462.8 112.2h0.7M474.3 108.8h0.7M470.2 106.4h0.7M461.8 105.4h0.7M470.3 109.0h0.7M463.1 100.5h0.7M466.4 112.1h0.7M460.9 96.9h0.7M476.0 106.0h0.7M461.5 103.0h0.7M467.1 111.8h0.7M466.1 95.7h0.7M461.0 102.9h0.7M463.7 111.6h0.7M466.6 110.1h0.7M460.8 100.1h0.7M462.3 98.5h0.7M469.5 105.7h0.7M464.0 107.9h0.7M473.1 98.5h0.7M474.5 109.5h0.7M464.5 101.3h0.7M463.9 104.3h0.7M461.8 112.2h0.7M462.8 108.1h0.7M467.4 106.0h0.7M470.8 101.7h0.7M460.8 107.5h0.7M475.6 107.1h0.7M466.1 104.3h0.7M472.8 110.8h0.7M464.8 104.7h0.7M461.9 105.8h0.7M461.3 110.1h0.7M465.5 109.7h0.7M462.1 109.9h0.7M480.9 99.8h0.7M461.6 111.8h0.7M465.1 97.6h0.7M466.7 99.1h0.7M462.8 104.3h0.7M465.5 110.2h0.7M471.8 111.9h0.7M463.4 114.1h0.7M466.3 100.8h0.7M469.3 108.1h0.7M472.4 102.8h0.7M468.7 110.9h0.7M468.3 102.0h0.7M465.7 101.1h0.7M468.1 109.2h0.7M464.7 115.6h0.7M472.4 97.6h0.7M464.1 105.8h0.7M470.1 100.9h0.7M464.7 102.5h0.7M470.3 110.5h0.7M467.6 112.6h0.7M472.0 108.0h0.7M461.6 103.4h0.7M471.5 102.1h0.7M463.8 99.2h0.7M478.4 101.6h0.7M464.1 110.2h0.7M463.1 102.2h0.7M472.2 109.5h0.7M478.2 107.0h0.7M467.3 97.5h0.7M481.9 104.5h0.7M463.2 112.1h0.7M466.7 108.0h0.7M460.9 108.0h0.7M478.2 115.6h0.7M465.6 107.3h0.7M467.6 103.8h0.7M462.0 112.9h0.7M461.3 99.5h0.7M464.7 101.3h0.7M475.0 103.5h0.7M472.0 105.4h0.7M463.6 113.0h0.7M478.9 102.1h0.7M460.9 109.7h0.7M462.0 102.6h0.7M464.2 110.3h0.7M467.8 105.7h0.7M478.1 100.1h0.7M463.7 102.5h0.7M461.3 97.8h0.7M463.8 109.8h0.7M469.0 113.1h0.7M464.4 108.2h0.7M464.3 106.8h0.7M464.9 101.4h0.7M460.6 97.7h0.7M469.2 103.3h0.7M464.1 98.4h0.7M472.2 102.0h0.7M469.1 99.3h0.7M472.6 119.5h0.7M471.1 120.1h0.7M468.2 122.7h0.7M466.6 132.2h0.7M467.6 129.3h0.7M464.3 130.7h0.7M460.6 134.5h0.7M464.3 131.8h0.7M463.8 121.0h0.7M460.6 110.9h0.7M463.1 121.3h0.7M465.4 123.9h0.7M477.1 109.1h0.7M469.4 126.4h0.7M468.9 137.6h0.7M464.6 121.0h0.7M465.0 121.6h0.7M462.3 118.1h0.7M464.1 122.4h0.7M465.6 130.9h0.7M470.3 120.8h0.7M463.7 124.2h0.7M475.1 136.7h0.7M461.0 115.1h0.7M461.1 120.1h0.7M463.5 123.0h0.7M469.8 127.8h0.7M460.7 123.1h0.7M461.0 135.7h0.7M472.4 133.1h0.7M464.9 130.4h0.7M467.6 121.8h0.7M468.9 126.1h0.7M463.2 121.8h0.7M461.4 133.5h0.7M465.9 126.2h0.7M468.8 114.3h0.7M466.4 124.4h0.7M460.7 131.9h0.7M468.2 117.1h0.7M472.3 133.1h0.7M464.8 114.2h0.7M466.1 124.5h0.7M467.4 119.7h0.7M461.8 123.1h0.7M460.7 117.7h0.7M460.7 122.1h0.7M466.3 129.0h0.7M461.9 117.6h0.7M468.8 123.7h0.7M466.9 128.5h0.7M466.4 119.9h0.7M461.8 119.8h0.7M463.0 136.9h0.7M463.0 131.2h0.7M467.6 116.4h0.7M461.8 121.0h0.7M466.9 125.1h0.7M465.4 125.7h0.7M460.8 136.5h0.7M461.2 126.4h0.7M466.2 126.5h0.7M472.0 119.9h0.7M461.2 130.5h0.7M466.4 124.1h0.7M462.6 110.2h0.7M463.1 113.2h0.7M470.7 127.2h0.7M471.9 127.0h0.7M462.1 122.7h0.7M463.0 132.8h0.7M464.6 130.0h0.7M470.8 119.5h0.7M474.2 133.8h0.7M463.1 130.2h0.7M462.4 123.7h0.7M462.6 125.7h0.7M464.5 124.0h0.7M464.8 123.9h0.7M463.9 107.1h0.7M494.7 102.7h0.7M482.5 96.7h0.7M489.0 110.1h0.7M483.6 108.0h0.7M500.8 109.6h0.7M489.4 119.4h0.7M483.5 105.6h0.7M488.9 112.1h0.7M477.9 110.1h0.7M485.3 113.2h0.7M471.8 121.6h0.7M501.0 105.3h0.7M498.0 105.4h0.7M478.6 100.9h0.7M494.8 110.8h0.7M486.5 112.3h0.7M500.4 107.0h0.7M485.3 103.5h0.7M478.2 102.4h0.7M476.3 108.0h0.7M491.7 113.6h0.7M496.0 108.9h0.7M482.7 112.3h0.7M490.3 108.3h0.7M501.2 112.2h0.7M481.7 109.2h0.7M478.2 112.4h0.7M498.4 107.1h0.7M472.3 107.0h0.7M483.9 114.6h0.7M500.5 100.8h0.7M483.9 112.2h0.7M505.8 107.6h0.7M491.0 107.6h0.7M498.7 110.6h0.7M490.4 116.5h0.7M478.0 117.3h0.7M488.1 110.1h0.7M492.1 112.7h0.7M500.1 99.6h0.7M487.7 108.9h0.7M483.2 97.7h0.7M479.6 97.9h0.7M477.8 109.9h0.7M474.3 113.8h0.7M498.7 102.2h0.7M476.8 116.4h0.7M491.5 118.7h0.7M471.8 115.8h0.7M506.8 121.6h0.7M497.6 101.1h0.7M489.9 115.8h0.7M493.2 105.5h0.7M497.1 107.3h0.7M494.1 114.2h0.7M495.3 110.7h0.7M481.1 107.5h0.7M483.8 102.1h0.7M494.9 104.6h0.7M495.1 105.9h0.7M476.7 120.2h0.7M479.7 102.4h0.7M491.2 132.7h0.7M494.0 109.1h0.7M489.3 107.4h0.7M503.6 105.0h0.7M504.3 107.8h0.7M485.3 107.9h0.7M483.2 137.3h0.7M483.4 129.6h0.7M495.9 128.4h0.7M481.5 122.0h0.7M465.8 127.3h0.7M483.9 130.6h0.7M484.5 131.1h0.7M496.1 138.4h0.7M479.5 140.1h0.7M483.3 133.4h0.7M486.7 134.4h0.7M474.8 128.9h0.7M477.0 132.0h0.7" stroke="#000" stroke-opacity="0.33" stroke-width="0.7" fill="none"/>
<path d="M373.6 59.8h0.7M372.6 47.6h0.7M365.6 57.2h0.7M381.3 63.6h0.7M374.9 51.9h0.7M378.2 61.1h0.7M373.3 55.2h0.7M380.2 56.7h0.7M364.8 47.1h0.7M373.9 45.9h0.7M372.7 54.8h0.7M378.2 54.1h0.7M359.0 61.4h0.7M369.1 60.2h0.7M375.6 44.0h0.7M377.9 56.6h0.7M379.7 52.2h0.7M364.7 57.2h0.7M383.2 57.7h0.7M376.1 61.3h0.7M373.5 75.2h0.7M370.4 74.0h0.7M368.1 75.1h0.7M387.2 72.9h0.7M349.4 68.4h0.7M371.4 75.2h0.7M363.3 79.4h0.7M368.4 78.7h0.7M374.7 73.7h0.7M379.1 76.3h0.7M358.0 68.8h0.7M364.1 73.1h0.7M381.1 75.0h0.7M366.5 69.8h0.7M359.9 73.0h0.7M361.9 72.7h0.7M364.9 75.9h0.7M379.5 77.1h0.7M363.4 80.7h0.7M359.4 73.9h0.7M370.9 86.3h0.7M338.2 66.9h0.7M340.2 53.9h0.7M337.4 60.0h0.7M338.9 71.0h0.7M340.8 72.2h0.7M338.1 60.5h0.7M338.0 83.2h0.7M346.0 74.8h0.7M343.4 81.1h0.7M343.7 73.9h0.7M341.5 77.9h0.7M379.7 60.5h0.7M372.1 67.2h0.7M356.0 73.0h0.7M402.5 59.1h0.7M409.9 49.9h0.7M407.5 64.2h0.7M418.7 56.1h0.7M399.6 54.7h0.7M401.5 63.8h0.7M424.4 57.5h0.7M399.5 51.1h0.7M403.7 57.9h0.7M421.5 57.6h0.7M399.9 47.8h0.7M416.4 49.3h0.7M399.7 63.7h0.7M411.1 52.5h0.7M405.1 52.0h0.7M400.3 60.9h0.7M401.9 53.0h0.7M414.0 68.9h0.7M406.6 68.5h0.7M402.1 47.9h0.7M411.7 53.7h0.7M401.7 58.2h0.7M410.6 48.1h0.7M403.8 55.8h0.7M399.0 47.1h0.7M415.9 48.3h0.7M402.5 47.6h0.7M409.4 54.6h0.7M414.7 63.4h0.7M407.5 58.4h0.7M410.8 55.4h0.7M408.9 56.2h0.7M412.3 58.0h0.7M414.3 47.3h0.7M410.5 55.5h0.7M413.9 40.4h0.7M406.3 55.8h0.7M401.5 60.0h0.7M412.2 51.2h0.7M403.2 55.1h0.7M405.3 47.6h0.7M402.8 57.6h0.7M399.0 62.4h0.7M403.6 55.2h0.7M399.3 43.5h0.7M401.6 56.7h0.7M416.5 52.9h0.7M413.3 56.7h0.7M408.3 54.0h0.7M410.5 48.2h0.7M402.3 58.2h0.7M402.8 43.0h0.7M402.0 58.2h0.7M405.0 50.4h0.7M413.2 49.1h0.7M418.8 54.8h0.7M421.6 55.7h0.7M401.3 47.2h0.7M398.6 42.2h0.7M408.1 54.2h0.7M400.8 45.0h0.7M400.2 55.8h0.7M414.2 52.0h0.7M406.8 51.3h0.7M413.6 46.6h0.7M398.8 57.5h0.7M406.4 62.6h0.7M423.1 57.8h0.7M414.9 56.5h0.7M405.8 60.8h0.7M408.7 57.2h0.7M398.8 45.9h0.7M405.5 42.8h0.7M399.4 54.7h0.7M408.6 62.2h0.7M407.3 48.5h0.7M399.3 53.2h0.7M401.6 53.2h0.7M403.5 45.5h0.7M406.9 46.1h0.7M413.4 48.7h0.7M414.1 47.1h0.7M407.8 46.0h0.7M400.2 54.6h0.7M408.9 60.8h0.7M411.3 52.6h0.7M403.0 62.9h0.7M403.9 57.9h0.7M414.8 61.2h0.7M408.4 52.8h0.7M407.9 54.2h0.7M402.0 56.5h0.7M406.8 52.3h0.7M409.8 52.8h0.7M398.8 58.0h0.7M409.0 58.0h0.7M407.7 52.0h0.7M419.0 47.1h0.7M407.4 53.6h0.7M404.4 58.0h0.7M401.4 56.8h0.7M405.7 59.0h0.7M409.4 54.1h0.7M430.6 49.5h0.7M411.9 59.2h0.7M415.6 62.4h0.7M416.4 64.5h0.7M407.5 49.8h0.7M414.9 56.4h0.7M402.6 63.7h0.7M399.8 62.9h0.7M409.0 56.2h0.7M403.7 61.7h0.7M416.6 55.4h0.7M409.4 59.8h0.7M402.4 49.3h0.7M403.0 51.1h0.7M407.3 50.2h0.7M401.3 56.2h0.7M407.5 61.9h0.7M416.1 51.8h0.7M406.7 64.0h0.7M400.0 56.9h0.7M402.6 48.0h0.7M424.6 41.3h0.7M398.8 63.9h0.7M404.5 45.2h0.7M401.7 47.7h0.7M410.0 48.3h0.7M407.9 48.7h0.7M405.0 55.6h0.7M401.5 67.4h0.7M418.7 56.9h0.7M399.7 60.3h0.7M403.6 56.3h0.7M404.3 58.7h0.7M412.1 51.0h0.7M408.3 53.0h0.7M404.4 58.3h0.7M402.6 52.2h0.7M402.1 59.1h0.7M408.5 55.6h0.7M403.1 56.5h0.7M401.3 61.4h0.7M414.1 47.6h0.7M406.3 46.7h0.7M407.5 45.1h0.7M399.8 56.2h0.7M417.3 51.2h0.7M409.4 41.7h0.7M403.0 57.9h0.7M409.0 59.2h0.7M406.9 59.1h0.7M415.6 50.2h0.7M425.6 55.8h0.7M405.9 59.4h0.7M412.0 49.8h0.7M407.7 62.2h0.7M408.5 54.0h0.7M415.3 64.1h0.7M418.5 47.1h0.7M420.5 61.3h0.7M400.2 64.9h0.7M404.9 47.8h0.7M401.1 53.3h0.7M400.3 62.8h0.7M400.9 54.5h0.7M408.8 41.5h0.7M417.2 62.7h0.7M419.5 65.7h0.7M433.8 55.7h0.7M426.0 49.2h0.7M423.3 50.9h0.7M429.0 46.3h0.7M436.8 51.6h0.7M436.7 66.1h0.7M433.8 57.0h0.7M431.8 49.0h0.7M424.4 65.4h0.7M427.1 58.8h0.7M436.8 60.0h0.7M438.2 52.2h0.7M423.8 62.8h0.7M427.1 55.6h0.7M412.8 78.7h0.7M429.0 53.6h0.7M403.0 43.3h0.7M443.2 48.4h0.7M430.6 52.6h0.7M414.7 61.6h0.7M435.3 77.9h0.7M418.9 62.5h0.7M404.3 59.8h0.7M438.7 63.4h0.7M422.2 58.9h0.7M435.8 40.2h0.7M416.1 60.3h0.7M434.8 57.9h0.7M419.3 66.1h0.7M431.7 49.3h0.7M423.3 64.8h0.7M430.2 67.6h0.7M415.0 66.4h0.7M418.0 50.4h0.7M412.3 64.2h0.7M431.5 44.8h0.7M429.9 59.0h0.7M424.6 54.6h0.7M437.0 67.1h0.7M426.5 51.0h0.7M438.5 45.5h0.7M437.4 52.8h0.7M410.3 58.8h0.7M441.4 67.2h0.7M415.2 57.7h0.7M429.0 57.5h0.7M418.4 61.6h0.7M420.4 51.9h0.7M428.7 56.6h0.7M418.7 49.0h0.7M412.4 52.6h0.7M434.6 74.5h0.7M435.6 69.6h0.7M422.8 55.7h0.7M438.7 48.2h0.7M440.6 65.7h0.7M422.7 48.0h0.7M429.8 40.3h0.7M437.5 62.5h0.7M427.5 52.6h0.7M438.3 44.2h0.7M422.9 64.6h0.7M413.2 49.5h0.7M409.7 71.6h0.7M405.2 78.0h0.7M405.0 76.9h0.7M399.9 77.8h0.7M400.0 82.8h0.7M399.0 64.1h0.7M405.5 73.4h0.7M408.0 85.6h0.7M399.1 82.9h0.7M402.9 85.8h0.7M398.8 75.4h0.7M407.0 69.6h0.7M407.4 76.8h0.7M413.5 75.4h0.7M408.4 74.3h0.7M403.4 72.3h0.7M402.1 64.8h0.7M400.9 85.0h0.7M401.4 76.9h0.7M400.0 65.9h0.7M405.1 74.0h0.7M408.9 80.2h0.7M404.1 64.8h0.7M402.0 73.0h0.7M424.5 76.2h0.7M438.0 73.1h0.7M421.4 86.1h0.7M434.1 81.3h0.7M426.7 66.7h0.7M438.2 73.5h0.7M446.0 76.4h0.7M426.1 74.9h0.7M420.1 86.4h0.7M428.2 82.7h0.7M435.2 85.6h0.7M435.4 71.4h0.7M431.2 85.0h0.7M407.7 79.8h0.7M474.8 56.7h0.7M475.0 44.1h0.7M461.2 52.9h0.7M468.9 45.9h0.7M467.4 50.7h0.7M461.9 53.1h0.7M465.5 47.0h0.7M461.4 48.8h0.7M476.1 47.0h0.7M476.9 55.4h0.7M471.4 53.5h0.7M473.3 58.7h0.7M461.8 52.5h0.7M469.0 52.7h0.7M478.8 63.3h0.7M476.0 50.3h0.7M476.9 58.3h0.7M472.3 49.4h0.7M472.3 47.6h0.7M461.8 53.8h0.7M475.7 67.0h0.7M467.7 50.6h0.7M469.5 52.0h0.7M468.2 45.7h0.7M460.9 47.3h0.7M470.3 45.0h0.7M468.6 48.8h0.7M480.0 58.0h0.7M462.1 47.9h0.7M469.0 50.9h0.7M472.5 50.6h0.7M463.5 46.5h0.7M467.6 57.1h0.7M469.7 51.7h0.7M468.6 52.2h0.7M466.3 54.9h0.7M466.3 51.7h0.7M463.4 42.3h0.7M460.9 46.9h0.7M468.9 55.7h0.7M476.9 49.7h0.7M471.6 49.8h0.7M462.7 46.5h0.7M463.2 48.0h0.7M463.6 55.8h0.7M471.9 59.5h0.7M476.8 45.8h0.7M473.4 55.4h0.7M473.7 52.9h0.7M463.9 49.1h0.7M476.0 49.4h0.7M464.4 51.9h0.7M465.3 51.6h0.7M477.5 55.9h0.7M470.0 44.0h0.7M478.9 52.3h0.7M461.6 62.0h0.7M473.6 43.2h0.7M465.7 50.8h0.7M463.2 52.2h0.7M481.8 59.2h0.7M467.4 56.2h0.7M470.1 64.2h0.7M469.3 50.8h0.7M462.6 48.5h0.7M465.3 47.9h0.7M468.1 46.0h0.7M465.4 51.6h0.7M474.8 55.9h0.7M472.7 50.3h0.7M484.2 62.0h0.7M462.1 61.0h0.7M462.6 60.1h0.7M469.0 49.8h0.7M465.1 46.3h0.7M461.5 51.8h0.7M464.1 49.3h0.7M461.0 53.9h0.7M468.5 49.7h0.7M483.5 53.0h0.7M466.9 55.3h0.7M465.7 60.0h0.7M477.1 60.6h0.7M476.4 44.6h0.7M466.2 52.7h0.7M473.9 56.6h0.7M481.0 45.9h0.7M475.7 56.0h0.7M471.2 58.6h0.7M463.4 52.0h0.7M466.9 48.3h0.7M465.7 48.4h0.7M461.9 57.9h0.7M464.0 49.7h0.7M469.3 56.0h0.7M473.6 54.6h0.7M464.9 60.6h0.7M471.0 51.2h0.7M470.2 49.3h0.7M462.3 51.4h0.7M470.8 51.5h0.7M473.4 45.1h0.7M465.3 45.7h0.7M472.4 58.0h0.7M462.3 53.7h0.7M465.7 48.1h0.7M476.7 49.4h0.7M461.5 55.2h0.7M465.9 54.6h0.7M469.6 52.0h0.7M462.6 47.3h0.7M468.4 44.5h0.7M470.9 47.4h0.7M474.1 56.9h0.7M469.0 50.9h0.7M475.0 53.9h0.7M476.4 42.2h0.7M463.4 54.4h0.7M472.8 54.7h0.7M461.3 45.6h0.7M471.3 49.8h0.7M463.7 54.1h0.7M467.3 55.1h0.7M478.2 45.6h0.7M463.8 48.9h0.7M468.0 56.2h0.7M463.5 55.3h0.7M467.9 52.4h0.7M484.1 60.5h0.7M472.1 49.2h0.7M474.9 54.8h0.7M467.6 51.6h0.7M466.9 49.5h0.7M461.7 63.4h0.7M471.0 53.0h0.7M463.4 48.3h0.7M477.1 48.2h0.7M462.1 63.0h0.7M471.1 56.2h0.7M468.5 47.6h0.7M464.4 52.2h0.7M472.8 44.6h0.7M462.7 50.9h0.7M475.3 47.8h0.7M464.8 54.7h0.7M478.1 56.7h0.7M468.5 54.7h0.7M473.8 51.6h0.7M465.5 45.2h0.7M463.2 49.5h0.7M469.7 45.4h0.7M473.9 50.2h0.7M470.4 59.4h0.7M467.9 51.9h0.7M464.3 53.4h0.7M463.2 55.4h0.7M481.1 50.1h0.7M469.7 47.0h0.7M469.7 55.1h0.7M466.5 49.4h0.7M473.9 57.2h0.7M466.4 54.7h0.7M471.9 56.1h0.7M467.2 61.5h0.7M466.1 46.0h0.7M461.5 49.9h0.7M474.6 50.9h0.7M464.4 51.2h0.7M475.7 57.6h0.7M463.1 59.4h0.7M471.0 57.6h0.7M464.7 44.3h0.7M463.0 50.0h0.7M470.2 58.7h0.7M461.7 54.8h0.7M475.7 52.5h0.7M469.7 46.3h0.7M466.6 43.8h0.7M463.4 47.1h0.7M462.8 52.4h0.7M465.4 52.0h0.7M463.8 48.3h0.7M468.7 42.3h0.7M472.2 52.6h0.7M470.6 48.2h0.7M463.6 48.9h0.7M468.9 42.9h0.7M475.1 45.7h0.7M468.5 50.9h0.7M467.4 46.4h0.7M466.1 53.7h0.7M469.1 50.8h0.7M465.7 49.1h0.7M464.7 51.9h0.7M473.5 59.2h0.7M479.9 39.5h0.7M469.8 58.1h0.7M471.4 47.8h0.7M480.4 51.0h0.7M473.8 54.2h0.7M462.0 47.4h0.7M464.8 60.7h0.7M474.6 58.2h0.7M466.9 55.2h0.7M464.8 59.7h0.7M463.2 52.7h0.7M470.8 45.3h0.7M464.2 51.9h0.7M462.6 52.6h0.7M472.6 51.5h0.7M464.5 55.5h0.7M475.4 48.6h0.7M464.7 45.0h0.7M477.1 51.9h0.7M461.9 53.5h0.7M475.5 59.1h0.7M470.9 62.1h0.7M474.9 49.7h0.7M462.1 58.5h0.7M474.9 46.7h0.7M461.1 46.5h0.7M460.7 56.4h0.7M476.7 50.8h0.7M461.4 58.4h0.7M482.0 54.3h0.7M476.4 58.6h0.7M471.9 52.5h0.7M480.0 61.8h0.7M464.0 56.4h0.7M465.6 61.6h0.7M467.9 51.7h0.7M472.4 53.2h0.7M469.6 49.0h0.7M469.0 56.0h0.7M473.2 60.5h0.7M472.5 53.0h0.7M472.7 52.1h0.7M461.1 49.5h0.7M463.7 59.8h0.7M477.1 52.8h0.7M471.7 50.9h0.7M464.6 53.9h0.7M466.9 53.3h0.7M465.1 54.4h0.7M461.9 54.6h0.7M471.5 60.0h0.7M473.6 47.7h0.7M465.4 54.7h0.7M463.7 54.9h0.7M480.0 48.4h0.7M465.0 58.0h0.7M477.7 53.8h0.7M469.5 58.7h0.7M468.4 41.1h0.7M469.4 57.0h0.7M474.3 54.0h0.7M461.8 46.1h0.7M461.9 53.8h0.7M470.5 58.9h0.7M479.4 68.9h0.7M478.4 54.5h0.7M485.3 49.9h0.7M496.8 53.8h0.7M487.9 67.6h0.7M497.8 48.7h0.7M485.2 62.8h0.7M480.5 47.7h0.7M493.6 46.8h0.7M493.1 61.6h0.7M495.7 65.2h0.7M500.2 64.3h0.7M494.8 57.2h0.7M471.1 54.3h0.7M476.9 61.0h0.7M487.8 43.2h0.7M483.5 47.0h0.7M467.2 54.6h0.7M491.4 49.6h0.7M494.8 52.9h0.7M494.7 53.0h0.7M488.2 46.6h0.7M477.1 41.1h0.7M486.7 49.7h0.7M497.1 69.2h0.7M480.3 61.1h0.7M491.7 62.5h0.7M475.1 75.5h0.7M477.1 46.3h0.7M465.4 53.2h0.7M482.9 53.7h0.7M482.5 58.7h0.7M470.2 57.7h0.7M498.6 63.5h0.7M502.9 55.6h0.7M486.8 45.6h0.7M495.9 54.2h0.7M495.8 54.7h0.7M481.8 55.6h0.7M501.2 69.3h0.7M481.9 54.2h0.7M490.4 64.5h0.7M497.7 48.7h0.7M484.3 63.1h0.7M465.6 56.8h0.7M481.3 78.1h0.7M464.4 51.0h0.7M484.1 69.5h0.7M498.8 42.6h0.7M478.4 57.1h0.7M500.0 45.8h0.7M491.7 72.5h0.7M492.0 64.5h0.7M488.3 44.3h0.7M484.6 53.5h0.7M504.4 48.0h0.7M495.4 63.0h0.7M485.1 65.7h0.7M483.6 52.0h0.7M497.3 50.7h0.7M479.0 57.2h0.7M477.3 63.7h0.7M491.8 67.0h0.7M481.8 52.0h0.7M484.9 47.5h0.7M483.2 58.6h0.7M475.6 62.8h0.7M481.6 47.1h0.7M509.3 53.3h0.7M491.8 61.8h0.7M480.3 54.4h0.7M492.8 55.4h0.7M478.1 62.6h0.7M497.6 52.9h0.7M490.6 51.8h0.7M467.8 65.6h0.7M487.1 43.3h0.7M476.4 77.4h0.7M486.1 64.2h0.7M465.2 74.1h0.7M469.4 55.0h0.7M465.8 71.9h0.7M460.8 66.5h0.7M462.2 76.0h0.7M466.8 79.9h0.7M463.2 60.4h0.7M469.4 66.7h0.7M462.5 75.6h0.7M478.1 73.6h0.7M463.3 65.3h0.7M468.7 62.0h0.7M467.0 85.0h0.7M466.0 66.7h0.7M461.0 68.8h0.7M463.6 63.8h0.7M471.4 79.0h0.7M471.3 64.8h0.7M464.4 58.5h0.7M467.4 64.6h0.7M476.0 69.8h0.7M474.6 80.8h0.7M461.5 81.6h0.7M464.8 62.4h0.7M468.5 74.6h0.7M466.0 66.0h0.7M474.6 67.6h0.7M462.9 62.9h0.7M463.9 72.6h0.7M474.0 65.4h0.7M462.1 74.7h0.7M471.2 65.0h0.7M473.0 82.3h0.7M465.4 79.0h0.7M470.1 77.8h0.7M462.3 52.7h0.7M472.2 79.9h0.7M462.4 81.8h0.7M472.2 66.5h0.7M473.9 69.9h0.7M461.0 79.4h0.7M462.0 71.7h0.7M477.2 73.0h0.7M468.4 77.6h0.7M461.3 79.7h0.7M469.4 77.8h0.7M468.7 75.6h0.7M496.0 64.6h0.7M467.3 76.4h0.7M506.0 79.9h0.7M474.2 78.2h0.7M483.4 70.9h0.7M490.3 79.9h0.7M472.5 81.6h0.7M474.2 82.2h0.7M479.6 73.4h0.7M481.7 65.7h0.7M491.9 85.0h0.7M486.9 87.7h0.7M489.9 68.8h0.7M484.8 86.3h0.7M494.5 68.6h0.7M479.6 76.4h0.7M375.8 131.0h0.7M384.2 136.4h0.7M377.4 130.3h0.7M381.1 129.1h0.7M385.5 128.1h0.7M379.9 131.9h0.7M380.4 128.0h0.7M376.0 132.9h0.7M372.5 132.0h0.7M386.1 132.2h0.7M374.4 132.2h0.7M383.1 132.3h0.7M368.7 135.5h0.7M383.4 129.8h0.7M382.7 128.3h0.7M370.4 130.1h0.7M367.0 131.9h0.7M380.2 133.6h0.7M369.5 107.1h0.7M382.1 107.6h0.7M357.4 102.5h0.7M378.5 95.8h0.7M378.6 106.1h0.7M370.4 94.2h0.7M348.2 137.2h0.7M339.9 130.6h0.7M349.3 133.2h0.7M340.0 131.7h0.7M403.7 103.0h0.7M404.7 104.8h0.7M404.3 107.9h0.7M409.2 114.2h0.7M416.7 110.1h0.7M407.1 109.4h0.7M404.2 97.7h0.7M401.5 107.8h0.7M409.1 105.0h0.7M401.9 111.6h0.7M399.9 102.5h0.7M399.7 106.8h0.7M407.4 97.4h0.7M407.9 100.6h0.7M402.3 105.0h0.7M401.6 102.4h0.7M408.3 101.3h0.7M404.8 110.8h0.7M407.9 108.1h0.7M410.2 106.4h0.7M414.4 96.4h0.7M411.8 103.5h0.7M401.4 104.4h0.7M400.4 106.5h0.7M410.8 109.7h0.7M399.3 109.0h0.7M412.2 112.9h0.7M407.0 99.5h0.7M401.6 105.5h0.7M401.9 102.5h0.7M400.3 110.4h0.7M399.0 110.5h0.7M401.6 105.9h0.7M408.6 105.4h0.7M404.1 100.8h0.7M405.8 97.3h0.7M412.2 101.5h0.7M408.4 109.2h0.7M407.5 105.2h0.7M404.6 108.3h0.7M403.4 109.2h0.7M407.9 102.5h0.7M400.4 105.6h0.7M399.4 105.2h0.7M401.2 109.2h0.7M400.1 107.4h0.7M402.4 109.4h0.7M399.1 103.4h0.7M404.5 115.5h0.7M406.4 105.8h0.7M409.8 110.0h0.7M398.6 107.2h0.7M413.5 107.7h0.7M405.3 109.1h0.7M411.4 105.0h0.7M399.2 104.8h0.7M400.0 107.3h0.7M409.2 111.6h0.7M406.2 102.7h0.7M399.8 111.5h0.7M398.7 103.9h0.7M409.5 105.8h0.7M401.1 104.1h0.7M401.1 109.6h0.7M399.0 103.5h0.7M399.9 108.1h0.7M401.7 103.7h0.7M406.1 103.8h0.7M405.5 102.4h0.7M399.7 102.5h0.7M410.5 116.4h0.7M415.5 103.4h0.7M401.5 104.8h0.7M403.0 105.9h0.7M402.4 105.9h0.7M405.1 96.2h0.7M406.2 108.6h0.7M402.9 105.2h0.7M404.0 112.2h0.7M400.1 104.6h0.7M398.7 102.4h0.7M401.7 104.5h0.7M400.2 103.1h0.7M403.2 107.1h0.7M405.4 109.9h0.7M404.9 98.2h0.7M412.8 105.2h0.7M400.0 93.9h0.7M402.9 106.9h0.7M407.5 105.6h0.7M401.2 106.4h0.7M403.4 118.9h0.7M406.1 107.8h0.7M408.3 108.6h0.7M405.2 108.3h0.7M402.2 103.6h0.7M408.6 108.3h0.7M401.7 107.2h0.7M399.2 110.1h0.7M401.1 105.0h0.7M427.9 118.4h0.7M438.9 111.3h0.7M426.5 114.5h0.7M408.7 114.4h0.7M410.8 105.5h0.7M423.1 114.8h0.7M413.4 114.3h0.7M403.8 114.1h0.7M428.9 106.8h0.7M423.4 104.6h0.7M430.7 119.9h0.7M415.2 104.3h0.7M413.6 122.3h0.7M413.7 122.3h0.7M426.6 126.5h0.7M415.6 119.5h0.7M431.5 108.4h0.7M441.3 108.5h0.7M432.3 110.3h0.7M420.7 115.2h0.7M411.4 109.3h0.7M412.4 114.6h0.7M418.2 114.5h0.7M407.7 111.2h0.7M425.2 111.1h0.7M427.2 109.1h0.7M423.6 108.4h0.7M420.9 117.2h0.7M415.0 115.0h0.7M423.4 109.6h0.7M422.7 107.2h0.7M409.6 116.8h0.7M411.9 101.9h0.7M409.1 110.1h0.7M418.1 117.8h0.7M412.3 112.5h0.7M424.1 108.8h0.7M424.5 113.6h0.7M440.5 114.3h0.7M438.7 114.7h0.7M418.7 114.4h0.7M421.6 112.4h0.7M426.8 121.9h0.7M428.7 113.5h0.7M426.6 122.4h0.7M429.5 109.7h0.7M413.7 103.2h0.7M410.0 115.7h0.7M426.0 111.5h0.7M432.0 108.3h0.7M405.3 107.8h0.7M399.1 103.8h0.7M408.8 128.0h0.7M399.0 135.2h0.7M407.5 122.1h0.7M403.6 123.9h0.7M401.8 134.2h0.7M406.8 115.7h0.7M408.7 128.1h0.7M399.6 129.4h0.7M408.4 134.9h0.7M400.6 125.9h0.7M407.2 134.3h0.7M410.3 130.2h0.7M398.7 127.4h0.7M406.1 123.5h0.7M408.8 123.1h0.7M404.5 124.0h0.7M401.3 138.8h0.7M401.8 125.6h0.7M406.0 127.9h0.7M402.6 135.5h0.7M403.8 133.9h0.7M404.7 130.2h0.7M401.7 132.6h0.7M401.2 132.5h0.7M406.9 126.5h0.7M406.0 126.0h0.7M410.1 120.6h0.7M406.0 130.1h0.7M401.4 123.1h0.7M403.0 123.5h0.7M404.4 118.1h0.7M403.4 115.3h0.7M444.4 140.8h0.7M442.6 131.6h0.7M428.4 131.0h0.7M400.6 123.1h0.7M421.9 128.1h0.7M442.2 134.8h0.7M418.0 133.6h0.7M429.4 135.7h0.7M415.5 133.7h0.7M420.0 132.3h0.7M429.4 135.3h0.7M434.4 142.0h0.7M433.7 105.4h0.7M413.7 110.3h0.7M424.1 101.3h0.7M437.8 108.5h0.7M435.0 97.3h0.7M423.1 105.8h0.7M432.7 107.6h0.7M442.6 98.6h0.7M461.2 102.9h0.7M470.7 108.3h0.7M460.8 109.0h0.7M463.2 101.6h0.7M462.6 104.3h0.7M467.5 104.0h0.7M465.1 112.1h0.7M461.7 110.3h0.7M461.2 108.7h0.7M467.2 106.8h0.7M475.2 99.8h0.7M470.5 113.7h0.7M461.7 111.8h0.7M467.8 106.2h0.7M464.3 115.0h0.7M462.0 109.1h0.7M461.8 110.4h0.7M467.2 113.0h0.7M461.4 97.8h0.7M461.5 109.5h0.7M466.1 114.8h0.7M464.9 118.8h0.7M463.8 99.4h0.7M471.9 104.4h0.7M463.6 104.9h0.7M467.2 105.5h0.7M469.9 103.0h0.7M463.8 110.0h0.7M467.4 114.2h0.7M461.2 100.2h0.7M463.5 97.0h0.7M468.9 107.3h0.7M465.3 102.7h0.7M461.0 110.8h0.7M465.5 100.6h0.7M463.4 104.1h0.7M473.3 104.3h0.7M470.8 112.3h0.7M465.5 106.7h0.7M474.0 107.4h0.7M467.4 106.8h0.7M471.7 104.2h0.7M461.7 105.6h0.7M474.1 103.2h0.7M463.9 110.3h0.7M464.9 110.6h0.7M466.7 123.7h0.7M468.6 99.6h0.7M466.6 103.8h0.7M465.8 105.1h0.7M474.4 96.7h0.7M466.3 111.0h0.7M464.5 105.3h0.7M461.0 114.5h0.7M466.1 103.3h0.7M464.4 107.4h0.7M465.8 111.9h0.7M468.6 110.1h0.7M470.7 107.0h0.7M477.7 111.8h0.7M467.2 98.1h0.7M462.2 111.9h0.7M467.7 96.3h0.7M473.4 107.3h0.7M464.0 109.8h0.7M470.5 108.4h0.7M461.2 111.5h0.7M464.8 106.7h0.7M474.5 105.6h0.7M460.7 104.1h0.7M476.0 107.9h0.7M460.6 119.2h0.7M461.0 113.2h0.7M463.4 101.4h0.7M464.4 102.3h0.7M472.5 104.7h0.7M464.4 102.6h0.7M469.5 110.0h0.7M464.8 103.4h0.7M473.1 106.8h0.7M468.4 104.0h0.7M461.6 108.4h0.7M463.8 110.3h0.7M469.3 109.7h0.7M467.7 104.5h0.7M463.7 100.0h0.7M460.9 103.2h0.7M476.2 123.3h0.7M473.6 112.9h0.7M472.1 116.7h0.7M462.4 95.3h0.7M465.8 102.4h0.7M460.8 103.3h0.7M472.8 108.8h0.7M470.8 114.7h0.7M464.2 109.3h0.7M461.4 112.0h0.7M473.2 104.6h0.7M467.2 102.8h0.7M469.6 110.1h0.7M469.4 123.4h0.7M469.0 102.3h0.7M463.8 99.1h0.7M472.6 108.0h0.7M469.4 101.7h0.7M462.1 112.3h0.7M474.7 108.9h0.7M465.4 116.1h0.7M466.6 105.8h0.7M466.2 104.4h0.7M470.2 102.4h0.7M470.9 106.2h0.7M475.4 103.1h0.7M463.7 112.4h0.7M462.2 105.5h0.7M462.5 113.5h0.7M460.7 111.8h0.7M460.9 111.1h0.7M461.8 102.4h0.7M469.8 112.0h0.7M461.8 103.6h0.7M464.1 111.2h0.7M468.3 99.6h0.7M469.8 114.4h0.7M465.6 102.0h0.7M470.5 112.7h0.7M464.0 103.6h0.7M469.1 106.0h0.7M463.5 103.5h0.7M460.8 111.7h0.7M462.1 101.5h0.7M468.9 105.6h0.7M468.8 102.1h0.7M469.1 108.5h0.7M465.2 108.4h0.7M462.6 107.8h0.7M461.8 108.1h0.7M469.5 100.5h0.7M469.8 96.2h0.7M463.4 109.4h0.7M480.6 110.8h0.7M470.1 103.4h0.7M464.2 113.3h0.7M462.1 107.1h0.7M464.6 105.1h0.7M471.5 110.8h0.7M463.2 108.2h0.7M471.4 112.9h0.7M465.7 104.3h0.7M465.2 109.3h0.7M464.3 107.1h0.7M468.3 116.8h0.7M477.5 111.1h0.7M478.2 108.1h0.7M467.4 105.2h0.7M471.3 107.4h0.7M462.9 110.4h0.7M469.5 109.4h0.7M467.0 98.5h0.7M461.1 112.1h0.7M470.3 114.5h0.7M465.5 98.1h0.7M474.9 110.4h0.7M461.6 104.3h0.7M465.4 102.6h0.7M463.6 112.0h0.7M467.2 104.4h0.7M463.1 117.5h0.7M468.2 100.2h0.7M468.6 109.9h0.7M479.8 105.1h0.7M471.5 111.9h0.7M471.3 111.3h0.7M469.3 109.7h0.7M462.0 105.9h0.7M461.7 112.5h0.7M474.2 106.4h0.7M467.1 120.9h0.7M461.0 96.3h0.7M468.0 109.7h0.7M462.8 105.7h0.7M461.5 111.7h0.7M461.2 114.2h0.7M461.7 103.2h0.7M467.9 109.9h0.7M463.6 97.0h0.7M468.9 109.6h0.7M462.8 98.6h0.7M471.9 101.7h0.7M464.4 97.0h0.7M463.0 106.8h0.7M465.3 110.2h0.7M461.5 96.0h0.7M460.9 96.4h0.7M467.4 108.6h0.7M469.9 105.9h0.7M463.9 114.2h0.7M467.5 108.6h0.7M461.1 101.1h0.7M467.8 113.9h0.7M463.5 107.7h0.7M463.9 110.1h0.7M471.1 113.6h0.7M469.3 106.2h0.7M467.6 101.8h0.7M463.1 110.1h0.7M461.4 104.3h0.7M465.0 96.5h0.7M466.7 112.0h0.7M468.9 110.1h0.7M464.3 108.0h0.7M460.8 98.3h0.7M461.5 104.5h0.7M464.3 101.7h0.7M471.9 111.1h0.7M470.8 103.7h0.7M462.6 106.1h0.7M462.8 105.7h0.7M468.3 108.3h0.7M467.2 113.6h0.7M461.9 112.5h0.7M461.7 101.7h0.7M461.3 109.1h0.7M462.3 118.8h0.7M461.3 111.9h0.7M472.6 109.5h0.7M466.4 102.4h0.7M470.6 106.6h0.7M461.5 110.6h0.7M462.6 111.3h0.7M474.4 104.0h0.7M471.3 101.0h0.7M468.8 95.4h0.7M470.5 110.0h0.7M470.6 102.8h0.7M468.9 99.7h0.7M464.0 104.4h0.7M466.2 107.6h0.7M476.3 109.8h0.7M464.3 99.9h0.7M465.8 109.7h0.7M460.8 104.2h0.7M467.3 96.4h0.7M465.6 114.7h0.7M479.5 115.5h0.7M472.5 113.2h0.7M461.4 109.2h0.7M464.8 103.8h0.7M467.4 102.2h0.7M469.4 104.5h0.7M469.2 102.7h0.7M469.5 101.9h0.7M462.6 121.2h0.7M460.9 116.4h0.7M473.3 110.3h0.7M477.8 98.2h0.7M471.1 108.3h0.7M472.9 116.2h0.7M464.2 93.2h0.7M469.5 110.1h0.7M466.2 105.4h0.7M463.6 101.0h0.7M463.8 98.5h0.7M464.6 108.4h0.7M462.2 106.7h0.7M469.0 107.3h0.7M466.3 113.8h0.7M468.4 104.8h0.7M472.9 116.5h0.7M468.3 136.9h0.7M461.4 130.1h0.7M461.4 127.9h0.7M464.6 122.3h0.7M461.5 122.4h0.7M463.3 116.0h0.7M465.3 131.8h0.7M462.0 128.6h0.7M470.5 139.0h0.7M461.9 128.2h0.7M463.7 132.7h0.7M461.0 132.6h0.7M468.4 123.9h0.7M465.8 126.0h0.7M466.6 120.2h0.7M460.9 136.9h0.7M463.6 126.7h0.7M461.6 131.2h0.7M464.8 125.0h0.7M468.3 136.8h0.7M465.1 114.5h0.7M465.5 135.8h0.7M463.2 129.4h0.7M463.3 120.8h0.7M461.5 126.3h0.7M469.3 136.0h0.7M462.1 120.0h0.7M464.3 133.4h0.7M462.7 123.7h0.7M464.5 132.9h0.7M462.4 130.6h0.7M471.5 119.9h0.7M463.9 136.6h0.7M466.3 140.0h0.7M466.3 124.3h0.7M463.9 128.6h0.7M466.6 127.0h0.7M464.4 124.6h0.7M461.2 130.0h0.7M464.6 120.5h0.7M467.0 112.2h0.7M461.3 120.2h0.7M462.6 137.3h0.7M467.2 125.0h0.7M466.6 116.8h0.7M465.3 127.3h0.7M460.7 133.4h0.7M461.2 117.0h0.7M464.3 142.2h0.7M460.7 133.9h0.7M465.7 115.4h0.7M465.2 120.8h0.7M463.7 126.6h0.7M468.1 121.2h0.7M468.3 135.2h0.7M461.6 117.8h0.7M465.0 123.2h0.7M472.1 127.3h0.7M464.8 115.3h0.7M464.1 136.5h0.7M462.0 119.5h0.7M466.3 112.5h0.7M466.2 129.2h0.7M464.5 119.2h0.7M460.6 137.9h0.7M465.3 127.8h0.7M470.7 135.3h0.7M464.6 129.1h0.7M469.0 127.2h0.7M468.5 119.6h0.7M468.5 118.1h0.7M463.4 128.9h0.7M462.2 136.1h0.7M462.6 135.2h0.7M472.2 127.9h0.7M465.0 130.9h0.7M461.1 119.0h0.7M467.5 136.6h0.7M462.8 123.4h0.7M464.8 114.8h0.7M484.0 111.6h0.7M487.3 103.3h0.7M493.6 112.9h0.7M478.1 115.6h0.7M489.0 112.0h0.7M481.4 107.3h0.7M485.7 110.9h0.7M486.9 105.2h0.7M470.0 109.6h0.7M480.9 113.4h0.7M476.4 113.6h0.7M472.3 123.6h0.7M486.4 113.6h0.7M496.2 106.9h0.7M488.4 118.5h0.7M493.1 96.5h0.7M498.8 125.8h0.7M488.5 111.1h0.7M485.2 98.3h0.7M496.1 105.7h0.7M501.9 103.7h0.7M494.4 115.5h0.7M476.5 124.7h0.7M490.5 127.7h0.7M478.1 115.9h0.7M484.2 113.4h0.7M480.2 105.9h0.7M481.5 111.6h0.7M480.8 122.6h0.7M482.7 108.2h0.7M480.4 117.2h0.7M491.4 101.2h0.7M496.6 113.4h0.7M493.6 93.9h0.7M502.5 100.6h0.7M486.2 101.2h0.7M483.7 97.8h0.7M479.1 104.0h0.7M498.9 111.0h0.7M471.7 109.0h0.7M500.1 110.3h0.7M482.8 106.0h0.7M483.7 104.3h0.7M483.6 104.7h0.7M481.9 113.4h0.7M478.0 118.0h0.7M486.1 104.0h0.7M497.3 121.9h0.7M484.7 107.9h0.7M496.3 102.6h0.7M503.6 105.6h0.7M490.5 106.2h0.7M500.0 101.2h0.7M483.3 105.2h0.7M488.1 105.9h0.7M495.5 117.1h0.7M510.6 114.2h0.7M506.3 117.1h0.7M474.8 106.6h0.7M489.5 107.7h0.7M495.4 108.2h0.7M492.5 112.5h0.7M496.4 112.0h0.7M474.7 110.2h0.7M481.0 109.6h0.7M467.5 108.5h0.7M478.2 108.0h0.7M484.2 109.9h0.7M477.1 140.2h0.7M500.2 132.7h0.7M460.6 121.3h0.7M496.2 127.7h0.7M491.2 116.9h0.7M496.7 138.3h0.7M488.8 126.8h0.7M478.1 124.8h0.7M478.2 127.7h0.7M487.6 123.5h0.7M482.4 128.8h0.7M473.8 126.9h0.7" stroke="#000" stroke-opacity="0.33" stroke-width="0.7" fill="none"/>
<path d="M379.2 52.4h0.7M372.9 47.4h0.7M363.6 52.9h0.7M372.6 52.9h0.7M377.7 58.0h0.7M361.6 56.7h0.7M377.4 57.3h0.7M377.3 53.6h0.7M375.7 53.9h0.7M372.6 49.2h0.7M363.9 54.8h0.7M368.2 64.7h0.7M363.9 56.0h0.7M368.9 57.2h0.7M381.6 57.9h0.7M377.8 54.9h0.7M376.2 51.3h0.7M380.2 52.3h0.7M374.3 54.0h0.7M381.0 58.0h0.7M361.2 78.1h0.7M359.0 77.2h0.7M373.3 66.1h0.7M374.4 71.6h0.7M378.4 74.9h0.7M379.1 72.4h0.7M374.9 79.5h0.7M360.7 72.4h0.7M365.3 84.2h0.7M360.7 80.8h0.7M365.0 76.3h0.7M376.5 79.0h0.7M381.9 76.9h0.7M371.9 76.7h0.7M361.1 71.9h0.7M369.7 71.0h0.7M380.9 80.8h0.7M373.0 70.7h0.7M387.6 72.3h0.7M357.8 76.3h0.7M370.3 77.0h0.7M338.0 61.0h0.7M338.3 62.6h0.7M339.1 55.8h0.7M338.9 63.0h0.7M339.2 54.5h0.7M343.0 75.7h0.7M355.8 78.9h0.7M338.1 70.9h0.7M342.0 69.4h0.7M345.6 80.4h0.7M355.7 58.2h0.7M366.2 72.7h0.7M369.6 68.7h0.7M371.7 82.9h0.7M405.1 62.5h0.7M406.2 62.1h0.7M411.5 60.8h0.7M402.0 52.0h0.7M404.9 48.3h0.7M411.5 46.0h0.7M402.8 42.1h0.7M405.7 61.8h0.7M399.7 53.9h0.7M419.4 50.5h0.7M403.2 56.0h0.7M420.7 52.9h0.7M404.8 44.8h0.7M412.3 58.5h0.7M404.2 58.0h0.7M405.7 56.4h0.7M407.9 61.9h0.7M413.8 62.0h0.7M409.3 52.1h0.7M402.5 48.3h0.7M415.4 58.5h0.7M400.9 50.5h0.7M418.8 51.1h0.7M410.9 63.3h0.7M400.9 53.5h0.7M403.6 51.2h0.7M413.8 60.0h0.7M399.5 43.1h0.7M402.7 59.7h0.7M404.0 51.4h0.7M407.5 54.9h0.7M408.7 58.9h0.7M413.7 51.3h0.7M419.4 49.6h0.7M411.0 53.0h0.7M402.8 51.8h0.7M407.1 54.3h0.7M402.8 65.1h0.7M413.5 52.5h0.7M404.5 59.4h0.7M398.8 57.6h0.7M408.9 58.7h0.7M407.9 49.2h0.7M402.6 49.7h0.7M420.2 52.7h0.7M399.5 55.3h0.7M399.2 56.0h0.7M407.5 46.4h0.7M413.7 54.8h0.7M399.7 58.5h0.7M400.5 63.3h0.7M410.1 62.6h0.7M402.7 56.8h0.7M400.8 46.2h0.7M399.0 45.0h0.7M399.0 55.0h0.7M404.7 59.2h0.7M406.0 60.1h0.7M407.6 47.2h0.7M402.8 46.5h0.7M404.0 55.3h0.7M402.5 64.5h0.7M420.1 42.0h0.7M410.7 49.4h0.7M411.9 51.4h0.7M414.7 59.5h0.7M399.8 57.9h0.7M407.8 54.2h0.7M403.3 50.4h0.7M416.2 56.6h0.7M399.8 53.8h0.7M409.6 57.1h0.7M410.7 45.5h0.7M400.9 47.5h0.7M401.5 57.5h0.7M414.5 60.2h0.7M401.1 52.5h0.7M410.7 51.4h0.7M407.4 51.2h0.7M412.0 54.4h0.7M401.8 41.0h0.7M427.3 55.4h0.7M406.4 48.3h0.7M405.5 49.7h0.7M399.5 52.0h0.7M403.6 42.4h0.7M400.7 52.4h0.7M408.9 57.1h0.7M407.2 61.1h0.7M399.8 63.7h0.7M400.1 55.5h0.7M401.0 51.9h0.7M416.3 57.9h0.7M404.6 71.3h0.7M405.8 67.2h0.7M399.2 58.2h0.7M405.4 46.4h0.7M412.5 47.9h0.7M407.7 52.1h0.7M403.0 63.4h0.7M411.2 55.3h0.7M424.3 54.7h0.7M409.9 51.7h0.7M401.4 52.2h0.7M403.6 46.2h0.7M401.8 59.4h0.7M405.1 56.6h0.7M399.3 59.4h0.7M401.0 53.6h0.7M409.7 44.2h0.7M399.9 51.9h0.7M401.7 52.3h0.7M422.8 57.4h0.7M398.6 45.0h0.7M415.2 58.5h0.7M423.7 54.3h0.7M399.9 60.4h0.7M409.5 57.7h0.7M416.1 48.1h0.7M398.8 61.7h0.7M398.6 52.4h0.7M408.1 52.6h0.7M407.6 54.9h0.7M405.7 52.1h0.7M410.8 44.3h0.7M413.5 48.4h0.7M405.5 58.0h0.7M405.8 57.5h0.7M403.5 51.3h0.7M407.4 59.7h0.7M400.5 50.0h0.7M410.1 53.3h0.7M411.3 61.0h0.7M406.2 53.1h0.7M415.5 45.4h0.7M410.1 46.1h0.7M408.5 51.2h0.7M408.8 51.0h0.7M405.5 60.4h0.7M403.9 55.0h0.7M408.7 52.6h0.7M404.4 56.2h0.7M408.4 55.1h0.7M400.8 61.7h0.7M399.7 56.0h0.7M399.2 60.3h0.7M401.0 47.8h0.7M404.6 57.7h0.7M404.9 57.5h0.7M413.2 45.0h0.7M401.3 61.8h0.7M405.1 49.1h0.7M406.4 67.3h0.7M400.8 51.4h0.7M412.7 46.6h0.7M413.6 47.1h0.7M399.4 53.2h0.7M399.9 49.7h0.7M405.2 53.0h0.7M406.0 55.8h0.7M407.0 49.3h0.7M401.8 52.9h0.7M407.7 51.6h0.7M400.5 49.9h0.7M411.7 46.5h0.7M407.5 52.0h0.7M401.8 45.4h0.7M406.3 57.9h0.7M399.9 60.9h0.7M419.6 54.1h0.7M426.8 63.7h0.7M426.0 48.1h0.7M433.4 53.8h0.7M416.5 55.7h0.7M434.4 55.2h0.7M430.4 55.3h0.7M426.5 51.7h0.7M429.3 57.3h0.7M429.5 55.7h0.7M432.6 50.0h0.7M434.7 57.3h0.7M417.4 60.3h0.7M434.7 42.6h0.7M436.3 54.2h0.7M437.4 62.6h0.7M416.2 66.9h0.7M434.8 57.2h0.7M425.0 50.1h0.7M418.6 69.4h0.7M423.1 58.5h0.7M430.6 58.2h0.7M438.8 61.0h0.7M426.3 55.5h0.7M430.0 54.8h0.7M416.3 48.8h0.7M434.7 82.2h0.7M418.6 65.8h0.7M400.7 62.9h0.7M431.6 65.0h0.7M427.9 55.4h0.7M421.6 66.8h0.7M421.1 76.9h0.7M434.5 63.0h0.7M422.5 58.6h0.7M426.2 46.7h0.7M431.5 71.1h0.7M435.1 46.7h0.7M425.0 51.9h0.7M432.2 55.1h0.7M436.3 50.5h0.7M419.7 59.3h0.7M418.7 51.0h0.7M425.1 57.3h0.7M433.9 55.7h0.7M435.0 49.1h0.7M425.1 51.4h0.7M429.6 63.2h0.7M410.1 63.7h0.7M438.5 47.2h0.7M408.6 57.3h0.7M417.2 61.4h0.7M424.4 74.0h0.7M416.2 58.3h0.7M421.9 62.9h0.7M415.4 49.3h0.7M422.9 56.8h0.7M419.4 45.1h0.7M449.2 61.4h0.7M425.7 65.7h0.7M434.0 61.5h0.7M437.7 54.0h0.7M418.2 61.4h0.7M405.8 83.5h0.7M398.8 67.2h0.7M402.5 80.4h0.7M404.0 74.2h0.7M402.2 77.5h0.7M410.0 72.9h0.7M404.7 87.0h0.7M408.7 67.0h0.7M407.2 67.7h0.7M399.5 69.6h0.7M402.7 71.8h0.7M401.5 72.7h0.7M400.4 72.1h0.7M401.3 68.1h0.7M409.1 77.1h0.7M403.6 65.1h0.7M399.9 80.2h0.7M415.7 72.8h0.7M414.1 61.8h0.7M400.7 73.6h0.7M409.5 71.3h0.7M406.6 81.8h0.7M407.3 83.9h0.7M401.1 73.7h0.7M414.6 70.1h0.7M436.8 77.1h0.7M426.4 64.2h0.7M426.7 83.5h0.7M436.4 77.9h0.7M430.1 71.7h0.7M417.5 83.7h0.7M416.7 84.8h0.7M414.5 79.0h0.7M429.4 73.9h0.7M428.2 64.9h0.7M433.0 77.3h0.7M418.4 86.9h0.7M413.0 74.4h0.7M465.6 51.6h0.7M472.3 48.6h0.7M467.7 50.1h0.7M462.1 58.7h0.7M474.0 47.2h0.7M466.2 60.9h0.7M468.6 54.5h0.7M467.6 44.7h0.7M477.1 44.1h0.7M475.4 50.3h0.7M461.2 52.5h0.7M460.9 59.2h0.7M464.4 48.1h0.7M468.5 55.4h0.7M482.1 59.3h0.7M462.9 44.3h0.7M471.5 54.4h0.7M474.6 51.1h0.7M460.7 53.0h0.7M462.8 57.8h0.7M475.7 50.7h0.7M479.0 46.5h0.7M462.6 47.0h0.7M462.5 50.3h0.7M479.3 45.1h0.7M466.3 54.5h0.7M463.8 56.5h0.7M466.3 47.2h0.7M468.8 55.9h0.7M477.5 50.9h0.7M476.6 51.1h0.7M477.2 60.6h0.7M478.8 49.6h0.7M479.4 58.5h0.7M466.5 54.5h0.7M460.7 52.4h0.7M481.4 44.5h0.7M474.1 51.9h0.7M482.5 50.6h0.7M473.5 48.3h0.7M462.4 57.3h0.7M466.7 50.8h0.7M478.0 59.3h0.7M463.0 49.9h0.7M472.6 55.0h0.7M464.3 52.0h0.7M460.8 54.8h0.7M461.7 52.5h0.7M477.6 52.1h0.7M465.3 45.9h0.7M468.2 54.5h0.7M461.7 44.8h0.7M469.3 50.5h0.7M479.7 49.2h0.7M468.0 50.6h0.7M472.8 49.3h0.7M469.1 62.5h0.7M461.0 54.7h0.7M468.1 54.5h0.7M461.3 45.1h0.7M462.0 55.6h0.7M478.7 44.8h0.7M469.6 50.3h0.7M470.9 49.7h0.7M463.7 52.4h0.7M473.8 44.6h0.7M468.8 49.8h0.7M472.0 58.2h0.7M465.7 56.7h0.7M461.1 61.7h0.7M474.6 53.0h0.7M472.4 52.6h0.7M469.6 52.2h0.7M468.3 52.9h0.7M461.6 53.6h0.7M461.7 53.7h0.7M460.7 59.2h0.7M472.9 49.3h0.7M476.9 54.9h0.7M466.3 69.1h0.7M473.8 55.7h0.7M470.5 53.4h0.7M473.8 45.0h0.7M492.7 49.8h0.7M477.0 50.1h0.7M470.2 41.5h0.7M469.0 58.7h0.7M470.7 51.4h0.7M465.5 51.1h0.7M463.7 54.7h0.7M476.8 61.2h0.7M461.7 57.1h0.7M471.8 53.2h0.7M466.8 60.6h0.7M471.0 52.4h0.7M470.9 52.5h0.7M460.9 52.5h0.7M466.5 52.6h0.7M464.0 51.7h0.7M474.0 53.8h0.7M465.8 57.9h0.7M475.1 60.0h0.7M465.6 53.2h0.7M468.9 45.6h0.7M470.8 51.0h0.7M462.6 51.5h0.7M472.8 54.7h0.7M482.5 56.8h0.7M463.7 51.8h0.7M462.7 46.9h0.7M469.0 53.4h0.7M472.1 50.9h0.7M468.4 51.9h0.7M464.4 50.6h0.7M469.3 54.3h0.7M475.4 58.8h0.7M481.6 55.0h0.7M476.7 60.3h0.7M479.9 49.3h0.7M465.4 44.0h0.7M462.2 49.1h0.7M460.8 47.0h0.7M461.4 50.9h0.7M469.4 47.6h0.7M465.7 45.7h0.7M461.4 48.6h0.7M463.8 50.5h0.7M461.8 59.6h0.7M478.3 50.6h0.7M481.3 58.2h0.7M466.6 52.3h0.7M471.0 57.1h0.7M470.1 48.3h0.7M478.6 61.2h0.7M469.4 55.0h0.7M477.7 53.7h0.7M460.6 50.3h0.7M470.0 56.0h0.7M477.8 45.1h0.7M474.5 58.2h0.7M462.4 43.9h0.7M462.4 53.0h0.7M471.5 51.8h0.7M464.8 47.9h0.7M478.4 49.3h0.7M468.7 49.7h0.7M477.5 44.2h0.7M464.3 49.2h0.7M468.3 56.9h0.7M476.5 50.7h0.7M469.3 65.5h0.7M466.2 52.3h0.7M468.8 57.7h0.7M472.9 58.3h0.7M470.2 55.9h0.7M462.4 56.3h0.7M468.7 50.8h0.7M470.4 45.1h0.7M468.6 58.0h0.7M468.0 47.0h0.7M462.4 60.0h0.7M465.1 58.9h0.7M464.4 52.5h0.7M473.4 62.2h0.7M469.8 63.7h0.7M466.6 58.9h0.7M467.0 58.6h0.7M466.4 51.1h0.7M469.9 50.1h0.7M468.8 46.9h0.7M463.8 55.3h0.7M463.0 66.1h0.7M461.1 55.6h0.7M465.8 50.5h0.7M468.4 57.0h0.7M473.1 52.5h0.7M464.8 53.3h0.7M471.4 54.4h0.7M477.4 62.9h0.7M461.8 53.5h0.7M467.1 51.3h0.7M464.3 56.5h0.7M464.3 45.2h0.7M473.6 51.2h0.7M472.0 59.2h0.7M482.7 61.8h0.7M462.4 52.3h0.7M465.4 47.6h0.7M465.3 55.3h0.7M460.7 47.9h0.7M464.7 53.0h0.7M479.9 57.7h0.7M471.1 49.9h0.7M468.8 50.4h0.7M461.5 43.3h0.7M482.0 58.9h0.7M460.7 47.1h0.7M474.6 52.0h0.7M473.8 59.5h0.7M477.3 60.5h0.7M468.4 54.7h0.7M478.3 53.7h0.7M460.8 56.7h0.7M470.6 55.2h0.7M466.2 58.2h0.7M473.3 54.9h0.7M469.8 54.2h0.7M465.8 50.0h0.7M461.7 54.7h0.7M460.9 51.0h0.7M470.1 62.3h0.7M467.6 56.6h0.7M463.8 47.1h0.7M472.4 58.4h0.7M484.5 49.0h0.7M463.7 58.8h0.7M463.0 57.6h0.7M461.2 54.8h0.7M468.0 58.7h0.7M466.6 56.4h0.7M479.6 48.7h0.7M472.1 62.2h0.7M462.1 47.8h0.7M469.3 53.1h0.7M469.3 48.2h0.7M467.5 51.6h0.7M468.3 55.0h0.7M470.5 57.3h0.7M482.7 55.1h0.7M474.3 44.0h0.7M467.6 49.9h0.7M469.5 52.4h0.7M461.7 47.4h0.7M463.7 58.1h0.7M471.8 54.5h0.7M477.9 55.2h0.7M469.1 47.9h0.7M464.0 50.5h0.7M473.4 52.1h0.7M474.4 51.9h0.7M474.8 59.7h0.7M465.0 49.3h0.7M467.1 44.4h0.7M461.5 65.4h0.7M474.0 57.5h0.7M471.5 46.0h0.7M467.2 57.9h0.7M473.9 57.2h0.7M471.0 47.8h0.7M470.0 54.7h0.7M481.3 54.0h0.7M464.3 56.3h0.7M462.0 52.3h0.7M475.3 49.3h0.7M477.1 53.7h0.7M474.5 49.5h0.7M465.8 56.9h0.7M475.3 49.1h0.7M461.6 53.8h0.7M467.4 50.2h0.7M463.7 59.4h0.7M482.7 45.2h0.7M481.4 55.1h0.7M481.5 64.5h0.7M470.8 42.5h0.7M475.6 54.7h0.7M502.0 59.3h0.7M462.4 59.6h0.7M474.5 58.0h0.7M492.0 53.8h0.7M489.5 63.1h0.7M488.9 59.1h0.7M467.8 49.2h0.7M482.5 63.2h0.7M495.1 50.7h0.7M502.0 56.0h0.7M491.8 65.1h0.7M492.1 60.8h0.7M480.9 70.9h0.7M478.3 51.7h0.7M500.2 57.5h0.7M494.6 56.5h0.7M497.7 52.0h0.7M496.9 50.4h0.7M479.6 61.7h0.7M473.4 53.3h0.7M490.7 40.4h0.7M487.0 73.4h0.7M488.9 55.2h0.7M478.9 51.4h0.7M477.1 77.3h0.7M486.6 63.8h0.7M464.7 57.6h0.7M493.7 57.8h0.7M487.1 76.1h0.7M505.6 60.0h0.7M493.6 56.0h0.7M475.6 52.4h0.7M472.9 64.5h0.7M499.5 44.9h0.7M490.6 47.9h0.7M469.1 54.4h0.7M499.9 44.9h0.7M488.3 44.3h0.7M505.3 59.0h0.7M486.3 61.1h0.7M495.0 70.0h0.7M488.7 42.0h0.7M502.4 61.8h0.7M471.2 43.7h0.7M484.2 59.4h0.7M486.1 60.8h0.7M483.2 49.4h0.7M465.3 46.9h0.7M488.0 50.3h0.7M494.1 42.0h0.7M485.8 43.7h0.7M482.1 52.0h0.7M491.8 63.9h0.7M477.2 58.1h0.7M476.4 46.7h0.7M475.2 53.1h0.7M464.9 56.2h0.7M485.7 58.5h0.7M492.2 60.7h0.7M488.0 49.3h0.7M474.1 46.4h0.7M483.6 63.9h0.7M489.7 64.4h0.7M479.8 57.5h0.7M482.0 49.8h0.7M482.4 57.5h0.7M479.2 63.1h0.7M471.0 53.8h0.7M474.9 56.3h0.7M475.5 51.5h0.7M468.7 57.9h0.7M486.4 62.8h0.7M476.3 70.4h0.7M461.0 71.3h0.7M464.6 69.8h0.7M473.7 78.4h0.7M469.8 69.4h0.7M467.9 76.4h0.7M470.1 68.0h0.7M461.4 81.4h0.7M460.7 72.2h0.7M467.6 69.9h0.7M471.9 83.5h0.7M470.1 80.5h0.7M461.8 75.3h0.7M468.3 59.5h0.7M464.1 75.9h0.7M468.8 72.4h0.7M461.8 64.8h0.7M469.4 67.2h0.7M465.1 72.1h0.7M465.7 70.4h0.7M461.3 66.1h0.7M466.0 67.7h0.7M468.6 76.2h0.7M465.6 77.7h0.7M470.0 74.9h0.7M467.5 76.0h0.7M470.8 79.2h0.7M469.5 72.6h0.7M469.0 75.5h0.7M474.6 79.2h0.7M460.7 67.3h0.7M468.7 80.7h0.7M464.3 71.8h0.7M470.5 81.5h0.7M463.6 63.9h0.7M464.1 67.4h0.7M461.0 69.5h0.7M470.2 76.5h0.7M472.5 77.2h0.7M468.7 83.0h0.7M465.0 77.7h0.7M479.5 73.6h0.7M468.4 77.3h0.7M467.3 74.3h0.7M471.3 71.3h0.7M468.2 81.5h0.7M483.5 79.9h0.7M485.7 88.2h0.7M489.7 75.3h0.7M481.0 82.2h0.7M488.2 74.5h0.7M483.2 72.5h0.7M485.8 77.9h0.7M477.1 85.6h0.7M479.6 73.6h0.7M487.3 76.5h0.7M495.7 77.2h0.7M484.9 86.0h0.7M501.7 74.7h0.7M494.6 79.3h0.7M482.4 65.9h0.7M490.0 76.8h0.7M485.5 73.2h0.7M382.9 127.2h0.7M385.6 134.7h0.7M378.8 122.9h0.7M381.0 126.2h0.7M378.9 139.4h0.7M385.1 133.5h0.7M371.6 134.5h0.7M364.8 128.2h0.7M380.9 132.7h0.7M378.8 129.5h0.7M374.0 130.6h0.7M383.8 134.0h0.7M383.3 125.1h0.7M372.6 129.2h0.7M378.0 129.3h0.7M382.3 129.8h0.7M377.8 131.5h0.7M386.7 133.9h0.7M378.5 125.2h0.7M356.9 109.0h0.7M343.6 105.7h0.7M355.2 104.4h0.7M381.8 105.4h0.7M387.6 109.2h0.7M351.9 114.8h0.7M353.3 134.9h0.7M337.7 136.1h0.7M343.0 138.2h0.7M347.0 123.4h0.7M404.9 112.6h0.7M409.9 103.8h0.7M400.2 103.5h0.7M406.4 112.7h0.7M406.6 106.4h0.7M401.8 103.3h0.7M399.5 109.8h0.7M407.8 110.8h0.7M400.7 107.1h0.7M408.0 103.5h0.7M399.4 113.7h0.7M403.1 98.3h0.7M404.4 107.1h0.7M406.5 106.0h0.7M398.8 109.6h0.7M404.0 103.5h0.7M402.6 103.4h0.7M409.5 110.2h0.7M400.3 106.3h0.7M398.8 112.3h0.7M398.6 100.6h0.7M400.2 111.2h0.7M406.6 104.2h0.7M403.8 101.6h0.7M401.0 104.8h0.7M403.7 104.9h0.7M399.2 102.6h0.7M399.2 112.5h0.7M399.1 114.6h0.7M414.0 103.8h0.7M400.7 104.4h0.7M409.8 106.3h0.7M405.8 106.3h0.7M398.9 111.7h0.7M406.8 99.8h0.7M406.9 105.6h0.7M401.7 102.5h0.7M399.0 104.2h0.7M407.3 106.7h0.7M409.7 102.9h0.7M401.9 108.0h0.7M401.6 106.2h0.7M408.4 102.8h0.7M401.6 112.5h0.7M406.1 107.4h0.7M404.0 103.7h0.7M401.6 104.2h0.7M410.7 105.3h0.7M404.1 99.4h0.7M407.7 100.4h0.7M408.1 107.4h0.7M403.9 106.6h0.7M405.2 99.5h0.7M399.7 106.1h0.7M398.7 106.9h0.7M401.3 106.4h0.7M410.1 110.6h0.7M409.8 104.3h0.7M403.4 109.7h0.7M404.4 105.4h0.7M405.9 106.6h0.7M408.6 103.5h0.7M413.7 99.8h0.7M409.9 105.1h0.7M401.5 103.6h0.7M401.9 103.7h0.7M403.3 104.3h0.7M409.8 98.2h0.7M409.4 104.5h0.7M402.5 112.1h0.7M401.4 112.9h0.7M403.4 96.1h0.7M398.9 108.1h0.7M398.9 102.6h0.7M399.7 107.5h0.7M400.3 104.5h0.7M413.0 103.3h0.7M399.1 103.2h0.7M398.8 109.1h0.7M400.4 103.7h0.7M402.4 106.1h0.7M398.7 106.5h0.7M402.5 108.2h0.7M402.5 96.9h0.7M398.8 103.0h0.7M402.5 111.8h0.7M413.6 115.4h0.7M398.8 109.5h0.7M412.5 106.0h0.7M407.6 106.6h0.7M399.1 108.6h0.7M407.1 102.4h0.7M399.4 108.0h0.7M399.0 101.5h0.7M400.3 108.5h0.7M399.4 103.4h0.7M409.4 113.6h0.7M409.9 109.5h0.7M406.1 103.0h0.7M400.5 103.4h0.7M405.0 114.7h0.7M436.7 115.1h0.7M411.5 106.0h0.7M414.0 116.2h0.7M424.1 113.0h0.7M429.4 106.9h0.7M425.0 117.3h0.7M410.1 106.8h0.7M424.6 108.4h0.7M414.0 109.0h0.7M412.4 113.0h0.7M415.7 106.5h0.7M409.9 115.9h0.7M403.8 126.3h0.7M401.7 116.8h0.7M414.5 115.3h0.7M414.9 106.8h0.7M409.7 122.9h0.7M413.8 102.1h0.7M414.7 111.0h0.7M406.2 114.3h0.7M401.0 111.9h0.7M425.8 102.8h0.7M402.1 105.1h0.7M406.9 120.6h0.7M425.7 108.3h0.7M420.5 114.3h0.7M409.1 116.0h0.7M413.1 111.9h0.7M406.2 120.3h0.7M435.9 122.2h0.7M408.4 112.9h0.7M424.9 107.2h0.7M425.8 110.2h0.7M422.2 110.6h0.7M420.8 105.9h0.7M413.9 113.0h0.7M413.4 114.6h0.7M410.5 112.0h0.7M415.2 101.9h0.7M423.3 108.7h0.7M422.4 114.8h0.7M420.8 113.9h0.7M416.6 124.5h0.7M418.2 100.5h0.7M423.1 122.1h0.7M422.2 115.8h0.7M417.1 116.2h0.7M412.1 105.8h0.7M415.1 116.2h0.7M411.0 113.1h0.7M419.0 102.4h0.7M404.6 126.7h0.7M399.5 122.2h0.7M400.1 134.1h0.7M400.6 131.6h0.7M406.6 127.6h0.7M402.6 135.8h0.7M404.7 118.7h0.7M402.9 116.1h0.7M403.2 127.7h0.7M414.2 120.1h0.7M406.5 128.5h0.7M405.1 127.6h0.7M400.8 124.0h0.7M404.1 129.5h0.7M406.9 125.7h0.7M401.2 134.1h0.7M402.8 128.8h0.7M399.6 126.7h0.7M398.9 121.8h0.7M405.7 140.0h0.7M402.1 125.9h0.7M399.0 127.8h0.7M411.3 112.7h0.7M408.1 123.0h0.7M406.4 135.2h0.7M405.2 126.4h0.7M406.3 128.4h0.7M408.5 128.4h0.7M412.0 131.4h0.7M406.0 125.5h0.7M399.1 124.3h0.7M401.8 130.7h0.7M438.5 121.8h0.7M432.9 133.7h0.7M433.9 128.0h0.7M439.9 136.4h0.7M440.5 125.0h0.7M411.7 133.5h0.7M436.0 129.0h0.7M419.5 130.2h0.7M420.6 119.9h0.7M420.7 126.5h0.7M424.2 134.0h0.7M427.8 138.0h0.7M413.6 102.6h0.7M422.1 104.6h0.7M447.3 99.3h0.7M415.5 102.5h0.7M430.2 107.0h0.7M431.8 99.7h0.7M425.5 108.9h0.7M430.9 105.2h0.7M466.2 105.8h0.7M462.4 99.6h0.7M460.7 103.5h0.7M468.3 112.0h0.7M469.8 110.7h0.7M469.8 109.5h0.7M470.2 117.9h0.7M466.4 105.0h0.7M469.3 103.0h0.7M466.4 112.3h0.7M461.0 107.2h0.7M465.0 107.2h0.7M468.4 110.7h0.7M462.2 110.0h0.7M461.2 109.2h0.7M462.7 114.3h0.7M467.5 97.2h0.7M465.3 98.3h0.7M462.3 107.5h0.7M461.0 106.2h0.7M462.4 100.8h0.7M469.8 114.4h0.7M461.3 109.2h0.7M469.8 106.9h0.7M464.6 109.6h0.7M462.3 108.6h0.7M460.9 117.0h0.7M465.9 109.8h0.7M466.7 101.0h0.7M462.8 101.4h0.7M466.6 102.3h0.7M463.4 108.5h0.7M461.4 108.9h0.7M463.4 106.5h0.7M463.3 108.3h0.7M471.3 113.7h0.7M469.0 111.1h0.7M468.7 112.5h0.7M473.2 101.4h0.7M464.5 116.4h0.7M471.6 110.8h0.7M462.4 106.1h0.7M470.7 108.9h0.7M463.6 103.5h0.7M471.2 107.2h0.7M466.5 99.3h0.7M461.8 101.8h0.7M477.9 94.7h0.7M474.4 106.4h0.7M468.7 107.4h0.7M468.3 111.2h0.7M461.3 103.9h0.7M468.0 116.1h0.7M464.7 108.8h0.7M472.4 98.3h0.7M468.6 102.8h0.7M471.3 107.0h0.7M461.5 105.5h0.7M468.0 112.7h0.7M463.6 105.3h0.7M474.8 100.6h0.7M465.0 112.0h0.7M463.0 117.1h0.7M463.3 108.8h0.7M472.7 114.8h0.7M462.2 109.5h0.7M463.3 113.9h0.7M469.0 107.8h0.7M467.9 111.7h0.7M473.5 103.5h0.7M468.4 104.6h0.7M462.4 113.7h0.7M466.1 115.5h0.7M467.1 110.5h0.7M461.8 113.2h0.7M468.2 101.9h0.7M466.3 102.2h0.7M463.1 111.4h0.7M468.0 114.9h0.7M462.5 110.4h0.7M474.3 103.3h0.7M467.6 111.6h0.7M471.0 106.8h0.7M466.1 109.1h0.7M462.7 107.6h0.7M461.5 109.1h0.7M463.0 108.2h0.7M471.8 107.9h0.7M470.2 105.2h0.7M461.3 105.6h0.7M460.7 113.0h0.7M471.5 107.7h0.7M463.0 102.4h0.7M472.9 102.3h0.7M475.7 116.0h0.7M465.8 113.7h0.7M462.0 113.1h0.7M460.7 114.2h0.7M469.8 109.6h0.7M465.3 106.4h0.7M461.4 107.8h0.7M463.4 110.3h0.7M468.4 119.0h0.7M466.6 106.2h0.7M474.2 105.1h0.7M470.6 109.5h0.7M464.6 101.1h0.7M464.9 113.3h0.7M463.1 103.9h0.7M464.1 111.9h0.7M466.6 111.7h0.7M468.2 119.5h0.7M476.3 105.9h0.7M464.6 108.7h0.7M466.9 110.2h0.7M471.1 116.1h0.7M468.7 101.0h0.7M471.0 104.6h0.7M468.8 114.2h0.7M468.0 108.4h0.7M461.4 105.5h0.7M463.8 114.3h0.7M461.8 108.7h0.7M465.7 104.6h0.7M470.9 99.3h0.7M471.1 116.9h0.7M468.3 112.4h0.7M464.7 101.9h0.7M468.2 108.9h0.7M466.1 96.8h0.7M461.6 109.5h0.7M462.0 102.7h0.7M462.1 108.1h0.7M460.8 115.3h0.7M468.2 115.2h0.7M479.9 98.7h0.7M460.8 103.0h0.7M468.0 103.9h0.7M460.9 106.8h0.7M461.1 98.5h0.7M470.0 99.0h0.7M467.0 105.0h0.7M465.1 112.9h0.7M468.6 100.0h0.7M464.6 112.6h0.7M464.6 108.9h0.7M470.8 104.2h0.7M460.6 104.7h0.7M464.1 99.6h0.7M465.0 114.6h0.7M465.2 107.1h0.7M461.0 110.0h0.7M468.5 107.9h0.7M470.8 113.9h0.7M475.3 104.9h0.7M472.5 104.5h0.7M460.8 113.0h0.7M467.4 103.5h0.7M467.7 109.0h0.7M467.8 113.3h0.7M463.6 106.2h0.7M478.3 102.4h0.7M466.0 112.2h0.7M475.6 98.1h0.7M469.6 109.5h0.7M460.8 108.1h0.7M465.9 113.5h0.7M464.0 101.1h0.7M470.3 107.8h0.7M469.0 103.0h0.7M461.9 107.2h0.7M464.1 107.3h0.7M466.5 106.4h0.7M467.6 107.2h0.7M464.3 109.5h0.7M466.8 113.5h0.7M465.7 104.6h0.7M469.8 109.0h0.7M470.9 108.2h0.7M469.4 108.1h0.7M467.2 101.1h0.7M476.2 103.9h0.7M463.2 104.4h0.7M463.7 112.8h0.7M467.3 106.2h0.7M468.5 101.2h0.7M465.3 109.2h0.7M462.0 107.7h0.7M467.2 108.1h0.7M462.6 111.0h0.7M461.9 106.1h0.7M461.7 94.4h0.7M461.6 111.1h0.7M465.0 122.0h0.7M466.9 98.4h0.7M465.5 111.6h0.7M467.0 112.6h0.7M466.3 103.8h0.7M469.4 100.9h0.7M474.3 114.2h0.7M463.2 105.1h0.7M470.8 103.8h0.7M468.2 113.9h0.7M462.3 107.1h0.7M475.2 104.4h0.7M469.4 111.5h0.7M466.1 108.3h0.7M462.4 103.3h0.7M464.3 108.4h0.7M469.7 116.2h0.7M467.9 106.7h0.7M475.4 108.6h0.7M461.2 106.8h0.7M466.3 122.3h0.7M472.8 110.7h0.7M474.0 105.3h0.7M467.5 94.7h0.7M465.6 106.7h0.7M462.6 112.7h0.7M461.0 112.9h0.7M472.4 102.2h0.7M462.0 109.9h0.7M471.7 106.6h0.7M466.4 104.2h0.7M464.3 108.7h0.7M461.8 104.1h0.7M475.9 103.7h0.7M461.4 105.3h0.7M472.2 110.0h0.7M463.1 111.1h0.7M461.9 114.9h0.7M468.7 110.0h0.7M463.2 112.3h0.7M463.8 115.8h0.7M473.1 118.4h0.7M473.7 106.6h0.7M464.5 108.2h0.7M471.6 100.8h0.7M464.2 105.8h0.7M462.9 110.8h0.7M462.4 109.9h0.7M470.3 107.6h0.7M466.4 99.7h0.7M463.7 103.0h0.7M463.8 100.4h0.7M463.8 105.4h0.7M460.9 104.4h0.7M469.7 101.8h0.7M461.5 107.9h0.7M462.2 110.2h0.7M463.1 99.5h0.7M473.3 103.0h0.7M465.5 104.1h0.7M472.2 106.8h0.7M473.3 104.0h0.7M471.1 105.6h0.7M461.0 111.8h0.7M462.5 101.0h0.7M469.9 108.3h0.7M479.6 110.0h0.7M463.0 108.2h0.7M467.9 107.3h0.7M463.4 105.3h0.7M465.0 104.0h0.7M475.9 109.9h0.7M464.8 110.3h0.7M467.0 105.0h0.7M469.9 105.8h0.7M461.4 108.6h0.7M465.8 118.3h0.7M460.7 113.4h0.7M463.4 121.8h0.7M468.5 117.4h0.7M463.4 104.9h0.7M462.5 124.9h0.7M462.3 130.0h0.7M460.8 117.5h0.7M462.9 130.3h0.7M469.9 117.5h0.7M461.3 107.0h0.7M465.8 115.6h0.7M467.9 122.3h0.7M464.2 131.5h0.7M461.1 118.5h0.7M474.3 124.7h0.7M464.0 114.9h0.7M463.4 128.8h0.7M466.2 121.2h0.7M461.6 134.1h0.7M466.9 130.3h0.7M464.3 133.5h0.7M464.4 123.7h0.7M468.7 117.9h0.7M461.7 125.1h0.7M465.7 125.1h0.7M464.0 114.3h0.7M463.4 121.7h0.7M466.7 113.6h0.7M470.2 135.0h0.7M468.8 114.2h0.7M465.4 112.5h0.7M461.0 128.5h0.7M461.6 111.7h0.7M460.7 136.1h0.7M467.5 140.7h0.7M465.6 113.5h0.7M461.0 133.9h0.7M468.4 120.4h0.7M470.0 127.5h0.7M460.7 123.0h0.7M463.2 130.6h0.7M464.1 122.6h0.7M469.3 125.3h0.7M467.5 115.7h0.7M468.2 137.3h0.7M466.9 133.2h0.7M465.9 131.3h0.7M461.7 124.5h0.7M470.8 122.3h0.7M463.9 121.6h0.7M466.2 135.2h0.7M465.3 124.7h0.7M465.0 125.8h0.7M469.7 126.7h0.7M462.2 120.4h0.7M462.9 130.1h0.7M463.4 125.6h0.7M461.3 138.4h0.7M460.6 108.2h0.7M464.5 141.1h0.7M466.5 118.5h0.7M466.2 121.1h0.7M469.9 132.6h0.7M466.1 112.7h0.7M464.0 112.1h0.7M463.6 135.5h0.7M464.3 114.6h0.7M463.6 127.6h0.7M471.3 118.8h0.7M470.6 114.6h0.7M466.6 121.2h0.7M468.0 130.3h0.7M461.2 123.5h0.7M469.1 116.4h0.7M463.6 121.1h0.7M462.7 142.9h0.7M462.4 123.5h0.7M461.7 129.7h0.7M470.7 129.4h0.7M492.7 113.2h0.7M496.6 112.3h0.7M488.3 108.1h0.7M489.8 106.1h0.7M482.9 106.6h0.7M505.9 101.6h0.7M490.2 112.2h0.7M462.7 103.6h0.7M471.8 101.5h0.7M480.8 127.9h0.7M498.7 106.6h0.7M489.8 110.9h0.7M477.9 100.9h0.7M481.2 96.8h0.7M484.8 103.7h0.7M483.0 96.2h0.7M499.0 113.1h0.7M484.3 113.2h0.7M487.4 105.1h0.7M490.8 120.9h0.7M473.1 113.3h0.7M493.9 120.2h0.7M461.3 100.2h0.7M489.3 98.7h0.7M479.1 107.2h0.7M491.1 103.9h0.7M498.6 111.6h0.7M488.7 112.2h0.7M494.2 106.6h0.7M478.8 106.3h0.7M484.3 112.8h0.7M483.1 98.8h0.7M479.2 109.3h0.7M486.3 111.0h0.7M479.7 120.9h0.7M471.1 110.3h0.7M472.7 116.4h0.7M484.8 108.3h0.7M483.3 99.3h0.7M488.1 106.3h0.7M486.2 107.1h0.7M489.1 105.7h0.7M468.7 108.4h0.7M491.7 104.8h0.7M480.1 123.3h0.7M489.2 104.2h0.7M497.5 110.5h0.7M484.0 118.5h0.7M484.2 102.4h0.7M499.2 100.6h0.7M481.5 110.1h0.7M485.3 109.6h0.7M493.1 112.4h0.7M497.9 101.9h0.7M501.4 107.2h0.7M473.4 117.9h0.7M489.8 118.3h0.7M485.9 108.6h0.7M487.2 114.7h0.7M489.4 114.2h0.7M497.5 120.1h0.7M485.2 107.2h0.7M486.7 114.8h0.7M471.9 109.9h0.7M493.8 105.9h0.7M484.2 104.7h0.7M481.3 110.8h0.7M501.1 119.6h0.7M504.2 127.8h0.7M486.5 135.5h0.7M490.6 135.6h0.7M479.5 122.7h0.7M477.4 127.7h0.7M493.5 137.3h0.7M498.3 135.4h0.7M490.5 136.4h0.7M489.4 132.1h0.7M488.0 131.4h0.7M484.7 136.9h0.7M494.4 137.2h0.7" stroke="#000" stroke-opacity="0.33" stroke-width="0.7" fill="none"/>
<path d="M361.1 58.5h0.7M378.8 50.3h0.7M374.3 56.5h0.7M368.3 58.5h0.7M368.8 61.3h0.7M376.4 49.2h0.7M370.3 53.9h0.7M373.3 56.7h0.7M384.6 53.1h0.7M368.9 57.3h0.7M383.3 59.2h0.7M372.1 59.7h0.7M379.6 54.6h0.7M370.6 56.9h0.7M378.0 55.1h0.7M375.4 58.8h0.7M376.2 55.6h0.7M368.7 57.2h0.7M365.8 50.9h0.7M377.3 54.5h0.7M360.6 77.9h0.7M383.7 81.9h0.7M381.4 66.7h0.7M370.3 79.4h0.7M386.7 74.4h0.7M358.1 76.1h0.7M361.5 74.5h0.7M382.4 74.0h0.7M378.6 73.8h0.7M384.8 81.6h0.7M367.8 75.4h0.7M375.1 77.5h0.7M381.7 68.6h0.7M377.4 80.8h0.7M363.7 68.5h0.7M363.2 81.0h0.7M355.8 70.4h0.7M369.1 70.7h0.7M372.5 64.9h0.7M382.1 76.8h0.7M382.9 80.2h0.7M340.2 65.4h0.7M338.5 55.6h0.7M337.8 54.1h0.7M340.0 57.3h0.7M338.6 62.5h0.7M341.2 67.1h0.7M344.3 82.5h0.7M337.9 86.4h0.7M346.8 79.2h0.7M340.0 77.3h0.7M337.4 60.4h0.7M347.8 50.2h0.7M376.4 48.5h0.7M375.1 81.9h0.7M404.0 55.0h0.7M405.2 55.9h0.7M399.4 51.6h0.7M420.5 59.1h0.7M403.1 58.1h0.7M400.4 61.9h0.7M401.0 65.1h0.7M408.6 48.2h0.7M410.5 45.5h0.7M401.7 45.0h0.7M407.9 50.1h0.7M405.7 60.2h0.7M405.0 45.4h0.7M399.8 44.9h0.7M402.9 52.3h0.7M418.0 59.5h0.7M406.5 61.2h0.7M403.7 60.7h0.7M400.1 52.3h0.7M411.8 51.6h0.7M399.9 44.1h0.7M401.2 45.3h0.7M402.0 55.0h0.7M418.4 52.0h0.7M399.1 53.3h0.7M410.5 56.1h0.7M412.8 54.7h0.7M402.0 49.6h0.7M401.2 62.3h0.7M419.1 60.8h0.7M398.9 45.2h0.7M399.3 58.7h0.7M408.6 40.2h0.7M414.9 48.8h0.7M418.8 54.0h0.7M402.4 52.3h0.7M419.2 48.3h0.7M415.1 56.5h0.7M407.7 51.7h0.7M399.4 51.8h0.7M400.3 67.7h0.7M409.0 64.4h0.7M401.8 60.1h0.7M402.7 43.0h0.7M401.4 53.8h0.7M399.0 58.7h0.7M403.4 54.6h0.7M410.2 51.4h0.7M401.3 49.9h0.7M401.1 63.7h0.7M402.4 52.0h0.7M406.6 53.6h0.7M399.9 53.2h0.7M401.2 55.5h0.7M401.2 59.4h0.7M400.1 58.3h0.7M415.2 46.8h0.7M404.8 49.8h0.7M398.9 48.9h0.7M414.6 57.2h0.7M402.0 52.3h0.7M401.0 54.6h0.7M398.8 45.8h0.7M400.9 48.2h0.7M400.3 47.2h0.7M409.7 46.5h0.7M405.7 56.0h0.7M403.5 63.9h0.7M402.2 45.5h0.7M402.0 48.7h0.7M405.8 52.7h0.7M412.2 43.5h0.7M403.6 51.3h0.7M408.5 53.3h0.7M406.6 48.7h0.7M406.7 56.4h0.7M405.9 65.0h0.7M400.7 64.7h0.7M414.2 64.2h0.7M421.4 50.6h0.7M411.6 57.7h0.7M410.7 53.3h0.7M401.0 58.2h0.7M406.2 49.0h0.7M418.8 62.3h0.7M413.4 46.2h0.7M399.1 62.8h0.7M403.8 47.9h0.7M407.2 62.7h0.7M419.5 55.8h0.7M415.6 54.8h0.7M411.7 41.1h0.7M404.3 57.9h0.7M408.2 57.9h0.7M404.5 51.5h0.7M402.0 64.1h0.7M401.0 48.0h0.7M411.8 54.9h0.7M404.0 52.4h0.7M409.0 62.0h0.7M409.7 55.7h0.7M408.3 42.7h0.7M412.9 49.5h0.7M418.1 58.9h0.7M406.5 51.3h0.7M404.9 53.4h0.7M401.0 56.7h0.7M404.0 48.9h0.7M413.3 50.5h0.7M409.5 50.4h0.7M410.8 57.0h0.7M405.5 56.0h0.7M403.6 54.0h0.7M401.3 54.1h0.7M400.4 50.7h0.7M423.1 54.7h0.7M400.5 46.1h0.7M407.1 55.0h0.7M402.2 58.3h0.7M409.5 47.8h0.7M417.7 52.9h0.7M399.1 48.8h0.7M407.8 58.4h0.7M410.4 43.3h0.7M410.3 61.0h0.7M404.7 51.6h0.7M411.5 47.2h0.7M407.4 54.1h0.7M414.8 54.1h0.7M409.0 56.6h0.7M401.5 50.3h0.7M399.1 49.2h0.7M411.7 51.6h0.7M413.5 52.8h0.7M416.5 59.8h0.7M403.0 52.1h0.7M410.5 45.3h0.7M407.3 52.9h0.7M406.3 50.1h0.7M411.0 53.1h0.7M403.7 45.7h0.7M413.2 52.4h0.7M417.1 58.2h0.7M402.0 67.6h0.7M403.4 58.4h0.7M413.4 49.7h0.7M399.8 54.7h0.7M412.0 53.4h0.7M405.8 57.2h0.7M415.3 50.5h0.7M406.5 54.4h0.7M407.8 55.8h0.7M402.3 44.1h0.7M428.3 53.4h0.7M405.4 45.2h0.7M411.4 60.9h0.7M410.6 43.9h0.7M410.2 56.1h0.7M401.6 50.2h0.7M408.4 64.3h0.7M408.8 46.6h0.7M405.6 56.0h0.7M400.6 50.7h0.7M413.6 45.3h0.7M403.1 44.4h0.7M403.9 55.7h0.7M399.0 48.9h0.7M398.6 52.4h0.7M428.3 65.3h0.7M430.1 51.8h0.7M424.7 55.0h0.7M420.1 46.4h0.7M427.7 45.9h0.7M433.3 63.2h0.7M425.4 52.0h0.7M413.3 76.9h0.7M416.7 70.0h0.7M415.0 68.1h0.7M403.5 45.8h0.7M429.4 53.8h0.7M430.8 57.7h0.7M429.6 67.6h0.7M412.1 56.8h0.7M426.4 65.2h0.7M433.1 56.8h0.7M411.9 60.2h0.7M440.9 46.9h0.7M444.7 55.1h0.7M439.9 66.5h0.7M436.0 41.7h0.7M437.3 58.8h0.7M421.0 59.0h0.7M424.6 47.2h0.7M443.8 67.7h0.7M427.4 59.7h0.7M409.6 53.5h0.7M430.8 52.2h0.7M421.1 60.6h0.7M417.1 69.0h0.7M411.6 48.8h0.7M425.3 72.4h0.7M422.5 50.6h0.7M430.3 47.7h0.7M432.4 54.7h0.7M404.6 64.2h0.7M424.6 56.3h0.7M445.4 64.0h0.7M400.1 62.2h0.7M425.7 42.5h0.7M423.5 55.1h0.7M439.5 62.7h0.7M430.2 57.5h0.7M431.9 60.5h0.7M425.3 67.1h0.7M437.5 47.0h0.7M411.5 62.9h0.7M440.9 74.8h0.7M417.7 53.2h0.7M420.3 52.9h0.7M428.8 46.9h0.7M425.3 38.2h0.7M417.4 54.7h0.7M426.2 57.6h0.7M434.4 65.3h0.7M415.7 54.3h0.7M407.8 60.6h0.7M415.4 51.7h0.7M425.7 57.6h0.7M427.6 66.5h0.7M441.7 51.6h0.7M418.2 61.1h0.7M429.2 51.0h0.7M398.7 75.4h0.7M405.1 75.4h0.7M400.2 73.3h0.7M413.8 71.9h0.7M404.4 72.1h0.7M408.9 84.4h0.7M404.2 86.4h0.7M402.5 75.9h0.7M399.0 64.6h0.7M408.9 71.0h0.7M404.6 81.3h0.7M403.8 80.9h0.7M404.8 81.9h0.7M400.9 80.5h0.7M405.1 77.4h0.7M401.5 76.6h0.7M400.5 78.4h0.7M400.5 71.2h0.7M410.3 77.2h0.7M399.2 64.8h0.7M409.3 68.7h0.7M412.5 55.3h0.7M406.3 81.3h0.7M398.8 67.6h0.7M422.2 75.7h0.7M427.6 74.6h0.7M434.1 81.2h0.7M416.4 79.7h0.7M426.1 79.0h0.7M435.7 74.7h0.7M432.9 75.3h0.7M428.4 85.5h0.7M430.1 75.2h0.7M433.8 69.1h0.7M405.4 74.7h0.7M418.3 87.2h0.7M431.9 83.0h0.7M417.7 83.8h0.7M475.2 52.2h0.7M463.5 55.2h0.7M463.2 51.6h0.7M468.1 61.7h0.7M472.8 60.4h0.7M463.1 52.1h0.7M474.4 50.1h0.7M477.6 50.7h0.7M479.0 45.0h0.7M472.8 55.1h0.7M460.6 52.6h0.7M468.3 54.1h0.7M477.5 48.9h0.7M463.2 52.7h0.7M469.9 51.7h0.7M472.0 44.9h0.7M467.0 49.6h0.7M463.4 60.2h0.7M467.0 49.8h0.7M463.0 50.8h0.7M470.5 40.1h0.7M470.1 51.1h0.7M467.1 54.0h0.7M478.3 54.7h0.7M466.7 50.3h0.7M462.1 56.2h0.7M476.5 51.5h0.7M468.1 49.3h0.7M463.3 58.4h0.7M461.1 52.1h0.7M462.1 54.5h0.7M464.1 58.5h0.7M469.5 45.1h0.7M474.7 55.3h0.7M468.3 50.6h0.7M464.6 56.7h0.7M465.3 48.1h0.7M464.6 43.0h0.7M470.9 52.6h0.7M463.4 54.5h0.7M470.9 53.3h0.7M473.5 53.1h0.7M468.6 52.8h0.7M477.2 55.6h0.7M476.0 59.6h0.7M461.5 55.1h0.7M466.5 60.7h0.7M471.8 59.3h0.7M469.9 54.7h0.7M461.0 50.6h0.7M461.7 46.8h0.7M466.5 51.3h0.7M463.3 54.6h0.7M466.9 53.3h0.7M466.9 42.7h0.7M470.4 53.2h0.7M478.3 55.9h0.7M469.7 48.9h0.7M480.5 53.8h0.7M463.2 49.8h0.7M469.3 46.6h0.7M467.1 59.2h0.7M469.5 49.9h0.7M466.0 48.3h0.7M475.5 57.1h0.7M462.0 54.5h0.7M460.8 46.1h0.7M476.3 49.6h0.7M466.5 39.4h0.7M461.3 55.6h0.7M473.4 59.8h0.7M481.3 49.6h0.7M467.5 48.3h0.7M462.5 59.1h0.7M476.3 47.2h0.7M476.4 47.3h0.7M467.5 49.1h0.7M464.1 47.9h0.7M467.4 46.4h0.7M462.5 58.5h0.7M461.6 53.6h0.7M471.6 43.4h0.7M470.4 47.8h0.7M467.5 57.4h0.7M464.3 57.3h0.7M461.9 57.8h0.7M470.4 57.9h0.7M466.4 45.5h0.7M482.1 53.0h0.7M484.5 49.3h0.7M476.5 55.1h0.7M473.8 43.0h0.7M474.5 54.3h0.7M465.8 53.7h0.7M472.6 55.0h0.7M475.2 47.1h0.7M490.0 53.8h0.7M469.3 52.6h0.7M463.7 63.9h0.7M469.8 59.9h0.7M469.8 62.4h0.7M479.2 47.2h0.7M463.2 51.2h0.7M468.5 54.3h0.7M469.5 56.9h0.7M466.0 59.5h0.7M469.1 58.8h0.7M468.6 46.6h0.7M464.1 53.0h0.7M469.9 47.9h0.7M473.2 52.5h0.7M461.9 56.9h0.7M472.6 55.4h0.7M461.6 51.7h0.7M474.1 46.2h0.7M463.8 57.2h0.7M474.7 50.2h0.7M473.4 48.5h0.7M461.2 51.3h0.7M475.6 53.2h0.7M470.8 54.7h0.7M475.5 48.1h0.7M464.0 54.4h0.7M464.0 47.1h0.7M466.2 52.1h0.7M469.5 46.0h0.7M466.6 50.2h0.7M474.5 48.1h0.7M475.6 57.6h0.7M469.6 51.2h0.7M465.0 56.2h0.7M464.3 45.6h0.7M474.3 53.9h0.7M472.3 46.3h0.7M484.2 58.1h0.7M472.5 58.3h0.7M463.4 53.3h0.7M474.6 51.8h0.7M464.9 46.2h0.7M463.2 49.0h0.7M466.3 46.2h0.7M470.2 49.6h0.7M465.3 48.3h0.7M474.7 49.3h0.7M472.1 54.2h0.7M473.7 58.5h0.7M464.7 61.5h0.7M473.4 41.3h0.7M482.4 58.7h0.7M471.6 50.1h0.7M468.1 51.7h0.7M462.9 54.7h0.7M474.1 51.8h0.7M473.6 54.2h0.7M467.4 55.9h0.7M479.0 53.4h0.7M466.4 52.2h0.7M473.2 51.3h0.7M473.5 54.7h0.7M461.1 60.3h0.7M478.8 57.4h0.7M468.6 46.7h0.7M467.7 53.6h0.7M460.8 54.0h0.7M482.9 57.0h0.7M473.8 49.8h0.7M464.2 51.2h0.7M464.0 53.5h0.7M467.1 52.6h0.7M472.1 41.8h0.7M470.2 51.7h0.7M474.8 53.4h0.7M474.1 46.3h0.7M466.8 48.1h0.7M475.5 53.4h0.7M460.8 52.8h0.7M461.0 46.1h0.7M472.4 48.7h0.7M469.5 58.2h0.7M471.7 51.9h0.7M462.7 52.8h0.7M480.3 54.6h0.7M473.1 46.0h0.7M470.0 50.0h0.7M463.3 52.9h0.7M464.7 47.7h0.7M461.7 48.5h0.7M470.2 61.5h0.7M462.5 47.5h0.7M461.6 48.8h0.7M482.6 48.0h0.7M475.3 61.2h0.7M465.8 59.1h0.7M469.5 57.1h0.7M474.1 52.1h0.7M469.6 44.5h0.7M478.0 51.0h0.7M471.2 54.0h0.7M468.5 50.9h0.7M472.5 50.0h0.7M474.5 55.6h0.7M463.0 57.5h0.7M471.4 53.0h0.7M461.0 55.3h0.7M464.7 49.2h0.7M466.1 49.0h0.7M472.8 44.9h0.7M464.1 50.1h0.7M463.9 51.9h0.7M468.2 51.8h0.7M480.3 49.6h0.7M465.7 52.8h0.7M463.8 57.6h0.7M469.4 47.2h0.7M474.7 45.3h0.7M480.2 58.4h0.7M472.9 49.5h0.7M479.1 55.8h0.7M467.6 50.0h0.7M461.2 42.4h0.7M468.0 50.6h0.7M471.6 57.0h0.7M460.9 48.2h0.7M478.8 46.3h0.7M470.3 53.2h0.7M463.1 54.4h0.7M474.0 50.7h0.7M462.0 68.5h0.7M473.6 50.5h0.7M468.9 44.6h0.7M477.2 51.2h0.7M467.4 52.1h0.7M476.1 46.7h0.7M471.9 52.1h0.7M469.4 51.5h0.7M466.3 58.0h0.7M476.8 48.6h0.7M470.9 54.5h0.7M476.6 58.8h0.7M478.5 64.0h0.7M477.2 52.5h0.7M473.8 51.1h0.7M462.8 44.9h0.7M470.8 56.3h0.7M481.5 54.5h0.7M465.7 64.5h0.7M470.2 39.0h0.7M470.3 57.0h0.7M468.7 61.2h0.7M461.9 60.9h0.7M467.9 49.9h0.7M468.9 53.6h0.7M469.9 47.3h0.7M476.1 50.6h0.7M479.8 50.5h0.7M471.1 60.0h0.7M461.8 56.4h0.7M461.5 53.6h0.7M462.0 54.9h0.7M488.0 55.8h0.7M485.7 51.9h0.7M497.2 55.8h0.7M485.2 62.3h0.7M483.1 62.9h0.7M489.1 60.8h0.7M483.9 51.2h0.7M496.7 53.1h0.7M470.6 56.9h0.7M483.3 69.0h0.7M506.2 61.4h0.7M504.6 54.6h0.7M497.8 56.3h0.7M502.5 51.9h0.7M486.9 69.6h0.7M492.0 49.0h0.7M506.4 65.0h0.7M473.0 67.3h0.7M470.6 55.5h0.7M469.4 43.1h0.7M489.5 51.4h0.7M486.5 49.5h0.7M480.7 55.1h0.7M485.4 58.3h0.7M498.1 51.4h0.7M496.1 58.3h0.7M507.6 54.6h0.7M496.3 55.2h0.7M490.7 59.1h0.7M501.6 63.7h0.7M484.0 58.8h0.7M492.0 62.6h0.7M483.8 60.3h0.7M483.2 61.1h0.7M504.0 53.0h0.7M462.3 63.6h0.7M493.2 54.3h0.7M492.2 63.6h0.7M484.1 66.9h0.7M508.0 54.0h0.7M504.8 45.6h0.7M479.1 60.1h0.7M476.0 57.6h0.7M504.5 68.4h0.7M501.7 68.3h0.7M493.0 40.3h0.7M487.4 57.8h0.7M505.8 57.8h0.7M472.8 54.2h0.7M483.9 55.4h0.7M485.4 47.6h0.7M480.0 55.3h0.7M500.9 69.8h0.7M475.5 63.6h0.7M493.7 58.2h0.7M497.8 43.7h0.7M496.7 39.3h0.7M497.9 54.8h0.7M492.4 73.3h0.7M491.6 63.1h0.7M477.2 58.7h0.7M493.1 63.1h0.7M491.2 61.1h0.7M498.0 53.5h0.7M493.6 68.7h0.7M500.3 53.7h0.7M504.4 65.4h0.7M486.8 47.0h0.7M498.5 48.8h0.7M476.5 66.1h0.7M500.4 53.8h0.7M468.7 66.5h0.7M494.4 62.5h0.7M496.0 52.1h0.7M498.5 70.9h0.7M500.0 50.3h0.7M486.2 55.9h0.7M478.5 54.4h0.7M487.9 55.2h0.7M478.9 60.1h0.7M464.4 59.8h0.7M462.3 62.3h0.7M467.1 74.9h0.7M468.6 74.0h0.7M467.7 79.6h0.7M467.1 68.9h0.7M468.8 86.0h0.7M468.4 79.5h0.7M464.8 78.1h0.7M462.4 64.9h0.7M471.6 73.2h0.7M472.7 74.1h0.7M472.5 86.8h0.7M476.0 63.8h0.7M465.7 61.6h0.7M474.5 73.1h0.7M472.7 77.7h0.7M467.5 70.0h0.7M464.7 67.2h0.7M470.5 78.2h0.7M462.1 68.6h0.7M463.7 62.0h0.7M471.2 72.4h0.7M475.2 65.5h0.7M462.7 74.3h0.7M467.2 84.4h0.7M463.4 81.0h0.7M470.8 62.6h0.7M466.9 72.0h0.7M460.7 87.6h0.7M462.2 62.0h0.7M462.3 72.6h0.7M478.5 76.0h0.7M467.7 77.0h0.7M465.4 71.4h0.7M472.4 74.0h0.7M463.6 68.8h0.7M468.3 76.4h0.7M470.1 72.1h0.7M461.4 76.9h0.7M470.0 82.8h0.7M461.1 68.7h0.7M464.5 70.1h0.7M466.4 76.9h0.7M466.2 66.8h0.7M479.2 74.1h0.7M479.0 75.7h0.7M501.5 77.5h0.7M488.5 73.7h0.7M480.7 71.3h0.7M489.1 79.9h0.7M479.3 73.2h0.7M482.6 76.0h0.7M476.0 78.4h0.7M484.2 76.6h0.7M488.2 77.1h0.7M486.4 78.6h0.7M479.7 86.3h0.7M490.9 79.6h0.7M482.6 83.3h0.7M475.3 86.3h0.7M487.0 71.7h0.7M374.0 127.2h0.7M379.7 135.7h0.7M381.9 139.3h0.7M377.8 132.9h0.7M373.6 130.0h0.7M361.1 135.4h0.7M381.6 133.4h0.7M375.0 133.8h0.7M381.8 130.7h0.7M371.3 122.6h0.7M382.5 132.3h0.7M383.3 131.4h0.7M375.5 131.5h0.7M377.7 125.0h0.7M381.2 127.6h0.7M381.8 134.2h0.7M384.1 139.4h0.7M379.7 132.0h0.7M381.9 129.3h0.7M352.7 97.2h0.7M350.5 94.6h0.7M373.6 102.0h0.7M357.1 104.4h0.7M356.1 94.2h0.7M355.5 114.7h0.7M343.4 133.7h0.7M338.3 123.8h0.7M345.8 133.6h0.7M346.6 126.7h0.7M409.1 98.7h0.7M404.3 106.5h0.7M402.5 101.9h0.7M398.9 112.0h0.7M406.0 102.5h0.7M399.8 100.6h0.7M409.7 105.8h0.7M403.4 96.4h0.7M399.7 101.1h0.7M401.6 110.6h0.7M404.0 109.1h0.7M399.4 103.3h0.7M399.3 108.1h0.7M398.9 115.6h0.7M406.9 108.7h0.7M403.2 110.3h0.7M399.4 103.7h0.7M407.8 110.1h0.7M402.6 106.7h0.7M399.0 107.5h0.7M399.1 102.8h0.7M405.6 107.2h0.7M399.6 101.8h0.7M401.2 103.7h0.7M406.9 100.4h0.7M406.4 106.5h0.7M399.5 113.3h0.7M409.1 105.7h0.7M409.3 113.0h0.7M402.0 102.2h0.7M400.5 108.1h0.7M404.6 109.4h0.7M405.4 109.7h0.7M406.2 103.3h0.7M409.3 106.5h0.7M419.4 103.7h0.7M405.7 94.1h0.7M400.7 107.3h0.7M408.6 116.3h0.7M406.1 103.4h0.7M404.4 111.2h0.7M405.7 105.6h0.7M399.7 99.8h0.7M398.7 98.9h0.7M406.7 105.9h0.7M409.0 101.8h0.7M399.4 107.0h0.7M399.1 102.4h0.7M399.5 104.0h0.7M411.5 103.3h0.7M415.9 109.8h0.7M399.3 110.4h0.7M411.1 109.3h0.7M403.6 105.3h0.7M402.6 105.2h0.7M399.4 106.4h0.7M406.5 110.7h0.7M403.7 100.6h0.7M402.4 111.3h0.7M402.3 99.3h0.7M399.6 106.8h0.7M406.9 110.1h0.7M402.2 102.3h0.7M398.8 108.9h0.7M398.7 94.8h0.7M403.0 100.1h0.7M399.2 101.9h0.7M403.2 104.2h0.7M403.3 111.8h0.7M411.3 108.6h0.7M406.6 109.0h0.7M399.9 113.8h0.7M398.8 95.3h0.7M401.4 110.4h0.7M401.7 111.9h0.7M400.6 99.8h0.7M399.6 96.8h0.7M401.1 104.9h0.7M399.1 107.3h0.7M402.7 105.5h0.7M408.6 106.1h0.7M405.1 102.7h0.7M401.5 100.7h0.7M409.6 110.5h0.7M409.0 102.8h0.7M405.5 107.9h0.7M411.9 109.5h0.7M405.0 110.4h0.7M404.0 101.0h0.7M404.5 104.4h0.7M399.1 102.4h0.7M408.8 112.8h0.7M403.1 96.2h0.7M401.8 112.0h0.7M410.3 106.0h0.7M419.9 98.5h0.7M414.7 109.3h0.7M408.0 101.1h0.7M399.6 108.7h0.7M411.7 102.5h0.7M417.7 116.9h0.7M425.7 98.8h0.7M417.9 110.6h0.7M411.3 104.0h0.7M421.0 106.0h0.7M425.1 113.4h0.7M417.5 115.3h0.7M435.9 116.6h0.7M409.0 105.4h0.7M417.8 107.2h0.7M408.4 109.1h0.7M420.4 101.3h0.7M412.9 115.0h0.7M415.7 120.1h0.7M416.4 105.6h0.7M413.5 117.9h0.7M418.9 121.3h0.7M425.0 118.8h0.7M411.9 112.4h0.7M410.7 103.0h0.7M422.5 123.3h0.7M418.2 106.5h0.7M403.3 106.3h0.7M432.1 118.2h0.7M419.5 117.3h0.7M407.2 100.7h0.7M427.2 103.0h0.7M421.9 106.3h0.7M419.0 112.8h0.7M415.1 101.5h0.7M412.2 113.1h0.7M417.8 99.3h0.7M409.3 117.1h0.7M423.2 103.2h0.7M411.0 118.4h0.7M418.5 111.2h0.7M423.5 117.1h0.7M420.4 109.2h0.7M416.8 105.9h0.7M423.8 115.1h0.7M417.3 108.8h0.7M425.7 119.8h0.7M416.8 124.7h0.7M415.4 110.5h0.7M419.4 110.5h0.7M407.4 115.3h0.7M414.8 114.0h0.7M412.3 111.1h0.7M418.5 115.1h0.7M410.7 108.4h0.7M425.9 116.7h0.7M413.1 110.0h0.7M409.8 141.2h0.7M399.6 131.8h0.7M401.8 128.5h0.7M415.8 124.0h0.7M404.2 127.1h0.7M408.1 134.4h0.7M401.2 124.1h0.7M402.7 112.5h0.7M408.2 126.8h0.7M402.6 129.7h0.7M410.8 128.8h0.7M403.5 119.3h0.7M401.5 129.7h0.7M405.8 128.5h0.7M412.5 127.8h0.7M410.7 124.2h0.7M412.3 123.3h0.7M405.9 123.6h0.7M401.8 115.6h0.7M404.8 124.5h0.7M408.0 121.1h0.7M413.8 137.2h0.7M405.9 133.8h0.7M399.4 125.6h0.7M401.8 120.6h0.7M405.8 136.4h0.7M406.6 119.6h0.7M407.8 110.5h0.7M405.1 121.1h0.7M398.6 128.6h0.7M403.5 136.3h0.7M400.0 123.1h0.7M427.1 128.0h0.7M418.0 137.8h0.7M423.1 132.3h0.7M414.2 139.3h0.7M407.3 130.2h0.7M424.7 129.4h0.7M411.3 123.7h0.7M429.0 132.2h0.7M411.8 127.7h0.7M408.6 129.8h0.7M415.8 134.0h0.7M429.8 127.8h0.7M399.4 109.2h0.7M421.4 98.6h0.7M431.6 102.0h0.7M427.6 104.3h0.7M431.7 105.0h0.7M419.6 106.0h0.7M431.2 111.1h0.7M436.5 96.6h0.7M470.8 107.6h0.7M462.8 109.1h0.7M470.0 111.3h0.7M466.9 112.9h0.7M461.2 101.9h0.7M471.9 99.8h0.7M471.7 107.8h0.7M468.7 110.3h0.7M466.9 98.1h0.7M469.0 110.6h0.7M463.6 108.5h0.7M471.4 109.7h0.7M477.6 101.4h0.7M468.4 114.7h0.7M465.4 113.6h0.7M463.1 103.0h0.7M466.9 97.3h0.7M466.2 107.8h0.7M464.8 107.6h0.7M466.8 101.8h0.7M468.3 100.1h0.7M471.2 104.7h0.7M462.0 113.5h0.7M462.0 100.4h0.7M461.5 109.7h0.7M461.0 102.9h0.7M466.7 106.9h0.7M463.8 106.4h0.7M470.7 117.6h0.7M461.5 119.9h0.7M463.3 114.6h0.7M461.0 113.6h0.7M468.5 114.1h0.7M471.1 109.9h0.7M474.0 100.1h0.7M468.3 116.3h0.7M462.9 118.0h0.7M478.5 109.8h0.7M472.5 102.3h0.7M466.4 104.5h0.7M461.0 111.0h0.7M460.9 107.8h0.7M464.1 117.6h0.7M464.9 107.2h0.7M463.2 108.3h0.7M470.0 104.1h0.7M467.1 109.9h0.7M465.6 114.2h0.7M465.5 115.4h0.7M464.4 118.0h0.7M463.2 107.8h0.7M461.7 108.2h0.7M470.6 98.5h0.7M469.6 112.8h0.7M462.9 111.7h0.7M465.8 114.5h0.7M472.3 108.8h0.7M464.6 106.9h0.7M473.0 114.4h0.7M460.8 109.0h0.7M460.9 112.4h0.7M466.1 97.3h0.7M462.5 105.5h0.7M464.3 107.7h0.7M464.3 104.5h0.7M463.1 111.3h0.7M469.3 104.3h0.7M470.0 111.7h0.7M461.2 115.5h0.7M466.5 100.3h0.7M466.3 108.9h0.7M461.1 96.3h0.7M465.2 116.0h0.7M468.3 103.2h0.7M472.1 93.4h0.7M465.6 103.5h0.7M465.9 112.8h0.7M469.8 110.7h0.7M462.3 108.1h0.7M461.9 103.8h0.7M463.1 104.9h0.7M463.9 107.3h0.7M464.2 102.5h0.7M467.4 114.8h0.7M460.7 102.6h0.7M466.2 107.1h0.7M462.8 102.9h0.7M460.9 104.8h0.7M467.6 112.4h0.7M465.4 111.9h0.7M476.6 116.8h0.7M473.6 106.3h0.7M466.9 103.7h0.7M471.8 105.2h0.7M465.1 116.5h0.7M465.2 106.4h0.7M470.2 102.0h0.7M465.9 115.5h0.7M468.4 109.8h0.7M461.8 103.1h0.7M462.4 108.1h0.7M461.5 110.9h0.7M471.1 105.1h0.7M471.7 97.3h0.7M465.0 109.8h0.7M463.0 115.5h0.7M466.2 112.5h0.7M462.1 113.0h0.7M464.1 110.8h0.7M469.7 109.0h0.7M473.1 119.5h0.7M460.8 109.9h0.7M470.4 108.0h0.7M474.0 103.2h0.7M469.8 102.3h0.7M473.8 103.0h0.7M468.7 112.0h0.7M468.2 98.0h0.7M462.2 108.8h0.7M471.5 108.3h0.7M462.7 105.5h0.7M465.9 117.1h0.7M461.4 109.1h0.7M470.4 116.6h0.7M462.9 106.7h0.7M461.5 106.9h0.7M460.9 115.3h0.7M461.5 101.5h0.7M472.3 106.8h0.7M466.1 102.6h0.7M464.8 115.0h0.7M463.0 107.3h0.7M464.5 102.9h0.7M467.3 107.6h0.7M464.1 100.6h0.7M472.6 104.5h0.7M470.0 105.6h0.7M474.4 116.6h0.7M466.5 112.7h0.7M461.5 109.7h0.7M461.0 100.2h0.7M473.7 107.9h0.7M467.1 122.9h0.7M460.8 104.8h0.7M471.5 96.9h0.7M463.9 108.1h0.7M469.3 97.7h0.7M469.1 96.7h0.7M462.2 109.2h0.7M467.5 97.9h0.7M464.5 108.9h0.7M465.3 109.7h0.7M475.0 108.3h0.7M474.4 105.0h0.7M460.7 99.0h0.7M467.0 121.8h0.7M477.8 107.4h0.7M474.4 113.7h0.7M469.7 99.0h0.7M468.8 102.0h0.7M469.2 107.6h0.7M465.2 104.9h0.7M461.7 113.3h0.7M471.2 109.4h0.7M460.9 106.5h0.7M470.3 114.5h0.7M461.7 105.2h0.7M467.1 109.9h0.7M466.9 95.3h0.7M468.1 108.2h0.7M460.7 109.7h0.7M468.3 106.5h0.7M471.3 104.7h0.7M466.7 108.2h0.7M466.6 113.7h0.7M468.4 106.8h0.7M468.9 100.0h0.7M476.8 109.3h0.7M470.2 100.1h0.7M461.9 114.0h0.7M475.5 97.3h0.7M472.9 104.4h0.7M468.3 108.1h0.7M464.8 111.3h0.7M477.5 102.6h0.7M470.6 116.1h0.7M465.9 104.5h0.7M470.5 101.2h0.7M465.2 111.0h0.7M461.0 106.9h0.7M461.8 106.0h0.7M467.0 111.1h0.7M470.0 111.2h0.7M465.5 114.6h0.7M462.0 110.7h0.7M477.5 113.3h0.7M464.6 101.7h0.7M472.2 105.5h0.7M465.0 103.3h0.7M464.0 101.3h0.7M463.7 107.2h0.7M460.9 105.0h0.7M477.0 104.4h0.7M470.9 104.6h0.7M462.2 101.1h0.7M473.1 105.4h0.7M469.3 107.7h0.7M460.9 103.7h0.7M463.8 108.5h0.7M466.7 109.1h0.7M462.2 99.2h0.7M462.7 109.6h0.7M463.8 103.0h0.7M462.1 106.0h0.7M471.0 105.7h0.7M460.9 93.6h0.7M470.8 100.2h0.7M461.6 105.4h0.7M473.3 113.6h0.7M470.2 107.4h0.7M471.0 106.6h0.7M469.9 105.3h0.7M468.6 112.0h0.7M467.6 111.8h0.7M461.5 100.1h0.7M464.2 102.7h0.7M461.3 116.8h0.7M465.3 101.9h0.7M468.4 95.5h0.7M466.6 106.3h0.7M463.1 105.9h0.7M472.7 118.4h0.7M464.5 110.8h0.7M467.7 110.6h0.7M460.8 105.3h0.7M461.8 111.7h0.7M469.5 104.1h0.7M462.0 110.3h0.7M471.1 112.8h0.7M466.4 112.2h0.7M469.6 109.6h0.7M463.1 98.2h0.7M469.2 105.4h0.7M461.0 102.1h0.7M463.4 106.2h0.7M467.9 103.1h0.7M468.9 106.5h0.7M464.1 101.8h0.7M476.8 105.3h0.7M465.3 105.5h0.7M470.1 101.4h0.7M466.7 106.7h0.7M462.2 110.4h0.7M465.8 99.7h0.7M477.5 111.7h0.7M475.5 108.7h0.7M465.1 115.0h0.7M470.2 107.6h0.7M467.5 105.2h0.7M469.9 106.8h0.7M463.8 111.7h0.7M472.4 102.0h0.7M464.0 115.6h0.7M464.6 100.0h0.7M463.8 101.9h0.7M477.2 101.1h0.7M462.3 99.9h0.7M468.8 107.0h0.7M462.7 105.6h0.7M463.2 116.4h0.7M460.6 119.0h0.7M467.8 115.7h0.7M461.5 116.7h0.7M464.3 110.1h0.7M464.2 135.2h0.7M461.1 111.0h0.7M468.9 130.5h0.7M471.0 135.0h0.7M469.2 134.5h0.7M463.7 124.6h0.7M461.2 133.1h0.7M467.8 123.9h0.7M470.2 123.1h0.7M463.8 124.8h0.7M461.8 141.2h0.7M479.6 133.4h0.7M462.5 126.2h0.7M470.3 137.0h0.7M464.4 125.5h0.7M466.2 126.9h0.7M468.4 123.0h0.7M461.0 124.5h0.7M463.1 128.1h0.7M464.1 129.5h0.7M466.4 108.0h0.7M465.0 138.8h0.7M463.9 125.4h0.7M464.9 129.3h0.7M467.2 132.8h0.7M462.1 127.6h0.7M465.7 123.3h0.7M464.1 127.5h0.7M467.1 125.5h0.7M468.3 116.7h0.7M469.3 122.9h0.7M463.8 128.5h0.7M462.4 121.6h0.7M468.6 131.4h0.7M470.2 132.8h0.7M461.5 105.5h0.7M468.5 129.0h0.7M465.3 110.6h0.7M463.4 125.7h0.7M469.1 117.8h0.7M464.4 119.5h0.7M467.9 102.8h0.7M465.3 112.6h0.7M460.7 126.9h0.7M465.3 138.3h0.7M467.6 125.8h0.7M461.9 117.0h0.7M462.3 124.5h0.7M467.2 112.7h0.7M464.8 135.1h0.7M462.6 136.7h0.7M469.1 131.7h0.7M461.2 118.2h0.7M466.1 133.7h0.7M467.7 117.8h0.7M468.3 121.5h0.7M473.9 120.7h0.7M461.9 123.8h0.7M467.2 127.4h0.7M465.5 128.7h0.7M460.9 115.6h0.7M472.6 122.4h0.7M461.2 133.7h0.7M468.7 140.9h0.7M463.2 129.8h0.7M463.8 131.6h0.7M463.3 132.2h0.7M466.9 119.1h0.7M464.3 106.6h0.7M466.7 124.5h0.7M464.6 126.0h0.7M460.9 125.5h0.7M466.0 124.8h0.7M467.3 121.5h0.7M468.7 108.3h0.7M483.1 116.7h0.7M499.0 105.0h0.7M491.9 95.7h0.7M486.6 112.1h0.7M484.3 111.4h0.7M484.9 99.3h0.7M499.5 113.8h0.7M483.4 114.2h0.7M490.6 106.9h0.7M498.6 104.0h0.7M486.9 109.5h0.7M490.7 105.4h0.7M490.5 109.5h0.7M487.9 106.2h0.7M484.9 122.1h0.7M487.9 115.4h0.7M497.2 110.9h0.7M475.3 101.7h0.7M472.6 114.3h0.7M481.7 99.0h0.7M490.6 103.4h0.7M499.1 103.7h0.7M475.5 110.1h0.7M486.5 100.1h0.7M492.4 105.2h0.7M497.9 105.3h0.7M490.8 110.3h0.7M473.8 108.1h0.7M489.8 120.6h0.7M490.9 101.1h0.7M488.8 110.0h0.7M491.2 98.8h0.7M491.1 95.9h0.7M483.6 107.1h0.7M478.1 116.6h0.7M488.3 107.4h0.7M499.7 107.0h0.7M489.0 116.2h0.7M497.9 112.3h0.7M477.0 107.4h0.7M494.0 120.4h0.7M502.9 108.8h0.7M474.7 105.7h0.7M481.7 112.9h0.7M477.0 118.9h0.7M471.6 110.6h0.7M502.1 113.8h0.7M507.6 105.1h0.7M478.9 117.2h0.7M479.9 105.3h0.7M479.9 97.2h0.7M475.1 119.2h0.7M479.1 103.1h0.7M499.3 111.5h0.7M475.5 97.4h0.7M486.7 110.6h0.7M495.9 101.5h0.7M485.5 99.4h0.7M465.9 103.6h0.7M481.1 118.6h0.7M492.3 110.5h0.7M477.3 112.1h0.7M488.8 107.7h0.7M479.5 114.1h0.7M482.8 114.3h0.7M491.7 110.1h0.7M485.4 108.7h0.7M481.3 107.8h0.7M490.6 133.6h0.7M497.8 132.5h0.7M474.1 132.7h0.7M491.6 134.2h0.7M468.1 131.1h0.7M484.5 125.9h0.7M480.7 121.3h0.7M497.7 128.2h0.7M483.9 142.4h0.7M481.3 134.4h0.7M488.0 138.1h0.7M474.1 133.4h0.7" stroke="#000" stroke-opacity="0.33" stroke-width="0.7" fill="none"/>
</g>
<rect x="336.6" y="37.6" width="52.4" height="51.9" fill="none" stroke="#aaa" stroke-width="0.9"/>
<line x1="350.9" y1="37.6" x2="350.9" y2="89.5" stroke="#555" stroke-width="1.0"/>
<line x1="336.6" y1="65.4" x2="389" y2="65.4" stroke="#555" stroke-width="1.0"/>
<line x1="335.1" y1="41.6" x2="336.6" y2="41.6" stroke="#888" stroke-width="0.6"/>
<line x1="335.1" y1="45.6" x2="336.6" y2="45.6" stroke="#888" stroke-width="0.6"/>
<line x1="335.1" y1="49.6" x2="336.6" y2="49.6" stroke="#888" stroke-width="0.6"/>
<line x1="335.1" y1="53.6" x2="336.6" y2="53.6" stroke="#888" stroke-width="0.6"/>
<line x1="335.1" y1="57.6" x2="336.6" y2="57.6" stroke="#888" stroke-width="0.6"/>
<line x1="335.1" y1="61.6" x2="336.6" y2="61.6" stroke="#888" stroke-width="0.6"/>
<line x1="335.1" y1="65.6" x2="336.6" y2="65.6" stroke="#888" stroke-width="0.6"/>
<line x1="335.1" y1="69.6" x2="336.6" y2="69.6" stroke="#888" stroke-width="0.6"/>
<line x1="335.1" y1="73.6" x2="336.6" y2="73.6" stroke="#888" stroke-width="0.6"/>
<line x1="335.1" y1="77.6" x2="336.6" y2="77.6" stroke="#888" stroke-width="0.6"/>
<line x1="335.1" y1="81.6" x2="336.6" y2="81.6" stroke="#888" stroke-width="0.6"/>
<line x1="335.1" y1="85.6" x2="336.6" y2="85.6" stroke="#888" stroke-width="0.6"/>
<line x1="339.1" y1="89.9" x2="339.1" y2="91.5" stroke="#666" stroke-width="0.7"/>
<line x1="340.4" y1="89.9" x2="340.4" y2="91.5" stroke="#666" stroke-width="0.7"/>
<line x1="341.7" y1="89.9" x2="341.7" y2="91.5" stroke="#666" stroke-width="0.7"/>
<line x1="343" y1="89.9" x2="343" y2="91.5" stroke="#666" stroke-width="0.7"/>
<line x1="344.3" y1="89.9" x2="344.3" y2="91.5" stroke="#666" stroke-width="0.7"/>
<line x1="345.6" y1="89.9" x2="345.6" y2="91.5" stroke="#666" stroke-width="0.7"/>
<line x1="346.9" y1="89.9" x2="346.9" y2="91.5" stroke="#666" stroke-width="0.7"/>
<line x1="348.2" y1="89.9" x2="348.2" y2="91.5" stroke="#666" stroke-width="0.7"/>
<line x1="349.5" y1="89.9" x2="349.5" y2="91.5" stroke="#666" stroke-width="0.7"/>
<line x1="354.6" y1="89.9" x2="354.6" y2="91.5" stroke="#888" stroke-width="0.7"/>
<line x1="358.6" y1="89.9" x2="358.6" y2="91.5" stroke="#888" stroke-width="0.7"/>
<line x1="362.6" y1="89.9" x2="362.6" y2="91.5" stroke="#888" stroke-width="0.7"/>
<line x1="366.6" y1="89.9" x2="366.6" y2="91.5" stroke="#888" stroke-width="0.7"/>
<line x1="370.6" y1="89.9" x2="370.6" y2="91.5" stroke="#888" stroke-width="0.7"/>
<line x1="374.6" y1="89.9" x2="374.6" y2="91.5" stroke="#888" stroke-width="0.7"/>
<line x1="378.6" y1="89.9" x2="378.6" y2="91.5" stroke="#888" stroke-width="0.7"/>
<line x1="382.6" y1="89.9" x2="382.6" y2="91.5" stroke="#888" stroke-width="0.7"/>
<line x1="386.6" y1="89.9" x2="386.6" y2="91.5" stroke="#888" stroke-width="0.7"/>
<line x1="350.9" y1="89.5" x2="350.9" y2="91.1" stroke="#444" stroke-width="1.0"/>
<rect x="335.3" y="77.2" width="1.8" height="2.2" fill="#111"/>
<text x="338.4" y="46.7" font-size="8.5" text-anchor="start" fill="#111" textLength="14.98" lengthAdjust="spacingAndGlyphs" stroke="#111" stroke-width="0.2">6.56</text>
<text x="386" y="46.7" font-size="8.5" text-anchor="end" fill="#111" textLength="14.98" lengthAdjust="spacingAndGlyphs" stroke="#111" stroke-width="0.2">3.77</text>
<text x="338.4" y="87.7" font-size="8.5" text-anchor="start" fill="#111" textLength="14.98" lengthAdjust="spacingAndGlyphs" stroke="#111" stroke-width="0.2">85.9</text>
<text x="386" y="87.7" font-size="8.5" text-anchor="end" fill="#111" textLength="14.98" lengthAdjust="spacingAndGlyphs" stroke="#111" stroke-width="0.2">3.75</text>
<rect x="398" y="37.6" width="52.5" height="51.9" fill="none" stroke="#aaa" stroke-width="0.9"/>
<line x1="412.6" y1="37.6" x2="412.6" y2="89.5" stroke="#555" stroke-width="1.0"/>
<line x1="398" y1="65.4" x2="450.5" y2="65.4" stroke="#555" stroke-width="1.0"/>
<line x1="396.5" y1="41.6" x2="398" y2="41.6" stroke="#888" stroke-width="0.6"/>
<line x1="396.5" y1="45.6" x2="398" y2="45.6" stroke="#888" stroke-width="0.6"/>
<line x1="396.5" y1="49.6" x2="398" y2="49.6" stroke="#888" stroke-width="0.6"/>
<line x1="396.5" y1="53.6" x2="398" y2="53.6" stroke="#888" stroke-width="0.6"/>
<line x1="396.5" y1="57.6" x2="398" y2="57.6" stroke="#888" stroke-width="0.6"/>
<line x1="396.5" y1="61.6" x2="398" y2="61.6" stroke="#888" stroke-width="0.6"/>
<line x1="396.5" y1="65.6" x2="398" y2="65.6" stroke="#888" stroke-width="0.6"/>
<line x1="396.5" y1="69.6" x2="398" y2="69.6" stroke="#888" stroke-width="0.6"/>
<line x1="396.5" y1="73.6" x2="398" y2="73.6" stroke="#888" stroke-width="0.6"/>
<line x1="396.5" y1="77.6" x2="398" y2="77.6" stroke="#888" stroke-width="0.6"/>
<line x1="396.5" y1="81.6" x2="398" y2="81.6" stroke="#888" stroke-width="0.6"/>
<line x1="396.5" y1="85.6" x2="398" y2="85.6" stroke="#888" stroke-width="0.6"/>
<line x1="400.5" y1="89.9" x2="400.5" y2="91.5" stroke="#666" stroke-width="0.7"/>
<line x1="401.8" y1="89.9" x2="401.8" y2="91.5" stroke="#666" stroke-width="0.7"/>
<line x1="403.1" y1="89.9" x2="403.1" y2="91.5" stroke="#666" stroke-width="0.7"/>
<line x1="404.4" y1="89.9" x2="404.4" y2="91.5" stroke="#666" stroke-width="0.7"/>
<line x1="405.7" y1="89.9" x2="405.7" y2="91.5" stroke="#666" stroke-width="0.7"/>
<line x1="407" y1="89.9" x2="407" y2="91.5" stroke="#666" stroke-width="0.7"/>
<line x1="408.3" y1="89.9" x2="408.3" y2="91.5" stroke="#666" stroke-width="0.7"/>
<line x1="409.6" y1="89.9" x2="409.6" y2="91.5" stroke="#666" stroke-width="0.7"/>
<line x1="410.9" y1="89.9" x2="410.9" y2="91.5" stroke="#666" stroke-width="0.7"/>
<line x1="416" y1="89.9" x2="416" y2="91.5" stroke="#888" stroke-width="0.7"/>
<line x1="420" y1="89.9" x2="420" y2="91.5" stroke="#888" stroke-width="0.7"/>
<line x1="424" y1="89.9" x2="424" y2="91.5" stroke="#888" stroke-width="0.7"/>
<line x1="428" y1="89.9" x2="428" y2="91.5" stroke="#888" stroke-width="0.7"/>
<line x1="432" y1="89.9" x2="432" y2="91.5" stroke="#888" stroke-width="0.7"/>
<line x1="436" y1="89.9" x2="436" y2="91.5" stroke="#888" stroke-width="0.7"/>
<line x1="440" y1="89.9" x2="440" y2="91.5" stroke="#888" stroke-width="0.7"/>
<line x1="444" y1="89.9" x2="444" y2="91.5" stroke="#888" stroke-width="0.7"/>
<line x1="448" y1="89.9" x2="448" y2="91.5" stroke="#888" stroke-width="0.7"/>
<line x1="412.6" y1="89.5" x2="412.6" y2="91.1" stroke="#444" stroke-width="1.0"/>
<rect x="396.7" y="77.2" width="1.8" height="2.2" fill="#111"/>
<text x="399.8" y="46.7" font-size="8.5" text-anchor="start" fill="#111" textLength="14.98" lengthAdjust="spacingAndGlyphs" stroke="#111" stroke-width="0.2">57.7</text>
<text x="447.5" y="46.7" font-size="8.5" text-anchor="end" fill="#111" textLength="14.98" lengthAdjust="spacingAndGlyphs" stroke="#111" stroke-width="0.2">22.2</text>
<text x="399.8" y="87.7" font-size="8.5" text-anchor="start" fill="#111" textLength="14.98" lengthAdjust="spacingAndGlyphs" stroke="#111" stroke-width="0.2">14.9</text>
<text x="447.5" y="87.7" font-size="8.5" text-anchor="end" fill="#111" textLength="14.98" lengthAdjust="spacingAndGlyphs" stroke="#111" stroke-width="0.2">5.17</text>
<rect x="460" y="37.6" width="52" height="51.9" fill="none" stroke="#aaa" stroke-width="0.9"/>
<line x1="474.2" y1="37.6" x2="474.2" y2="89.5" stroke="#555" stroke-width="1.0"/>
<line x1="460" y1="65.4" x2="512" y2="65.4" stroke="#555" stroke-width="1.0"/>
<line x1="458.5" y1="41.6" x2="460" y2="41.6" stroke="#888" stroke-width="0.6"/>
<line x1="458.5" y1="45.6" x2="460" y2="45.6" stroke="#888" stroke-width="0.6"/>
<line x1="458.5" y1="49.6" x2="460" y2="49.6" stroke="#888" stroke-width="0.6"/>
<line x1="458.5" y1="53.6" x2="460" y2="53.6" stroke="#888" stroke-width="0.6"/>
<line x1="458.5" y1="57.6" x2="460" y2="57.6" stroke="#888" stroke-width="0.6"/>
<line x1="458.5" y1="61.6" x2="460" y2="61.6" stroke="#888" stroke-width="0.6"/>
<line x1="458.5" y1="65.6" x2="460" y2="65.6" stroke="#888" stroke-width="0.6"/>
<line x1="458.5" y1="69.6" x2="460" y2="69.6" stroke="#888" stroke-width="0.6"/>
<line x1="458.5" y1="73.6" x2="460" y2="73.6" stroke="#888" stroke-width="0.6"/>
<line x1="458.5" y1="77.6" x2="460" y2="77.6" stroke="#888" stroke-width="0.6"/>
<line x1="458.5" y1="81.6" x2="460" y2="81.6" stroke="#888" stroke-width="0.6"/>
<line x1="458.5" y1="85.6" x2="460" y2="85.6" stroke="#888" stroke-width="0.6"/>
<line x1="462.5" y1="89.9" x2="462.5" y2="91.5" stroke="#666" stroke-width="0.7"/>
<line x1="463.8" y1="89.9" x2="463.8" y2="91.5" stroke="#666" stroke-width="0.7"/>
<line x1="465.1" y1="89.9" x2="465.1" y2="91.5" stroke="#666" stroke-width="0.7"/>
<line x1="466.4" y1="89.9" x2="466.4" y2="91.5" stroke="#666" stroke-width="0.7"/>
<line x1="467.7" y1="89.9" x2="467.7" y2="91.5" stroke="#666" stroke-width="0.7"/>
<line x1="469" y1="89.9" x2="469" y2="91.5" stroke="#666" stroke-width="0.7"/>
<line x1="470.3" y1="89.9" x2="470.3" y2="91.5" stroke="#666" stroke-width="0.7"/>
<line x1="471.6" y1="89.9" x2="471.6" y2="91.5" stroke="#666" stroke-width="0.7"/>
<line x1="472.9" y1="89.9" x2="472.9" y2="91.5" stroke="#666" stroke-width="0.7"/>
<line x1="478" y1="89.9" x2="478" y2="91.5" stroke="#888" stroke-width="0.7"/>
<line x1="482" y1="89.9" x2="482" y2="91.5" stroke="#888" stroke-width="0.7"/>
<line x1="486" y1="89.9" x2="486" y2="91.5" stroke="#888" stroke-width="0.7"/>
<line x1="490" y1="89.9" x2="490" y2="91.5" stroke="#888" stroke-width="0.7"/>
<line x1="494" y1="89.9" x2="494" y2="91.5" stroke="#888" stroke-width="0.7"/>
<line x1="498" y1="89.9" x2="498" y2="91.5" stroke="#888" stroke-width="0.7"/>
<line x1="502" y1="89.9" x2="502" y2="91.5" stroke="#888" stroke-width="0.7"/>
<line x1="506" y1="89.9" x2="506" y2="91.5" stroke="#888" stroke-width="0.7"/>
<line x1="510" y1="89.9" x2="510" y2="91.5" stroke="#888" stroke-width="0.7"/>
<line x1="474.2" y1="89.5" x2="474.2" y2="91.1" stroke="#444" stroke-width="1.0"/>
<rect x="458.7" y="77.2" width="1.8" height="2.2" fill="#111"/>
<text x="461.8" y="46.7" font-size="8.5" text-anchor="start" fill="#111" textLength="14.98" lengthAdjust="spacingAndGlyphs" stroke="#111" stroke-width="0.2">59.2</text>
<text x="509" y="46.7" font-size="8.5" text-anchor="end" fill="#111" textLength="14.98" lengthAdjust="spacingAndGlyphs" stroke="#111" stroke-width="0.2">26.7</text>
<text x="461.8" y="87.7" font-size="8.5" text-anchor="start" fill="#111" textLength="14.98" lengthAdjust="spacingAndGlyphs" stroke="#111" stroke-width="0.2">10.4</text>
<text x="509" y="87.7" font-size="8.5" text-anchor="end" fill="#111" textLength="14.98" lengthAdjust="spacingAndGlyphs" stroke="#111" stroke-width="0.2">3.67</text>
<rect x="336.6" y="92.2" width="52.4" height="52" fill="none" stroke="#aaa" stroke-width="0.9"/>
<line x1="350.9" y1="92.2" x2="350.9" y2="144.2" stroke="#555" stroke-width="1.0"/>
<line x1="336.6" y1="120.4" x2="389" y2="120.4" stroke="#555" stroke-width="1.0"/>
<line x1="335.1" y1="96.2" x2="336.6" y2="96.2" stroke="#888" stroke-width="0.6"/>
<line x1="335.1" y1="100.2" x2="336.6" y2="100.2" stroke="#888" stroke-width="0.6"/>
<line x1="335.1" y1="104.2" x2="336.6" y2="104.2" stroke="#888" stroke-width="0.6"/>
<line x1="335.1" y1="108.2" x2="336.6" y2="108.2" stroke="#888" stroke-width="0.6"/>
<line x1="335.1" y1="112.2" x2="336.6" y2="112.2" stroke="#888" stroke-width="0.6"/>
<line x1="335.1" y1="116.2" x2="336.6" y2="116.2" stroke="#888" stroke-width="0.6"/>
<line x1="335.1" y1="120.2" x2="336.6" y2="120.2" stroke="#888" stroke-width="0.6"/>
<line x1="335.1" y1="124.2" x2="336.6" y2="124.2" stroke="#888" stroke-width="0.6"/>
<line x1="335.1" y1="128.2" x2="336.6" y2="128.2" stroke="#888" stroke-width="0.6"/>
<line x1="335.1" y1="132.2" x2="336.6" y2="132.2" stroke="#888" stroke-width="0.6"/>
<line x1="335.1" y1="136.2" x2="336.6" y2="136.2" stroke="#888" stroke-width="0.6"/>
<line x1="335.1" y1="140.2" x2="336.6" y2="140.2" stroke="#888" stroke-width="0.6"/>
<line x1="339.1" y1="144.6" x2="339.1" y2="146.2" stroke="#666" stroke-width="0.7"/>
<line x1="340.4" y1="144.6" x2="340.4" y2="146.2" stroke="#666" stroke-width="0.7"/>
<line x1="341.7" y1="144.6" x2="341.7" y2="146.2" stroke="#666" stroke-width="0.7"/>
<line x1="343" y1="144.6" x2="343" y2="146.2" stroke="#666" stroke-width="0.7"/>
<line x1="344.3" y1="144.6" x2="344.3" y2="146.2" stroke="#666" stroke-width="0.7"/>
<line x1="345.6" y1="144.6" x2="345.6" y2="146.2" stroke="#666" stroke-width="0.7"/>
<line x1="346.9" y1="144.6" x2="346.9" y2="146.2" stroke="#666" stroke-width="0.7"/>
<line x1="348.2" y1="144.6" x2="348.2" y2="146.2" stroke="#666" stroke-width="0.7"/>
<line x1="349.5" y1="144.6" x2="349.5" y2="146.2" stroke="#666" stroke-width="0.7"/>
<line x1="354.6" y1="144.6" x2="354.6" y2="146.2" stroke="#888" stroke-width="0.7"/>
<line x1="358.6" y1="144.6" x2="358.6" y2="146.2" stroke="#888" stroke-width="0.7"/>
<line x1="362.6" y1="144.6" x2="362.6" y2="146.2" stroke="#888" stroke-width="0.7"/>
<line x1="366.6" y1="144.6" x2="366.6" y2="146.2" stroke="#888" stroke-width="0.7"/>
<line x1="370.6" y1="144.6" x2="370.6" y2="146.2" stroke="#888" stroke-width="0.7"/>
<line x1="374.6" y1="144.6" x2="374.6" y2="146.2" stroke="#888" stroke-width="0.7"/>
<line x1="378.6" y1="144.6" x2="378.6" y2="146.2" stroke="#888" stroke-width="0.7"/>
<line x1="382.6" y1="144.6" x2="382.6" y2="146.2" stroke="#888" stroke-width="0.7"/>
<line x1="386.6" y1="144.6" x2="386.6" y2="146.2" stroke="#888" stroke-width="0.7"/>
<line x1="350.9" y1="144.2" x2="350.9" y2="145.8" stroke="#444" stroke-width="1.0"/>
<rect x="335.3" y="131.8" width="1.8" height="2.2" fill="#111"/>
<text x="338.4" y="101.3" font-size="8.5" text-anchor="start" fill="#111" textLength="14.98" lengthAdjust="spacingAndGlyphs" stroke="#111" stroke-width="0.2">4.68</text>
<text x="386" y="101.3" font-size="8.5" text-anchor="end" fill="#111" textLength="14.98" lengthAdjust="spacingAndGlyphs" stroke="#111" stroke-width="0.2">1.82</text>
<text x="338.4" y="142.4" font-size="8.5" text-anchor="start" fill="#111" textLength="14.98" lengthAdjust="spacingAndGlyphs" stroke="#111" stroke-width="0.2">84.0</text>
<text x="386" y="142.4" font-size="8.5" text-anchor="end" fill="#111" textLength="14.98" lengthAdjust="spacingAndGlyphs" stroke="#111" stroke-width="0.2">9.55</text>
<rect x="398" y="92.2" width="52.5" height="52" fill="none" stroke="#aaa" stroke-width="0.9"/>
<line x1="412.6" y1="92.2" x2="412.6" y2="144.2" stroke="#555" stroke-width="1.0"/>
<line x1="398" y1="120.4" x2="450.5" y2="120.4" stroke="#555" stroke-width="1.0"/>
<line x1="396.5" y1="96.2" x2="398" y2="96.2" stroke="#888" stroke-width="0.6"/>
<line x1="396.5" y1="100.2" x2="398" y2="100.2" stroke="#888" stroke-width="0.6"/>
<line x1="396.5" y1="104.2" x2="398" y2="104.2" stroke="#888" stroke-width="0.6"/>
<line x1="396.5" y1="108.2" x2="398" y2="108.2" stroke="#888" stroke-width="0.6"/>
<line x1="396.5" y1="112.2" x2="398" y2="112.2" stroke="#888" stroke-width="0.6"/>
<line x1="396.5" y1="116.2" x2="398" y2="116.2" stroke="#888" stroke-width="0.6"/>
<line x1="396.5" y1="120.2" x2="398" y2="120.2" stroke="#888" stroke-width="0.6"/>
<line x1="396.5" y1="124.2" x2="398" y2="124.2" stroke="#888" stroke-width="0.6"/>
<line x1="396.5" y1="128.2" x2="398" y2="128.2" stroke="#888" stroke-width="0.6"/>
<line x1="396.5" y1="132.2" x2="398" y2="132.2" stroke="#888" stroke-width="0.6"/>
<line x1="396.5" y1="136.2" x2="398" y2="136.2" stroke="#888" stroke-width="0.6"/>
<line x1="396.5" y1="140.2" x2="398" y2="140.2" stroke="#888" stroke-width="0.6"/>
<line x1="400.5" y1="144.6" x2="400.5" y2="146.2" stroke="#666" stroke-width="0.7"/>
<line x1="401.8" y1="144.6" x2="401.8" y2="146.2" stroke="#666" stroke-width="0.7"/>
<line x1="403.1" y1="144.6" x2="403.1" y2="146.2" stroke="#666" stroke-width="0.7"/>
<line x1="404.4" y1="144.6" x2="404.4" y2="146.2" stroke="#666" stroke-width="0.7"/>
<line x1="405.7" y1="144.6" x2="405.7" y2="146.2" stroke="#666" stroke-width="0.7"/>
<line x1="407" y1="144.6" x2="407" y2="146.2" stroke="#666" stroke-width="0.7"/>
<line x1="408.3" y1="144.6" x2="408.3" y2="146.2" stroke="#666" stroke-width="0.7"/>
<line x1="409.6" y1="144.6" x2="409.6" y2="146.2" stroke="#666" stroke-width="0.7"/>
<line x1="410.9" y1="144.6" x2="410.9" y2="146.2" stroke="#666" stroke-width="0.7"/>
<line x1="416" y1="144.6" x2="416" y2="146.2" stroke="#888" stroke-width="0.7"/>
<line x1="420" y1="144.6" x2="420" y2="146.2" stroke="#888" stroke-width="0.7"/>
<line x1="424" y1="144.6" x2="424" y2="146.2" stroke="#888" stroke-width="0.7"/>
<line x1="428" y1="144.6" x2="428" y2="146.2" stroke="#888" stroke-width="0.7"/>
<line x1="432" y1="144.6" x2="432" y2="146.2" stroke="#888" stroke-width="0.7"/>
<line x1="436" y1="144.6" x2="436" y2="146.2" stroke="#888" stroke-width="0.7"/>
<line x1="440" y1="144.6" x2="440" y2="146.2" stroke="#888" stroke-width="0.7"/>
<line x1="444" y1="144.6" x2="444" y2="146.2" stroke="#888" stroke-width="0.7"/>
<line x1="448" y1="144.6" x2="448" y2="146.2" stroke="#888" stroke-width="0.7"/>
<line x1="412.6" y1="144.2" x2="412.6" y2="145.8" stroke="#444" stroke-width="1.0"/>
<rect x="396.7" y="131.8" width="1.8" height="2.2" fill="#111"/>
<text x="399.8" y="101.3" font-size="8.5" text-anchor="start" fill="#111" textLength="14.98" lengthAdjust="spacingAndGlyphs" stroke="#111" stroke-width="0.2">67.2</text>
<text x="447.5" y="101.3" font-size="8.5" text-anchor="end" fill="#111" textLength="14.98" lengthAdjust="spacingAndGlyphs" stroke="#111" stroke-width="0.2">12.7</text>
<text x="399.8" y="142.4" font-size="8.5" text-anchor="start" fill="#111" textLength="14.98" lengthAdjust="spacingAndGlyphs" stroke="#111" stroke-width="0.2">16.3</text>
<text x="447.5" y="142.4" font-size="8.5" text-anchor="end" fill="#111" textLength="14.98" lengthAdjust="spacingAndGlyphs" stroke="#111" stroke-width="0.2">3.77</text>
<rect x="460" y="92.2" width="52" height="52" fill="none" stroke="#aaa" stroke-width="0.9"/>
<line x1="474.2" y1="92.2" x2="474.2" y2="144.2" stroke="#555" stroke-width="1.0"/>
<line x1="460" y1="120.4" x2="512" y2="120.4" stroke="#555" stroke-width="1.0"/>
<line x1="458.5" y1="96.2" x2="460" y2="96.2" stroke="#888" stroke-width="0.6"/>
<line x1="458.5" y1="100.2" x2="460" y2="100.2" stroke="#888" stroke-width="0.6"/>
<line x1="458.5" y1="104.2" x2="460" y2="104.2" stroke="#888" stroke-width="0.6"/>
<line x1="458.5" y1="108.2" x2="460" y2="108.2" stroke="#888" stroke-width="0.6"/>
<line x1="458.5" y1="112.2" x2="460" y2="112.2" stroke="#888" stroke-width="0.6"/>
<line x1="458.5" y1="116.2" x2="460" y2="116.2" stroke="#888" stroke-width="0.6"/>
<line x1="458.5" y1="120.2" x2="460" y2="120.2" stroke="#888" stroke-width="0.6"/>
<line x1="458.5" y1="124.2" x2="460" y2="124.2" stroke="#888" stroke-width="0.6"/>
<line x1="458.5" y1="128.2" x2="460" y2="128.2" stroke="#888" stroke-width="0.6"/>
<line x1="458.5" y1="132.2" x2="460" y2="132.2" stroke="#888" stroke-width="0.6"/>
<line x1="458.5" y1="136.2" x2="460" y2="136.2" stroke="#888" stroke-width="0.6"/>
<line x1="458.5" y1="140.2" x2="460" y2="140.2" stroke="#888" stroke-width="0.6"/>
<line x1="462.5" y1="144.6" x2="462.5" y2="146.2" stroke="#666" stroke-width="0.7"/>
<line x1="463.8" y1="144.6" x2="463.8" y2="146.2" stroke="#666" stroke-width="0.7"/>
<line x1="465.1" y1="144.6" x2="465.1" y2="146.2" stroke="#666" stroke-width="0.7"/>
<line x1="466.4" y1="144.6" x2="466.4" y2="146.2" stroke="#666" stroke-width="0.7"/>
<line x1="467.7" y1="144.6" x2="467.7" y2="146.2" stroke="#666" stroke-width="0.7"/>
<line x1="469" y1="144.6" x2="469" y2="146.2" stroke="#666" stroke-width="0.7"/>
<line x1="470.3" y1="144.6" x2="470.3" y2="146.2" stroke="#666" stroke-width="0.7"/>
<line x1="471.6" y1="144.6" x2="471.6" y2="146.2" stroke="#666" stroke-width="0.7"/>
<line x1="472.9" y1="144.6" x2="472.9" y2="146.2" stroke="#666" stroke-width="0.7"/>
<line x1="478" y1="144.6" x2="478" y2="146.2" stroke="#888" stroke-width="0.7"/>
<line x1="482" y1="144.6" x2="482" y2="146.2" stroke="#888" stroke-width="0.7"/>
<line x1="486" y1="144.6" x2="486" y2="146.2" stroke="#888" stroke-width="0.7"/>
<line x1="490" y1="144.6" x2="490" y2="146.2" stroke="#888" stroke-width="0.7"/>
<line x1="494" y1="144.6" x2="494" y2="146.2" stroke="#888" stroke-width="0.7"/>
<line x1="498" y1="144.6" x2="498" y2="146.2" stroke="#888" stroke-width="0.7"/>
<line x1="502" y1="144.6" x2="502" y2="146.2" stroke="#888" stroke-width="0.7"/>
<line x1="506" y1="144.6" x2="506" y2="146.2" stroke="#888" stroke-width="0.7"/>
<line x1="510" y1="144.6" x2="510" y2="146.2" stroke="#888" stroke-width="0.7"/>
<line x1="474.2" y1="144.2" x2="474.2" y2="145.8" stroke="#444" stroke-width="1.0"/>
<rect x="458.7" y="131.8" width="1.8" height="2.2" fill="#111"/>
<text x="461.8" y="101.3" font-size="8.5" text-anchor="start" fill="#111" textLength="14.98" lengthAdjust="spacingAndGlyphs" stroke="#111" stroke-width="0.2">70.2</text>
<text x="509" y="101.3" font-size="8.5" text-anchor="end" fill="#111" textLength="14.98" lengthAdjust="spacingAndGlyphs" stroke="#111" stroke-width="0.2">11.1</text>
<text x="461.8" y="142.4" font-size="8.5" text-anchor="start" fill="#111" textLength="14.98" lengthAdjust="spacingAndGlyphs" stroke="#111" stroke-width="0.2">17.2</text>
<text x="509" y="142.4" font-size="8.5" text-anchor="end" fill="#111" textLength="14.98" lengthAdjust="spacingAndGlyphs" stroke="#111" stroke-width="0.2">1.46</text>
<line x1="326.3" y1="154.2" x2="326.3" y2="85" stroke="#111" stroke-width="1.1"/>
<path d="M326.3 81 L324.2 86.5 L328.4 86.5 Z" fill="#111"/>
<line x1="325.8" y1="154.2" x2="452" y2="154.2" stroke="#111" stroke-width="1.1"/>
<path d="M456.6 154.2 L451 152 L451 156.4 Z" fill="#111"/>
<text x="330.2" y="73.2" font-size="10.2" text-anchor="start" fill="#111" textLength="18.6" lengthAdjust="spacingAndGlyphs" transform="rotate(-90 330.2 73.2)" stroke="#111" stroke-width="0.3">CD25</text>
<text x="463.8" y="158.1" font-size="10.4" text-anchor="start" fill="#111" textLength="16.9" lengthAdjust="spacingAndGlyphs" stroke="#111" stroke-width="0.3">CD69</text>
<text x="7.9" y="186.3" font-size="11.4" text-anchor="start" fill="#000" font-weight="bold" stroke="#000" stroke-width="0.55" >B</text>
<text x="89.2" y="194.8" font-size="10" text-anchor="start" fill="#222" stroke="#222" stroke-width="0.12" >RPMI8226 target cell</text>
<text x="251.3" y="194.8" font-size="10" text-anchor="start" fill="#222" stroke="#222" stroke-width="0.12" >H929 target cell</text>
<text x="399.2" y="194.8" font-size="10" text-anchor="start" fill="#222" stroke="#222" stroke-width="0.12" >MM1S target cell</text>
<line x1="61.5" y1="302.3" x2="510.3" y2="302.3" stroke="#111" stroke-width="1.2"/>
<line x1="62" y1="200.4" x2="62" y2="302.3" stroke="#111" stroke-width="1.2"/>
<line x1="59" y1="302.3" x2="62" y2="302.3" stroke="#111" stroke-width="1.0"/>
<line x1="59" y1="282.5" x2="62" y2="282.5" stroke="#111" stroke-width="1.0"/>
<line x1="59" y1="262.7" x2="62" y2="262.7" stroke="#111" stroke-width="1.0"/>
<line x1="59" y1="242.9" x2="62" y2="242.9" stroke="#111" stroke-width="1.0"/>
<line x1="59" y1="223.1" x2="62" y2="223.1" stroke="#111" stroke-width="1.0"/>
<line x1="59" y1="203.3" x2="62" y2="203.3" stroke="#111" stroke-width="1.0"/>
<text x="55.4" y="305.4" font-size="8.6" text-anchor="end" fill="#1a1a1a" textLength="4.5" lengthAdjust="spacingAndGlyphs" stroke="#1a1a1a" stroke-width="0.12">0</text>
<text x="55.4" y="285.6" font-size="8.6" text-anchor="end" fill="#1a1a1a" textLength="9.01" lengthAdjust="spacingAndGlyphs" stroke="#1a1a1a" stroke-width="0.12">20</text>
<text x="55.4" y="265.8" font-size="8.6" text-anchor="end" fill="#1a1a1a" textLength="9.01" lengthAdjust="spacingAndGlyphs" stroke="#1a1a1a" stroke-width="0.12">40</text>
<text x="55.4" y="246" font-size="8.6" text-anchor="end" fill="#1a1a1a" textLength="9.01" lengthAdjust="spacingAndGlyphs" stroke="#1a1a1a" stroke-width="0.12">60</text>
<text x="55.4" y="226.2" font-size="8.6" text-anchor="end" fill="#1a1a1a" textLength="9.01" lengthAdjust="spacingAndGlyphs" stroke="#1a1a1a" stroke-width="0.12">80</text>
<text x="55.4" y="206.4" font-size="8.6" text-anchor="end" fill="#1a1a1a" textLength="13.51" lengthAdjust="spacingAndGlyphs" stroke="#1a1a1a" stroke-width="0.12">100</text>
<line x1="212.4" y1="200.4" x2="212.4" y2="302.3" stroke="#111" stroke-width="1.2"/>
<line x1="209.4" y1="302.3" x2="212.4" y2="302.3" stroke="#111" stroke-width="1.0"/>
<line x1="209.4" y1="282.5" x2="212.4" y2="282.5" stroke="#111" stroke-width="1.0"/>
<line x1="209.4" y1="262.7" x2="212.4" y2="262.7" stroke="#111" stroke-width="1.0"/>
<line x1="209.4" y1="242.9" x2="212.4" y2="242.9" stroke="#111" stroke-width="1.0"/>
<line x1="209.4" y1="223.1" x2="212.4" y2="223.1" stroke="#111" stroke-width="1.0"/>
<line x1="209.4" y1="203.3" x2="212.4" y2="203.3" stroke="#111" stroke-width="1.0"/>
<line x1="363" y1="200.4" x2="363" y2="302.3" stroke="#111" stroke-width="1.2"/>
<line x1="360" y1="302.3" x2="363" y2="302.3" stroke="#111" stroke-width="1.0"/>
<line x1="360" y1="282.5" x2="363" y2="282.5" stroke="#111" stroke-width="1.0"/>
<line x1="360" y1="262.7" x2="363" y2="262.7" stroke="#111" stroke-width="1.0"/>
<line x1="360" y1="242.9" x2="363" y2="242.9" stroke="#111" stroke-width="1.0"/>
<line x1="360" y1="223.1" x2="363" y2="223.1" stroke="#111" stroke-width="1.0"/>
<line x1="360" y1="203.3" x2="363" y2="203.3" stroke="#111" stroke-width="1.0"/>
<line x1="133.3" y1="203.6" x2="133.3" y2="315.5" stroke="#111" stroke-width="1.2"/>
<line x1="284.4" y1="203.6" x2="284.4" y2="315.5" stroke="#111" stroke-width="1.2"/>
<line x1="434.5" y1="203.6" x2="434.5" y2="315.5" stroke="#111" stroke-width="1.2"/>
<line x1="72.5" y1="302.3" x2="72.5" y2="305.6" stroke="#111" stroke-width="1.0"/>
<text x="72.5" y="316.1" font-size="8.6" text-anchor="middle" fill="#1a1a1a" textLength="4.5" lengthAdjust="spacingAndGlyphs" stroke="#1a1a1a" stroke-width="0.12">0</text>
<line x1="97.5" y1="302.3" x2="97.5" y2="305.6" stroke="#111" stroke-width="1.0"/>
<text x="97.5" y="316.1" font-size="8.6" text-anchor="middle" fill="#1a1a1a" textLength="11.26" lengthAdjust="spacingAndGlyphs" stroke="#1a1a1a" stroke-width="0.12">9.3</text>
<line x1="122.7" y1="302.3" x2="122.7" y2="305.6" stroke="#111" stroke-width="1.0"/>
<text x="122.7" y="316.1" font-size="8.6" text-anchor="middle" fill="#1a1a1a" textLength="15.76" lengthAdjust="spacingAndGlyphs" stroke="#1a1a1a" stroke-width="0.12">93.4</text>
<line x1="147.2" y1="302.3" x2="147.2" y2="305.6" stroke="#111" stroke-width="1.0"/>
<text x="147.2" y="316.1" font-size="8.6" text-anchor="middle" fill="#1a1a1a" textLength="4.5" lengthAdjust="spacingAndGlyphs" stroke="#1a1a1a" stroke-width="0.12">0</text>
<line x1="172.3" y1="302.3" x2="172.3" y2="305.6" stroke="#111" stroke-width="1.0"/>
<text x="172.3" y="316.1" font-size="8.6" text-anchor="middle" fill="#1a1a1a" textLength="11.26" lengthAdjust="spacingAndGlyphs" stroke="#1a1a1a" stroke-width="0.12">9.3</text>
<line x1="197.4" y1="302.3" x2="197.4" y2="305.6" stroke="#111" stroke-width="1.0"/>
<text x="197.4" y="316.1" font-size="8.6" text-anchor="middle" fill="#1a1a1a" textLength="15.76" lengthAdjust="spacingAndGlyphs" stroke="#1a1a1a" stroke-width="0.12">93.4</text>
<line x1="222.9" y1="302.3" x2="222.9" y2="305.6" stroke="#111" stroke-width="1.0"/>
<text x="222.9" y="316.1" font-size="8.6" text-anchor="middle" fill="#1a1a1a" textLength="4.5" lengthAdjust="spacingAndGlyphs" stroke="#1a1a1a" stroke-width="0.12">0</text>
<line x1="247.9" y1="302.3" x2="247.9" y2="305.6" stroke="#111" stroke-width="1.0"/>
<text x="247.9" y="316.1" font-size="8.6" text-anchor="middle" fill="#1a1a1a" textLength="11.26" lengthAdjust="spacingAndGlyphs" stroke="#1a1a1a" stroke-width="0.12">9.3</text>
<line x1="273.1" y1="302.3" x2="273.1" y2="305.6" stroke="#111" stroke-width="1.0"/>
<text x="273.1" y="316.1" font-size="8.6" text-anchor="middle" fill="#1a1a1a" textLength="15.76" lengthAdjust="spacingAndGlyphs" stroke="#1a1a1a" stroke-width="0.12">93.4</text>
<line x1="297.6" y1="302.3" x2="297.6" y2="305.6" stroke="#111" stroke-width="1.0"/>
<text x="297.6" y="316.1" font-size="8.6" text-anchor="middle" fill="#1a1a1a" textLength="4.5" lengthAdjust="spacingAndGlyphs" stroke="#1a1a1a" stroke-width="0.12">0</text>
<line x1="322.7" y1="302.3" x2="322.7" y2="305.6" stroke="#111" stroke-width="1.0"/>
<text x="322.7" y="316.1" font-size="8.6" text-anchor="middle" fill="#1a1a1a" textLength="11.26" lengthAdjust="spacingAndGlyphs" stroke="#1a1a1a" stroke-width="0.12">9.3</text>
<line x1="347.8" y1="302.3" x2="347.8" y2="305.6" stroke="#111" stroke-width="1.0"/>
<text x="347.8" y="316.1" font-size="8.6" text-anchor="middle" fill="#1a1a1a" textLength="15.76" lengthAdjust="spacingAndGlyphs" stroke="#1a1a1a" stroke-width="0.12">93.4</text>
<line x1="373.5" y1="302.3" x2="373.5" y2="305.6" stroke="#111" stroke-width="1.0"/>
<text x="373.5" y="316.1" font-size="8.6" text-anchor="middle" fill="#1a1a1a" textLength="4.5" lengthAdjust="spacingAndGlyphs" stroke="#1a1a1a" stroke-width="0.12">0</text>
<line x1="398.5" y1="302.3" x2="398.5" y2="305.6" stroke="#111" stroke-width="1.0"/>
<text x="398.5" y="316.1" font-size="8.6" text-anchor="middle" fill="#1a1a1a" textLength="11.26" lengthAdjust="spacingAndGlyphs" stroke="#1a1a1a" stroke-width="0.12">9.3</text>
<line x1="423.7" y1="302.3" x2="423.7" y2="305.6" stroke="#111" stroke-width="1.0"/>
<text x="423.7" y="316.1" font-size="8.6" text-anchor="middle" fill="#1a1a1a" textLength="15.76" lengthAdjust="spacingAndGlyphs" stroke="#1a1a1a" stroke-width="0.12">93.4</text>
<line x1="448.2" y1="302.3" x2="448.2" y2="305.6" stroke="#111" stroke-width="1.0"/>
<text x="448.2" y="316.1" font-size="8.6" text-anchor="middle" fill="#1a1a1a" textLength="4.5" lengthAdjust="spacingAndGlyphs" stroke="#1a1a1a" stroke-width="0.12">0</text>
<line x1="473.3" y1="302.3" x2="473.3" y2="305.6" stroke="#111" stroke-width="1.0"/>
<text x="473.3" y="316.1" font-size="8.6" text-anchor="middle" fill="#1a1a1a" textLength="11.26" lengthAdjust="spacingAndGlyphs" stroke="#1a1a1a" stroke-width="0.12">9.3</text>
<line x1="498.4" y1="302.3" x2="498.4" y2="305.6" stroke="#111" stroke-width="1.0"/>
<text x="498.4" y="316.1" font-size="8.6" text-anchor="middle" fill="#1a1a1a" textLength="15.76" lengthAdjust="spacingAndGlyphs" stroke="#1a1a1a" stroke-width="0.12">93.4</text>
<rect x="142.1" y="203.9" width="9.2" height="5.3" fill="#274684"/>
<rect x="142.1" y="212.6" width="9.2" height="5.4" fill="#aa0b2d"/>
<text x="154.6" y="209" font-size="8.7" text-anchor="start" fill="#1a1a1a" textLength="15.8" lengthAdjust="spacingAndGlyphs" stroke="#1a1a1a" stroke-width="0.1">CD8</text>
<text x="154.6" y="217.8" font-size="8.7" text-anchor="start" fill="#1a1a1a" textLength="15.8" lengthAdjust="spacingAndGlyphs" stroke="#1a1a1a" stroke-width="0.1">CD4</text>
<rect x="293.2" y="203.9" width="9.2" height="5.3" fill="#274684"/>
<rect x="293.2" y="212.6" width="9.2" height="5.4" fill="#aa0b2d"/>
<text x="305.7" y="209" font-size="8.7" text-anchor="start" fill="#1a1a1a" textLength="15.8" lengthAdjust="spacingAndGlyphs" stroke="#1a1a1a" stroke-width="0.1">CD8</text>
<text x="305.7" y="217.8" font-size="8.7" text-anchor="start" fill="#1a1a1a" textLength="15.8" lengthAdjust="spacingAndGlyphs" stroke="#1a1a1a" stroke-width="0.1">CD4</text>
<rect x="443.3" y="203.9" width="9.2" height="5.3" fill="#274684"/>
<rect x="443.3" y="212.6" width="9.2" height="5.4" fill="#aa0b2d"/>
<text x="455.8" y="209" font-size="8.7" text-anchor="start" fill="#1a1a1a" textLength="15.8" lengthAdjust="spacingAndGlyphs" stroke="#1a1a1a" stroke-width="0.1">CD8</text>
<text x="455.8" y="217.8" font-size="8.7" text-anchor="start" fill="#1a1a1a" textLength="15.8" lengthAdjust="spacingAndGlyphs" stroke="#1a1a1a" stroke-width="0.1">CD4</text>
<text x="58.8" y="316" font-size="8.0" text-anchor="end" fill="#222" stroke="#222" stroke-width="0.12" >AMG 701</text>
<text x="41.7" y="325.4" font-size="8.0" text-anchor="middle" fill="#222" stroke="#222" stroke-width="0.12" >(pM)</text>
<text transform="translate(97.3 330) scale(0.58 1)" x="0" y="0" font-size="10.4" text-anchor="middle" fill="#1a1a1a" textLength="48.28" lengthAdjust="spacing" stroke="#1a1a1a" stroke-width="0.35">E:T = 3:1</text>
<text transform="translate(172.3 330) scale(0.58 1)" x="0" y="0" font-size="10.4" text-anchor="middle" fill="#1a1a1a" textLength="53.79" lengthAdjust="spacing" stroke="#1a1a1a" stroke-width="0.35">E:T = 10:1</text>
<text transform="translate(247.7 330) scale(0.58 1)" x="0" y="0" font-size="10.4" text-anchor="middle" fill="#1a1a1a" textLength="48.28" lengthAdjust="spacing" stroke="#1a1a1a" stroke-width="0.35">E:T = 3:1</text>
<text transform="translate(322.7 330) scale(0.58 1)" x="0" y="0" font-size="10.4" text-anchor="middle" fill="#1a1a1a" textLength="53.79" lengthAdjust="spacing" stroke="#1a1a1a" stroke-width="0.35">E:T = 10:1</text>
<text transform="translate(398.3 330) scale(0.58 1)" x="0" y="0" font-size="10.4" text-anchor="middle" fill="#1a1a1a" textLength="48.28" lengthAdjust="spacing" stroke="#1a1a1a" stroke-width="0.35">E:T = 3:1</text>
<text transform="translate(473.3 330) scale(0.58 1)" x="0" y="0" font-size="10.4" text-anchor="middle" fill="#1a1a1a" textLength="53.79" lengthAdjust="spacing" stroke="#1a1a1a" stroke-width="0.35">E:T = 10:1</text>
<text x="24.6" y="251.3" font-size="9.3" text-anchor="middle" fill="#1a1a1a" textLength="44.2" lengthAdjust="spacingAndGlyphs" transform="rotate(-90 24.6 251.3)" stroke="#1a1a1a" stroke-width="0.15">% CTV-diluted</text>
<text x="34.9" y="251" font-size="8.9" text-anchor="middle" fill="#1a1a1a" textLength="60.8" lengthAdjust="spacingAndGlyphs" transform="rotate(-90 34.9 251)" stroke="#1a1a1a" stroke-width="0.15">(T cell proliferation)</text>
<line x1="202.1" y1="243" x2="202.1" y2="249" stroke="#333" stroke-width="0.9"/>
<line x1="352.3" y1="238" x2="352.3" y2="245" stroke="#333" stroke-width="0.9"/>
<line x1="343.2" y1="246" x2="343.2" y2="253" stroke="#333" stroke-width="0.9"/>
<line x1="468.6" y1="282" x2="468.6" y2="292" stroke="#333" stroke-width="0.9"/>
<line x1="477.9" y1="265" x2="477.9" y2="274" stroke="#333" stroke-width="0.9"/>
<line x1="503" y1="242" x2="503" y2="248" stroke="#333" stroke-width="0.9"/>
<line x1="118" y1="222" x2="118" y2="230" stroke="#333" stroke-width="0.9"/>
<rect x="65.9" y="289.3" width="4.2" height="4.2" fill="#aa0b2d"/>
<rect x="65.7" y="292.4" width="4.2" height="4.2" fill="#aa0b2d"/>
<rect x="66.2" y="292.9" width="4.2" height="4.2" fill="#aa0b2d"/>
<rect x="90.9" y="253.7" width="4.2" height="4.2" fill="#aa0b2d"/>
<rect x="91.2" y="257.1" width="4.2" height="4.2" fill="#aa0b2d"/>
<rect x="115.9" y="219.7" width="4.2" height="4.2" fill="#aa0b2d"/>
<rect x="116.5" y="224.3" width="4.2" height="4.2" fill="#aa0b2d"/>
<rect x="114.8" y="228.4" width="4.2" height="4.2" fill="#aa0b2d"/>
<rect x="140" y="292.9" width="4.2" height="4.2" fill="#aa0b2d"/>
<rect x="140.9" y="295.8" width="4.2" height="4.2" fill="#aa0b2d"/>
<rect x="165.5" y="275.9" width="4.2" height="4.2" fill="#aa0b2d"/>
<rect x="165.7" y="276.3" width="4.2" height="4.2" fill="#aa0b2d"/>
<rect x="189.8" y="261.1" width="4.2" height="4.2" fill="#aa0b2d"/>
<rect x="191.4" y="261.7" width="4.2" height="4.2" fill="#aa0b2d"/>
<rect x="190.5" y="266.5" width="4.2" height="4.2" fill="#aa0b2d"/>
<rect x="215.9" y="296.2" width="4.2" height="4.2" fill="#aa0b2d"/>
<rect x="217.3" y="296.2" width="4.2" height="4.2" fill="#aa0b2d"/>
<rect x="240.2" y="278.9" width="4.2" height="4.2" fill="#aa0b2d"/>
<rect x="242.3" y="278.9" width="4.2" height="4.2" fill="#aa0b2d"/>
<rect x="265.1" y="221.9" width="4.2" height="4.2" fill="#aa0b2d"/>
<rect x="267.4" y="224.1" width="4.2" height="4.2" fill="#aa0b2d"/>
<rect x="265.4" y="226.2" width="4.2" height="4.2" fill="#aa0b2d"/>
<rect x="290.4" y="293.9" width="4.2" height="4.2" fill="#aa0b2d"/>
<rect x="291.1" y="296.3" width="4.2" height="4.2" fill="#aa0b2d"/>
<rect x="292.1" y="296.4" width="4.2" height="4.2" fill="#aa0b2d"/>
<rect x="315.7" y="275.9" width="4.2" height="4.2" fill="#aa0b2d"/>
<rect x="316.4" y="277.2" width="4.2" height="4.2" fill="#aa0b2d"/>
<rect x="341.4" y="243.3" width="4.2" height="4.2" fill="#aa0b2d"/>
<rect x="340.1" y="245.5" width="4.2" height="4.2" fill="#aa0b2d"/>
<rect x="341.1" y="251.4" width="4.2" height="4.2" fill="#aa0b2d"/>
<rect x="366.9" y="292.9" width="4.2" height="4.2" fill="#aa0b2d"/>
<rect x="367.4" y="294.3" width="4.2" height="4.2" fill="#aa0b2d"/>
<rect x="391.5" y="261.1" width="4.2" height="4.2" fill="#aa0b2d"/>
<rect x="391.9" y="262.1" width="4.2" height="4.2" fill="#aa0b2d"/>
<rect x="416.4" y="221.4" width="4.2" height="4.2" fill="#aa0b2d"/>
<rect x="417" y="221.8" width="4.2" height="4.2" fill="#aa0b2d"/>
<rect x="441.6" y="294.5" width="4.2" height="4.2" fill="#aa0b2d"/>
<rect x="441" y="297.3" width="4.2" height="4.2" fill="#aa0b2d"/>
<rect x="442.7" y="297.3" width="4.2" height="4.2" fill="#aa0b2d"/>
<rect x="467.4" y="278.6" width="4.2" height="4.2" fill="#aa0b2d"/>
<rect x="465.5" y="280.8" width="4.2" height="4.2" fill="#aa0b2d"/>
<rect x="466.5" y="290.3" width="4.2" height="4.2" fill="#aa0b2d"/>
<rect x="491.1" y="251.8" width="4.2" height="4.2" fill="#aa0b2d"/>
<rect x="490.4" y="254.2" width="4.2" height="4.2" fill="#aa0b2d"/>
<rect x="492.9" y="254.2" width="4.2" height="4.2" fill="#aa0b2d"/>
<rect x="75.4" y="291.1" width="4.2" height="4.2" rx="1.2" fill="#274684"/>
<rect x="75.1" y="293.4" width="4.2" height="4.2" rx="1.2" fill="#274684"/>
<rect x="76.3" y="291.4" width="4.2" height="4.2" rx="1.2" fill="#274684"/>
<rect x="100.1" y="239.1" width="4.2" height="4.2" rx="1.2" fill="#274684"/>
<rect x="101.4" y="239.5" width="4.2" height="4.2" rx="1.2" fill="#274684"/>
<rect x="125.4" y="216.5" width="4.2" height="4.2" rx="1.2" fill="#274684"/>
<rect x="125" y="218.6" width="4.2" height="4.2" rx="1.2" fill="#274684"/>
<rect x="149.7" y="295.5" width="4.2" height="4.2" rx="1.2" fill="#274684"/>
<rect x="150.3" y="297.2" width="4.2" height="4.2" rx="1.2" fill="#274684"/>
<rect x="174.9" y="253.6" width="4.2" height="4.2" rx="1.2" fill="#274684"/>
<rect x="175.1" y="256.1" width="4.2" height="4.2" rx="1.2" fill="#274684"/>
<rect x="199.1" y="240.4" width="4.2" height="4.2" rx="1.2" fill="#274684"/>
<rect x="200.9" y="240.5" width="4.2" height="4.2" rx="1.2" fill="#274684"/>
<rect x="199.9" y="247.6" width="4.2" height="4.2" rx="1.2" fill="#274684"/>
<rect x="225.3" y="297.1" width="4.2" height="4.2" rx="1.2" fill="#274684"/>
<rect x="226.9" y="297.2" width="4.2" height="4.2" rx="1.2" fill="#274684"/>
<rect x="249.9" y="268.6" width="4.2" height="4.2" rx="1.2" fill="#274684"/>
<rect x="251.9" y="268.7" width="4.2" height="4.2" rx="1.2" fill="#274684"/>
<rect x="275.7" y="222.7" width="4.2" height="4.2" rx="1.2" fill="#274684"/>
<rect x="274.5" y="225.7" width="4.2" height="4.2" rx="1.2" fill="#274684"/>
<rect x="276.9" y="225.7" width="4.2" height="4.2" rx="1.2" fill="#274684"/>
<rect x="299.6" y="297.9" width="4.2" height="4.2" rx="1.2" fill="#274684"/>
<rect x="301.6" y="297.9" width="4.2" height="4.2" rx="1.2" fill="#274684"/>
<rect x="324.3" y="268.2" width="4.2" height="4.2" rx="1.2" fill="#274684"/>
<rect x="326.5" y="268.2" width="4.2" height="4.2" rx="1.2" fill="#274684"/>
<rect x="349.2" y="235.5" width="4.2" height="4.2" rx="1.2" fill="#274684"/>
<rect x="351.4" y="235.5" width="4.2" height="4.2" rx="1.2" fill="#274684"/>
<rect x="350" y="242.7" width="4.2" height="4.2" rx="1.2" fill="#274684"/>
<rect x="375.2" y="294.3" width="4.2" height="4.2" rx="1.2" fill="#274684"/>
<rect x="377.4" y="294.3" width="4.2" height="4.2" rx="1.2" fill="#274684"/>
<rect x="400.2" y="250.2" width="4.2" height="4.2" rx="1.2" fill="#274684"/>
<rect x="402.2" y="250.2" width="4.2" height="4.2" rx="1.2" fill="#274684"/>
<rect x="425.1" y="220.2" width="4.2" height="4.2" rx="1.2" fill="#274684"/>
<rect x="427.1" y="220.2" width="4.2" height="4.2" rx="1.2" fill="#274684"/>
<rect x="450.5" y="297.5" width="4.2" height="4.2" rx="1.2" fill="#274684"/>
<rect x="451.5" y="297.5" width="4.2" height="4.2" rx="1.2" fill="#274684"/>
<rect x="475.8" y="262.5" width="4.2" height="4.2" rx="1.2" fill="#274684"/>
<rect x="474.9" y="272.6" width="4.2" height="4.2" rx="1.2" fill="#274684"/>
<rect x="476.9" y="272.6" width="4.2" height="4.2" rx="1.2" fill="#274684"/>
<rect x="501.7" y="239.4" width="4.2" height="4.2" rx="1.2" fill="#274684"/>
<rect x="500" y="241.3" width="4.2" height="4.2" rx="1.2" fill="#274684"/>
<rect x="500.9" y="246.6" width="4.2" height="4.2" rx="1.2" fill="#274684"/>
<text x="97.3" y="239.8" font-size="8.0" text-anchor="middle" fill="#222" stroke="#222" stroke-width="0.12" >***</text>
<text x="171.5" y="254.5" font-size="8.0" text-anchor="middle" fill="#222" stroke="#222" stroke-width="0.12" >****</text>
<text x="197.5" y="241.9" font-size="8.0" text-anchor="middle" fill="#222" stroke="#222" stroke-width="0.12" >**</text>
<text x="247.4" y="269.8" font-size="8.0" text-anchor="middle" fill="#222" stroke="#222" stroke-width="0.12" >****</text>
<text x="322.5" y="270.1" font-size="8.0" text-anchor="middle" fill="#222" stroke="#222" stroke-width="0.12" >****</text>
<text x="398.3" y="251" font-size="8.0" text-anchor="middle" fill="#222" stroke="#222" stroke-width="0.12" >***</text>
<text x="423.1" y="222.3" font-size="8.0" text-anchor="middle" fill="#222" stroke="#222" stroke-width="0.12" >*</text>
<text x="472.7" y="264.8" font-size="8.0" text-anchor="middle" fill="#222" stroke="#222" stroke-width="0.12" >*</text>
<text x="497.2" y="242.3" font-size="8.0" text-anchor="middle" fill="#222" stroke="#222" stroke-width="0.12" >**</text>
<text x="346.9" y="233.6" font-size="8.0" text-anchor="middle" fill="#1a1a1a" textLength="24.01" lengthAdjust="spacingAndGlyphs" stroke="#1a1a1a" stroke-width="0.12">0.0591</text>
<rect x="0" y="0" width="520" height="1.1" fill="#000"/><rect x="0" y="0" width="1.1" height="338" fill="#000"/>
<rect x="518.8" y="0" width="1.2" height="338" fill="#000"/><rect x="0" y="336.8" width="520" height="1.2" fill="#000"/></g></svg></body></html>
